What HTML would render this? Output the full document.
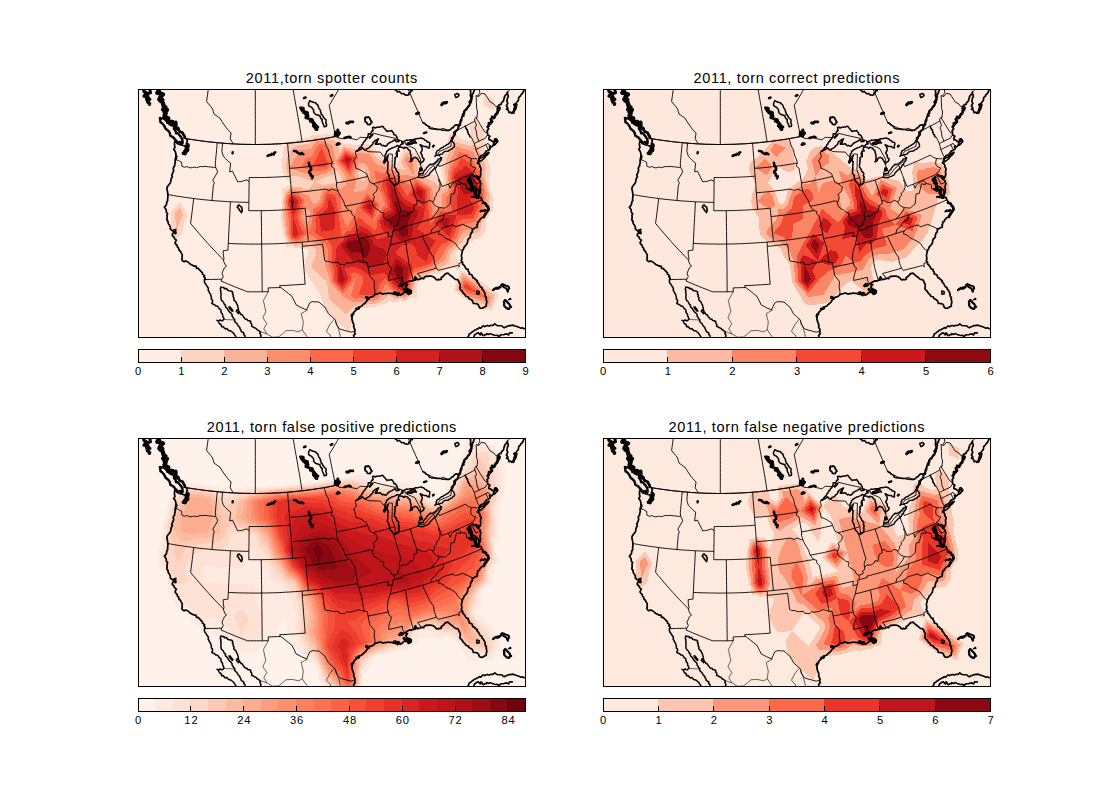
<!DOCTYPE html>
<html><head><meta charset="utf-8"><title>2011 torn</title><style>html,body{margin:0;padding:0;background:#fff}
body{width:1100px;height:800px;position:relative;overflow:hidden;font-family:"Liberation Sans",sans-serif;color:#000}
.ti{position:absolute;width:400px;text-align:center;font-size:14.5px;line-height:16px;white-space:nowrap}
.tk{position:absolute;width:40px;text-align:center;font-size:11.2px;line-height:11px}</style></head>
<body>
<svg width="1100" height="800" viewBox="0 0 1100 800" style="position:absolute;left:0;top:0">
<defs><clipPath id="axc"><rect x="602.50" y="88.90" width="387.50" height="248.40"/></clipPath>
</defs>
<g transform="translate(-465.00,0.00)">
<g clip-path="url(#axc)">
<rect x="601.50" y="87.90" width="389.50" height="250.40" fill="#ffece3"/>
<g shape-rendering="crispEdges"><path d="M936.7,303.5 L936.7,303.5 L918.8,290.4 L925.7,269.7 L946.1,281.4 L946.1,281.4 L963.5,294.2 L956.4,311.2 L936.7,303.5Z M804.6,323.6 L796.0,316.0 L796.0,316.0 L796.0,316.0 L788.9,306.3 L786.7,299.7 L784.5,293.0 L777.8,283.5 L777.8,283.5 L777.8,283.5 L777.8,283.5 L771.2,273.8 L769.2,267.2 L770.0,260.4 L774.6,249.8 L774.6,249.8 L774.6,249.8 L774.6,249.8 L774.6,249.8 L774.6,249.8 L763.0,248.0 L760.9,248.6 L756.9,246.4 L751.1,246.8 L750.7,239.6 L748.5,235.0 L748.4,232.6 L745.8,218.4 L745.8,218.4 L745.8,218.4 L746.8,203.9 L746.6,201.7 L747.5,197.9 L747.0,188.7 L756.1,184.5 L756.1,184.5 L756.1,184.5 L768.0,183.4 L768.0,183.4 L768.0,183.4 L768.0,183.4 L768.0,183.4 L768.0,183.4 L768.0,183.4 L756.1,184.5 L749.6,176.6 L747.1,168.4 L747.5,161.8 L747.3,158.5 L748.0,151.8 L749.4,146.2 L752.8,143.2 L757.0,141.1 L759.1,140.9 L763.4,139.4 L770.4,138.6 L774.1,138.1 L776.0,135.6 L784.4,134.4 L787.2,134.7 L792.5,133.8 L795.4,134.7 L801.3,136.3 L808.4,143.4 L808.4,143.4 L808.4,143.4 L808.4,143.4 L820.3,145.0 L823.6,144.7 L828.2,143.6 L831.6,143.5 L837.4,145.7 L842.0,152.2 L844.4,155.0 L847.3,156.5 L853.8,157.5 L862.0,163.8 L862.0,163.8 L862.0,163.8 L862.0,163.8 L862.0,163.8 L869.4,147.9 L885.1,155.7 L885.1,155.7 L891.1,171.7 L891.1,171.7 L891.1,171.7 L900.6,175.4 L909.3,183.1 L909.3,183.1 L909.3,183.1 L909.3,183.1 L909.3,183.1 L909.3,183.1 L909.3,183.1 L906.3,169.1 L906.9,165.5 L906.5,157.4 L910.1,151.7 L911.5,148.6 L913.5,143.9 L913.0,137.8 L915.4,133.5 L920.3,134.3 L924.7,138.6 L929.6,140.1 L932.9,141.0 L936.7,139.1 L935.8,133.0 L935.0,126.9 L937.2,122.4 L942.2,123.0 L946.9,127.0 L949.2,133.8 L949.6,145.5 L949.6,145.5 L949.6,145.5 L949.6,145.5 L952.1,158.3 L953.8,163.0 L955.7,171.9 L953.4,182.8 L953.4,182.8 L953.4,182.8 L953.4,182.8 L957.8,197.2 L957.7,200.2 L958.1,209.7 L953.2,216.7 L950.5,222.7 L950.5,231.2 L945.9,237.3 L941.3,239.1 L936.6,240.9 L932.0,242.6 L930.1,245.8 L920.0,253.1 L920.0,253.1 L920.0,253.1 L920.0,253.1 L920.0,253.1 L925.7,269.7 L914.2,267.3 L909.9,270.2 L907.2,271.9 L898.5,274.5 L895.8,275.9 L893.7,276.7 L882.0,282.6 L882.0,282.6 L882.0,282.6 L882.0,282.6 L882.1,296.6 L873.8,298.6 L870.9,301.0 L867.9,300.7 L858.4,302.7 L855.1,300.8 L852.2,303.3 L843.9,304.9 L840.7,306.5 L838.0,306.7 L828.4,308.3 L825.6,308.5 L822.7,308.9 L818.6,313.0 L818.1,320.1 L813.4,331.3 L804.6,323.6Z M636.3,234.8 L635.0,228.9 L636.4,220.6 L635.5,212.0 L645.6,202.3 L652.4,214.5 L649.1,222.5 L648.1,230.8 L645.1,236.1 L640.3,238.2 L636.3,234.8Z M791.7,180.3 L791.7,180.3 L803.5,178.3 L803.5,178.3 L803.5,178.3 L803.5,178.3 L803.5,178.3 L803.5,178.3 L791.7,180.3 L791.7,180.3 L791.7,180.3 L791.7,180.3 L791.7,180.3 L791.7,180.3Z M827.0,173.4 L827.0,173.4 L827.0,173.4 L827.0,173.4 L827.0,173.4 L827.0,173.4 L827.0,173.4 L827.0,173.4Z M948.8,105.7 L949.4,95.1 L959.2,99.3 L958.6,110.1 L948.8,105.7Z M955.0,306.9 L959.7,295.6 L948.1,287.1 L943.1,282.5 L926.8,273.1 L921.3,289.6 L935.6,300.1 L941.8,301.8 L955.0,306.9Z M811.1,314.1 L811.1,314.1 L819.1,306.0 L825.1,305.1 L830.6,304.8 L834.7,304.1 L840.2,303.7 L846.5,300.5 L848.2,300.2 L854.0,295.1 L860.4,299.1 L864.5,298.2 L870.4,298.9 L876.2,294.0 L877.9,293.6 L877.8,290.8 L880.0,283.1 L881.2,279.3 L884.3,278.0 L890.7,274.7 L895.0,273.1 L900.4,270.3 L903.3,269.4 L908.6,266.0 L913.7,262.5 L915.3,254.6 L917.0,251.2 L918.9,249.8 L922.7,245.9 L926.1,243.5 L930.0,237.1 L934.6,235.4 L939.1,233.6 L943.7,231.9 L946.0,228.8 L946.0,224.5 L951.5,212.7 L954.7,208.0 L954.4,201.7 L954.7,195.6 L952.2,187.7 L951.6,183.6 L950.7,181.5 L949.6,174.9 L950.7,169.5 L949.8,165.0 L947.4,158.4 L945.9,155.3 L943.8,148.4 L939.3,144.3 L935.5,146.2 L928.9,144.3 L919.1,141.3 L919.1,141.3 L919.1,141.3 L915.2,150.7 L912.4,157.0 L910.6,159.8 L910.8,163.9 L909.6,171.1 L910.9,177.1 L911.3,182.3 L911.6,184.5 L910.9,187.1 L907.5,189.0 L903.1,185.4 L898.8,181.9 L894.0,179.7 L885.1,173.8 L882.1,165.9 L881.3,157.1 L870.8,151.9 L865.9,162.5 L870.6,169.9 L863.7,169.1 L860.8,167.4 L856.2,165.5 L852.1,162.4 L848.8,161.9 L843.0,158.9 L838.2,153.3 L835.9,150.0 L833.0,148.9 L828.3,149.0 L826.4,148.7 L821.2,149.0 L813.3,148.0 L808.9,145.7 L804.5,152.7 L802.9,144.5 L799.4,141.0 L796.4,140.1 L790.6,138.4 L790.6,138.4 L784.9,137.7 L778.6,138.6 L774.8,143.6 L767.5,144.5 L763.9,144.9 L760.9,146.0 L753.5,151.4 L753.5,151.4 L751.2,163.4 L751.0,168.2 L752.2,172.2 L755.4,176.2 L761.4,175.7 L767.4,177.9 L770.4,178.9 L779.8,182.0 L779.8,182.0 L788.8,177.4 L791.2,177.0 L794.3,175.1 L799.3,174.2 L802.0,170.1 L807.4,177.6 L807.2,181.9 L804.5,183.8 L801.2,183.0 L795.3,184.0 L792.2,183.6 L789.0,185.5 L779.8,182.0 L781.9,198.5 L781.9,198.5 L781.9,198.5 L781.9,198.5 L781.9,198.5 L781.9,198.5 L781.9,198.5 L779.8,182.0 L773.5,189.4 L768.5,188.9 L765.9,186.9 L758.7,187.5 L756.3,186.8 L751.7,191.4 L749.9,192.2 L750.0,194.1 L748.1,201.6 L748.6,206.0 L748.0,215.2 L748.4,218.2 L748.6,221.6 L750.1,230.1 L750.4,234.8 L754.0,242.6 L760.7,246.2 L765.1,245.0 L770.8,245.9 L774.0,244.3 L776.9,246.2 L781.3,249.1 L780.7,256.0 L776.2,266.6 L776.2,266.6 L784.0,274.3 L792.1,282.0 L792.1,282.0 L792.1,282.0 L792.1,282.0 L794.1,298.9 L802.5,306.5 L811.1,314.1Z M902.8,203.9 L902.8,203.9 L902.8,203.9 L902.8,203.9 L902.8,203.9 L902.8,203.9 L902.8,203.9 L902.8,203.9Z M641.5,229.9 L648.2,213.9 L644.8,207.8 L639.7,212.6 L641.5,229.9Z M771.3,216.5 L771.3,216.5 L771.3,216.5 L771.3,216.5 L771.3,216.5 L771.3,216.5 L771.3,216.5 L771.3,216.5 L771.3,216.5Z M824.7,178.9 L823.1,174.3 L825.8,168.0 L829.0,168.7 L831.0,172.5 L831.0,176.8 L829.0,181.6 L824.7,178.9Z" fill="#fdd4c2" fill-rule="evenodd"/>
<path d="M941.8,301.8 L935.6,300.1 L921.3,289.6 L926.8,273.1 L943.1,282.5 L948.1,287.1 L959.7,295.6 L955.0,306.9 L941.8,301.8Z M802.5,306.5 L794.1,298.9 L792.1,282.0 L792.1,282.0 L792.1,282.0 L792.1,282.0 L784.0,274.3 L776.2,266.6 L776.2,266.6 L780.7,256.0 L781.3,249.1 L776.9,246.2 L774.0,244.3 L770.8,245.9 L765.1,245.0 L760.7,246.2 L754.0,242.6 L750.4,234.8 L750.1,230.1 L748.6,221.6 L748.4,218.2 L748.0,215.2 L748.6,206.0 L748.1,201.6 L750.0,194.1 L749.9,192.2 L751.7,191.4 L756.3,186.8 L758.7,187.5 L765.9,186.9 L768.5,188.9 L773.5,189.4 L779.8,182.0 L781.9,198.5 L781.9,198.5 L781.9,198.5 L781.9,198.5 L781.9,198.5 L781.9,198.5 L781.9,198.5 L779.8,182.0 L789.0,185.5 L792.2,183.6 L795.3,184.0 L801.2,183.0 L804.5,183.8 L807.2,181.9 L807.4,177.6 L802.0,170.1 L799.3,174.2 L794.3,175.1 L791.2,177.0 L788.8,177.4 L779.8,182.0 L779.8,182.0 L770.4,178.9 L767.4,177.9 L761.4,175.7 L755.4,176.2 L752.2,172.2 L751.0,168.2 L751.2,163.4 L753.5,151.4 L753.5,151.4 L760.9,146.0 L763.9,144.9 L767.5,144.5 L774.8,143.6 L778.6,138.6 L784.9,137.7 L790.6,138.4 L790.6,138.4 L796.4,140.1 L799.4,141.0 L802.9,144.5 L804.5,152.7 L808.9,145.7 L813.3,148.0 L821.2,149.0 L826.4,148.7 L828.3,149.0 L833.0,148.9 L835.9,150.0 L838.2,153.3 L843.0,158.9 L848.8,161.9 L852.1,162.4 L856.2,165.5 L860.8,167.4 L863.7,169.1 L870.6,169.9 L865.9,162.5 L870.8,151.9 L881.3,157.1 L882.1,165.9 L885.1,173.8 L894.0,179.7 L898.8,181.9 L903.1,185.4 L907.5,189.0 L910.9,187.1 L911.6,184.5 L911.3,182.3 L910.9,177.1 L909.6,171.1 L910.8,163.9 L910.6,159.8 L912.4,157.0 L915.2,150.7 L919.1,141.3 L919.1,141.3 L919.1,141.3 L928.9,144.3 L935.5,146.2 L939.3,144.3 L943.8,148.4 L945.9,155.3 L947.4,158.4 L949.8,165.0 L950.7,169.5 L949.6,174.9 L950.7,181.5 L951.6,183.6 L952.2,187.7 L954.7,195.6 L954.4,201.7 L954.7,208.0 L951.5,212.7 L946.0,224.5 L946.0,228.8 L943.7,231.9 L939.1,233.6 L934.6,235.4 L930.0,237.1 L926.1,243.5 L922.7,245.9 L918.9,249.8 L917.0,251.2 L915.3,254.6 L913.7,262.5 L908.6,266.0 L903.3,269.4 L900.4,270.3 L895.0,273.1 L890.7,274.7 L884.3,278.0 L881.2,279.3 L880.0,283.1 L877.8,290.8 L877.9,293.6 L876.2,294.0 L870.4,298.9 L864.5,298.2 L860.4,299.1 L854.0,295.1 L848.2,300.2 L846.5,300.5 L840.2,303.7 L834.7,304.1 L830.6,304.8 L825.1,305.1 L819.1,306.0 L811.1,314.1 L811.1,314.1 L802.5,306.5Z M902.8,203.9 L902.8,203.9 L902.8,203.9 L902.8,203.9 L902.8,203.9 L902.8,203.9 L902.8,203.9 L902.8,203.9Z M639.7,212.6 L644.8,207.8 L648.2,213.9 L641.5,229.9 L639.7,212.6Z M771.3,216.5 L771.3,216.5 L771.3,216.5 L771.3,216.5 L771.3,216.5 L771.3,216.5 L771.3,216.5 L771.3,216.5 L771.3,216.5Z M829.0,181.6 L831.0,176.8 L831.0,172.5 L829.0,168.7 L825.8,168.0 L823.1,174.3 L824.7,178.9 L829.0,181.6Z M953.5,302.6 L955.8,297.0 L950.0,292.7 L940.1,283.5 L927.9,276.4 L923.8,288.9 L934.5,296.7 L946.9,300.1 L953.5,302.6Z M824.6,301.7 L831.3,301.3 L832.7,301.3 L839.7,300.8 L845.3,298.0 L852.8,289.4 L852.8,289.4 L852.8,289.4 L852.8,289.4 L862.2,295.8 L869.9,296.8 L875.6,292.0 L877.9,283.6 L880.3,275.9 L886.5,273.4 L887.8,272.8 L894.2,270.3 L900.0,267.3 L902.9,264.7 L907.3,261.9 L909.9,260.1 L910.6,256.1 L914.0,249.4 L917.8,246.5 L922.7,241.5 L928.0,231.7 L928.0,231.7 L941.5,226.4 L941.5,226.4 L941.5,226.4 L949.7,208.7 L951.3,206.3 L951.2,203.2 L951.6,194.1 L951.1,192.5 L949.8,184.5 L948.1,180.1 L945.8,167.0 L945.8,167.0 L945.8,167.0 L938.1,151.4 L938.1,151.4 L928.1,148.5 L921.6,146.5 L918.9,152.8 L914.7,162.2 L914.7,162.2 L914.7,162.2 L912.7,173.0 L913.4,181.4 L914.0,185.8 L912.4,191.1 L907.2,194.1 L907.1,202.3 L907.6,206.8 L903.8,206.6 L900.4,210.8 L899.6,205.0 L897.0,187.8 L897.0,187.8 L879.1,176.0 L879.1,176.0 L879.1,176.0 L865.4,174.5 L859.6,170.9 L850.4,167.3 L850.4,167.3 L850.4,167.3 L850.4,167.3 L841.1,164.1 L834.5,154.3 L830.9,163.9 L834.9,171.5 L834.9,180.1 L834.9,180.1 L830.9,189.8 L847.2,203.2 L847.2,203.2 L847.2,203.2 L847.2,203.2 L847.2,203.2 L847.2,203.2 L847.2,203.2 L830.9,189.8 L830.9,189.8 L818.7,192.4 L818.7,192.4 L818.7,192.4 L811.0,185.4 L805.5,189.3 L799.0,187.6 L799.0,187.6 L792.7,186.9 L787.5,190.0 L785.0,198.1 L784.2,200.8 L782.5,202.7 L778.5,204.5 L775.8,199.2 L772.6,194.8 L769.1,194.4 L763.8,190.4 L761.4,190.6 L756.4,189.2 L751.5,194.1 L749.6,201.5 L750.4,208.1 L750.1,212.1 L750.9,218.1 L751.3,224.7 L751.9,227.6 L752.3,234.7 L755.2,240.9 L760.5,243.8 L767.1,242.1 L767.1,242.1 L773.5,238.7 L779.3,242.6 L788.1,248.4 L788.1,248.4 L788.1,248.4 L788.1,248.4 L788.1,248.4 L790.1,265.1 L790.1,265.1 L794.5,278.2 L794.5,281.7 L808.8,297.1 L808.8,297.1 L808.8,297.1 L818.6,302.6 L824.6,301.7Z M769.3,219.7 L768.1,216.8 L768.9,213.9 L770.5,208.2 L774.9,210.5 L774.5,216.1 L774.2,219.5 L772.1,224.8 L769.3,219.7Z M809.4,211.3 L809.4,211.3 L809.4,211.3 L809.4,211.3 L809.4,211.3 L809.4,211.3 L809.4,211.3 L809.4,211.3Z M818.7,192.4 L821.4,181.6 L819.2,175.2 L824.5,162.6 L830.9,163.9 L834.5,154.3 L824.8,152.9 L822.2,153.1 L818.3,152.6 L809.4,148.1 L800.5,162.0 L800.5,162.0 L811.4,176.8 L811.0,185.4 L818.7,192.4Z M879.1,176.0 L877.4,158.5 L872.2,155.9 L869.7,161.2 L879.1,176.0Z M766.8,172.4 L772.8,174.5 L779.1,176.5 L783.0,176.0 L786.0,174.4 L790.7,173.8 L795.7,170.6 L800.5,162.0 L800.5,162.0 L797.5,145.6 L789.2,141.4 L785.5,140.9 L781.2,141.6 L775.5,149.1 L775.5,149.1 L764.5,150.4 L764.5,150.4 L754.8,167.9 L766.8,172.4Z" fill="#fcb296" fill-rule="evenodd"/>
<path d="M946.9,300.1 L934.5,296.7 L923.8,288.9 L927.9,276.4 L940.1,283.5 L950.0,292.7 L955.8,297.0 L953.5,302.6 L946.9,300.1Z M818.6,302.6 L808.8,297.1 L808.8,297.1 L808.8,297.1 L794.5,281.7 L794.5,278.2 L790.1,265.1 L790.1,265.1 L788.1,248.4 L788.1,248.4 L788.1,248.4 L788.1,248.4 L788.1,248.4 L779.3,242.6 L773.5,238.7 L767.1,242.1 L767.1,242.1 L760.5,243.8 L755.2,240.9 L752.3,234.7 L751.9,227.6 L751.3,224.7 L750.9,218.1 L750.1,212.1 L750.4,208.1 L749.6,201.5 L751.5,194.1 L756.4,189.2 L761.4,190.6 L763.8,190.4 L769.1,194.4 L772.6,194.8 L775.8,199.2 L778.5,204.5 L782.5,202.7 L784.2,200.8 L785.0,198.1 L787.5,190.0 L792.7,186.9 L799.0,187.6 L799.0,187.6 L805.5,189.3 L811.0,185.4 L818.7,192.4 L818.7,192.4 L818.7,192.4 L830.9,189.8 L830.9,189.8 L847.2,203.2 L847.2,203.2 L847.2,203.2 L847.2,203.2 L847.2,203.2 L847.2,203.2 L847.2,203.2 L830.9,189.8 L834.9,180.1 L834.9,180.1 L834.9,171.5 L830.9,163.9 L834.5,154.3 L841.1,164.1 L850.4,167.3 L850.4,167.3 L850.4,167.3 L850.4,167.3 L859.6,170.9 L865.4,174.5 L879.1,176.0 L879.1,176.0 L879.1,176.0 L897.0,187.8 L897.0,187.8 L899.6,205.0 L900.4,210.8 L903.8,206.6 L907.6,206.8 L907.1,202.3 L907.2,194.1 L912.4,191.1 L914.0,185.8 L913.4,181.4 L912.7,173.0 L914.7,162.2 L914.7,162.2 L914.7,162.2 L918.9,152.8 L921.6,146.5 L928.1,148.5 L938.1,151.4 L938.1,151.4 L945.8,167.0 L945.8,167.0 L945.8,167.0 L948.1,180.1 L949.8,184.5 L951.1,192.5 L951.6,194.1 L951.2,203.2 L951.3,206.3 L949.7,208.7 L941.5,226.4 L941.5,226.4 L941.5,226.4 L928.0,231.7 L928.0,231.7 L922.7,241.5 L917.8,246.5 L914.0,249.4 L910.6,256.1 L909.9,260.1 L907.3,261.9 L902.9,264.7 L900.0,267.3 L894.2,270.3 L887.8,272.8 L886.5,273.4 L880.3,275.9 L877.9,283.6 L875.6,292.0 L869.9,296.8 L862.2,295.8 L852.8,289.4 L852.8,289.4 L852.8,289.4 L852.8,289.4 L845.3,298.0 L839.7,300.8 L832.7,301.3 L831.3,301.3 L824.6,301.7 L818.6,302.6Z M772.1,224.8 L774.2,219.5 L774.5,216.1 L774.9,210.5 L770.5,208.2 L768.9,213.9 L768.1,216.8 L769.3,219.7 L772.1,224.8Z M809.4,211.3 L809.4,211.3 L809.4,211.3 L809.4,211.3 L809.4,211.3 L809.4,211.3 L809.4,211.3 L809.4,211.3Z M811.0,185.4 L811.4,176.8 L800.5,162.0 L800.5,162.0 L809.4,148.1 L818.3,152.6 L822.2,153.1 L824.8,152.9 L834.5,154.3 L830.9,163.9 L824.5,162.6 L819.2,175.2 L821.4,181.6 L818.7,192.4 L811.0,185.4Z M869.7,161.2 L872.2,155.9 L877.4,158.5 L879.1,176.0 L869.7,161.2Z M754.8,167.9 L764.5,150.4 L764.5,150.4 L775.5,149.1 L775.5,149.1 L781.2,141.6 L785.5,140.9 L789.2,141.4 L797.5,145.6 L800.5,162.0 L800.5,162.0 L795.7,170.6 L790.7,173.8 L786.0,174.4 L783.0,176.0 L779.1,176.5 L772.8,174.5 L766.8,172.4 L754.8,167.9Z M933.4,293.3 L952.0,298.3 L937.2,284.5 L929.0,279.8 L926.2,288.1 L933.4,293.3Z M824.0,298.3 L827.4,298.1 L834.5,298.3 L839.2,298.0 L842.9,296.1 L847.9,290.4 L848.8,286.3 L851.6,283.8 L855.7,288.8 L863.3,293.9 L869.4,294.7 L873.9,290.8 L875.8,284.1 L879.4,272.5 L884.5,270.5 L888.3,269.4 L893.4,267.5 L897.3,265.5 L906.0,257.7 L906.0,257.7 L906.0,257.7 L906.0,257.7 L911.0,247.6 L916.6,243.2 L919.9,239.9 L923.4,233.3 L925.9,226.2 L934.9,222.7 L939.9,222.3 L948.0,204.6 L948.0,204.6 L948.0,204.6 L949.2,192.9 L948.0,185.3 L945.4,178.8 L944.4,173.2 L942.7,168.5 L939.2,163.7 L936.7,158.5 L932.3,154.2 L927.3,152.7 L924.0,151.8 L922.7,154.9 L920.6,159.6 L918.5,164.3 L916.4,166.2 L914.9,174.2 L915.4,180.6 L916.3,187.2 L914.0,195.1 L911.4,196.6 L911.3,200.8 L912.3,209.6 L904.8,209.3 L897.9,217.8 L896.4,206.1 L894.7,194.6 L894.5,188.6 L880.2,179.2 L875.7,186.0 L867.1,179.9 L867.1,179.9 L867.1,179.9 L858.4,174.4 L851.6,171.4 L848.0,173.8 L838.8,170.5 L843.0,186.8 L843.0,186.8 L843.0,186.8 L848.8,199.2 L849.7,202.5 L850.0,205.3 L848.0,206.4 L838.3,222.7 L838.3,222.7 L838.3,222.7 L838.3,222.7 L838.3,222.7 L822.0,208.9 L812.3,227.8 L812.3,227.8 L812.3,227.8 L812.3,227.8 L812.3,227.8 L812.3,227.8 L806.9,215.9 L806.2,211.8 L805.5,207.7 L806.5,194.8 L806.5,194.8 L797.4,190.6 L793.2,190.2 L789.7,192.3 L788.1,197.7 L786.4,203.1 L783.0,206.8 L778.2,209.0 L777.7,215.8 L777.1,222.6 L773.0,233.1 L773.0,233.1 L781.6,238.9 L787.4,242.8 L790.6,244.3 L792.6,247.8 L792.6,252.6 L793.5,259.8 L793.6,264.7 L796.9,274.5 L796.9,281.4 L808.3,293.7 L820.7,278.0 L820.7,278.0 L820.7,278.0 L820.7,278.0 L820.7,278.0 L820.7,278.0 L820.7,278.0 L816.1,296.0 L821.0,298.7 L824.0,298.3Z M760.3,241.4 L765.3,240.1 L773.0,233.1 L773.0,233.1 L767.2,223.0 L764.9,217.1 L766.6,211.3 L769.6,199.9 L769.6,199.9 L762.2,193.2 L756.6,191.5 L752.7,195.5 L751.2,201.4 L752.0,209.2 L752.5,210.6 L753.5,217.9 L753.9,224.6 L753.7,227.5 L754.2,234.6 L756.3,239.3 L760.3,241.4Z M838.3,222.7 L844.7,203.8 L831.6,193.1 L822.0,208.9 L838.3,222.7Z M778.4,171.0 L782.3,170.5 L785.5,171.1 L790.1,170.5 L793.5,168.3 L796.7,162.6 L793.5,154.7 L792.0,146.5 L787.9,144.4 L786.0,144.2 L783.9,144.5 L781.0,148.3 L776.6,157.3 L771.1,158.0 L766.3,166.9 L775.3,170.0 L778.4,171.0Z M815.3,176.1 L823.2,157.2 L809.9,150.4 L802.8,161.5 L815.3,176.1Z" fill="#fc8e6e" fill-rule="evenodd"/>
<path d="M926.2,288.1 L929.0,279.8 L937.2,284.5 L952.0,298.3 L933.4,293.3 L926.2,288.1Z M821.0,298.7 L816.1,296.0 L820.7,278.0 L820.7,278.0 L820.7,278.0 L820.7,278.0 L820.7,278.0 L820.7,278.0 L820.7,278.0 L808.3,293.7 L796.9,281.4 L796.9,274.5 L793.6,264.7 L793.5,259.8 L792.6,252.6 L792.6,247.8 L790.6,244.3 L787.4,242.8 L781.6,238.9 L773.0,233.1 L773.0,233.1 L777.1,222.6 L777.7,215.8 L778.2,209.0 L783.0,206.8 L786.4,203.1 L788.1,197.7 L789.7,192.3 L793.2,190.2 L797.4,190.6 L806.5,194.8 L806.5,194.8 L805.5,207.7 L806.2,211.8 L806.9,215.9 L812.3,227.8 L812.3,227.8 L812.3,227.8 L812.3,227.8 L812.3,227.8 L812.3,227.8 L822.0,208.9 L838.3,222.7 L838.3,222.7 L838.3,222.7 L838.3,222.7 L838.3,222.7 L848.0,206.4 L850.0,205.3 L849.7,202.5 L848.8,199.2 L843.0,186.8 L843.0,186.8 L843.0,186.8 L838.8,170.5 L848.0,173.8 L851.6,171.4 L858.4,174.4 L867.1,179.9 L867.1,179.9 L867.1,179.9 L875.7,186.0 L880.2,179.2 L894.5,188.6 L894.7,194.6 L896.4,206.1 L897.9,217.8 L904.8,209.3 L912.3,209.6 L911.3,200.8 L911.4,196.6 L914.0,195.1 L916.3,187.2 L915.4,180.6 L914.9,174.2 L916.4,166.2 L918.5,164.3 L920.6,159.6 L922.7,154.9 L924.0,151.8 L927.3,152.7 L932.3,154.2 L936.7,158.5 L939.2,163.7 L942.7,168.5 L944.4,173.2 L945.4,178.8 L948.0,185.3 L949.2,192.9 L948.0,204.6 L948.0,204.6 L948.0,204.6 L939.9,222.3 L934.9,222.7 L925.9,226.2 L923.4,233.3 L919.9,239.9 L916.6,243.2 L911.0,247.6 L906.0,257.7 L906.0,257.7 L906.0,257.7 L906.0,257.7 L897.3,265.5 L893.4,267.5 L888.3,269.4 L884.5,270.5 L879.4,272.5 L875.8,284.1 L873.9,290.8 L869.4,294.7 L863.3,293.9 L855.7,288.8 L851.6,283.8 L848.8,286.3 L847.9,290.4 L842.9,296.1 L839.2,298.0 L834.5,298.3 L827.4,298.1 L824.0,298.3 L821.0,298.7Z M756.3,239.3 L754.2,234.6 L753.7,227.5 L753.9,224.6 L753.5,217.9 L752.5,210.6 L752.0,209.2 L751.2,201.4 L752.7,195.5 L756.6,191.5 L762.2,193.2 L769.6,199.9 L769.6,199.9 L766.6,211.3 L764.9,217.1 L767.2,223.0 L773.0,233.1 L773.0,233.1 L765.3,240.1 L760.3,241.4 L756.3,239.3Z M822.0,208.9 L831.6,193.1 L844.7,203.8 L838.3,222.7 L822.0,208.9Z M775.3,170.0 L766.3,166.9 L771.1,158.0 L776.6,157.3 L781.0,148.3 L783.9,144.5 L786.0,144.2 L787.9,144.4 L792.0,146.5 L793.5,154.7 L796.7,162.6 L793.5,168.3 L790.1,170.5 L785.5,171.1 L782.3,170.5 L778.4,171.0 L775.3,170.0Z M802.8,161.5 L809.9,150.4 L823.2,157.2 L815.3,176.1 L802.8,161.5Z M932.3,289.9 L941.6,292.4 L934.2,285.5 L930.1,283.2 L928.7,287.3 L932.3,289.9Z M838.7,295.2 L840.5,294.2 L843.0,291.4 L844.8,283.2 L850.4,278.2 L858.7,288.1 L864.3,292.0 L868.9,292.6 L872.3,289.7 L873.7,284.7 L878.5,269.2 L881.1,268.2 L890.1,265.7 L892.6,264.7 L894.6,263.7 L898.9,259.8 L900.5,254.2 L903.3,249.4 L906.2,244.5 L912.0,242.6 L915.5,239.9 L917.1,238.2 L918.9,234.9 L923.9,220.8 L928.4,219.0 L938.2,218.3 L943.6,206.5 L941.4,201.1 L946.2,200.6 L947.1,191.8 L946.2,186.1 L943.2,178.6 L942.3,177.2 L939.7,169.9 L935.5,164.2 L926.4,157.0 L926.4,157.0 L922.2,166.4 L918.1,170.1 L917.1,175.5 L917.4,179.8 L918.7,188.6 L918.7,188.6 L915.6,199.2 L915.6,199.2 L917.1,212.5 L905.7,212.1 L895.4,224.7 L895.4,224.7 L895.4,224.7 L895.4,224.7 L895.4,224.7 L895.4,224.7 L895.4,224.7 L893.2,207.2 L892.4,201.5 L892.0,189.5 L881.3,182.4 L872.2,196.1 L872.2,196.1 L872.2,196.1 L872.2,196.1 L872.2,196.1 L865.3,184.9 L863.1,181.1 L857.3,177.4 L852.8,175.4 L848.5,178.3 L847.0,185.7 L848.5,191.2 L850.4,195.3 L852.2,201.8 L852.9,207.5 L848.8,209.7 L841.6,221.9 L842.6,226.0 L840.2,230.9 L836.4,226.5 L831.8,224.0 L823.7,217.1 L818.8,226.6 L815.5,230.7 L812.8,231.1 L806.9,237.2 L805.7,228.9 L804.4,220.6 L804.4,220.6 L803.0,212.3 L801.7,204.1 L801.7,204.1 L800.3,195.8 L795.8,193.7 L793.7,193.5 L792.0,194.5 L791.1,197.2 L788.7,205.4 L783.5,210.9 L781.1,212.0 L780.8,215.4 L780.4,221.1 L781.1,226.6 L779.5,232.4 L783.8,235.3 L786.8,237.3 L793.1,240.2 L797.1,247.2 L797.1,254.0 L796.9,256.7 L797.1,264.2 L799.3,270.8 L799.3,281.1 L807.8,290.3 L817.1,278.5 L815.2,273.1 L819.8,272.4 L823.2,273.7 L827.9,276.7 L827.6,283.7 L823.5,294.9 L823.5,294.9 L836.3,295.3 L838.7,295.2Z M873.3,249.2 L873.3,249.2 L873.3,249.2 L873.3,249.2 L873.3,249.2 L873.3,249.2 L873.3,249.2 L873.3,249.2Z M760.2,239.0 L763.5,238.2 L768.6,233.5 L765.0,226.4 L764.2,223.8 L761.8,217.3 L764.2,208.8 L764.2,208.8 L766.6,200.2 L760.9,195.1 L756.8,193.9 L753.8,196.9 L752.7,201.3 L753.4,207.1 L755.5,214.1 L756.0,217.8 L756.2,221.1 L755.8,229.7 L756.1,234.5 L757.5,237.6 L760.2,239.0Z M837.4,218.5 L842.2,204.4 L832.4,196.3 L825.2,208.2 L837.4,218.5Z M789.6,167.2 L791.3,166.1 L792.9,163.2 L786.5,147.5 L777.7,165.5 L787.3,167.5 L789.6,167.2Z M814.4,172.0 L820.4,157.8 L810.4,152.7 L805.1,161.1 L814.4,172.0Z" fill="#fb694a" fill-rule="evenodd"/>
<path d="M928.7,287.3 L930.1,283.2 L934.2,285.5 L941.6,292.4 L932.3,289.9 L928.7,287.3Z M836.3,295.3 L823.5,294.9 L823.5,294.9 L827.6,283.7 L827.9,276.7 L823.2,273.7 L819.8,272.4 L815.2,273.1 L817.1,278.5 L807.8,290.3 L799.3,281.1 L799.3,270.8 L797.1,264.2 L796.9,256.7 L797.1,254.0 L797.1,247.2 L793.1,240.2 L786.8,237.3 L783.8,235.3 L779.5,232.4 L781.1,226.6 L780.4,221.1 L780.8,215.4 L781.1,212.0 L783.5,210.9 L788.7,205.4 L791.1,197.2 L792.0,194.5 L793.7,193.5 L795.8,193.7 L800.3,195.8 L801.7,204.1 L801.7,204.1 L803.0,212.3 L804.4,220.6 L804.4,220.6 L805.7,228.9 L806.9,237.2 L812.8,231.1 L815.5,230.7 L818.8,226.6 L823.7,217.1 L831.8,224.0 L836.4,226.5 L840.2,230.9 L842.6,226.0 L841.6,221.9 L848.8,209.7 L852.9,207.5 L852.2,201.8 L850.4,195.3 L848.5,191.2 L847.0,185.7 L848.5,178.3 L852.8,175.4 L857.3,177.4 L863.1,181.1 L865.3,184.9 L872.2,196.1 L872.2,196.1 L872.2,196.1 L872.2,196.1 L872.2,196.1 L881.3,182.4 L892.0,189.5 L892.4,201.5 L893.2,207.2 L895.4,224.7 L895.4,224.7 L895.4,224.7 L895.4,224.7 L895.4,224.7 L895.4,224.7 L895.4,224.7 L905.7,212.1 L917.1,212.5 L915.6,199.2 L915.6,199.2 L918.7,188.6 L918.7,188.6 L917.4,179.8 L917.1,175.5 L918.1,170.1 L922.2,166.4 L926.4,157.0 L926.4,157.0 L935.5,164.2 L939.7,169.9 L942.3,177.2 L943.2,178.6 L946.2,186.1 L947.1,191.8 L946.2,200.6 L941.4,201.1 L943.6,206.5 L938.2,218.3 L928.4,219.0 L923.9,220.8 L918.9,234.9 L917.1,238.2 L915.5,239.9 L912.0,242.6 L906.2,244.5 L903.3,249.4 L900.5,254.2 L898.9,259.8 L894.6,263.7 L892.6,264.7 L890.1,265.7 L881.1,268.2 L878.5,269.2 L873.7,284.7 L872.3,289.7 L868.9,292.6 L864.3,292.0 L858.7,288.1 L850.4,278.2 L844.8,283.2 L843.0,291.4 L840.5,294.2 L838.7,295.2 L836.3,295.3Z M873.3,249.2 L873.3,249.2 L873.3,249.2 L873.3,249.2 L873.3,249.2 L873.3,249.2 L873.3,249.2 L873.3,249.2Z M757.5,237.6 L756.1,234.5 L755.8,229.7 L756.2,221.1 L756.0,217.8 L755.5,214.1 L753.4,207.1 L752.7,201.3 L753.8,196.9 L756.8,193.9 L760.9,195.1 L766.6,200.2 L764.2,208.8 L764.2,208.8 L761.8,217.3 L764.2,223.8 L765.0,226.4 L768.6,233.5 L763.5,238.2 L760.2,239.0 L757.5,237.6Z M825.2,208.2 L832.4,196.3 L842.2,204.4 L837.4,218.5 L825.2,208.2Z M787.3,167.5 L777.7,165.5 L786.5,147.5 L792.9,163.2 L791.3,166.1 L789.6,167.2 L787.3,167.5Z M805.1,161.1 L810.4,152.7 L820.4,157.8 L814.4,172.0 L805.1,161.1Z M868.4,290.4 L870.7,288.5 L871.6,285.2 L877.7,265.8 L877.7,265.8 L859.5,252.7 L849.2,272.6 L849.2,272.6 L861.6,287.5 L865.4,290.0 L868.4,290.4Z M807.4,286.9 L813.6,279.0 L809.6,268.2 L818.9,266.8 L825.7,269.4 L835.0,275.4 L835.0,275.4 L835.0,275.4 L849.2,272.6 L849.2,272.6 L859.5,252.7 L859.5,252.7 L855.4,236.1 L842.0,239.2 L842.0,239.2 L842.0,239.2 L842.0,239.2 L834.4,230.4 L825.3,225.4 L818.8,233.5 L813.4,234.5 L801.6,246.6 L801.6,246.6 L801.6,246.6 L800.4,260.0 L800.5,263.8 L801.6,267.0 L801.6,280.7 L807.4,286.9Z M891.8,261.9 L894.5,250.3 L900.7,241.1 L891.3,235.0 L882.1,228.8 L882.1,228.8 L882.1,228.8 L882.1,228.8 L882.1,228.8 L882.1,228.8 L888.0,219.8 L890.0,208.3 L890.0,208.3 L873.9,201.6 L870.7,200.1 L868.0,197.3 L863.4,189.9 L859.1,182.3 L856.2,180.5 L853.9,179.5 L851.8,180.9 L851.1,184.6 L852.5,190.1 L852.9,194.6 L854.7,201.1 L855.7,209.7 L849.7,213.0 L844.8,221.1 L846.8,229.4 L855.4,236.1 L855.4,236.1 L855.4,236.1 L855.4,236.1 L859.5,252.7 L867.2,244.8 L872.1,245.0 L875.9,243.3 L880.1,247.2 L882.4,255.6 L891.8,261.9Z M914.4,236.6 L921.8,215.4 L906.7,214.8 L899.8,223.2 L914.4,236.6Z M936.6,214.2 L939.3,208.3 L934.8,197.6 L944.4,196.6 L945.0,190.8 L944.4,187.0 L942.4,182.0 L938.0,175.0 L936.7,171.3 L934.6,168.5 L930.1,164.9 L927.3,169.2 L923.2,171.0 L919.8,174.1 L919.3,176.8 L919.5,178.9 L920.1,183.3 L923.5,191.3 L921.9,196.6 L921.8,215.4 L921.8,215.4 L936.6,214.2Z M760.0,236.7 L761.6,236.2 L764.2,233.9 L762.4,230.3 L758.6,217.6 L757.8,232.0 L757.9,234.4 L758.7,235.9 L760.0,236.7Z M799.2,229.9 L799.2,229.9 L800.5,217.0 L799.9,212.8 L799.2,208.7 L794.2,196.8 L792.4,209.1 L784.0,215.1 L784.0,215.1 L786.1,231.7 L799.2,229.9Z M836.5,214.4 L839.7,205.0 L833.1,199.6 L828.3,207.5 L836.5,214.4Z M890.0,208.3 L889.6,190.4 L882.4,185.7 L876.3,194.8 L890.0,208.3Z M758.6,217.6 L761.9,206.2 L763.5,200.5 L759.7,197.1 L757.0,196.3 L755.0,198.3 L754.3,201.2 L754.7,205.1 L758.6,217.6Z M813.6,167.9 L817.5,158.4 L810.9,155.0 L807.3,160.6 L813.6,167.9Z" fill="#f0402f" fill-rule="evenodd"/>
<path d="M865.4,290.0 L861.6,287.5 L849.2,272.6 L849.2,272.6 L859.5,252.7 L877.7,265.8 L877.7,265.8 L871.6,285.2 L870.7,288.5 L868.4,290.4 L865.4,290.0Z M801.6,280.7 L801.6,267.0 L800.5,263.8 L800.4,260.0 L801.6,246.6 L801.6,246.6 L801.6,246.6 L813.4,234.5 L818.8,233.5 L825.3,225.4 L834.4,230.4 L842.0,239.2 L842.0,239.2 L842.0,239.2 L842.0,239.2 L855.4,236.1 L859.5,252.7 L859.5,252.7 L849.2,272.6 L849.2,272.6 L835.0,275.4 L835.0,275.4 L835.0,275.4 L825.7,269.4 L818.9,266.8 L809.6,268.2 L813.6,279.0 L807.4,286.9 L801.6,280.7Z M882.4,255.6 L880.1,247.2 L875.9,243.3 L872.1,245.0 L867.2,244.8 L859.5,252.7 L855.4,236.1 L855.4,236.1 L855.4,236.1 L855.4,236.1 L846.8,229.4 L844.8,221.1 L849.7,213.0 L855.7,209.7 L854.7,201.1 L852.9,194.6 L852.5,190.1 L851.1,184.6 L851.8,180.9 L853.9,179.5 L856.2,180.5 L859.1,182.3 L863.4,189.9 L868.0,197.3 L870.7,200.1 L873.9,201.6 L890.0,208.3 L890.0,208.3 L888.0,219.8 L882.1,228.8 L882.1,228.8 L882.1,228.8 L882.1,228.8 L882.1,228.8 L882.1,228.8 L891.3,235.0 L900.7,241.1 L894.5,250.3 L891.8,261.9 L882.4,255.6Z M899.8,223.2 L906.7,214.8 L921.8,215.4 L914.4,236.6 L899.8,223.2Z M921.8,215.4 L921.8,215.4 L921.9,196.6 L923.5,191.3 L920.1,183.3 L919.5,178.9 L919.3,176.8 L919.8,174.1 L923.2,171.0 L927.3,169.2 L930.1,164.9 L934.6,168.5 L936.7,171.3 L938.0,175.0 L942.4,182.0 L944.4,187.0 L945.0,190.8 L944.4,196.6 L934.8,197.6 L939.3,208.3 L936.6,214.2 L921.8,215.4Z M758.7,235.9 L757.9,234.4 L757.8,232.0 L758.6,217.6 L762.4,230.3 L764.2,233.9 L761.6,236.2 L760.0,236.7 L758.7,235.9Z M786.1,231.7 L784.0,215.1 L784.0,215.1 L792.4,209.1 L794.2,196.8 L799.2,208.7 L799.9,212.8 L800.5,217.0 L799.2,229.9 L799.2,229.9 L786.1,231.7Z M828.3,207.5 L833.1,199.6 L839.7,205.0 L836.5,214.4 L828.3,207.5Z M876.3,194.8 L882.4,185.7 L889.6,190.4 L890.0,208.3 L876.3,194.8Z M754.7,205.1 L754.3,201.2 L755.0,198.3 L757.0,196.3 L759.7,197.1 L763.5,200.5 L761.9,206.2 L758.6,217.6 L754.7,205.1Z M807.3,160.6 L810.9,155.0 L817.5,158.4 L813.6,167.9 L807.3,160.6Z M867.9,288.3 L869.1,287.4 L869.5,285.7 L872.6,276.0 L872.9,267.0 L860.8,258.2 L854.0,271.5 L858.3,279.4 L864.5,286.8 L866.4,288.1 L867.9,288.3Z M806.9,283.5 L810.0,279.6 L804.0,263.3 L804.0,280.4 L806.9,283.5Z M833.4,267.1 L840.4,265.6 L840.4,265.6 L847.5,264.2 L852.6,254.3 L849.0,249.2 L843.8,247.5 L839.2,244.8 L837.5,240.1 L832.5,234.3 L826.4,230.9 L822.1,236.3 L814.0,237.8 L806.1,245.9 L817.9,261.2 L817.9,261.2 L817.9,261.2 L828.7,264.2 L833.4,267.1Z M871.0,240.9 L876.8,238.3 L877.7,230.1 L877.6,225.7 L879.7,220.6 L882.3,215.9 L883.6,210.4 L875.5,207.0 L869.1,204.1 L863.9,198.6 L861.6,194.8 L855.1,183.5 L856.3,197.2 L857.2,200.5 L858.6,211.8 L850.5,216.3 L848.1,220.3 L849.1,224.5 L853.4,227.8 L857.7,231.1 L859.9,234.9 L865.1,240.6 L871.0,240.9Z M911.5,228.4 L915.2,217.8 L907.7,217.5 L904.2,221.7 L911.5,228.4Z M942.6,192.6 L942.9,189.7 L942.6,187.8 L941.6,185.3 L933.7,172.7 L933.7,172.7 L921.5,178.1 L928.3,194.1 L928.3,194.1 L942.6,192.6Z M835.6,210.3 L837.1,205.6 L833.9,202.9 L831.5,206.9 L835.6,210.3Z M887.3,200.2 L887.1,191.2 L883.5,188.9 L880.5,193.4 L887.3,200.2Z M758.0,209.3 L759.6,203.6 L760.4,200.7 L758.5,199.1 L757.2,198.6 L756.2,199.6 L755.8,201.1 L756.0,203.1 L758.0,209.3Z M812.7,163.8 L814.7,159.1 L811.4,157.4 L809.6,160.2 L812.7,163.8Z" fill="#d32020" fill-rule="evenodd"/>
<path d="M866.4,288.1 L864.5,286.8 L858.3,279.4 L854.0,271.5 L860.8,258.2 L872.9,267.0 L872.6,276.0 L869.5,285.7 L869.1,287.4 L867.9,288.3 L866.4,288.1Z M804.0,280.4 L804.0,263.3 L810.0,279.6 L806.9,283.5 L804.0,280.4Z M828.7,264.2 L817.9,261.2 L817.9,261.2 L817.9,261.2 L806.1,245.9 L814.0,237.8 L822.1,236.3 L826.4,230.9 L832.5,234.3 L837.5,240.1 L839.2,244.8 L843.8,247.5 L849.0,249.2 L852.6,254.3 L847.5,264.2 L840.4,265.6 L840.4,265.6 L833.4,267.1 L828.7,264.2Z M865.1,240.6 L859.9,234.9 L857.7,231.1 L853.4,227.8 L849.1,224.5 L848.1,220.3 L850.5,216.3 L858.6,211.8 L857.2,200.5 L856.3,197.2 L855.1,183.5 L861.6,194.8 L863.9,198.6 L869.1,204.1 L875.5,207.0 L883.6,210.4 L882.3,215.9 L879.7,220.6 L877.6,225.7 L877.7,230.1 L876.8,238.3 L871.0,240.9 L865.1,240.6Z M904.2,221.7 L907.7,217.5 L915.2,217.8 L911.5,228.4 L904.2,221.7Z M928.3,194.1 L928.3,194.1 L921.5,178.1 L933.7,172.7 L933.7,172.7 L941.6,185.3 L942.6,187.8 L942.9,189.7 L942.6,192.6 L928.3,194.1Z M831.5,206.9 L833.9,202.9 L837.1,205.6 L835.6,210.3 L831.5,206.9Z M880.5,193.4 L883.5,188.9 L887.1,191.2 L887.3,200.2 L880.5,193.4Z M756.0,203.1 L755.8,201.1 L756.2,199.6 L757.2,198.6 L758.5,199.1 L760.4,200.7 L759.6,203.6 L758.0,209.3 L756.0,203.1Z M809.6,160.2 L811.4,157.4 L814.7,159.1 L812.7,163.8 L809.6,160.2Z M867.4,286.2 L868.2,268.2 L862.1,263.8 L858.7,270.4 L867.4,286.2Z M816.5,252.8 L823.3,251.6 L831.8,258.7 L835.3,247.5 L833.1,241.1 L830.5,238.1 L827.5,236.5 L825.3,239.2 L814.5,241.1 L810.6,245.2 L816.5,252.8Z M869.9,236.8 L872.8,235.4 L873.2,231.3 L873.1,222.5 L873.1,222.5 L877.2,212.4 L867.0,209.5 L859.7,199.8 L861.4,214.0 L851.3,219.6 L860.0,226.1 L860.0,226.1 L864.3,233.8 L867.0,236.6 L869.9,236.8Z" fill="#b11218" fill-rule="evenodd"/>
<path d="M858.7,270.4 L862.1,263.8 L868.2,268.2 L867.4,286.2 L858.7,270.4Z M810.6,245.2 L814.5,241.1 L825.3,239.2 L827.5,236.5 L830.5,238.1 L833.1,241.1 L835.3,247.5 L831.8,258.7 L823.3,251.6 L816.5,252.8 L810.6,245.2Z M867.0,236.6 L864.3,233.8 L860.0,226.1 L860.0,226.1 L851.3,219.6 L861.4,214.0 L859.7,199.8 L867.0,209.5 L877.2,212.4 L873.1,222.5 L873.1,222.5 L873.2,231.3 L872.8,235.4 L869.9,236.8 L867.0,236.6Z" fill="#820711" fill-rule="evenodd"/></g>
<g><path d="M648.4,138.1 L650.9,138.5 L653.5,139.0 L656.0,139.4 L658.6,139.8 L661.1,140.2 L663.7,140.5 L666.2,140.9 L668.9,141.2 L671.6,141.6 L674.3,141.9 L676.9,142.2 L679.6,142.4 L682.3,142.7 L684.6,142.9 L687.0,143.1 L689.3,143.3 L691.6,143.5 L694.0,143.6 L696.3,143.8 L698.7,143.9 L701.4,144.0 L704.1,144.2 L706.8,144.3 L709.5,144.3 L712.2,144.4 L714.9,144.4 L717.6,144.5 L720.3,144.5 L723.1,144.5 L725.8,144.4 L728.5,144.4 L731.2,144.3 L733.9,144.3 L736.6,144.2 L739.3,144.0 L741.9,143.9 L744.6,143.8 L747.2,143.6 L749.9,143.4 L752.6,143.2 L754.9,143.0 L757.3,142.8 L759.6,142.6 L762.0,142.3 L764.3,142.1 L766.7,141.8 L769.0,141.6 L771.7,141.2 L774.4,140.9 L777.1,140.5 L779.8,140.1 L782.5,139.7 L785.2,139.3 L787.8,138.9 L790.3,138.4 L792.9,138.0 L795.4,137.5 L797.9,137.0 L800.5,136.5 M640.3,159.9 L641.8,160.1 L643.4,160.4 L644.9,161.5 L646.6,162.2 L646.8,164.4 L646.8,166.1 L649.3,167.3 L651.7,166.6 L653.7,167.3 L655.6,167.9 L657.5,167.5 L659.3,167.1 L661.5,167.7 L663.4,167.1 L665.2,166.5 L666.9,166.6 L668.7,166.7 L668.8,166.3 L671.2,166.5 L673.5,166.8 L675.9,167.0 L678.3,167.3 L680.6,167.5 M682.3,142.7 L681.9,146.2 L681.6,149.8 L681.3,153.3 L680.9,156.9 L680.6,160.4 L680.2,164.0 L680.7,166.1 L680.6,167.5 M680.6,167.5 L681.7,169.2 L682.7,171.8 L681.5,174.0 L680.2,176.2 L677.8,180.1 L678.6,181.9 L679.4,182.8 L678.3,185.6 L678.0,189.3 L677.7,193.0 L677.3,196.8 L677.0,200.5 M632.9,194.6 L635.6,195.0 L638.3,195.5 L641.1,196.0 L643.8,196.4 L646.5,196.8 L649.5,197.3 L652.6,197.7 L655.7,198.1 L658.7,198.5 L661.8,198.9 L664.8,199.3 L667.9,199.6 L670.9,199.9 L674.0,200.2 L677.0,200.5 L680.1,200.8 L683.1,201.0 L686.2,201.2 L689.3,201.4 L692.4,201.6 L695.4,201.8 L698.5,201.9 L701.6,202.0 L704.6,202.2 L707.7,202.2 L710.8,202.3 L713.9,202.4 M658.7,198.5 L658.2,202.7 L657.7,206.8 L657.2,210.9 L656.7,215.1 L656.1,219.2 L655.6,223.4 L658.4,226.8 L661.3,230.2 L664.1,233.5 L667.0,236.9 L670.0,240.2 L673.0,243.6 L676.0,246.9 L679.1,250.2 L682.2,253.4 L685.3,256.7 L688.5,260.0 M695.4,201.8 L695.2,205.9 L695.0,210.1 L694.8,214.2 L694.6,218.4 L694.3,222.5 L694.1,226.7 L693.9,230.9 L693.7,235.0 L693.5,239.2 L693.3,243.4 M693.3,243.4 L693.1,246.8 L693.0,250.1 L690.6,250.4 L688.2,250.7 L688.3,254.9 L689.0,258.7 L688.5,260.0 M688.5,260.0 L688.8,261.7 L690.0,264.7 L691.6,266.0 L689.4,267.8 L688.2,270.6 L687.0,273.4 L688.3,276.6 L686.8,279.1 M687.6,143.2 L687.2,147.3 L686.9,151.4 L687.6,153.9 L688.4,156.3 L690.4,158.4 L692.4,160.5 L694.0,161.9 L695.7,163.2 L695.3,166.1 L695.0,169.0 L694.6,171.8 L697.5,171.2 L698.8,173.9 L700.2,176.7 L701.4,179.2 L702.6,181.8 L704.5,181.6 L706.5,181.5 L709.1,180.7 L711.8,179.9 L714.1,181.6 M714.2,177.5 L714.1,181.6 L714.1,185.8 L714.0,189.9 L714.0,194.1 L713.9,198.2 L713.9,202.4 L713.8,206.5 L713.8,210.7 M714.2,177.5 L716.7,177.5 L719.3,177.5 L721.8,177.5 L724.4,177.5 L726.9,177.5 L729.5,177.5 L732.0,177.4 L734.9,177.3 L737.8,177.2 L740.7,177.1 L743.6,176.9 L746.5,176.8 L749.4,176.6 L752.3,176.4 L755.1,176.2 M752.6,143.2 L752.9,146.8 L753.1,150.4 L753.4,154.0 L753.7,157.6 L754.0,161.2 L754.3,164.8 L754.5,168.4 L754.8,172.3 L755.1,176.2 L755.5,180.3 L755.8,184.5 L756.1,188.6 L756.4,192.8 L756.7,196.9 L757.0,201.0 L757.3,205.2 L757.6,209.3 M713.8,210.7 L716.9,210.7 L720.0,210.7 L723.2,210.7 L726.3,210.7 L729.0,210.6 L731.8,210.6 L734.5,210.5 L737.2,210.4 L740.0,210.3 L742.7,210.2 L745.4,210.1 L748.5,209.9 L751.5,209.7 L754.6,209.5 L757.6,209.3 L760.8,209.1 L763.9,208.8 L767.0,208.5 L770.2,208.2 M726.3,210.7 L726.3,214.8 L726.4,219.0 L726.4,223.2 L726.5,227.3 L726.5,231.5 L726.6,235.7 L726.6,239.8 L726.7,244.0 L726.7,248.0 L726.8,251.9 L726.8,255.9 L726.9,259.9 L726.9,263.8 L727.0,267.8 L727.0,271.8 L727.0,275.8 L727.1,279.8 L727.1,283.8 L727.2,287.8 L727.2,291.8 M693.3,243.4 L696.2,243.5 L699.1,243.7 L702.0,243.8 L704.9,243.9 L707.8,243.9 L710.7,244.0 L713.7,244.0 L716.9,244.1 L720.2,244.1 L723.4,244.1 L726.7,244.0 L729.6,244.0 L732.5,243.9 L735.4,243.9 L738.3,243.8 L741.2,243.7 L744.2,243.6 L747.1,243.4 L750.4,243.2 L753.7,243.1 L757.1,242.8 L760.4,242.6 L763.8,242.4 L767.1,242.1 L770.3,241.8 L773.4,241.5 L776.3,241.2 L779.2,240.9 L782.1,240.6 L785.0,240.3 L788.0,239.9 L790.9,239.6 L793.8,239.2 L797.1,238.7 L800.4,238.2 L803.7,237.7 L807.1,237.2 L810.4,236.7 L813.5,236.2 L816.6,235.6 L819.7,235.1 L822.8,234.5 M770.2,208.2 L770.6,212.4 L771.0,216.5 L771.4,220.7 L771.8,224.8 L772.2,229.0 L772.6,233.2 L773.0,237.3 L773.4,241.5 M771.0,216.5 L773.8,216.3 L776.5,216.0 L779.3,215.6 L782.1,215.3 L784.8,215.0 L787.6,214.6 L790.4,214.2 L793.5,213.8 L796.7,213.3 L799.9,212.8 L803.1,212.3 L805.7,211.9 L808.4,211.4 L811.1,211.0 L813.8,210.5 M767.1,242.1 L767.4,246.3 L767.2,246.3 L767.5,250.5 L767.9,254.7 L768.2,258.9 L768.5,263.1 L768.8,267.3 L769.2,271.5 L769.5,275.7 L769.8,279.9 L770.2,284.1 L767.0,284.4 L763.8,284.6 L760.6,284.8 L757.4,285.0 L754.2,285.2 L751.0,285.4 L747.8,285.5 L744.6,285.7 L745.3,287.5 M767.4,246.3 L770.8,246.0 L774.2,245.7 L777.5,245.3 L780.9,245.0 L784.2,244.6 L787.6,244.2 L788.1,248.2 L788.6,252.3 L789.1,256.4 L789.6,260.4 L791.8,261.5 L795.3,261.7 L797.2,262.5 L799.7,262.6 L803.2,262.3 L804.5,264.3 L807.2,264.4 L809.9,264.6 L811.7,262.6 L814.0,263.3 L816.8,262.7 L819.5,262.2 L821.5,261.4 L823.6,260.6 L826.3,261.5 L829.0,262.3 M829.0,262.3 L828.4,258.6 L827.8,254.9 L827.2,251.2 L826.6,247.5 L825.6,244.6 L824.6,241.6 L823.6,238.6 L822.8,234.5 M822.8,234.5 L822.2,231.0 L821.5,227.4 L820.9,223.9 L820.2,220.4 L819.6,216.9 L816.7,213.8 L816.7,211.4 L813.8,210.5 M813.8,210.5 L811.9,208.3 L810.1,206.0 L809.3,203.6 L808.6,201.2 L806.3,197.4 L804.0,193.5 L803.0,191.2 M803.0,191.2 L801.3,190.6 L799.4,189.9 L797.4,189.1 L795.6,189.8 L793.8,190.4 L791.9,189.7 L789.9,189.0 L786.9,189.5 L783.9,189.9 L780.9,190.3 L777.9,190.6 L774.9,191.0 L772.2,191.3 L769.6,191.6 L766.9,191.8 L764.3,192.1 L761.7,192.3 L759.0,192.5 L756.4,192.8 M803.0,191.2 L802.3,188.7 L801.5,186.3 L801.6,182.9 L800.9,179.2 L800.3,175.5 L799.6,171.8 L799.0,168.2 L796.2,166.1 L797.3,163.0 M754.5,168.4 L757.1,168.2 L759.7,168.0 L762.3,167.8 L764.9,167.5 L767.5,167.3 L770.0,167.0 L772.6,166.7 L775.2,166.4 L777.8,166.0 L780.6,165.7 L783.4,165.3 L786.1,164.9 L788.9,164.4 L791.7,164.0 L794.5,163.5 L797.3,163.0 M797.3,163.0 L796.7,160.1 L795.7,157.8 L794.7,155.4 L794.0,152.5 L793.4,149.7 L792.1,147.4 L790.9,145.1 L790.1,141.8 L789.3,138.6 M801.6,182.9 L804.5,182.4 L807.4,181.9 L810.3,181.3 L813.2,180.7 L816.1,180.1 L818.9,179.6 L821.6,179.0 L824.4,178.4 L827.1,177.7 L829.9,177.1 L832.6,176.4 M810.0,206.2 L812.8,205.7 L815.7,205.2 L818.5,204.6 L821.3,204.1 L824.2,203.5 L826.9,202.8 L829.7,202.2 L832.4,201.5 L835.2,200.8 L837.5,202.2 M823.6,238.6 L826.5,238.1 L829.3,237.5 L832.1,237.0 L834.9,236.4 L837.8,235.8 L840.9,235.1 L844.0,234.4 L847.2,233.7 L850.3,232.9 L853.4,232.2 L852.9,236.7 L855.2,236.1 L857.4,235.6 M833.1,267.1 L835.8,266.6 L838.5,266.0 L841.2,265.5 L843.9,264.9 L847.1,264.3 L850.2,263.6 L853.3,262.9 M833.1,267.1 L832.7,264.8 L832.2,262.5 L829.0,262.3 M833.1,267.1 L833.9,271.3 L834.7,275.5 L837.1,278.5 L839.5,281.6 L839.3,284.7 L839.2,287.7 L840.0,291.1 L839.7,294.7 M867.4,277.3 L864.0,278.1 L860.6,278.9 L857.1,279.7 L853.7,280.4 M853.7,280.4 L853.9,276.9 L854.3,275.0 L855.8,270.3 L856.4,267.9 L854.2,266.2 L853.3,262.9 M853.3,262.9 L852.3,259.6 L852.6,256.0 L852.9,252.5 L854.2,247.8 L855.4,244.9 M855.4,244.9 L856.0,241.2 L856.6,238.0 L857.4,235.6 L857.9,233.3 L857.6,231.1 L859.4,229.4 L859.0,226.4 M859.0,226.4 L856.0,224.5 L855.4,222.0 L852.5,220.2 L849.6,218.3 L848.3,216.8 L848.8,214.5 L848.8,212.8 L846.2,212.6 L844.4,210.8 L841.6,208.9 L838.8,207.0 L837.4,203.8 L837.5,202.2 M837.5,202.2 L838.9,199.1 L839.2,196.4 L837.8,194.6 L839.8,192.8 L841.8,191.0 L842.3,187.9 L841.5,185.9 L838.1,183.7 M838.1,183.7 L835.0,182.3 L833.8,179.6 L832.6,176.4 M832.6,176.4 L831.5,173.7 L829.2,172.3 L827.1,170.9 L824.2,169.4 L821.0,168.4 L820.6,166.1 L820.2,163.9 L818.7,160.8 L820.0,158.8 L821.3,156.7 L820.8,154.4 L820.2,152.1 L821.7,151.5 M867.4,277.3 L867.4,280.4 L870.0,284.0 M869.7,241.2 L870.6,241.9 L871.3,246.1 L871.9,250.4 L872.6,254.7 L873.3,259.0 L873.9,263.2 L874.6,267.5 L875.5,270.7 L876.5,274.0 L877.4,277.2 L878.4,280.4 M887.3,236.2 L888.9,239.6 L890.5,242.9 L892.2,246.3 L893.8,249.6 L895.5,253.0 L897.0,255.1 L898.5,257.2 L899.0,260.3 L899.5,263.3 L900.5,265.7 L901.4,268.2 M901.4,268.2 L898.3,269.1 L895.2,270.0 L892.1,270.9 L889.0,271.8 L885.9,272.6 L882.7,273.4 L883.1,274.7 L885.0,276.0 L885.4,279.0 M901.4,268.2 L903.2,270.4 L906.4,269.6 L909.6,268.8 L912.9,268.0 L916.1,267.2 L919.3,266.3 L922.5,265.5 L924.3,266.8 L923.9,263.3 L927.6,262.4 M855.4,244.9 L858.3,244.2 L861.1,243.5 L864.0,242.7 L866.8,242.0 L869.7,241.2 L872.6,240.4 L875.5,239.6 L878.5,238.8 L881.4,238.0 L884.3,237.1 L887.3,236.2 L890.2,235.4 L893.0,234.5 L895.9,233.6 L898.6,232.7 L901.4,231.8 L904.1,230.9 M858.3,231.0 L861.2,230.2 L864.2,229.4 L867.2,228.6 L866.8,227.1 L869.6,226.5 L872.3,225.7 L875.1,225.0 L877.8,224.3 L880.5,223.6 L883.6,222.7 L886.7,221.8 L889.8,220.9 L892.8,220.0 L895.9,219.1 L899.2,218.0 L902.5,216.9 L905.7,215.8 L909.0,214.6 M895.9,233.6 L896.7,229.7 L898.3,228.4 L899.9,227.1 L901.4,224.9 L902.8,222.7 L904.5,221.2 L906.3,220.3 L908.0,219.5 L909.0,214.6 M909.0,214.6 L912.0,213.6 L914.9,212.6 L917.8,211.6 L920.8,210.5 L923.7,209.4 L926.6,208.4 L929.5,207.2 L932.4,206.0 L935.3,204.8 L938.2,203.6 L941.1,202.4 L944.0,201.1 L946.8,199.8 M904.1,230.9 L906.4,229.2 L908.6,227.5 L911.5,226.7 L914.5,225.8 L917.4,224.9 L917.7,225.7 L918.4,225.0 L920.2,226.9 L922.7,226.0 L925.2,225.2 L927.7,224.3 L931.2,225.9 L934.7,227.5 L938.2,229.0 M904.1,230.9 L903.3,233.9 L907.0,235.0 L910.8,238.3 L913.4,239.4 L916.1,240.6 L920.7,243.6 L922.5,246.7 L925.7,250.2 L927.8,250.1 M895.9,219.1 L897.5,217.4 L899.0,215.8 L900.9,213.3 L902.8,210.8 L904.4,207.6 M904.4,207.6 L907.3,207.9 L910.2,208.1 L912.7,206.0 L915.2,203.9 L915.6,199.2 L915.8,196.5 L916.1,193.9 L919.2,193.5 L920.1,189.9 L920.8,186.8 L921.4,183.8 L923.5,184.2 L925.5,184.6 L925.5,182.8 M904.4,207.6 L900.7,206.1 L898.4,203.7 L897.9,201.9 M897.9,201.9 L899.8,199.5 L899.2,197.9 L901.5,195.3 L901.2,193.5 L903.7,190.8 L905.0,187.5 L905.0,182.9 L903.4,180.0 L904.1,179.2 M897.9,201.9 L894.4,200.3 L892.5,201.4 L890.6,202.5 L888.6,202.4 L886.6,202.3 L883.9,200.4 L881.9,201.1 M881.9,201.1 L882.2,203.9 L880.6,204.7 L878.9,205.6 L878.7,209.3 L877.8,212.2 L874.9,211.8 L874.1,214.0 L872.4,215.1 L870.6,216.2 L867.0,215.9 L865.1,217.9 L864.4,217.9 M864.4,217.9 L864.8,220.4 L862.7,221.9 L863.1,224.7 L861.0,225.5 L859.0,226.4 M864.4,217.9 L864.2,214.4 L865.9,209.5 L865.0,206.9 L864.2,204.3 L863.0,200.3 L861.9,196.4 L860.8,192.5 L859.6,188.6 L858.5,184.6 M881.9,201.1 L880.8,197.6 L879.6,194.1 L878.5,190.5 L877.4,187.0 L876.2,183.5 L875.1,180.0 M862.8,183.4 L865.3,182.7 L867.7,182.1 L870.2,181.4 L872.6,180.7 L875.1,180.0 L877.8,179.0 L880.5,178.0 L883.2,177.0 M904.1,179.2 L902.7,175.6 L901.3,172.0 L899.9,168.4 L898.9,165.8 M904.1,179.2 L905.5,182.9 L907.0,186.6 L909.1,185.8 L911.2,184.9 L913.4,184.1 L916.4,182.8 L919.5,181.6 L922.5,180.3 L925.5,179.0 L928.1,177.9 L930.8,176.7 L933.4,175.6 L936.0,174.4 M913.4,184.1 L914.2,186.1 L915.0,188.2 L916.5,185.1 L918.3,183.2 L920.1,182.4 L921.4,181.2 L923.9,180.8 L925.5,182.8 M925.5,182.8 L927.7,183.9 L930.6,184.3 L931.5,185.1 L931.6,188.9 L933.8,188.9 L936.6,189.6 L939.3,190.3 M936.0,174.4 L937.7,177.6 L939.4,180.9 L941.1,184.1 L943.1,183.2 L945.2,182.3 M936.0,174.4 L936.7,173.0 L937.9,172.7 M937.9,172.7 L939.3,170.6 L940.7,168.0 L937.9,166.9 L936.1,165.4 L935.6,162.7 L936.5,158.5 M936.5,158.5 L939.5,158.7 L942.5,158.9 M936.5,158.5 L933.5,157.5 L930.2,155.2 L927.7,156.4 L925.2,157.5 L922.7,158.7 L920.2,159.8 L917.7,160.9 L915.0,162.1 L912.4,163.2 L909.7,164.4 L907.0,165.5 L904.4,166.6 L903.5,164.4 M944.0,158.2 L944.2,156.1 L943.4,155.5 L942.1,152.6 L940.8,149.6 L940.1,146.5 L939.3,143.5 L937.8,140.3 L936.3,137.2 L935.2,137.3 L934.2,134.9 L933.1,132.5 L931.5,129.4 L929.9,126.3 M940.8,149.6 L943.3,148.4 L945.7,147.2 L948.2,146.0 L950.7,144.7 L953.1,143.4 L953.6,144.4 L955.5,145.5 L956.7,146.6 M950.7,144.7 L952.0,147.1 L953.2,149.5 L953.3,150.3 M939.3,143.5 L941.7,142.3 L944.0,141.2 L946.2,140.1 L948.5,139.1 L950.7,137.9 L950.8,137.5 L951.7,135.7 L952.7,135.2 M944.0,141.2 L943.0,138.9 L942.0,136.7 L941.6,133.4 L941.1,130.2 L940.0,127.9 L941.5,125.1 L939.9,121.0 M952.5,133.3 L949.7,131.8 L947.5,128.2 L945.3,124.6 L943.1,121.0 L940.9,117.4 M830.9,150.3 L833.0,151.7 L835.1,151.7 L837.2,151.8 L839.2,151.9 L842.3,152.0 L845.4,152.1 L846.9,154.1 L848.4,156.1 L850.1,157.7 M838.1,183.7 L840.6,183.1 L843.0,182.5 L845.5,181.8 L847.9,181.1 L850.3,180.5 L852.7,179.8 L855.1,179.1 L857.5,178.4 L859.8,177.7 M850.1,157.7 L852.0,155.8 L853.9,153.9 L855.7,154.1 L857.4,154.2 L857.3,158.4 L857.2,162.6 L857.1,166.2 L856.9,169.8 L858.3,173.8 L859.8,177.7 L860.2,180.9 L860.5,184.1 L858.5,184.6 M860.5,184.1 L862.8,183.4 M698.3,143.9 L696.7,141.3 L695.2,138.7 L695.6,135.9 L696.1,133.0 L694.3,131.2 L692.6,129.4 L691.0,127.3 L689.3,125.0 L687.0,121.5 L684.8,118.0 L682.8,116.7 L680.9,115.4 L679.1,114.1 L678.3,111.5 L677.6,108.9 L675.6,106.4 L673.6,104.0 L671.6,101.5 L672.1,97.8 L672.6,94.2 L673.1,90.6 L673.6,87.0 L674.1,83.4 M720.3,144.5 L720.3,140.3 L720.3,136.2 L720.3,132.1 L720.3,128.0 L720.3,123.8 L720.3,119.7 L720.3,115.6 L720.3,111.4 L720.3,107.3 L720.3,103.2 L720.3,99.0 L720.3,94.9 L720.3,90.7 L720.3,86.6 M767.1,141.8 L766.4,137.7 L765.8,133.6 L765.1,129.5 L764.5,125.4 L763.7,121.3 L763.0,117.3 L762.3,113.2 L761.6,109.1 L760.9,105.3 L760.2,101.5 L759.5,97.6 L758.9,93.8 L758.2,90.0 L757.5,86.2 L757.2,82.9 L756.8,79.6 L756.4,76.3 M799.9,133.4 L799.1,129.4 L798.3,125.4 L797.4,121.4 L796.6,117.4 L795.8,113.3 L795.0,109.3 L794.2,105.3 L795.9,102.6 L797.6,99.8 L799.2,97.0 L800.9,94.2 L802.5,91.4 L804.0,88.6 L805.6,85.8 L807.0,82.9 L808.4,80.0 L809.8,77.1 L811.1,74.2 L812.5,71.3 L813.7,68.3 L815.0,65.4 M865.4,72.0 L867.2,75.9 L868.9,79.7 L870.6,83.6 L872.3,87.5 L874.1,91.4 L875.8,95.2 L877.4,99.1 L879.1,102.9 L880.8,106.8 L882.5,110.6 L884.1,114.5 L885.8,118.3 L887.5,122.2 L890.0,123.4 L893.0,125.9 L896.5,127.4 L900.0,128.8 L902.5,129.1 L904.9,129.4 L906.6,128.9 L908.3,128.3 L912.5,130.2 L915.6,129.6 L917.4,127.8 L919.2,126.0 L922.0,124.8 L923.7,127.6 L923.5,129.1 M942.7,96.2 L943.8,94.2 L944.8,92.3 L944.2,89.1 L945.4,87.8 L946.7,86.5 L948.7,85.7 L950.6,85.0 L952.6,82.6 M974.5,89.6 L973.7,91.2" fill="none" stroke="#000" stroke-width="0.9" stroke-linejoin="round"/>
<path d="M688.9,319.5 L692.3,319.6 L695.7,319.8 L699.1,319.9 M733.3,291.7 L731.7,294.6 L730.1,297.6 L728.4,300.5 L729.2,304.2 L730.0,307.9 L730.8,311.6 L729.3,314.6 L727.9,317.6 L729.8,320.6 L731.8,323.6 L730.3,326.2 L728.8,328.8 L730.3,331.3 L731.9,333.9 M724.6,331.4 L728.2,332.6 L731.9,333.9 M731.9,333.9 L734.7,335.5 L737.4,337.2 L740.5,337.1 L743.6,337.0 L745.7,339.6 L747.7,342.1 L745.9,345.2 L744.0,348.3 L747.3,351.2 L750.5,354.1 L752.3,357.1 L754.0,360.1 L755.7,362.6 L757.5,365.2 M743.6,337.0 L747.4,333.9 L751.1,330.7 L754.2,330.6 L757.3,330.4 L760.4,331.1 L763.5,331.8 L767.3,329.8 M767.3,329.8 L767.8,325.9 L768.3,322.0 L767.2,317.7 L766.2,313.5 L769.4,311.8 L772.7,310.0 M767.3,329.8 L769.8,333.5 L772.4,337.2 L774.6,340.1 L776.8,343.0 L778.2,345.5 L779.6,348.0 L783.4,346.4 L787.2,344.7 M799.4,319.1 L797.0,321.9 L794.7,324.8 L793.1,328.0 L791.4,331.2 L793.6,333.6 L795.9,336.0 L794.2,338.8 L792.5,341.6 L795.1,343.9 L791.2,344.3 L787.2,344.7 M800.9,321.5 L802.3,325.7 L803.8,329.9 L804.6,333.3 L805.4,336.7 L804.2,339.9 L803.0,343.1 L802.2,346.7 L801.4,350.3 L802.6,353.7 L803.8,357.1 L800.5,357.4 M787.2,344.7 L786.0,348.3 L784.7,351.9 L782.1,354.4 L779.5,356.8 L776.3,357.0 L773.1,357.2 L769.9,357.5 L768.2,362.0 L766.4,366.4 M795.1,343.9 L796.5,347.3 L797.8,350.7 L799.2,354.0 L800.5,357.4 L804.8,359.2 L809.1,360.9" fill="none" stroke="#000" stroke-width="0.6" stroke-linejoin="round"/>
<path d="M648.4,138.1 L650.9,138.5 L653.5,139.0 L656.0,139.4 L658.6,139.8 L661.1,140.2 L663.7,140.5 L666.2,140.9 L668.9,141.2 L671.6,141.6 L674.3,141.9 L676.9,142.2 L679.6,142.4 L682.3,142.7 L684.6,142.9 L687.0,143.1 L689.3,143.3 L691.6,143.5 L694.0,143.6 L696.3,143.8 L698.7,143.9 L701.4,144.0 L704.1,144.2 L706.8,144.3 L709.5,144.3 L712.2,144.4 L714.9,144.4 L717.6,144.5 L720.3,144.5 L723.1,144.5 L725.8,144.4 L728.5,144.4 L731.2,144.3 L733.9,144.3 L736.6,144.2 L739.3,144.0 L741.9,143.9 L744.6,143.8 L747.2,143.6 L749.9,143.4 L752.6,143.2 L754.9,143.0 L757.3,142.8 L759.6,142.6 L762.0,142.3 L764.3,142.1 L766.7,141.8 L769.0,141.6 L771.7,141.2 L774.4,140.9 L777.1,140.5 L779.8,140.1 L782.5,139.7 L785.2,139.3 L787.8,138.9 L790.3,138.4 L792.9,138.0 L795.4,137.5 L797.9,137.0 L800.5,136.5 L799.9,133.4 L801.7,133.6 L802.9,136.0 L803.9,138.2 L806.2,138.5 L808.5,138.7 L810.6,137.9 L812.7,137.2 L814.6,137.9 L816.4,138.6 L819.2,139.2 L821.9,139.8 L823.6,138.5 L825.3,137.3 L827.6,137.4 L829.9,137.5 L832.3,137.5 L833.7,137.4 L836.0,135.3 L838.3,133.2 L841.5,134.0 L844.6,134.8 L847.8,135.6 L851.1,136.3 L854.3,137.0 L857.5,137.7 L860.8,138.4 L863.7,141.4 L866.0,140.1 L868.0,143.0 L871.0,142.8 L870.7,144.6 L873.7,145.9 L876.8,147.3 L879.8,148.6 L881.7,152.2 L883.6,155.7 L885.5,159.2 L885.6,161.9 L885.6,164.6 L886.3,168.0 L884.9,170.6 L883.7,171.7 L884.2,173.8 L885.1,175.2 L887.4,175.2 L889.6,175.2 L891.4,172.9 L893.2,170.7 L894.9,168.4 L897.1,166.7 L899.2,164.9 L901.3,163.2 L903.1,161.4 L904.8,159.7 L906.5,158.0 L905.7,158.1 L904.3,154.8 L902.9,153.7 L905.1,151.1 L907.9,149.9 L910.6,148.7 L913.3,147.5 L916.0,146.3 L916.2,141.7 L917.8,138.6 L918.9,135.8 L919.9,133.0 L921.2,131.5 L922.6,130.1 L925.0,128.8 L927.5,127.6 L929.9,126.3 L932.4,125.0 L934.9,123.7 L937.5,122.3 L939.9,121.0 L939.6,119.1 L940.9,117.4 L942.4,117.1 L942.0,115.8 L942.6,112.0 L941.6,108.5 L941.6,106.0 L941.4,102.5 L941.3,99.0 L941.1,95.5 L942.7,96.2 L943.9,96.5 L945.1,94.9 L946.2,93.4 L950.1,94.0 L951.8,96.7 L953.6,99.5 L955.4,102.2 L958.7,103.8 L960.8,106.6 L962.4,106.1 L965.0,108.1 M669.6,279.6 L673.0,279.5 L676.5,279.4 L679.9,279.4 L683.4,279.3 L686.8,279.1 L686.0,281.0 L689.3,282.4 L692.6,283.8 L695.9,285.2 L699.2,286.5 L702.5,287.9 L705.9,289.2 L709.2,290.5 L712.6,291.8 L715.5,291.8 L718.4,291.8 L721.4,291.8 L724.3,291.8 L727.2,291.8 L730.3,291.7 L733.3,291.7 L733.2,287.9 L736.3,287.8 L739.3,287.7 L742.3,287.6 L745.3,287.5 L746.4,287.9 L749.9,290.7 L753.4,293.5 L756.9,296.3 L758.1,298.7 L759.4,301.1 L761.1,304.8 L763.8,306.3 L766.5,307.7 L769.0,308.8 L771.5,309.9 L773.1,306.5 L774.6,303.1 L777.2,301.7 L780.6,301.8 L783.9,302.0 L786.9,304.6 L789.9,307.1 L791.7,310.4 L793.4,313.7 L796.8,316.7 L800.3,319.8 L801.2,324.1 L802.8,326.5 L804.5,328.9 L808.1,330.0 L811.8,331.0 L814.0,331.6 L816.3,332.2 L820.0,330.7" fill="none" stroke="#000" stroke-width="0.9" stroke-linejoin="round"/>
<path d="M612.5,77.5 L612.8,78.9 L614.5,79.3 L615.7,79.9 L616.1,80.8 L617.2,82.4 L618.4,82.9 L619.7,83.6 L620.4,85.0 L621.5,85.5 L622.8,86.8 L622.6,88.2 L622.9,89.1 L622.3,91.0 L623.3,92.2 L624.7,93.9 L625.1,94.7 L626.2,96.5 L626.5,97.2 L626.0,99.1 L627.1,100.7 L626.9,101.8 L628.5,102.9 L629.4,103.9 L629.5,105.9 L630.0,108.0 L628.5,109.2 L629.3,111.0 L628.9,112.4 L629.0,113.7 L629.3,115.3 L630.6,115.5 L631.5,118.1 L632.3,118.6 L633.3,119.6 L634.2,121.4 L635.9,121.6 L637.0,122.5 L638.0,123.2 L639.6,123.7 L640.1,125.0 L640.9,126.4 L641.3,126.8 L642.1,128.4 L643.6,129.9 L644.5,130.6 L645.7,132.1 L647.1,132.6 L648.1,134.2 L649.5,135.7 L649.6,137.9 L651.3,138.6 L652.4,140.9 L651.5,143.3 L652.1,144.5 L652.7,146.4 L651.6,147.5 L651.9,149.4 L651.7,150.5 L650.5,151.5 L650.7,153.2 L649.1,153.5 L648.0,154.0 L648.5,152.8 L649.6,151.0 L650.7,149.3 L651.0,147.8 L649.9,145.8 L648.0,145.5 L647.0,144.9 L645.5,144.8 L644.0,144.3 L642.3,143.4 L641.5,141.8 L639.8,141.7 L639.4,143.2 L639.6,144.4 L639.5,145.7 L640.0,147.4 L638.7,149.5 L639.9,150.9 L640.6,152.5 L641.0,154.5 L640.9,156.6 L640.9,158.3 L640.2,159.7 L640.0,160.9 L640.3,162.8 L639.7,164.3 L639.6,166.1 L638.6,167.3 L638.2,168.5 L638.7,170.1 L638.2,171.9 L637.6,173.3 L636.7,175.0 L637.4,176.8 L636.4,178.2 L636.0,179.7 L635.7,181.9 L635.1,183.1 L634.5,184.1 L633.4,185.3 L632.1,187.3 L631.9,189.2 L632.4,191.1 L632.7,193.0 L632.9,194.6 L632.9,196.7 L632.6,198.6 L632.7,200.5 L631.7,202.2 L631.6,204.1 L630.8,205.7 L629.4,207.2 L630.3,208.5 L631.0,209.3 L631.3,211.3 L631.4,212.3 L632.7,213.8 L631.9,215.2 L632.2,216.9 L632.1,218.0 L631.8,219.9 L633.0,221.4 L633.2,223.5 L633.9,224.4 L634.5,225.3 L635.3,226.8 L635.3,229.0 L636.3,229.8 L638.0,231.1 L639.5,230.1 L640.9,229.4 L639.4,230.6 L639.7,232.3 L638.4,232.9 L637.6,233.6 L637.2,235.2 L637.9,236.2 L639.1,237.2 L639.5,238.6 L641.4,240.1 L640.5,241.7 L640.0,243.0 L641.3,244.7 L642.3,245.7 L642.4,247.1 L643.6,248.2 L644.1,250.3 L645.4,251.2 L646.0,252.6 L647.3,254.9 L647.1,256.7 L647.3,258.0 L646.7,259.5 L647.8,261.0 L649.1,261.7 L650.7,260.9 L651.9,261.5 L653.0,262.0 L654.6,263.5 L655.9,264.5 L657.0,265.1 L658.9,266.1 L661.0,266.0 L661.5,268.4 L663.3,268.4 L664.2,269.6 L665.6,270.8 L666.2,271.7 L667.5,272.8 L667.4,274.1 L669.6,275.6 L668.9,276.8 L670.2,278.1 L669.6,279.6 M820.5,370.1 L820.8,369.0 L820.4,367.0 L819.6,365.7 L819.1,364.0 L819.5,362.9 L819.4,361.4 L819.7,359.9 L819.2,358.7 L818.4,357.4 L818.2,355.4 L818.2,353.9 L817.8,352.7 L817.3,351.5 L817.5,349.6 L817.8,348.3 L817.9,346.9 L817.5,345.1 L817.5,343.9 L817.5,342.4 L818.8,341.1 L818.6,339.8 L819.5,338.9 L818.9,336.7 L818.6,335.3 L820.3,333.8 L819.6,332.5 L820.0,330.7 L819.9,329.3 L819.2,328.4 L818.6,326.7 L818.9,325.3 L818.5,323.7 L817.9,322.8 L817.5,321.1 L816.9,319.4 L817.1,317.8 L816.8,316.7 L817.4,315.0 L818.7,313.9 L818.4,312.8 L819.9,311.1 L821.4,309.9 L822.6,308.9 L824.0,308.6 L824.6,306.9 L826.1,306.2 L827.1,305.9 L827.9,304.7 L828.9,304.1 L830.1,302.9 L831.2,301.8 L832.2,300.1 L833.2,298.9 L835.2,297.2 L836.6,297.1 L838.6,295.9 L839.7,294.7 L841.6,293.9 L843.2,293.6 L844.4,293.2 L845.8,293.0 L848.0,294.2 L849.1,293.7 L851.2,293.6 L852.8,293.0 L855.2,293.4 L856.2,293.4 L858.3,293.9 L859.2,294.3 L861.2,294.1 L862.6,295.7 L863.8,294.3 L865.4,295.3 L867.0,294.3 L868.4,292.8 L869.5,291.9 L870.8,292.5 L872.3,292.5 L873.9,294.0 L875.7,293.2 L876.4,291.2 L875.5,290.3 L874.1,289.4 L872.8,289.4 L871.5,288.2 L870.6,286.4 L871.8,285.7 L872.4,284.6 L870.0,284.0 L871.9,282.3 L873.0,281.9 L874.6,280.9 L876.3,281.1 L878.4,280.4 L880.6,279.9 L879.4,278.5 L880.5,276.7 L881.6,278.8 L882.5,279.8 L883.6,279.3 L885.4,279.0 L887.1,278.1 L888.7,278.7 L889.3,277.2 L891.0,276.2 L892.0,276.3 L893.8,276.1 L895.9,276.2 L897.7,276.5 L898.5,277.0 L900.0,277.9 L900.9,279.2 L902.1,280.0 L903.6,279.4 L904.8,279.8 L906.4,279.3 L906.2,277.6 L907.8,276.7 L908.7,275.6 L909.8,274.5 L910.9,273.5 L913.0,273.2 L914.3,274.3 L915.4,275.4 L916.9,276.5 L917.8,277.2 L919.2,278.3 L920.5,279.5 L922.4,279.6 L923.4,280.5 L924.0,282.2 L925.0,283.9 L925.3,285.4 L925.1,286.9 L925.0,287.9 L925.1,289.4 L926.4,290.4 L927.6,291.9 L928.3,293.3 L929.8,294.4 L930.4,295.6 L931.4,296.5 L933.2,296.9 L933.8,298.3 L935.3,299.3 L936.9,300.1 L937.8,301.5 L938.4,303.4 L939.8,303.5 L941.0,303.7 L942.4,304.0 L943.4,304.9 L943.7,306.0 L944.5,307.5 L945.5,308.2 L947.1,308.3 L948.7,307.6 L949.7,306.9 L951.3,306.2 L951.3,303.8 L951.8,302.7 L951.6,300.4 L951.1,299.1 L951.4,297.5 L950.3,296.6 L950.0,294.8 L950.0,293.3 L949.2,291.8 L948.3,290.1 L947.2,289.3 L947.0,287.8 L945.3,286.5 L944.7,285.7 L944.1,284.4 L943.4,283.3 L941.9,281.7 L942.3,280.7 L940.5,279.6 L939.3,278.1 L938.2,278.0 L937.5,276.9 L937.3,275.4 L936.1,274.5 L934.2,274.0 L934.3,272.4 L933.2,271.2 L933.2,269.4 L931.4,269.1 L930.7,268.0 L929.7,266.2 L928.8,264.9 L927.7,264.3 L927.6,262.4 L926.2,260.8 L926.8,259.1 L926.8,257.8 L926.5,256.4 L926.4,255.0 L926.9,253.5 L927.2,251.4 L927.8,250.1 L928.5,249.1 L929.1,247.2 L929.9,246.4 L931.0,245.0 L932.2,243.4 L932.6,242.1 L932.7,240.6 L933.3,238.9 L934.4,238.2 L935.4,236.8 L935.3,235.2 L935.8,234.2 L936.2,232.8 L937.3,232.0 L937.3,229.4 L938.2,229.0 L939.3,228.4 L940.5,227.6 L941.9,227.4 L942.4,225.9 L942.0,224.8 L942.8,223.8 L942.6,222.0 L944.6,221.3 L944.4,220.0 L945.7,218.8 L946.6,217.9 L947.9,217.1 L949.4,217.4 L949.2,216.0 L950.4,214.9 L951.3,213.3 L951.3,212.3 L953.0,211.3 L953.7,209.3 L953.0,208.1 L952.8,206.3 L951.5,205.6 L951.0,204.1 L949.9,203.2 L948.9,202.3 L947.9,201.3 L946.8,199.8 L946.3,197.8 L944.7,197.2 L942.7,197.9 L941.5,197.3 L940.7,195.9 L940.3,194.5 L940.6,193.1 L940.1,191.0 L938.8,190.0 L937.0,189.0 L935.4,188.7 L933.8,188.9 L935.3,188.9 L936.7,188.6 L935.8,187.2 L936.6,185.7 L936.6,184.1 L934.6,183.2 L934.2,182.0 L934.1,180.6 L933.9,178.8 L935.4,178.1 L935.5,176.7 L935.4,178.1 L935.8,179.8 L936.4,181.1 L936.3,182.9 L936.4,184.2 L937.2,185.5 L938.5,186.5 L940.6,187.3 L941.8,188.7 L943.1,189.5 L943.6,190.8 L943.7,192.2 L943.9,194.1 L944.3,195.5 L944.1,193.9 L945.3,192.4 L945.0,191.1 L945.6,189.7 L945.0,188.2 L945.2,186.6 L945.5,184.6 L945.9,183.4 L945.2,182.3 L945.1,181.0 L943.6,179.7 L942.4,178.8 L941.2,176.9 L939.9,176.6 L938.6,175.9 L937.9,174.6 L938.7,175.7 L939.9,176.1 L941.3,175.7 L942.7,176.2 L944.3,178.1 L945.0,177.1 L945.5,175.6 L945.8,173.9 L945.6,172.9 L945.5,171.3 L946.1,169.3 L945.9,168.1 L944.8,166.7 L944.9,165.5 L944.2,163.9 L942.3,162.9 L943.1,161.6 L944.0,159.6 L944.0,158.2 L945.3,156.5 L946.6,155.4 L947.9,155.2 L949.6,153.7 L950.3,152.4 L951.2,151.1 L953.3,150.3 L955.1,148.8 L954.5,146.3 L956.3,146.9 L957.4,146.3 L958.2,145.1 L958.6,143.6 L959.4,145.0 L960.6,143.9 L961.4,142.8 L962.6,141.9 L962.2,140.6 L960.8,138.8 L959.6,139.3 L960.7,140.5 L961.7,141.1 L959.6,141.2 L959.1,142.5 L957.3,141.3 L955.4,139.9 L953.9,139.7 L953.9,137.7 L954.9,136.2 L952.8,135.1 L952.5,133.3 L952.5,132.0 L952.1,130.6 L953.7,129.0 L952.8,127.3 L953.6,126.4 L954.3,124.9 L955.6,123.9 L956.4,122.1 L956.3,120.6 L956.7,118.4 L956.7,116.4 L958.1,116.6 L959.4,117.3 L960.6,115.6 L960.7,113.8 L962.3,112.4 L963.2,111.4 L964.5,110.0 L965.0,108.1 L963.8,107.7 L963.2,106.2 L964.4,104.6 L966.1,104.3 L966.6,102.6 L967.7,101.7 L968.5,100.9 L968.8,99.3 L969.3,97.9 L969.6,96.3 L970.9,94.9 L971.7,93.7 L972.7,91.9 L972.3,93.4 L973.2,95.4 L973.2,97.0 L972.5,97.8 L972.1,99.9 L971.8,101.3 L972.8,103.1 L972.2,104.5 L971.4,106.0 L972.9,108.0 L971.5,109.2 L972.9,109.7 L973.5,110.9 L974.2,112.8 L975.4,112.2 L977.1,112.7 L978.6,113.1 L978.9,112.0 L979.9,110.2 L980.6,109.1 L981.2,107.8 L981.3,106.3 L981.9,104.9 L981.2,103.9 L981.5,102.5 L983.1,100.9 L983.4,100.2 L983.7,97.8 L983.9,97.3 L985.5,95.8 L986.0,94.6 L987.2,93.8 L988.0,92.5 L988.5,91.2 L988.9,90.4 L989.8,89.0 M987.0,69.8 L986.4,71.2 L986.6,72.3 L986.5,74.2 L987.0,75.1 L987.4,76.6 L987.3,77.9 L987.6,79.4 L987.5,80.7 L986.5,80.5 L985.9,82.4 L984.6,82.8 L982.8,83.2 L982.0,84.1 L980.6,84.7 L979.5,85.5 L978.2,86.0 L976.9,86.4 L975.8,86.7 L974.0,88.3 L972.8,89.0 L970.9,89.4 L970.3,88.4 L969.5,87.0 L968.0,85.7 L966.2,85.6 L965.2,84.7 L964.4,83.0 L962.0,84.1 L962.1,82.7 L961.1,81.7 L959.5,81.2 L957.7,81.2 L956.0,81.4 L954.3,82.4 L952.6,82.6 L952.9,80.8 L954.0,79.5 L954.8,78.4 L956.7,78.1 L956.5,76.1 L957.6,75.2 L958.9,74.5 L959.8,73.4 L959.6,72.1 L959.4,70.3 L958.9,69.2 L957.6,69.5 L955.8,69.2 L954.9,68.7 L953.4,69.3 L952.5,70.0 L951.5,71.6 L949.7,72.0 L949.3,72.9 L947.8,73.8 L946.8,74.9 L945.7,76.1 L944.6,77.3 L943.8,78.3 L943.2,79.9 L942.2,80.8 L941.7,82.7 L941.3,83.2 L940.0,84.6 L940.2,85.9 L939.2,87.1 L939.3,88.3 L939.3,90.2 L938.9,90.9 L938.4,92.7 L937.9,93.5 L937.2,94.8 L937.4,96.7 L936.8,97.6 L936.9,99.7 L936.0,100.7 L936.3,102.2 L934.9,103.8 L935.0,104.8 L933.9,106.4 L932.6,107.7 L931.9,109.3 L930.6,110.2 L929.7,111.1 L929.5,113.2 L928.7,114.2 L928.9,115.9 L927.3,116.4 L926.7,118.2 L926.7,119.8 L926.3,121.4 L925.5,122.6 L925.4,124.8 L923.9,126.0 L923.4,127.7 L922.6,130.1 L921.0,130.9 L920.6,132.0 L919.9,133.0 L920.3,134.4 L919.4,135.9 L918.1,136.6 L917.8,138.6 L917.2,139.6 L915.9,140.9 M916.5,140.2 L916.6,138.0 L917.8,137.2 L918.6,135.5 L919.4,134.9 L918.8,132.3 L920.0,131.8 L920.7,130.7 L922.3,129.7 L923.1,128.4 L923.2,127.0 L924.1,125.7 L924.4,124.3 L925.2,123.1 L925.2,121.4 L925.7,120.2 L926.5,118.5 L926.8,117.2 L927.4,115.8 L927.8,113.9 L928.8,113.2 L928.8,111.5 L929.7,110.3 L930.7,109.2 L931.8,108.5 L932.5,106.9 L934.0,105.3 L935.1,104.1 L934.1,102.1 L935.3,100.6 L936.1,98.8 L936.1,97.9 L935.5,95.8 L935.3,94.8 L935.8,93.2 L935.6,91.8 L935.3,90.5 L936.7,88.7 L936.6,87.1 L936.6,85.6 L937.6,84.0 L937.4,82.8 L937.5,80.9 L938.4,79.9 L938.8,78.9 L939.9,77.6 L941.4,76.7 L941.7,75.6 L941.4,74.3 L941.6,72.9 L941.7,71.0 L941.8,70.0 L941.2,67.8 L941.8,66.6 L942.6,65.2 L944.0,65.2 L944.5,63.6 L945.5,62.8 L946.7,62.4 L947.8,61.4 L948.8,60.5 L949.7,59.3 L950.7,58.9 L952.2,58.0 L952.9,57.3 L955.0,56.6 L956.0,55.8 L956.9,54.8" fill="none" stroke="#000" stroke-width="1.7" stroke-linejoin="round" stroke-linecap="round"/>
<path d="M647.6,143.0 L645.9,143.4 L645.1,141.9 L642.4,143.0 L642.3,142.7 L641.3,140.6 L639.8,139.5 L639.1,138.0 L638.1,137.4 L636.8,136.5 L635.3,135.7 L634.9,133.7 L634.4,132.2 L633.4,131.0 L631.9,129.7 L630.6,128.7 L629.8,127.0 L628.8,125.1 L628.2,124.5 L627.1,123.3 L625.5,122.3 L625.3,120.4 L624.9,117.9 L626.1,118.6 L628.1,118.1 L629.6,119.2 L630.4,119.8 L631.7,121.1 L632.4,122.6 L634.3,123.3 L634.5,124.2 L636.4,124.3 L637.9,124.9 L638.0,125.5 L639.6,127.1 L639.0,128.9 L639.7,129.8 L640.9,131.6 L641.0,133.3 L642.7,133.2 L644.1,134.8 L645.3,136.1 L646.4,137.7 L647.2,139.2 L647.5,140.5 L647.6,143.0" fill="none" stroke="#000" stroke-width="2.4" stroke-linejoin="round" stroke-linecap="round"/>
<path d="M614.5,104.4 L613.5,102.6 L612.7,102.3 L612.0,100.2 L611.4,98.4 L612.1,96.5 L608.9,96.2 L610.1,94.3 L611.2,92.6 L608.9,91.4 L608.6,89.9 L608.8,88.6 L609.3,86.4 L609.9,86.1 L609.8,84.1 L611.1,85.6 L612.3,84.9 L614.9,84.5 L614.5,86.9 L615.2,87.6 L615.0,90.6 L615.5,92.9 L613.0,93.5 L612.3,95.0 L612.7,95.9 L613.2,97.9 L614.9,99.4 L613.3,100.6 L612.6,101.6 L614.8,103.6 L614.5,104.4 M802.4,136.2 L803.1,135.0 L804.5,133.2 L803.0,132.0 L802.8,130.1 L802.9,131.8 L800.5,132.3 L800.3,133.8 L800.2,134.9 L802.4,136.2" fill="none" stroke="#000" stroke-width="3.0" stroke-linejoin="round" stroke-linecap="round"/>
<path d="M669.6,279.6 L669.3,281.3 L669.7,282.7 L670.8,284.2 L671.5,285.5 L672.4,286.8 L673.5,288.2 L673.1,290.0 L674.1,291.7 L674.5,293.0 L675.5,294.0 L675.9,295.6 L676.4,297.4 L676.3,299.0 L677.5,300.1 L677.6,301.7 L676.7,303.1 L678.1,304.3 L679.7,304.8 L680.8,306.0 L682.2,306.1 L683.5,307.2 L684.1,308.7 L685.8,309.7 L685.9,311.2 L686.1,312.5 L687.1,313.7 L687.6,314.6 L687.7,315.9 L688.2,317.2 L689.0,318.6 L687.7,320.7 L686.3,320.7 L685.1,319.9 L683.6,321.1 L682.0,320.4 L683.3,321.0 L684.0,322.7 L684.5,323.8 L686.0,324.5 L686.6,326.7 L688.0,326.4 L689.3,327.9 L690.4,329.0 L692.1,328.6 L692.9,329.9 L694.5,330.8 L695.7,330.9 L697.1,332.0 L698.3,333.0 L699.5,334.5 L700.1,335.8 L700.7,336.4 L701.0,337.9 L702.1,339.5 L702.4,340.2 L703.2,341.5 L703.8,343.3 L703.3,344.7 L703.0,346.1 L703.4,347.6 L704.4,348.3 L706.1,348.2 L706.6,350.2 L707.7,351.2 L708.6,352.3 L709.8,353.4 L711.0,354.0 L712.5,355.0 L713.0,356.4 L714.0,357.3 L714.6,358.9 L715.9,359.5 L717.2,360.1 L717.4,361.2 L718.1,362.7 L719.5,363.5 L720.7,364.6 L721.9,363.9 L722.8,362.6 L723.9,361.4 L723.6,360.4 L724.7,359.1 L723.8,357.8 L723.1,356.9 L722.8,355.9 L721.5,354.3 L719.9,354.0 L718.0,353.0 L716.8,351.7 L715.2,350.4 L714.6,349.1 L714.4,347.5 L714.8,346.1 L713.9,345.1 L713.0,343.7 L712.4,342.5 L712.0,341.4 L711.1,340.1 L710.2,339.1 L710.2,337.4 L709.9,335.6 L708.7,334.5 L708.8,333.0 L707.3,332.2 L706.1,331.2 L705.8,329.7 L705.0,328.6 L704.8,327.4 L703.2,326.0 L702.4,324.3 L701.5,323.2 L700.2,322.0 L699.5,320.8 L699.9,319.8 L698.4,318.3 L698.1,317.2 L697.1,316.3 L697.1,314.7 L696.0,313.1 L695.0,312.4 L693.8,311.1 L693.1,310.0 L692.5,308.6 L691.3,307.7 L690.3,306.6 L690.6,305.2 L689.3,304.1 L688.8,303.0 L688.0,301.5 L686.8,300.7 L686.2,299.7 L686.0,298.3 L685.9,296.7 L686.0,295.2 L686.1,293.7 L685.6,292.2 L686.0,290.8 L685.3,289.4 L685.8,286.9 L687.2,287.4 L688.8,287.4 L689.5,288.8 L691.2,288.4 L692.2,289.3 L692.7,290.3 L694.3,290.7 L695.8,291.0 L697.0,291.5 L697.8,292.5 L697.4,294.0 L698.3,295.0 L698.1,296.8 L699.0,297.7 L698.8,299.9 L700.1,301.1 L701.0,302.1 L701.7,303.6 L702.6,305.3 L702.8,306.4 L703.2,308.0 L703.5,309.6 L703.4,310.6 L704.3,311.9 L705.2,313.2 L706.1,314.5 L707.4,315.0 L708.3,316.7 L709.2,317.6 L710.2,319.1 L711.9,319.3 L712.8,320.6 L714.3,320.8 L715.8,321.5 L715.6,322.8 L717.0,324.6 L716.5,326.2 L718.1,326.9 L719.5,327.8 L721.1,328.4 L721.9,329.5 L723.3,330.3 L724.6,331.4 L725.3,332.7 L724.9,333.6 L725.9,335.2 L725.8,336.5 L725.1,337.6 L725.4,338.9 L725.0,340.4 L726.3,342.1 L728.1,342.2 L729.7,342.5 L730.8,343.6 L732.3,343.9 L733.3,344.7 L734.1,346.1 L734.9,346.8 L735.3,348.5 L736.1,349.4 L737.0,350.2 L738.1,351.0 L738.8,352.6 L740.2,352.7 L741.1,354.2 L742.9,354.8 L743.5,356.5 L745.1,357.0 L746.2,358.2 L747.2,359.1 L748.0,359.8 L748.8,361.2 L749.6,362.4 L750.1,363.7 L751.4,364.1 L752.8,364.5 L753.5,366.2 L753.8,367.4 L754.3,369.3 L755.4,370.4 L755.7,371.4 M703.5,313.6 L702.3,312.3 L701.3,311.4 L702.1,309.7 L703.9,311.0 L703.5,313.6 M697.2,311.3 L696.2,310.1 L695.2,309.2 L694.7,308.1 L694.0,306.9 L695.1,306.9 L695.9,308.4 L697.1,309.6 L697.9,310.9 L697.2,311.3 M943.5,162.3 L944.8,161.7 L945.8,160.7 L946.8,160.5 L947.8,159.3 L949.0,158.6 L949.9,157.1 L951.0,156.0 L952.3,154.9 L953.4,153.6 L954.2,152.3 L952.4,152.9 L951.5,153.4 L950.3,155.2 L949.2,156.1 L948.2,157.1 L946.9,157.4 L945.0,158.3 L944.0,159.6 L944.0,161.0 L943.5,162.3 M969.2,85.7 L970.6,85.2 L972.4,85.2 L973.4,85.4 L974.9,85.2 L975.8,84.8 L977.5,85.1 L978.8,85.4 L980.0,85.1 L979.9,83.4 L980.6,82.1 L981.9,81.3 L981.9,80.2 L982.1,78.6 L980.3,78.7 L979.6,79.8 L978.6,80.9 L977.2,81.9 L975.9,82.6 L974.4,82.3 L973.3,82.1 L971.6,82.1 L970.4,82.1 L969.4,81.8 L970.0,83.0 L969.1,84.4 L969.2,85.7 M952.4,63.0 L954.4,63.9 L955.0,62.3 L957.0,62.6 L958.2,62.9 L959.4,62.0 L960.7,61.4 L962.5,62.2 L963.9,61.7 L964.8,60.5 L966.5,60.8 L967.6,59.6 L968.8,59.1 L967.3,58.6 L965.9,58.7 L964.5,58.3 L962.9,58.0 L961.2,58.3 L959.8,59.1 L958.5,59.5 L957.6,60.4 L956.1,60.3 L955.2,61.9 L953.6,62.3 L952.4,63.0 M939.0,341.5 L939.9,340.8 L941.7,340.8 L943.0,340.3 L944.0,341.9 L944.9,343.5 L943.3,343.2 L942.1,344.5 L940.8,344.7 L939.3,343.3 L939.0,341.5 M973.8,299.6 L975.8,299.3 L975.5,298.5 L973.8,299.6 M821.2,151.2 L822.5,151.3 L823.5,149.9 L824.8,149.9 L826.0,149.2 L827.7,147.9 L828.5,148.9 L829.7,149.9 L830.9,150.0 L832.1,148.6 L833.7,147.8 L834.9,147.0 L835.8,145.7 L836.6,145.4 L837.9,143.8 L838.0,142.3 L839.5,141.4 L840.2,140.5 L841.7,139.9 L843.5,138.9 L842.6,140.2 L841.7,141.8 L841.0,144.2 L842.4,144.2 L843.8,143.9 L845.3,143.8 L846.2,144.8 L847.8,145.9 L848.7,145.3 L850.6,146.3 L852.1,145.2 L852.7,144.2 L853.9,143.2 L855.1,142.3 L856.6,141.9 L857.7,141.2 L859.2,140.2 L860.3,139.7 L861.1,141.8 L862.4,141.6 L863.7,141.4 L864.2,140.3 L862.5,139.6 L862.2,137.9 L861.3,136.1 L860.5,134.9 L858.8,134.6 L858.6,132.9 L857.5,131.7 L856.6,130.5 L855.1,131.1 L853.6,130.9 L852.2,131.5 L851.1,130.4 L850.1,129.1 L849.2,128.3 L848.2,126.6 L847.2,126.2 L845.8,126.9 L844.3,127.0 L843.1,127.2 L841.7,127.3 L840.2,128.0 L838.8,127.1 L837.5,127.7 L837.8,129.0 L838.1,130.6 L836.6,131.5 L836.1,132.8 L835.6,134.0 L833.3,133.8 L833.1,135.8 L832.5,137.5 L831.5,138.7 L830.6,139.7 L830.0,140.9 L828.9,141.9 L828.3,142.7 L827.7,144.2 L826.7,145.1 L826.3,146.9 L824.9,147.5 L824.1,148.8 L822.7,150.3 L821.2,151.2 M834.8,138.1 L835.9,136.7 L836.7,136.1 L837.9,134.6 L836.8,135.0 L835.6,135.9 L834.5,137.3 L834.8,138.1 M859.6,185.6 L858.6,184.8 L857.7,183.6 L856.9,182.3 L855.8,181.5 L855.1,180.3 L854.5,178.4 L854.3,176.7 L853.8,174.7 L852.9,173.6 L852.3,172.0 L852.7,170.5 L852.8,168.8 L852.8,167.6 L852.7,166.3 L852.9,164.8 L852.9,163.2 L853.3,162.1 L852.1,160.7 L852.4,159.2 L852.5,157.1 L853.2,155.5 L852.8,156.9 L852.4,158.1 L851.2,159.2 L850.4,160.6 L850.2,161.8 L849.4,162.8 L849.1,162.9 L848.5,161.7 L849.3,160.3 L850.0,158.9 L850.1,157.7 L849.9,155.9 L850.5,154.2 L851.4,153.1 L851.6,151.6 L852.9,150.4 L854.3,149.4 L855.8,148.6 L857.5,147.8 L858.9,147.4 L860.0,146.9 L861.1,146.3 L862.3,145.4 L864.3,146.7 L863.1,148.7 L864.2,151.1 L862.1,151.0 L861.5,153.3 L862.1,155.1 L862.3,156.6 L860.8,157.0 L859.7,158.3 L860.4,159.6 L859.7,161.4 L860.0,162.6 L859.6,164.3 L859.4,165.5 L859.6,167.1 L860.7,168.6 L861.4,170.1 L861.8,171.3 L863.1,172.3 L863.9,174.0 L863.3,175.6 L864.3,177.2 L863.4,179.0 L864.1,180.0 L863.8,181.8 L863.1,183.2 L861.9,184.4 L859.6,185.6 M864.3,146.7 L865.4,147.1 L867.3,147.3 L868.9,148.5 L869.6,147.3 L871.4,147.8 L872.6,148.1 L873.4,149.7 L874.8,150.5 L875.1,151.4 L875.3,153.4 L875.9,154.6 L876.0,155.9 L876.0,157.2 L876.0,158.6 L875.9,160.4 L874.9,161.7 L877.2,160.9 L877.5,159.2 L878.2,158.3 L879.2,157.5 L880.8,157.6 L882.1,158.2 L882.9,159.5 L883.5,160.2 L884.1,161.7 L885.2,162.6 L885.3,164.3 L885.9,162.6 L887.4,161.8 L888.6,160.8 L889.2,159.1 L887.9,158.0 L887.3,157.0 L887.2,155.3 L886.5,154.3 L885.6,152.5 L886.8,151.2 L887.2,149.4 L887.0,147.8 L886.1,146.3 L885.1,144.8 L886.9,145.4 L888.3,146.3 L889.9,146.4 L891.3,146.6 L893.0,147.8 L894.5,147.9 L894.2,146.2 L894.9,144.1 L894.6,142.4 L892.3,142.1 L891.6,140.8 L890.2,140.4 L888.9,139.0 L887.3,138.6 L886.2,137.9 L884.8,138.3 L883.3,138.5 L881.8,138.8 L880.2,138.8 L878.8,139.6 L877.5,139.7 L875.8,139.7 L874.2,140.1 L872.7,140.3 L871.4,140.1 L870.0,140.9 L868.5,141.6 L866.6,141.7 L867.3,143.0 L868.0,143.9 L866.6,143.9 L865.3,145.3 L864.3,146.7 M872.7,143.1 L874.4,143.5 L875.7,144.1 L877.2,143.3 L878.3,143.2 L879.8,142.8 L881.5,143.0 L880.4,141.9 L879.7,140.0 L878.7,141.0 L877.0,141.0 L875.9,141.5 L874.2,142.4 L872.7,143.1 M884.7,170.9 L887.2,170.4 L886.8,168.3 L885.0,168.0 L885.1,169.6 L884.7,170.9 M789.3,126.8 L791.4,126.3 L791.6,124.3 L790.8,122.8 L791.0,121.2 L791.0,119.7 L790.1,119.1 L788.7,117.6 L788.0,116.5 L787.4,115.0 L786.1,114.2 L786.1,113.0 L785.5,111.6 L785.4,110.1 L784.3,108.7 L783.6,107.6 L783.1,106.1 L782.7,104.8 L781.0,103.7 L780.8,103.0 L779.2,102.4 L778.2,102.3 L776.2,101.5 L774.9,100.6 L774.2,102.0 L773.5,103.7 L773.6,105.0 L774.4,106.3 L775.8,106.9 L777.0,107.8 L778.2,109.4 L778.8,110.3 L778.5,111.5 L779.4,113.3 L780.5,114.3 L781.9,114.7 L783.4,115.2 L784.9,115.8 L785.4,117.6 L785.8,118.4 L787.3,119.6 L787.1,121.5 L787.7,123.0 L788.4,124.4 L789.3,126.8 M941.8,290.9 L944.2,291.6 L944.1,293.9 L941.6,293.9 L941.9,292.7 L941.8,290.9 M864.1,285.2 L866.6,285.9 L868.5,284.2 L866.0,283.4 L864.1,285.2 M921.0,97.7 L922.2,97.0 L923.5,96.2 L924.1,95.0 L922.5,93.4 L921.2,94.0 L919.8,94.4 L920.2,96.2 L921.0,97.7 M934.8,136.5 L934.5,135.1 L933.4,133.9 L932.8,132.5 L932.6,130.8 L932.3,129.8 L931.0,128.5 L930.7,127.4 L930.2,126.2" fill="none" stroke="#000" stroke-width="1.5" stroke-linejoin="round" stroke-linecap="round"/>
<path d="M924.1,346.2 L925.5,345.9 L926.2,344.0 L928.0,344.5 L929.0,343.4 L930.4,341.9 L931.7,340.7 L932.9,339.6 L932.0,337.9 L932.9,337.0 L933.9,335.6 L934.1,333.9 L935.8,333.2 L937.3,331.8 L938.5,331.2 L939.4,330.3 L941.1,329.7 L941.8,329.1 L943.5,328.4 L944.3,327.5 L945.8,328.2 L946.8,327.0 L948.1,325.8 L949.4,326.7 L950.8,325.9 L952.2,325.4 L954.1,326.1 L955.9,325.2 L957.0,325.4 L958.3,325.1 L959.8,323.8 L961.1,324.9 L961.9,325.5 L963.9,325.8 L965.5,325.8 L967.1,326.0 L968.2,327.3 L969.4,327.7 L971.3,326.6 L972.2,326.5 L973.7,325.6 L975.2,325.6 L976.5,325.4 L978.3,325.1 L979.4,325.9 L980.3,326.0 L981.7,326.4 L983.3,327.0 L984.5,327.4 L985.8,328.3 L987.3,327.8 L989.0,328.7 L990.2,328.5 L991.8,328.7 L992.2,329.7 L994.5,329.7 M924.1,346.2 L925.3,345.9 L926.3,344.2 L928.0,344.8 L929.4,343.6 L930.4,344.1 L931.7,343.6 L933.4,343.2 L934.4,341.9 L934.8,339.8 L936.2,339.8 L937.4,339.1 L938.4,338.0 L939.1,336.0 L939.6,334.7 L941.0,334.2 L941.6,333.2 L943.3,332.9 L945.3,334.9 L946.0,332.7 L946.9,333.6 L947.5,335.1 L948.7,335.7 L950.0,334.6 L951.4,334.8 L951.8,333.6 L953.5,334.5 L955.1,333.6 L956.6,334.3 L958.1,334.7 L959.6,335.2 L961.1,335.5 L962.4,335.2 L964.1,336.7 L965.1,335.5 L966.3,334.7 L967.8,334.8 L968.9,334.8 L969.6,334.2 L971.8,333.9 L973.6,335.0 L974.4,333.1 L975.8,332.8 L977.3,332.9 M706.5,212.6 L705.6,211.3 L704.7,210.5 L704.0,209.2 L703.2,208.0 L702.3,207.1 L703.0,205.6 L704.2,205.1 L705.4,206.3 L706.6,207.2 L707.0,208.9 L707.2,210.5 L706.5,212.6" fill="none" stroke="#000" stroke-width="1.6" stroke-linejoin="round" stroke-linecap="round"/>
<path d="M970.0,300.1 L971.2,300.7 L972.5,302.5 L973.3,303.2 L974.7,304.5 L974.8,305.6 L976.1,307.0 L974.9,307.4 L974.0,308.8 L972.4,308.7 L970.8,307.5 L969.7,306.5 L969.0,304.7 L969.3,303.6 L968.9,301.9 L970.0,300.1 M958.0,290.0 L959.3,289.3 L959.9,288.6 L961.9,288.6 L963.1,288.6 L964.5,287.7 L965.8,286.6 L964.7,287.0 L963.1,287.5 L961.1,287.9 L959.4,288.7 L958.0,290.0" fill="none" stroke="#000" stroke-width="2.2" stroke-linejoin="round" stroke-linecap="round"/>
<path d="M967.4,284.1 L968.8,284.6 L970.0,285.2 L971.1,285.6 L972.5,286.0 L973.8,286.9 L974.2,288.3 L973.0,290.0 L972.9,291.7 L972.0,290.0 L971.3,288.4 L969.8,287.7 L968.5,287.0 L967.7,285.2 L966.1,285.1 L967.4,284.1" fill="none" stroke="#000" stroke-width="2.0" stroke-linejoin="round" stroke-linecap="round"/>
<path d="M883.2,177.0 L884.6,177.5 L886.3,177.4 L888.2,177.8 L889.5,176.8 L891.3,176.3 L892.6,175.7 L894.2,174.9 L894.8,173.3 L896.0,172.1 L897.0,171.1 L897.9,170.0 L899.0,169.1 L900.0,168.3 L901.3,167.4 L901.6,166.5 L902.2,165.1 L903.5,164.4 L903.7,163.1 L904.7,161.9 L905.9,160.4 L906.2,159.3 L906.6,157.7 L904.9,158.6 L903.1,159.2 L902.5,160.5 L901.5,161.2 L900.5,162.7 L899.3,163.1 L898.5,163.8 L897.0,164.5 L895.0,164.3 L893.9,165.5 L892.7,166.6 L891.7,167.8 L891.0,169.3 L890.1,170.1 L888.9,171.2 L888.4,172.7 L888.4,173.6 L886.8,173.5 L884.8,174.0 L883.9,173.4 L883.9,175.2 L883.2,177.0 M899.9,156.3 L901.2,155.4 L902.7,155.2 L904.1,155.1 L905.3,154.4 L906.8,154.2 L907.7,153.2 L908.8,152.1 L910.0,151.4 L911.6,151.3 L913.3,151.1 L914.1,150.4 L915.6,149.5 L917.1,148.9 L918.0,147.6 L919.4,146.9 L919.6,145.4 L919.1,143.6 L918.2,142.2 L917.1,141.4 L915.9,140.9 L914.8,142.4 L913.5,143.9 L911.6,144.9 L910.3,145.8 L908.7,146.4 L908.0,147.5 L906.5,147.7 L905.4,148.5 L904.3,149.8 L902.3,150.7 L901.1,152.8 L901.2,154.7 L899.9,156.3" fill="none" stroke="#000" stroke-width="1.4" stroke-linejoin="round" stroke-linecap="round"/>
<path d="M782.0,129.7 L782.1,128.0 L783.0,127.0 L780.8,125.2 L780.8,125.0 L779.5,123.4 L778.2,121.7 L778.1,121.9 L777.3,119.5 L775.1,119.0 L775.1,121.2 L777.4,121.9 L777.8,123.2 L778.9,123.7 L778.2,125.8 L779.2,127.0 L780.2,127.9 L780.7,129.4 L782.0,129.7 M773.0,118.5 L770.7,117.7 L771.1,115.7 L770.9,114.6 L769.4,112.9 L768.9,112.9 L767.3,110.9 L766.1,109.3 L765.4,107.8 L766.8,107.7 L768.5,108.2 L768.3,110.1 L769.5,111.3 L771.0,112.1 L772.6,112.5 L772.7,114.7 L773.1,116.0 L773.0,118.5 M768.3,154.2 L766.6,153.0 L765.5,154.1 L763.1,153.1 L761.5,151.7 L761.3,151.2 L759.0,151.0 M777.0,178.2 L777.7,176.2 L775.7,175.5 L775.9,174.1 L774.4,172.8 L774.2,171.5 L775.9,170.0 L776.1,168.3 L775.9,166.8 L774.3,166.0 L774.2,164.4 L773.9,162.7 M740.2,152.3 L739.1,153.1 L738.7,154.4 L736.6,153.9 L735.9,154.9 L734.5,155.0 L732.6,155.9" fill="none" stroke="#000" stroke-width="2.6" stroke-linejoin="round" stroke-linecap="round"/>
<path d="M834.9,124.6 L835.7,123.4 L837.0,122.2 L836.0,120.9 L835.2,119.4 L834.5,117.7 L833.2,116.9 L831.8,117.6 L830.5,117.2 L829.8,118.7 L830.2,119.9 L830.1,121.6 L831.7,122.6 L832.6,124.4 L834.9,124.6" fill="none" stroke="#000" stroke-width="1.8" stroke-linejoin="round" stroke-linecap="round"/>
<path d="M801.8,144.7 L803.4,144.3 L804.5,143.8 L803.2,143.2 L801.8,144.7" fill="none" stroke="#000" stroke-width="2.5" stroke-linejoin="round" stroke-linecap="round"/>
<path d="M614.0,80.6 L615.4,79.6 L617.5,82.4 L616.1,82.8 L618.8,84.5 L618.5,84.7 L622.2,85.8 L622.1,85.7 L623.7,87.1 L623.5,87.5 L623.9,90.6 L623.5,91.4 L622.3,92.8 L624.9,93.1 L628.0,94.4 L625.8,96.3 L624.3,99.4 L627.4,99.9 L625.4,100.8 L627.4,102.0 L627.9,103.4 L628.7,106.5 L629.3,106.8 L630.5,107.2 L628.1,109.5 L632.0,109.9 L629.6,112.0 L630.8,113.0 L629.5,115.7 L630.1,116.4 L631.3,117.5 L633.3,118.5 L633.1,119.7 L633.0,122.1 L637.3,121.9 L636.8,122.6 L636.7,124.4 L640.5,122.7 L640.5,125.6 L639.9,127.8 L642.6,128.5" fill="none" stroke="#000" stroke-width="4.2" stroke-linejoin="round" stroke-linecap="round"/>
<path d="M642.6,128.5 L643.6,129.5 L644.7,131.7 L645.7,132.1 L647.7,132.7 L648.5,134.7 L649.9,136.7" fill="none" stroke="#000" stroke-width="2.6" stroke-linejoin="round" stroke-linecap="round"/>
<path d="M652.6,145.1 L652.4,146.4 L651.8,148.0 L652.2,149.9 L651.1,150.8 L650.1,152.1 L649.8,153.1" fill="none" stroke="#000" stroke-width="4.5" stroke-linejoin="round" stroke-linecap="round"/>
<path d="M648.1,153.2 L649.7,152.7 L650.2,151.0" fill="none" stroke="#000" stroke-width="3.0" stroke-linejoin="round" stroke-linecap="round"/>
<path d="M942.5,197.5 L942.5,196.0 L941.0,194.7 L940.4,193.6 L940.0,193.0 L940.5,190.1 L938.3,189.7 L937.2,190.0 L936.8,186.8 L936.3,185.9 L936.5,183.5 L934.6,183.0 L934.5,181.9 L933.0,179.8 L934.6,178.0" fill="none" stroke="#000" stroke-width="3.2" stroke-linejoin="round" stroke-linecap="round"/>
<path d="M934.5,189.5 L935.9,190.3 L937.7,190.0" fill="none" stroke="#000" stroke-width="2.4" stroke-linejoin="round" stroke-linecap="round"/>
<path d="M937.0,197.0 L938.5,196.9 L940.5,197.1 L941.5,196.9" fill="none" stroke="#000" stroke-width="2.2" stroke-linejoin="round" stroke-linecap="round"/>
<path d="M947.9,202.7 L950.2,203.5 L950.9,203.9 L951.6,205.9 L952.8,206.7 L953.4,208.3 L953.6,209.4 L952.2,211.3 L951.9,211.3 L951.5,212.7 L950.1,213.8 L950.2,214.7 L949.0,216.1" fill="none" stroke="#000" stroke-width="2.6" stroke-linejoin="round" stroke-linecap="round"/>
<path d="M945.5,211.4 L947.0,210.5 L949.0,210.9 L950.3,209.9" fill="none" stroke="#000" stroke-width="2.2" stroke-linejoin="round" stroke-linecap="round"/>
<path d="M869.0,289.4 L870.4,290.2 L871.7,290.4 L872.5,291.2 L873.6,293.7 L875.2,292.8 L875.3,290.9 L873.7,291.0 L872.2,290.0" fill="none" stroke="#000" stroke-width="3.0" stroke-linejoin="round" stroke-linecap="round"/>
<path d="M864.3,286.0 L866.2,285.9 L867.9,284.8" fill="none" stroke="#000" stroke-width="2.4" stroke-linejoin="round" stroke-linecap="round"/>
<path d="M858.8,292.6 L860.3,292.2 L861.0,293.3 L863.6,292.9 L864.6,294.0" fill="none" stroke="#000" stroke-width="2.2" stroke-linejoin="round" stroke-linecap="round"/>
<path d="M952.6,126.9 L953.7,125.7 L953.9,123.0 L955.5,123.2 L957.1,121.5 L955.7,119.3 L957.0,118.2 L959.1,118.0 L960.0,115.9 L960.7,114.6 L962.2,113.5 L962.6,111.7 L962.8,110.8 L962.7,107.9 L964.4,107.5" fill="none" stroke="#000" stroke-width="2.6" stroke-linejoin="round" stroke-linecap="round"/>
<path d="M831.5,297.5 L833.5,298.4" fill="none" stroke="#000" stroke-width="3.2" stroke-linejoin="round" stroke-linecap="round"/>
<path d="M821.1,308.7 L823.0,308.6 L823.9,307.4" fill="none" stroke="#000" stroke-width="2.6" stroke-linejoin="round" stroke-linecap="round"/>
<path d="M816.7,315.9 L817.3,314.5" fill="none" stroke="#000" stroke-width="2.6" stroke-linejoin="round" stroke-linecap="round"/>
<path d="M811.6,123.0 L813.3,123.3 L814.6,121.9 L816.4,121.9 L817.9,121.9" fill="none" stroke="#000" stroke-width="2.8" stroke-linejoin="round" stroke-linecap="round"/>
<path d="M809.5,138.0 L811.5,137.4 L812.7,137.2 L814.1,136.7 L815.6,137.5" fill="none" stroke="#000" stroke-width="2.6" stroke-linejoin="round" stroke-linecap="round"/>
<path d="M881.5,113.7 L883.6,113.0" fill="none" stroke="#000" stroke-width="3.0" stroke-linejoin="round" stroke-linecap="round"/>
<path d="M795.9,95.8 L797.3,95.1" fill="none" stroke="#000" stroke-width="2.6" stroke-linejoin="round" stroke-linecap="round"/>
<path d="M769.1,98.1 L770.5,97.5" fill="none" stroke="#000" stroke-width="2.6" stroke-linejoin="round" stroke-linecap="round"/>
<path d="M889.0,133.1 L891.3,132.4" fill="none" stroke="#000" stroke-width="2.4" stroke-linejoin="round" stroke-linecap="round"/>
<path d="M897.9,146.5 L898.8,145.7" fill="none" stroke="#000" stroke-width="2.4" stroke-linejoin="round" stroke-linecap="round"/>
<path d="M697.6,153.4 L697.7,152.1" fill="none" stroke="#000" stroke-width="2.4" stroke-linejoin="round" stroke-linecap="round"/>
<path d="M885.6,169.6 L886.0,169.0" fill="none" stroke="#000" stroke-width="3.0" stroke-linejoin="round" stroke-linecap="round"/>
<path d="M872.4,144.1 L873.7,143.6 L875.0,143.9 L877.1,143.4 L878.1,142.5" fill="none" stroke="#000" stroke-width="2.2" stroke-linejoin="round" stroke-linecap="round"/>
<path d="M849.3,162.4 L850.1,160.8 L851.3,160.0 L850.9,158.4" fill="none" stroke="#000" stroke-width="2.2" stroke-linejoin="round" stroke-linecap="round"/>
<path d="M861.7,155.0 L861.8,153.2" fill="none" stroke="#000" stroke-width="2.2" stroke-linejoin="round" stroke-linecap="round"/>
<path d="M840.6,143.9 L841.5,142.6 L841.9,141.4 L842.3,139.9" fill="none" stroke="#000" stroke-width="2.2" stroke-linejoin="round" stroke-linecap="round"/>
<path d="M959.6,140.6 L961.0,139.2 L962.4,141.0" fill="none" stroke="#000" stroke-width="2.2" stroke-linejoin="round" stroke-linecap="round"/>
<path d="M966.4,83.9 L964.6,83.3 L963.1,82.5 L961.9,81.6" fill="none" stroke="#000" stroke-width="2.2" stroke-linejoin="round" stroke-linecap="round"/>
<path d="M977.0,113.0 L978.3,112.3 L978.8,110.8 L979.2,109.4 L979.8,107.6 L980.3,106.6 L979.2,104.7 L981.0,104.0" fill="none" stroke="#000" stroke-width="2.4" stroke-linejoin="round" stroke-linecap="round"/>
<path d="M641.5,156.3 L640.8,158.7" fill="none" stroke="#000" stroke-width="2.4" stroke-linejoin="round" stroke-linecap="round"/>
<path d="M639.4,230.5 L640.2,231.6 L640.4,233.1" fill="none" stroke="#000" stroke-width="2.8" stroke-linejoin="round" stroke-linecap="round"/>
<path d="M856.2,86.1 L857.0,87.9 L858.1,87.5 L859.0,88.8 L859.8,89.5 L861.2,90.4 L862.6,92.0 L864.1,91.4 L865.6,92.7 L866.6,93.7 L868.7,93.5 L870.0,95.0 L871.1,94.9 L872.2,95.2 L873.9,94.7 L873.8,93.3 L875.4,92.3 L875.6,90.7 L877.4,90.8 L876.5,89.2 L876.2,87.8 L875.8,86.0 L875.4,84.6 L876.6,83.3 L875.1,82.1 L874.6,80.9" fill="none" stroke="#000" stroke-width="1.6" stroke-linejoin="round" stroke-linecap="round"/>
<path d="M906.6,104.8 L908.0,103.4 L908.8,102.8 L910.5,102.9 L911.7,102.2" fill="none" stroke="#000" stroke-width="3.0" stroke-linejoin="round" stroke-linecap="round"/>
<path d="M887.7,122.6 L889.0,123.2 L890.3,124.2 L891.2,125.2 L892.6,125.9 L893.6,126.4 L894.2,128.0 L895.4,128.5 L896.8,128.9 L898.4,129.0 L900.0,128.8 L901.8,129.6 L903.6,129.5 L904.9,129.4 L906.2,129.8 L907.7,130.4 L909.0,129.9 L910.8,130.6 L912.5,130.2 L914.0,130.4 L915.6,129.6 L916.3,128.3 L918.0,127.7 L919.2,126.0 L920.2,124.9 L922.1,125.0 L924.6,124.7" fill="none" stroke="#000" stroke-width="1.5" stroke-linejoin="round" stroke-linecap="round"/>
<path d="M902.9,82.0 L904.4,81.9 L905.7,81.5" fill="none" stroke="#000" stroke-width="2.6" stroke-linejoin="round" stroke-linecap="round"/></g>
</g>
<rect x="603.5" y="89.5" width="387.0" height="248.0" fill="none" stroke="#000" stroke-width="1" shape-rendering="crispEdges"/>
<rect x="602.50" y="349.40" width="43.56" height="12.40" fill="#ffece3" shape-rendering="crispEdges"/>
<rect x="645.56" y="349.40" width="43.56" height="12.40" fill="#fdd4c2" shape-rendering="crispEdges"/>
<rect x="688.61" y="349.40" width="43.56" height="12.40" fill="#fcb296" shape-rendering="crispEdges"/>
<rect x="731.67" y="349.40" width="43.56" height="12.40" fill="#fc8e6e" shape-rendering="crispEdges"/>
<rect x="774.72" y="349.40" width="43.56" height="12.40" fill="#fb694a" shape-rendering="crispEdges"/>
<rect x="817.78" y="349.40" width="43.56" height="12.40" fill="#f0402f" shape-rendering="crispEdges"/>
<rect x="860.83" y="349.40" width="43.56" height="12.40" fill="#d32020" shape-rendering="crispEdges"/>
<rect x="903.89" y="349.40" width="43.56" height="12.40" fill="#b11218" shape-rendering="crispEdges"/>
<rect x="946.94" y="349.40" width="43.56" height="12.40" fill="#820711" shape-rendering="crispEdges"/>
<line x1="603.5" y1="362.0" x2="603.5" y2="356.6" stroke="#000" stroke-width="1" shape-rendering="crispEdges"/>
<line x1="646.5" y1="362.0" x2="646.5" y2="356.6" stroke="#000" stroke-width="1" shape-rendering="crispEdges"/>
<line x1="689.5" y1="362.0" x2="689.5" y2="356.6" stroke="#000" stroke-width="1" shape-rendering="crispEdges"/>
<line x1="732.5" y1="362.0" x2="732.5" y2="356.6" stroke="#000" stroke-width="1" shape-rendering="crispEdges"/>
<line x1="775.5" y1="362.0" x2="775.5" y2="356.6" stroke="#000" stroke-width="1" shape-rendering="crispEdges"/>
<line x1="818.5" y1="362.0" x2="818.5" y2="356.6" stroke="#000" stroke-width="1" shape-rendering="crispEdges"/>
<line x1="861.5" y1="362.0" x2="861.5" y2="356.6" stroke="#000" stroke-width="1" shape-rendering="crispEdges"/>
<line x1="904.5" y1="362.0" x2="904.5" y2="356.6" stroke="#000" stroke-width="1" shape-rendering="crispEdges"/>
<line x1="947.5" y1="362.0" x2="947.5" y2="356.6" stroke="#000" stroke-width="1" shape-rendering="crispEdges"/>
<line x1="990.5" y1="362.0" x2="990.5" y2="356.6" stroke="#000" stroke-width="1" shape-rendering="crispEdges"/>
<rect x="603.5" y="349.5" width="387.0" height="13.0" fill="none" stroke="#000" stroke-width="1" shape-rendering="crispEdges"/>
</g>
<g transform="translate(0.00,0.00)">
<g clip-path="url(#axc)">
<rect x="601.50" y="87.90" width="389.50" height="250.40" fill="#fee7dc"/>
<g shape-rendering="crispEdges"><path d="M804.6,303.4 L801.4,298.0 L792.1,282.0 L792.1,282.0 L792.1,282.0 L790.1,265.1 L790.1,265.1 L790.1,265.1 L783.4,255.7 L781.3,249.1 L777.2,245.8 L774.0,244.3 L767.1,242.1 L759.8,234.3 L759.8,234.3 L758.6,217.6 L771.3,216.5 L771.3,216.5 L771.3,216.5 L771.3,216.5 L771.3,216.5 L771.3,216.5 L771.3,216.5 L758.6,217.6 L758.6,217.6 L752.8,208.0 L751.2,201.4 L752.0,194.7 L756.1,184.5 L756.1,184.5 L768.0,183.4 L768.0,183.4 L774.8,191.0 L777.8,199.0 L779.0,203.7 L782.6,204.0 L784.9,201.5 L786.0,198.0 L787.7,190.2 L792.5,185.8 L795.3,184.0 L803.5,178.3 L803.5,178.3 L803.5,178.3 L803.5,178.3 L807.9,169.0 L806.2,160.8 L810.1,151.6 L813.3,148.0 L820.6,146.3 L826.8,147.6 L834.5,154.3 L834.5,154.3 L834.5,154.3 L842.3,160.8 L850.4,167.3 L850.4,167.3 L850.4,167.3 L850.4,167.3 L859.8,170.3 L867.1,179.9 L867.1,179.9 L867.1,179.9 L867.1,179.9 L879.1,176.0 L879.1,176.0 L879.1,176.0 L894.0,179.7 L899.0,180.9 L903.1,185.4 L906.8,191.4 L912.4,191.1 L914.6,186.2 L913.4,181.4 L912.1,172.6 L914.7,162.2 L914.7,162.2 L925.1,163.0 L928.9,162.2 L936.0,162.0 L945.8,167.0 L945.8,167.0 L947.7,180.0 L949.2,184.8 L949.7,193.1 L945.6,199.3 L938.1,199.3 L934.9,210.2 L934.9,210.2 L931.7,220.9 L928.0,231.7 L928.0,231.7 L922.2,241.2 L917.2,244.8 L913.5,249.1 L906.0,257.7 L906.0,257.7 L906.0,257.7 L891.8,261.9 L891.8,261.9 L891.8,261.9 L880.4,260.0 L876.2,260.3 L873.1,262.5 L870.6,267.6 L872.6,276.0 L874.7,284.4 L873.7,290.6 L869.4,294.7 L863.8,292.9 L860.1,287.8 L851.0,281.0 L845.6,283.8 L838.1,292.3 L838.1,292.3 L838.1,292.3 L838.1,292.3 L830.5,300.6 L824.8,303.4 L817.4,304.5 L817.4,304.5 L809.9,305.6 L804.6,303.4Z M902.8,203.9 L902.8,203.9 L902.8,203.9 L902.8,203.9 L902.8,203.9 L902.8,203.9 L902.8,203.9 L902.8,203.9Z M847.2,203.2 L847.2,203.2 L847.2,203.2 L847.2,203.2 L847.2,203.2 L847.2,203.2 L847.2,203.2 L847.2,203.2 L847.2,203.2Z M827.0,173.4 L827.0,173.4 L827.0,173.4 L827.0,173.4 L827.0,173.4 L827.0,173.4 L827.0,173.4 L827.0,173.4Z M750.6,174.8 L749.1,168.3 L750.6,162.7 L754.1,159.7 L764.5,150.4 L764.5,150.4 L777.7,165.5 L768.0,183.4 L768.0,183.4 L756.1,184.5 L750.6,174.8Z M785.5,171.1 L777.7,165.5 L777.7,165.5 L777.7,165.5 L764.5,150.4 L774.1,138.1 L779.9,140.1 L785.2,139.3 L789.2,141.4 L792.0,146.5 L793.5,154.7 L794.8,162.9 L794.8,169.7 L790.4,172.1 L785.5,171.1Z M808.8,297.1 L808.8,297.1 L823.5,294.9 L829.3,285.1 L835.0,275.4 L835.0,275.4 L835.0,275.4 L835.0,275.4 L849.2,272.6 L849.2,272.6 L849.2,272.6 L863.5,269.4 L868.6,259.3 L874.7,254.7 L880.6,254.3 L883.4,253.5 L889.4,253.6 L896.4,251.5 L896.4,251.5 L903.3,249.4 L907.1,245.1 L914.4,236.6 L914.4,236.6 L914.4,236.6 L921.8,215.4 L904.3,208.0 L899.1,214.3 L890.0,208.3 L890.0,208.3 L890.0,208.3 L872.2,196.1 L872.2,196.1 L872.2,196.1 L865.3,184.9 L863.1,181.1 L858.0,175.6 L852.0,172.7 L847.5,175.1 L838.8,170.5 L843.0,186.8 L843.0,186.8 L843.0,186.8 L849.2,198.2 L850.3,202.3 L850.6,205.8 L848.0,206.4 L842.8,212.9 L840.9,204.7 L839.0,196.5 L843.0,186.8 L834.9,180.1 L829.0,181.6 L823.0,182.9 L818.7,192.4 L818.7,192.4 L818.7,192.4 L818.7,192.4 L818.7,192.4 L815.3,176.1 L809.5,184.0 L804.5,183.8 L799.0,187.6 L799.0,187.6 L793.4,191.3 L791.0,193.5 L790.1,197.4 L787.8,204.5 L783.3,209.6 L778.2,209.0 L777.7,215.8 L775.5,220.8 L772.1,224.8 L768.1,228.0 L766.4,233.7 L770.0,237.6 L773.5,238.7 L779.8,241.8 L788.1,248.4 L788.1,248.4 L788.1,248.4 L788.1,248.4 L788.1,248.4 L793.5,259.8 L793.6,264.7 L795.1,277.3 L795.0,281.6 L808.8,297.1Z M799.2,229.9 L799.2,229.9 L799.2,229.9 L799.2,229.9 L799.2,229.9 L799.2,229.9 L799.2,229.9 L799.2,229.9Z M943.2,194.0 L945.3,190.9 L945.0,186.7 L942.9,180.0 L941.5,176.8 L939.7,169.9 L934.8,167.4 L931.3,167.5 L926.0,168.5 L923.6,169.6 L918.1,170.1 L916.8,175.4 L917.4,179.8 L919.2,186.5 L928.3,194.1 L928.3,194.1 L928.3,194.1 L943.2,194.0Z M809.4,211.3 L809.4,211.3 L809.4,211.3 L809.4,211.3 L809.4,211.3 L809.4,211.3 L809.4,211.3 L809.4,211.3Z M890.0,208.3 L897.0,187.8 L880.5,180.0 L872.2,196.1 L890.0,208.3Z M770.5,208.2 L775.3,206.0 L773.7,199.5 L772.2,195.4 L768.8,191.7 L764.1,193.7 L757.3,201.0 L765.3,207.0 L770.5,208.2Z M767.1,175.1 L772.0,166.2 L765.4,158.6 L754.8,167.9 L767.1,175.1Z M825.1,165.3 L829.3,162.5 L828.8,155.7 L825.0,152.4 L821.9,151.7 L818.3,152.6 L811.9,159.7 L815.3,176.1 L825.1,165.3Z M776.6,157.3 L786.5,147.5 L774.8,143.6 L770.0,149.8 L776.6,157.3Z" fill="#fcbba1" fill-rule="evenodd"/>
<path d="M795.0,281.6 L795.1,277.3 L793.6,264.7 L793.5,259.8 L788.1,248.4 L788.1,248.4 L788.1,248.4 L788.1,248.4 L788.1,248.4 L779.8,241.8 L773.5,238.7 L770.0,237.6 L766.4,233.7 L768.1,228.0 L772.1,224.8 L775.5,220.8 L777.7,215.8 L778.2,209.0 L783.3,209.6 L787.8,204.5 L790.1,197.4 L791.0,193.5 L793.4,191.3 L799.0,187.6 L799.0,187.6 L804.5,183.8 L809.5,184.0 L815.3,176.1 L818.7,192.4 L818.7,192.4 L818.7,192.4 L818.7,192.4 L818.7,192.4 L823.0,182.9 L829.0,181.6 L834.9,180.1 L843.0,186.8 L839.0,196.5 L840.9,204.7 L842.8,212.9 L848.0,206.4 L850.6,205.8 L850.3,202.3 L849.2,198.2 L843.0,186.8 L843.0,186.8 L843.0,186.8 L838.8,170.5 L847.5,175.1 L852.0,172.7 L858.0,175.6 L863.1,181.1 L865.3,184.9 L872.2,196.1 L872.2,196.1 L872.2,196.1 L890.0,208.3 L890.0,208.3 L890.0,208.3 L899.1,214.3 L904.3,208.0 L921.8,215.4 L914.4,236.6 L914.4,236.6 L914.4,236.6 L907.1,245.1 L903.3,249.4 L896.4,251.5 L896.4,251.5 L889.4,253.6 L883.4,253.5 L880.6,254.3 L874.7,254.7 L868.6,259.3 L863.5,269.4 L849.2,272.6 L849.2,272.6 L849.2,272.6 L835.0,275.4 L835.0,275.4 L835.0,275.4 L835.0,275.4 L829.3,285.1 L823.5,294.9 L808.8,297.1 L808.8,297.1 L795.0,281.6Z M799.2,229.9 L799.2,229.9 L799.2,229.9 L799.2,229.9 L799.2,229.9 L799.2,229.9 L799.2,229.9 L799.2,229.9Z M928.3,194.1 L928.3,194.1 L928.3,194.1 L919.2,186.5 L917.4,179.8 L916.8,175.4 L918.1,170.1 L923.6,169.6 L926.0,168.5 L931.3,167.5 L934.8,167.4 L939.7,169.9 L941.5,176.8 L942.9,180.0 L945.0,186.7 L945.3,190.9 L943.2,194.0 L928.3,194.1Z M809.4,211.3 L809.4,211.3 L809.4,211.3 L809.4,211.3 L809.4,211.3 L809.4,211.3 L809.4,211.3 L809.4,211.3Z M872.2,196.1 L880.5,180.0 L897.0,187.8 L890.0,208.3 L872.2,196.1Z M765.3,207.0 L757.3,201.0 L764.1,193.7 L768.8,191.7 L772.2,195.4 L773.7,199.5 L775.3,206.0 L770.5,208.2 L765.3,207.0Z M754.8,167.9 L765.4,158.6 L772.0,166.2 L767.1,175.1 L754.8,167.9Z M815.3,176.1 L811.9,159.7 L818.3,152.6 L821.9,151.7 L825.0,152.4 L828.8,155.7 L829.3,162.5 L825.1,165.3 L815.3,176.1Z M770.0,149.8 L774.8,143.6 L786.5,147.5 L776.6,157.3 L770.0,149.8Z M808.2,292.8 L820.7,278.0 L820.7,278.0 L820.7,278.0 L820.7,278.0 L829.2,270.7 L833.9,269.8 L840.4,265.6 L845.7,255.8 L845.7,255.8 L845.7,255.8 L845.7,255.8 L845.7,255.8 L854.4,262.6 L861.5,261.0 L864.0,256.0 L873.3,249.2 L873.3,249.2 L873.3,249.2 L873.3,249.2 L887.0,245.3 L882.1,228.8 L882.1,228.8 L882.1,228.8 L882.1,228.8 L882.1,228.8 L895.4,224.7 L887.0,216.5 L885.8,209.7 L873.9,201.6 L870.7,200.1 L868.0,197.3 L863.4,189.9 L859.1,182.3 L856.5,179.6 L853.5,178.1 L850.4,179.8 L849.1,185.2 L851.3,193.3 L851.3,193.3 L853.5,201.5 L854.0,208.4 L848.8,209.7 L838.3,222.7 L838.3,222.7 L838.3,222.7 L828.6,242.0 L828.6,242.0 L828.6,242.0 L828.6,242.0 L828.6,242.0 L812.3,227.8 L801.6,246.6 L801.6,246.6 L801.6,246.6 L796.9,256.7 L797.1,264.2 L798.1,272.6 L797.8,281.2 L808.2,292.8Z M912.5,231.1 L917.4,217.0 L905.7,212.1 L895.4,224.7 L912.5,231.1Z M787.1,240.0 L792.2,237.6 L792.6,230.8 L793.0,224.0 L797.9,221.6 L802.9,219.1 L803.0,212.3 L803.2,205.5 L807.9,203.0 L812.6,200.4 L812.6,193.6 L809.0,189.4 L805.5,189.3 L802.7,191.2 L794.2,196.8 L794.2,196.8 L794.2,196.8 L791.7,208.4 L784.0,215.1 L784.0,215.1 L784.0,215.1 L780.1,225.6 L773.0,233.1 L782.8,236.9 L787.1,240.0Z M828.6,242.0 L838.3,222.7 L822.0,208.9 L812.3,227.8 L828.6,242.0Z M888.2,202.9 L892.9,189.2 L881.9,184.0 L876.3,194.8 L888.2,202.9Z" fill="#fc8565" fill-rule="evenodd"/>
<path d="M797.8,281.2 L798.1,272.6 L797.1,264.2 L796.9,256.7 L801.6,246.6 L801.6,246.6 L801.6,246.6 L812.3,227.8 L828.6,242.0 L828.6,242.0 L828.6,242.0 L828.6,242.0 L828.6,242.0 L838.3,222.7 L838.3,222.7 L838.3,222.7 L848.8,209.7 L854.0,208.4 L853.5,201.5 L851.3,193.3 L851.3,193.3 L849.1,185.2 L850.4,179.8 L853.5,178.1 L856.5,179.6 L859.1,182.3 L863.4,189.9 L868.0,197.3 L870.7,200.1 L873.9,201.6 L885.8,209.7 L887.0,216.5 L895.4,224.7 L882.1,228.8 L882.1,228.8 L882.1,228.8 L882.1,228.8 L882.1,228.8 L887.0,245.3 L873.3,249.2 L873.3,249.2 L873.3,249.2 L873.3,249.2 L864.0,256.0 L861.5,261.0 L854.4,262.6 L845.7,255.8 L845.7,255.8 L845.7,255.8 L845.7,255.8 L845.7,255.8 L840.4,265.6 L833.9,269.8 L829.2,270.7 L820.7,278.0 L820.7,278.0 L820.7,278.0 L820.7,278.0 L808.2,292.8 L797.8,281.2Z M895.4,224.7 L905.7,212.1 L917.4,217.0 L912.5,231.1 L895.4,224.7Z M782.8,236.9 L773.0,233.1 L780.1,225.6 L784.0,215.1 L784.0,215.1 L784.0,215.1 L791.7,208.4 L794.2,196.8 L794.2,196.8 L794.2,196.8 L802.7,191.2 L805.5,189.3 L809.0,189.4 L812.6,193.6 L812.6,200.4 L807.9,203.0 L803.2,205.5 L803.0,212.3 L802.9,219.1 L797.9,221.6 L793.0,224.0 L792.6,230.8 L792.2,237.6 L787.1,240.0 L782.8,236.9Z M812.3,227.8 L822.0,208.9 L838.3,222.7 L828.6,242.0 L812.3,227.8Z M876.3,194.8 L881.9,184.0 L892.9,189.2 L888.2,202.9 L876.3,194.8Z M807.6,288.6 L815.9,278.7 L812.4,270.6 L817.9,261.2 L802.8,254.9 L800.4,260.0 L800.5,263.8 L801.0,268.0 L800.7,280.9 L807.6,288.6Z M832.9,264.3 L836.1,262.1 L838.7,257.3 L836.0,250.9 L830.2,250.3 L817.9,261.2 L828.2,265.1 L832.9,264.3Z M817.9,261.2 L824.1,242.8 L813.2,233.4 L806.1,245.9 L817.9,261.2Z M866.0,243.9 L871.8,243.6 L876.8,238.3 L877.7,230.1 L877.6,225.7 L879.7,220.6 L882.3,215.9 L881.5,211.1 L875.5,207.0 L869.1,204.1 L863.9,198.6 L861.6,194.8 L855.1,183.5 L855.5,196.6 L856.6,200.6 L857.4,211.0 L849.7,213.0 L842.7,221.6 L845.1,228.0 L842.0,239.2 L855.4,236.1 L855.4,236.1 L855.4,236.1 L855.4,236.1 L855.4,236.1 L859.5,252.7 L866.0,243.9Z M910.5,225.6 L913.0,218.6 L907.2,216.1 L902.0,222.4 L910.5,225.6Z M827.0,233.7 L831.8,224.0 L823.7,217.1 L818.8,226.6 L827.0,233.7Z M886.4,197.5 L888.7,190.7 L883.3,188.1 L880.5,193.4 L886.4,197.5Z" fill="#f34a36" fill-rule="evenodd"/>
<path d="M800.7,280.9 L801.0,268.0 L800.5,263.8 L800.4,260.0 L802.8,254.9 L817.9,261.2 L812.4,270.6 L815.9,278.7 L807.6,288.6 L800.7,280.9Z M828.2,265.1 L817.9,261.2 L830.2,250.3 L836.0,250.9 L838.7,257.3 L836.1,262.1 L832.9,264.3 L828.2,265.1Z M806.1,245.9 L813.2,233.4 L824.1,242.8 L817.9,261.2 L806.1,245.9Z M859.5,252.7 L855.4,236.1 L855.4,236.1 L855.4,236.1 L855.4,236.1 L855.4,236.1 L842.0,239.2 L845.1,228.0 L842.7,221.6 L849.7,213.0 L857.4,211.0 L856.6,200.6 L855.5,196.6 L855.1,183.5 L861.6,194.8 L863.9,198.6 L869.1,204.1 L875.5,207.0 L881.5,211.1 L882.3,215.9 L879.7,220.6 L877.6,225.7 L877.7,230.1 L876.8,238.3 L871.8,243.6 L866.0,243.9 L859.5,252.7Z M902.0,222.4 L907.2,216.1 L913.0,218.6 L910.5,225.6 L902.0,222.4Z M818.8,226.6 L823.7,217.1 L831.8,224.0 L827.0,233.7 L818.8,226.6Z M880.5,193.4 L883.3,188.1 L888.7,190.7 L886.4,197.5 L880.5,193.4Z M807.0,284.4 L811.2,279.4 L804.0,263.3 L803.5,280.5 L807.0,284.4Z M816.5,252.8 L819.6,243.6 L814.2,238.9 L810.6,245.2 L816.5,252.8Z M870.3,238.1 L872.8,235.4 L873.2,231.3 L873.1,222.5 L873.1,222.5 L877.2,212.4 L867.0,209.5 L859.7,199.8 L860.9,213.6 L850.5,216.3 L847.0,220.6 L848.7,225.2 L853.4,227.8 L858.4,229.4 L862.1,234.3 L866.2,238.3 L870.3,238.1Z" fill="#ca181d" fill-rule="evenodd"/>
<path d="M803.5,280.5 L804.0,263.3 L811.2,279.4 L807.0,284.4 L803.5,280.5Z M810.6,245.2 L814.2,238.9 L819.6,243.6 L816.5,252.8 L810.6,245.2Z M866.2,238.3 L862.1,234.3 L858.4,229.4 L853.4,227.8 L848.7,225.2 L847.0,220.6 L850.5,216.3 L860.9,213.6 L859.7,199.8 L867.0,209.5 L877.2,212.4 L873.1,222.5 L873.1,222.5 L873.2,231.3 L872.8,235.4 L870.3,238.1 L866.2,238.3Z" fill="#900a12" fill-rule="evenodd"/></g>
<g><path d="M648.4,138.1 L650.9,138.5 L653.5,139.0 L656.0,139.4 L658.6,139.8 L661.1,140.2 L663.7,140.5 L666.2,140.9 L668.9,141.2 L671.6,141.6 L674.3,141.9 L676.9,142.2 L679.6,142.4 L682.3,142.7 L684.6,142.9 L687.0,143.1 L689.3,143.3 L691.6,143.5 L694.0,143.6 L696.3,143.8 L698.7,143.9 L701.4,144.0 L704.1,144.2 L706.8,144.3 L709.5,144.3 L712.2,144.4 L714.9,144.4 L717.6,144.5 L720.3,144.5 L723.1,144.5 L725.8,144.4 L728.5,144.4 L731.2,144.3 L733.9,144.3 L736.6,144.2 L739.3,144.0 L741.9,143.9 L744.6,143.8 L747.2,143.6 L749.9,143.4 L752.6,143.2 L754.9,143.0 L757.3,142.8 L759.6,142.6 L762.0,142.3 L764.3,142.1 L766.7,141.8 L769.0,141.6 L771.7,141.2 L774.4,140.9 L777.1,140.5 L779.8,140.1 L782.5,139.7 L785.2,139.3 L787.8,138.9 L790.3,138.4 L792.9,138.0 L795.4,137.5 L797.9,137.0 L800.5,136.5 M640.3,159.9 L641.8,160.1 L643.4,160.4 L644.9,161.5 L646.6,162.2 L646.8,164.4 L646.8,166.1 L649.3,167.3 L651.7,166.6 L653.7,167.3 L655.6,167.9 L657.5,167.5 L659.3,167.1 L661.5,167.7 L663.4,167.1 L665.2,166.5 L666.9,166.6 L668.7,166.7 L668.8,166.3 L671.2,166.5 L673.5,166.8 L675.9,167.0 L678.3,167.3 L680.6,167.5 M682.3,142.7 L681.9,146.2 L681.6,149.8 L681.3,153.3 L680.9,156.9 L680.6,160.4 L680.2,164.0 L680.7,166.1 L680.6,167.5 M680.6,167.5 L681.7,169.2 L682.7,171.8 L681.5,174.0 L680.2,176.2 L677.8,180.1 L678.6,181.9 L679.4,182.8 L678.3,185.6 L678.0,189.3 L677.7,193.0 L677.3,196.8 L677.0,200.5 M632.9,194.6 L635.6,195.0 L638.3,195.5 L641.1,196.0 L643.8,196.4 L646.5,196.8 L649.5,197.3 L652.6,197.7 L655.7,198.1 L658.7,198.5 L661.8,198.9 L664.8,199.3 L667.9,199.6 L670.9,199.9 L674.0,200.2 L677.0,200.5 L680.1,200.8 L683.1,201.0 L686.2,201.2 L689.3,201.4 L692.4,201.6 L695.4,201.8 L698.5,201.9 L701.6,202.0 L704.6,202.2 L707.7,202.2 L710.8,202.3 L713.9,202.4 M658.7,198.5 L658.2,202.7 L657.7,206.8 L657.2,210.9 L656.7,215.1 L656.1,219.2 L655.6,223.4 L658.4,226.8 L661.3,230.2 L664.1,233.5 L667.0,236.9 L670.0,240.2 L673.0,243.6 L676.0,246.9 L679.1,250.2 L682.2,253.4 L685.3,256.7 L688.5,260.0 M695.4,201.8 L695.2,205.9 L695.0,210.1 L694.8,214.2 L694.6,218.4 L694.3,222.5 L694.1,226.7 L693.9,230.9 L693.7,235.0 L693.5,239.2 L693.3,243.4 M693.3,243.4 L693.1,246.8 L693.0,250.1 L690.6,250.4 L688.2,250.7 L688.3,254.9 L689.0,258.7 L688.5,260.0 M688.5,260.0 L688.8,261.7 L690.0,264.7 L691.6,266.0 L689.4,267.8 L688.2,270.6 L687.0,273.4 L688.3,276.6 L686.8,279.1 M687.6,143.2 L687.2,147.3 L686.9,151.4 L687.6,153.9 L688.4,156.3 L690.4,158.4 L692.4,160.5 L694.0,161.9 L695.7,163.2 L695.3,166.1 L695.0,169.0 L694.6,171.8 L697.5,171.2 L698.8,173.9 L700.2,176.7 L701.4,179.2 L702.6,181.8 L704.5,181.6 L706.5,181.5 L709.1,180.7 L711.8,179.9 L714.1,181.6 M714.2,177.5 L714.1,181.6 L714.1,185.8 L714.0,189.9 L714.0,194.1 L713.9,198.2 L713.9,202.4 L713.8,206.5 L713.8,210.7 M714.2,177.5 L716.7,177.5 L719.3,177.5 L721.8,177.5 L724.4,177.5 L726.9,177.5 L729.5,177.5 L732.0,177.4 L734.9,177.3 L737.8,177.2 L740.7,177.1 L743.6,176.9 L746.5,176.8 L749.4,176.6 L752.3,176.4 L755.1,176.2 M752.6,143.2 L752.9,146.8 L753.1,150.4 L753.4,154.0 L753.7,157.6 L754.0,161.2 L754.3,164.8 L754.5,168.4 L754.8,172.3 L755.1,176.2 L755.5,180.3 L755.8,184.5 L756.1,188.6 L756.4,192.8 L756.7,196.9 L757.0,201.0 L757.3,205.2 L757.6,209.3 M713.8,210.7 L716.9,210.7 L720.0,210.7 L723.2,210.7 L726.3,210.7 L729.0,210.6 L731.8,210.6 L734.5,210.5 L737.2,210.4 L740.0,210.3 L742.7,210.2 L745.4,210.1 L748.5,209.9 L751.5,209.7 L754.6,209.5 L757.6,209.3 L760.8,209.1 L763.9,208.8 L767.0,208.5 L770.2,208.2 M726.3,210.7 L726.3,214.8 L726.4,219.0 L726.4,223.2 L726.5,227.3 L726.5,231.5 L726.6,235.7 L726.6,239.8 L726.7,244.0 L726.7,248.0 L726.8,251.9 L726.8,255.9 L726.9,259.9 L726.9,263.8 L727.0,267.8 L727.0,271.8 L727.0,275.8 L727.1,279.8 L727.1,283.8 L727.2,287.8 L727.2,291.8 M693.3,243.4 L696.2,243.5 L699.1,243.7 L702.0,243.8 L704.9,243.9 L707.8,243.9 L710.7,244.0 L713.7,244.0 L716.9,244.1 L720.2,244.1 L723.4,244.1 L726.7,244.0 L729.6,244.0 L732.5,243.9 L735.4,243.9 L738.3,243.8 L741.2,243.7 L744.2,243.6 L747.1,243.4 L750.4,243.2 L753.7,243.1 L757.1,242.8 L760.4,242.6 L763.8,242.4 L767.1,242.1 L770.3,241.8 L773.4,241.5 L776.3,241.2 L779.2,240.9 L782.1,240.6 L785.0,240.3 L788.0,239.9 L790.9,239.6 L793.8,239.2 L797.1,238.7 L800.4,238.2 L803.7,237.7 L807.1,237.2 L810.4,236.7 L813.5,236.2 L816.6,235.6 L819.7,235.1 L822.8,234.5 M770.2,208.2 L770.6,212.4 L771.0,216.5 L771.4,220.7 L771.8,224.8 L772.2,229.0 L772.6,233.2 L773.0,237.3 L773.4,241.5 M771.0,216.5 L773.8,216.3 L776.5,216.0 L779.3,215.6 L782.1,215.3 L784.8,215.0 L787.6,214.6 L790.4,214.2 L793.5,213.8 L796.7,213.3 L799.9,212.8 L803.1,212.3 L805.7,211.9 L808.4,211.4 L811.1,211.0 L813.8,210.5 M767.1,242.1 L767.4,246.3 L767.2,246.3 L767.5,250.5 L767.9,254.7 L768.2,258.9 L768.5,263.1 L768.8,267.3 L769.2,271.5 L769.5,275.7 L769.8,279.9 L770.2,284.1 L767.0,284.4 L763.8,284.6 L760.6,284.8 L757.4,285.0 L754.2,285.2 L751.0,285.4 L747.8,285.5 L744.6,285.7 L745.3,287.5 M767.4,246.3 L770.8,246.0 L774.2,245.7 L777.5,245.3 L780.9,245.0 L784.2,244.6 L787.6,244.2 L788.1,248.2 L788.6,252.3 L789.1,256.4 L789.6,260.4 L791.8,261.5 L795.3,261.7 L797.2,262.5 L799.7,262.6 L803.2,262.3 L804.5,264.3 L807.2,264.4 L809.9,264.6 L811.7,262.6 L814.0,263.3 L816.8,262.7 L819.5,262.2 L821.5,261.4 L823.6,260.6 L826.3,261.5 L829.0,262.3 M829.0,262.3 L828.4,258.6 L827.8,254.9 L827.2,251.2 L826.6,247.5 L825.6,244.6 L824.6,241.6 L823.6,238.6 L822.8,234.5 M822.8,234.5 L822.2,231.0 L821.5,227.4 L820.9,223.9 L820.2,220.4 L819.6,216.9 L816.7,213.8 L816.7,211.4 L813.8,210.5 M813.8,210.5 L811.9,208.3 L810.1,206.0 L809.3,203.6 L808.6,201.2 L806.3,197.4 L804.0,193.5 L803.0,191.2 M803.0,191.2 L801.3,190.6 L799.4,189.9 L797.4,189.1 L795.6,189.8 L793.8,190.4 L791.9,189.7 L789.9,189.0 L786.9,189.5 L783.9,189.9 L780.9,190.3 L777.9,190.6 L774.9,191.0 L772.2,191.3 L769.6,191.6 L766.9,191.8 L764.3,192.1 L761.7,192.3 L759.0,192.5 L756.4,192.8 M803.0,191.2 L802.3,188.7 L801.5,186.3 L801.6,182.9 L800.9,179.2 L800.3,175.5 L799.6,171.8 L799.0,168.2 L796.2,166.1 L797.3,163.0 M754.5,168.4 L757.1,168.2 L759.7,168.0 L762.3,167.8 L764.9,167.5 L767.5,167.3 L770.0,167.0 L772.6,166.7 L775.2,166.4 L777.8,166.0 L780.6,165.7 L783.4,165.3 L786.1,164.9 L788.9,164.4 L791.7,164.0 L794.5,163.5 L797.3,163.0 M797.3,163.0 L796.7,160.1 L795.7,157.8 L794.7,155.4 L794.0,152.5 L793.4,149.7 L792.1,147.4 L790.9,145.1 L790.1,141.8 L789.3,138.6 M801.6,182.9 L804.5,182.4 L807.4,181.9 L810.3,181.3 L813.2,180.7 L816.1,180.1 L818.9,179.6 L821.6,179.0 L824.4,178.4 L827.1,177.7 L829.9,177.1 L832.6,176.4 M810.0,206.2 L812.8,205.7 L815.7,205.2 L818.5,204.6 L821.3,204.1 L824.2,203.5 L826.9,202.8 L829.7,202.2 L832.4,201.5 L835.2,200.8 L837.5,202.2 M823.6,238.6 L826.5,238.1 L829.3,237.5 L832.1,237.0 L834.9,236.4 L837.8,235.8 L840.9,235.1 L844.0,234.4 L847.2,233.7 L850.3,232.9 L853.4,232.2 L852.9,236.7 L855.2,236.1 L857.4,235.6 M833.1,267.1 L835.8,266.6 L838.5,266.0 L841.2,265.5 L843.9,264.9 L847.1,264.3 L850.2,263.6 L853.3,262.9 M833.1,267.1 L832.7,264.8 L832.2,262.5 L829.0,262.3 M833.1,267.1 L833.9,271.3 L834.7,275.5 L837.1,278.5 L839.5,281.6 L839.3,284.7 L839.2,287.7 L840.0,291.1 L839.7,294.7 M867.4,277.3 L864.0,278.1 L860.6,278.9 L857.1,279.7 L853.7,280.4 M853.7,280.4 L853.9,276.9 L854.3,275.0 L855.8,270.3 L856.4,267.9 L854.2,266.2 L853.3,262.9 M853.3,262.9 L852.3,259.6 L852.6,256.0 L852.9,252.5 L854.2,247.8 L855.4,244.9 M855.4,244.9 L856.0,241.2 L856.6,238.0 L857.4,235.6 L857.9,233.3 L857.6,231.1 L859.4,229.4 L859.0,226.4 M859.0,226.4 L856.0,224.5 L855.4,222.0 L852.5,220.2 L849.6,218.3 L848.3,216.8 L848.8,214.5 L848.8,212.8 L846.2,212.6 L844.4,210.8 L841.6,208.9 L838.8,207.0 L837.4,203.8 L837.5,202.2 M837.5,202.2 L838.9,199.1 L839.2,196.4 L837.8,194.6 L839.8,192.8 L841.8,191.0 L842.3,187.9 L841.5,185.9 L838.1,183.7 M838.1,183.7 L835.0,182.3 L833.8,179.6 L832.6,176.4 M832.6,176.4 L831.5,173.7 L829.2,172.3 L827.1,170.9 L824.2,169.4 L821.0,168.4 L820.6,166.1 L820.2,163.9 L818.7,160.8 L820.0,158.8 L821.3,156.7 L820.8,154.4 L820.2,152.1 L821.7,151.5 M867.4,277.3 L867.4,280.4 L870.0,284.0 M869.7,241.2 L870.6,241.9 L871.3,246.1 L871.9,250.4 L872.6,254.7 L873.3,259.0 L873.9,263.2 L874.6,267.5 L875.5,270.7 L876.5,274.0 L877.4,277.2 L878.4,280.4 M887.3,236.2 L888.9,239.6 L890.5,242.9 L892.2,246.3 L893.8,249.6 L895.5,253.0 L897.0,255.1 L898.5,257.2 L899.0,260.3 L899.5,263.3 L900.5,265.7 L901.4,268.2 M901.4,268.2 L898.3,269.1 L895.2,270.0 L892.1,270.9 L889.0,271.8 L885.9,272.6 L882.7,273.4 L883.1,274.7 L885.0,276.0 L885.4,279.0 M901.4,268.2 L903.2,270.4 L906.4,269.6 L909.6,268.8 L912.9,268.0 L916.1,267.2 L919.3,266.3 L922.5,265.5 L924.3,266.8 L923.9,263.3 L927.6,262.4 M855.4,244.9 L858.3,244.2 L861.1,243.5 L864.0,242.7 L866.8,242.0 L869.7,241.2 L872.6,240.4 L875.5,239.6 L878.5,238.8 L881.4,238.0 L884.3,237.1 L887.3,236.2 L890.2,235.4 L893.0,234.5 L895.9,233.6 L898.6,232.7 L901.4,231.8 L904.1,230.9 M858.3,231.0 L861.2,230.2 L864.2,229.4 L867.2,228.6 L866.8,227.1 L869.6,226.5 L872.3,225.7 L875.1,225.0 L877.8,224.3 L880.5,223.6 L883.6,222.7 L886.7,221.8 L889.8,220.9 L892.8,220.0 L895.9,219.1 L899.2,218.0 L902.5,216.9 L905.7,215.8 L909.0,214.6 M895.9,233.6 L896.7,229.7 L898.3,228.4 L899.9,227.1 L901.4,224.9 L902.8,222.7 L904.5,221.2 L906.3,220.3 L908.0,219.5 L909.0,214.6 M909.0,214.6 L912.0,213.6 L914.9,212.6 L917.8,211.6 L920.8,210.5 L923.7,209.4 L926.6,208.4 L929.5,207.2 L932.4,206.0 L935.3,204.8 L938.2,203.6 L941.1,202.4 L944.0,201.1 L946.8,199.8 M904.1,230.9 L906.4,229.2 L908.6,227.5 L911.5,226.7 L914.5,225.8 L917.4,224.9 L917.7,225.7 L918.4,225.0 L920.2,226.9 L922.7,226.0 L925.2,225.2 L927.7,224.3 L931.2,225.9 L934.7,227.5 L938.2,229.0 M904.1,230.9 L903.3,233.9 L907.0,235.0 L910.8,238.3 L913.4,239.4 L916.1,240.6 L920.7,243.6 L922.5,246.7 L925.7,250.2 L927.8,250.1 M895.9,219.1 L897.5,217.4 L899.0,215.8 L900.9,213.3 L902.8,210.8 L904.4,207.6 M904.4,207.6 L907.3,207.9 L910.2,208.1 L912.7,206.0 L915.2,203.9 L915.6,199.2 L915.8,196.5 L916.1,193.9 L919.2,193.5 L920.1,189.9 L920.8,186.8 L921.4,183.8 L923.5,184.2 L925.5,184.6 L925.5,182.8 M904.4,207.6 L900.7,206.1 L898.4,203.7 L897.9,201.9 M897.9,201.9 L899.8,199.5 L899.2,197.9 L901.5,195.3 L901.2,193.5 L903.7,190.8 L905.0,187.5 L905.0,182.9 L903.4,180.0 L904.1,179.2 M897.9,201.9 L894.4,200.3 L892.5,201.4 L890.6,202.5 L888.6,202.4 L886.6,202.3 L883.9,200.4 L881.9,201.1 M881.9,201.1 L882.2,203.9 L880.6,204.7 L878.9,205.6 L878.7,209.3 L877.8,212.2 L874.9,211.8 L874.1,214.0 L872.4,215.1 L870.6,216.2 L867.0,215.9 L865.1,217.9 L864.4,217.9 M864.4,217.9 L864.8,220.4 L862.7,221.9 L863.1,224.7 L861.0,225.5 L859.0,226.4 M864.4,217.9 L864.2,214.4 L865.9,209.5 L865.0,206.9 L864.2,204.3 L863.0,200.3 L861.9,196.4 L860.8,192.5 L859.6,188.6 L858.5,184.6 M881.9,201.1 L880.8,197.6 L879.6,194.1 L878.5,190.5 L877.4,187.0 L876.2,183.5 L875.1,180.0 M862.8,183.4 L865.3,182.7 L867.7,182.1 L870.2,181.4 L872.6,180.7 L875.1,180.0 L877.8,179.0 L880.5,178.0 L883.2,177.0 M904.1,179.2 L902.7,175.6 L901.3,172.0 L899.9,168.4 L898.9,165.8 M904.1,179.2 L905.5,182.9 L907.0,186.6 L909.1,185.8 L911.2,184.9 L913.4,184.1 L916.4,182.8 L919.5,181.6 L922.5,180.3 L925.5,179.0 L928.1,177.9 L930.8,176.7 L933.4,175.6 L936.0,174.4 M913.4,184.1 L914.2,186.1 L915.0,188.2 L916.5,185.1 L918.3,183.2 L920.1,182.4 L921.4,181.2 L923.9,180.8 L925.5,182.8 M925.5,182.8 L927.7,183.9 L930.6,184.3 L931.5,185.1 L931.6,188.9 L933.8,188.9 L936.6,189.6 L939.3,190.3 M936.0,174.4 L937.7,177.6 L939.4,180.9 L941.1,184.1 L943.1,183.2 L945.2,182.3 M936.0,174.4 L936.7,173.0 L937.9,172.7 M937.9,172.7 L939.3,170.6 L940.7,168.0 L937.9,166.9 L936.1,165.4 L935.6,162.7 L936.5,158.5 M936.5,158.5 L939.5,158.7 L942.5,158.9 M936.5,158.5 L933.5,157.5 L930.2,155.2 L927.7,156.4 L925.2,157.5 L922.7,158.7 L920.2,159.8 L917.7,160.9 L915.0,162.1 L912.4,163.2 L909.7,164.4 L907.0,165.5 L904.4,166.6 L903.5,164.4 M944.0,158.2 L944.2,156.1 L943.4,155.5 L942.1,152.6 L940.8,149.6 L940.1,146.5 L939.3,143.5 L937.8,140.3 L936.3,137.2 L935.2,137.3 L934.2,134.9 L933.1,132.5 L931.5,129.4 L929.9,126.3 M940.8,149.6 L943.3,148.4 L945.7,147.2 L948.2,146.0 L950.7,144.7 L953.1,143.4 L953.6,144.4 L955.5,145.5 L956.7,146.6 M950.7,144.7 L952.0,147.1 L953.2,149.5 L953.3,150.3 M939.3,143.5 L941.7,142.3 L944.0,141.2 L946.2,140.1 L948.5,139.1 L950.7,137.9 L950.8,137.5 L951.7,135.7 L952.7,135.2 M944.0,141.2 L943.0,138.9 L942.0,136.7 L941.6,133.4 L941.1,130.2 L940.0,127.9 L941.5,125.1 L939.9,121.0 M952.5,133.3 L949.7,131.8 L947.5,128.2 L945.3,124.6 L943.1,121.0 L940.9,117.4 M830.9,150.3 L833.0,151.7 L835.1,151.7 L837.2,151.8 L839.2,151.9 L842.3,152.0 L845.4,152.1 L846.9,154.1 L848.4,156.1 L850.1,157.7 M838.1,183.7 L840.6,183.1 L843.0,182.5 L845.5,181.8 L847.9,181.1 L850.3,180.5 L852.7,179.8 L855.1,179.1 L857.5,178.4 L859.8,177.7 M850.1,157.7 L852.0,155.8 L853.9,153.9 L855.7,154.1 L857.4,154.2 L857.3,158.4 L857.2,162.6 L857.1,166.2 L856.9,169.8 L858.3,173.8 L859.8,177.7 L860.2,180.9 L860.5,184.1 L858.5,184.6 M860.5,184.1 L862.8,183.4 M698.3,143.9 L696.7,141.3 L695.2,138.7 L695.6,135.9 L696.1,133.0 L694.3,131.2 L692.6,129.4 L691.0,127.3 L689.3,125.0 L687.0,121.5 L684.8,118.0 L682.8,116.7 L680.9,115.4 L679.1,114.1 L678.3,111.5 L677.6,108.9 L675.6,106.4 L673.6,104.0 L671.6,101.5 L672.1,97.8 L672.6,94.2 L673.1,90.6 L673.6,87.0 L674.1,83.4 M720.3,144.5 L720.3,140.3 L720.3,136.2 L720.3,132.1 L720.3,128.0 L720.3,123.8 L720.3,119.7 L720.3,115.6 L720.3,111.4 L720.3,107.3 L720.3,103.2 L720.3,99.0 L720.3,94.9 L720.3,90.7 L720.3,86.6 M767.1,141.8 L766.4,137.7 L765.8,133.6 L765.1,129.5 L764.5,125.4 L763.7,121.3 L763.0,117.3 L762.3,113.2 L761.6,109.1 L760.9,105.3 L760.2,101.5 L759.5,97.6 L758.9,93.8 L758.2,90.0 L757.5,86.2 L757.2,82.9 L756.8,79.6 L756.4,76.3 M799.9,133.4 L799.1,129.4 L798.3,125.4 L797.4,121.4 L796.6,117.4 L795.8,113.3 L795.0,109.3 L794.2,105.3 L795.9,102.6 L797.6,99.8 L799.2,97.0 L800.9,94.2 L802.5,91.4 L804.0,88.6 L805.6,85.8 L807.0,82.9 L808.4,80.0 L809.8,77.1 L811.1,74.2 L812.5,71.3 L813.7,68.3 L815.0,65.4 M865.4,72.0 L867.2,75.9 L868.9,79.7 L870.6,83.6 L872.3,87.5 L874.1,91.4 L875.8,95.2 L877.4,99.1 L879.1,102.9 L880.8,106.8 L882.5,110.6 L884.1,114.5 L885.8,118.3 L887.5,122.2 L890.0,123.4 L893.0,125.9 L896.5,127.4 L900.0,128.8 L902.5,129.1 L904.9,129.4 L906.6,128.9 L908.3,128.3 L912.5,130.2 L915.6,129.6 L917.4,127.8 L919.2,126.0 L922.0,124.8 L923.7,127.6 L923.5,129.1 M942.7,96.2 L943.8,94.2 L944.8,92.3 L944.2,89.1 L945.4,87.8 L946.7,86.5 L948.7,85.7 L950.6,85.0 L952.6,82.6 M974.5,89.6 L973.7,91.2" fill="none" stroke="#000" stroke-width="0.9" stroke-linejoin="round"/>
<path d="M688.9,319.5 L692.3,319.6 L695.7,319.8 L699.1,319.9 M733.3,291.7 L731.7,294.6 L730.1,297.6 L728.4,300.5 L729.2,304.2 L730.0,307.9 L730.8,311.6 L729.3,314.6 L727.9,317.6 L729.8,320.6 L731.8,323.6 L730.3,326.2 L728.8,328.8 L730.3,331.3 L731.9,333.9 M724.6,331.4 L728.2,332.6 L731.9,333.9 M731.9,333.9 L734.7,335.5 L737.4,337.2 L740.5,337.1 L743.6,337.0 L745.7,339.6 L747.7,342.1 L745.9,345.2 L744.0,348.3 L747.3,351.2 L750.5,354.1 L752.3,357.1 L754.0,360.1 L755.7,362.6 L757.5,365.2 M743.6,337.0 L747.4,333.9 L751.1,330.7 L754.2,330.6 L757.3,330.4 L760.4,331.1 L763.5,331.8 L767.3,329.8 M767.3,329.8 L767.8,325.9 L768.3,322.0 L767.2,317.7 L766.2,313.5 L769.4,311.8 L772.7,310.0 M767.3,329.8 L769.8,333.5 L772.4,337.2 L774.6,340.1 L776.8,343.0 L778.2,345.5 L779.6,348.0 L783.4,346.4 L787.2,344.7 M799.4,319.1 L797.0,321.9 L794.7,324.8 L793.1,328.0 L791.4,331.2 L793.6,333.6 L795.9,336.0 L794.2,338.8 L792.5,341.6 L795.1,343.9 L791.2,344.3 L787.2,344.7 M800.9,321.5 L802.3,325.7 L803.8,329.9 L804.6,333.3 L805.4,336.7 L804.2,339.9 L803.0,343.1 L802.2,346.7 L801.4,350.3 L802.6,353.7 L803.8,357.1 L800.5,357.4 M787.2,344.7 L786.0,348.3 L784.7,351.9 L782.1,354.4 L779.5,356.8 L776.3,357.0 L773.1,357.2 L769.9,357.5 L768.2,362.0 L766.4,366.4 M795.1,343.9 L796.5,347.3 L797.8,350.7 L799.2,354.0 L800.5,357.4 L804.8,359.2 L809.1,360.9" fill="none" stroke="#000" stroke-width="0.6" stroke-linejoin="round"/>
<path d="M648.4,138.1 L650.9,138.5 L653.5,139.0 L656.0,139.4 L658.6,139.8 L661.1,140.2 L663.7,140.5 L666.2,140.9 L668.9,141.2 L671.6,141.6 L674.3,141.9 L676.9,142.2 L679.6,142.4 L682.3,142.7 L684.6,142.9 L687.0,143.1 L689.3,143.3 L691.6,143.5 L694.0,143.6 L696.3,143.8 L698.7,143.9 L701.4,144.0 L704.1,144.2 L706.8,144.3 L709.5,144.3 L712.2,144.4 L714.9,144.4 L717.6,144.5 L720.3,144.5 L723.1,144.5 L725.8,144.4 L728.5,144.4 L731.2,144.3 L733.9,144.3 L736.6,144.2 L739.3,144.0 L741.9,143.9 L744.6,143.8 L747.2,143.6 L749.9,143.4 L752.6,143.2 L754.9,143.0 L757.3,142.8 L759.6,142.6 L762.0,142.3 L764.3,142.1 L766.7,141.8 L769.0,141.6 L771.7,141.2 L774.4,140.9 L777.1,140.5 L779.8,140.1 L782.5,139.7 L785.2,139.3 L787.8,138.9 L790.3,138.4 L792.9,138.0 L795.4,137.5 L797.9,137.0 L800.5,136.5 L799.9,133.4 L801.7,133.6 L802.9,136.0 L803.9,138.2 L806.2,138.5 L808.5,138.7 L810.6,137.9 L812.7,137.2 L814.6,137.9 L816.4,138.6 L819.2,139.2 L821.9,139.8 L823.6,138.5 L825.3,137.3 L827.6,137.4 L829.9,137.5 L832.3,137.5 L833.7,137.4 L836.0,135.3 L838.3,133.2 L841.5,134.0 L844.6,134.8 L847.8,135.6 L851.1,136.3 L854.3,137.0 L857.5,137.7 L860.8,138.4 L863.7,141.4 L866.0,140.1 L868.0,143.0 L871.0,142.8 L870.7,144.6 L873.7,145.9 L876.8,147.3 L879.8,148.6 L881.7,152.2 L883.6,155.7 L885.5,159.2 L885.6,161.9 L885.6,164.6 L886.3,168.0 L884.9,170.6 L883.7,171.7 L884.2,173.8 L885.1,175.2 L887.4,175.2 L889.6,175.2 L891.4,172.9 L893.2,170.7 L894.9,168.4 L897.1,166.7 L899.2,164.9 L901.3,163.2 L903.1,161.4 L904.8,159.7 L906.5,158.0 L905.7,158.1 L904.3,154.8 L902.9,153.7 L905.1,151.1 L907.9,149.9 L910.6,148.7 L913.3,147.5 L916.0,146.3 L916.2,141.7 L917.8,138.6 L918.9,135.8 L919.9,133.0 L921.2,131.5 L922.6,130.1 L925.0,128.8 L927.5,127.6 L929.9,126.3 L932.4,125.0 L934.9,123.7 L937.5,122.3 L939.9,121.0 L939.6,119.1 L940.9,117.4 L942.4,117.1 L942.0,115.8 L942.6,112.0 L941.6,108.5 L941.6,106.0 L941.4,102.5 L941.3,99.0 L941.1,95.5 L942.7,96.2 L943.9,96.5 L945.1,94.9 L946.2,93.4 L950.1,94.0 L951.8,96.7 L953.6,99.5 L955.4,102.2 L958.7,103.8 L960.8,106.6 L962.4,106.1 L965.0,108.1 M669.6,279.6 L673.0,279.5 L676.5,279.4 L679.9,279.4 L683.4,279.3 L686.8,279.1 L686.0,281.0 L689.3,282.4 L692.6,283.8 L695.9,285.2 L699.2,286.5 L702.5,287.9 L705.9,289.2 L709.2,290.5 L712.6,291.8 L715.5,291.8 L718.4,291.8 L721.4,291.8 L724.3,291.8 L727.2,291.8 L730.3,291.7 L733.3,291.7 L733.2,287.9 L736.3,287.8 L739.3,287.7 L742.3,287.6 L745.3,287.5 L746.4,287.9 L749.9,290.7 L753.4,293.5 L756.9,296.3 L758.1,298.7 L759.4,301.1 L761.1,304.8 L763.8,306.3 L766.5,307.7 L769.0,308.8 L771.5,309.9 L773.1,306.5 L774.6,303.1 L777.2,301.7 L780.6,301.8 L783.9,302.0 L786.9,304.6 L789.9,307.1 L791.7,310.4 L793.4,313.7 L796.8,316.7 L800.3,319.8 L801.2,324.1 L802.8,326.5 L804.5,328.9 L808.1,330.0 L811.8,331.0 L814.0,331.6 L816.3,332.2 L820.0,330.7" fill="none" stroke="#000" stroke-width="0.9" stroke-linejoin="round"/>
<path d="M612.5,77.5 L612.8,78.9 L614.5,79.3 L615.7,79.9 L616.1,80.8 L617.2,82.4 L618.4,82.9 L619.7,83.6 L620.4,85.0 L621.5,85.5 L622.8,86.8 L622.6,88.2 L622.9,89.1 L622.3,91.0 L623.3,92.2 L624.7,93.9 L625.1,94.7 L626.2,96.5 L626.5,97.2 L626.0,99.1 L627.1,100.7 L626.9,101.8 L628.5,102.9 L629.4,103.9 L629.5,105.9 L630.0,108.0 L628.5,109.2 L629.3,111.0 L628.9,112.4 L629.0,113.7 L629.3,115.3 L630.6,115.5 L631.5,118.1 L632.3,118.6 L633.3,119.6 L634.2,121.4 L635.9,121.6 L637.0,122.5 L638.0,123.2 L639.6,123.7 L640.1,125.0 L640.9,126.4 L641.3,126.8 L642.1,128.4 L643.6,129.9 L644.5,130.6 L645.7,132.1 L647.1,132.6 L648.1,134.2 L649.5,135.7 L649.6,137.9 L651.3,138.6 L652.4,140.9 L651.5,143.3 L652.1,144.5 L652.7,146.4 L651.6,147.5 L651.9,149.4 L651.7,150.5 L650.5,151.5 L650.7,153.2 L649.1,153.5 L648.0,154.0 L648.5,152.8 L649.6,151.0 L650.7,149.3 L651.0,147.8 L649.9,145.8 L648.0,145.5 L647.0,144.9 L645.5,144.8 L644.0,144.3 L642.3,143.4 L641.5,141.8 L639.8,141.7 L639.4,143.2 L639.6,144.4 L639.5,145.7 L640.0,147.4 L638.7,149.5 L639.9,150.9 L640.6,152.5 L641.0,154.5 L640.9,156.6 L640.9,158.3 L640.2,159.7 L640.0,160.9 L640.3,162.8 L639.7,164.3 L639.6,166.1 L638.6,167.3 L638.2,168.5 L638.7,170.1 L638.2,171.9 L637.6,173.3 L636.7,175.0 L637.4,176.8 L636.4,178.2 L636.0,179.7 L635.7,181.9 L635.1,183.1 L634.5,184.1 L633.4,185.3 L632.1,187.3 L631.9,189.2 L632.4,191.1 L632.7,193.0 L632.9,194.6 L632.9,196.7 L632.6,198.6 L632.7,200.5 L631.7,202.2 L631.6,204.1 L630.8,205.7 L629.4,207.2 L630.3,208.5 L631.0,209.3 L631.3,211.3 L631.4,212.3 L632.7,213.8 L631.9,215.2 L632.2,216.9 L632.1,218.0 L631.8,219.9 L633.0,221.4 L633.2,223.5 L633.9,224.4 L634.5,225.3 L635.3,226.8 L635.3,229.0 L636.3,229.8 L638.0,231.1 L639.5,230.1 L640.9,229.4 L639.4,230.6 L639.7,232.3 L638.4,232.9 L637.6,233.6 L637.2,235.2 L637.9,236.2 L639.1,237.2 L639.5,238.6 L641.4,240.1 L640.5,241.7 L640.0,243.0 L641.3,244.7 L642.3,245.7 L642.4,247.1 L643.6,248.2 L644.1,250.3 L645.4,251.2 L646.0,252.6 L647.3,254.9 L647.1,256.7 L647.3,258.0 L646.7,259.5 L647.8,261.0 L649.1,261.7 L650.7,260.9 L651.9,261.5 L653.0,262.0 L654.6,263.5 L655.9,264.5 L657.0,265.1 L658.9,266.1 L661.0,266.0 L661.5,268.4 L663.3,268.4 L664.2,269.6 L665.6,270.8 L666.2,271.7 L667.5,272.8 L667.4,274.1 L669.6,275.6 L668.9,276.8 L670.2,278.1 L669.6,279.6 M820.5,370.1 L820.8,369.0 L820.4,367.0 L819.6,365.7 L819.1,364.0 L819.5,362.9 L819.4,361.4 L819.7,359.9 L819.2,358.7 L818.4,357.4 L818.2,355.4 L818.2,353.9 L817.8,352.7 L817.3,351.5 L817.5,349.6 L817.8,348.3 L817.9,346.9 L817.5,345.1 L817.5,343.9 L817.5,342.4 L818.8,341.1 L818.6,339.8 L819.5,338.9 L818.9,336.7 L818.6,335.3 L820.3,333.8 L819.6,332.5 L820.0,330.7 L819.9,329.3 L819.2,328.4 L818.6,326.7 L818.9,325.3 L818.5,323.7 L817.9,322.8 L817.5,321.1 L816.9,319.4 L817.1,317.8 L816.8,316.7 L817.4,315.0 L818.7,313.9 L818.4,312.8 L819.9,311.1 L821.4,309.9 L822.6,308.9 L824.0,308.6 L824.6,306.9 L826.1,306.2 L827.1,305.9 L827.9,304.7 L828.9,304.1 L830.1,302.9 L831.2,301.8 L832.2,300.1 L833.2,298.9 L835.2,297.2 L836.6,297.1 L838.6,295.9 L839.7,294.7 L841.6,293.9 L843.2,293.6 L844.4,293.2 L845.8,293.0 L848.0,294.2 L849.1,293.7 L851.2,293.6 L852.8,293.0 L855.2,293.4 L856.2,293.4 L858.3,293.9 L859.2,294.3 L861.2,294.1 L862.6,295.7 L863.8,294.3 L865.4,295.3 L867.0,294.3 L868.4,292.8 L869.5,291.9 L870.8,292.5 L872.3,292.5 L873.9,294.0 L875.7,293.2 L876.4,291.2 L875.5,290.3 L874.1,289.4 L872.8,289.4 L871.5,288.2 L870.6,286.4 L871.8,285.7 L872.4,284.6 L870.0,284.0 L871.9,282.3 L873.0,281.9 L874.6,280.9 L876.3,281.1 L878.4,280.4 L880.6,279.9 L879.4,278.5 L880.5,276.7 L881.6,278.8 L882.5,279.8 L883.6,279.3 L885.4,279.0 L887.1,278.1 L888.7,278.7 L889.3,277.2 L891.0,276.2 L892.0,276.3 L893.8,276.1 L895.9,276.2 L897.7,276.5 L898.5,277.0 L900.0,277.9 L900.9,279.2 L902.1,280.0 L903.6,279.4 L904.8,279.8 L906.4,279.3 L906.2,277.6 L907.8,276.7 L908.7,275.6 L909.8,274.5 L910.9,273.5 L913.0,273.2 L914.3,274.3 L915.4,275.4 L916.9,276.5 L917.8,277.2 L919.2,278.3 L920.5,279.5 L922.4,279.6 L923.4,280.5 L924.0,282.2 L925.0,283.9 L925.3,285.4 L925.1,286.9 L925.0,287.9 L925.1,289.4 L926.4,290.4 L927.6,291.9 L928.3,293.3 L929.8,294.4 L930.4,295.6 L931.4,296.5 L933.2,296.9 L933.8,298.3 L935.3,299.3 L936.9,300.1 L937.8,301.5 L938.4,303.4 L939.8,303.5 L941.0,303.7 L942.4,304.0 L943.4,304.9 L943.7,306.0 L944.5,307.5 L945.5,308.2 L947.1,308.3 L948.7,307.6 L949.7,306.9 L951.3,306.2 L951.3,303.8 L951.8,302.7 L951.6,300.4 L951.1,299.1 L951.4,297.5 L950.3,296.6 L950.0,294.8 L950.0,293.3 L949.2,291.8 L948.3,290.1 L947.2,289.3 L947.0,287.8 L945.3,286.5 L944.7,285.7 L944.1,284.4 L943.4,283.3 L941.9,281.7 L942.3,280.7 L940.5,279.6 L939.3,278.1 L938.2,278.0 L937.5,276.9 L937.3,275.4 L936.1,274.5 L934.2,274.0 L934.3,272.4 L933.2,271.2 L933.2,269.4 L931.4,269.1 L930.7,268.0 L929.7,266.2 L928.8,264.9 L927.7,264.3 L927.6,262.4 L926.2,260.8 L926.8,259.1 L926.8,257.8 L926.5,256.4 L926.4,255.0 L926.9,253.5 L927.2,251.4 L927.8,250.1 L928.5,249.1 L929.1,247.2 L929.9,246.4 L931.0,245.0 L932.2,243.4 L932.6,242.1 L932.7,240.6 L933.3,238.9 L934.4,238.2 L935.4,236.8 L935.3,235.2 L935.8,234.2 L936.2,232.8 L937.3,232.0 L937.3,229.4 L938.2,229.0 L939.3,228.4 L940.5,227.6 L941.9,227.4 L942.4,225.9 L942.0,224.8 L942.8,223.8 L942.6,222.0 L944.6,221.3 L944.4,220.0 L945.7,218.8 L946.6,217.9 L947.9,217.1 L949.4,217.4 L949.2,216.0 L950.4,214.9 L951.3,213.3 L951.3,212.3 L953.0,211.3 L953.7,209.3 L953.0,208.1 L952.8,206.3 L951.5,205.6 L951.0,204.1 L949.9,203.2 L948.9,202.3 L947.9,201.3 L946.8,199.8 L946.3,197.8 L944.7,197.2 L942.7,197.9 L941.5,197.3 L940.7,195.9 L940.3,194.5 L940.6,193.1 L940.1,191.0 L938.8,190.0 L937.0,189.0 L935.4,188.7 L933.8,188.9 L935.3,188.9 L936.7,188.6 L935.8,187.2 L936.6,185.7 L936.6,184.1 L934.6,183.2 L934.2,182.0 L934.1,180.6 L933.9,178.8 L935.4,178.1 L935.5,176.7 L935.4,178.1 L935.8,179.8 L936.4,181.1 L936.3,182.9 L936.4,184.2 L937.2,185.5 L938.5,186.5 L940.6,187.3 L941.8,188.7 L943.1,189.5 L943.6,190.8 L943.7,192.2 L943.9,194.1 L944.3,195.5 L944.1,193.9 L945.3,192.4 L945.0,191.1 L945.6,189.7 L945.0,188.2 L945.2,186.6 L945.5,184.6 L945.9,183.4 L945.2,182.3 L945.1,181.0 L943.6,179.7 L942.4,178.8 L941.2,176.9 L939.9,176.6 L938.6,175.9 L937.9,174.6 L938.7,175.7 L939.9,176.1 L941.3,175.7 L942.7,176.2 L944.3,178.1 L945.0,177.1 L945.5,175.6 L945.8,173.9 L945.6,172.9 L945.5,171.3 L946.1,169.3 L945.9,168.1 L944.8,166.7 L944.9,165.5 L944.2,163.9 L942.3,162.9 L943.1,161.6 L944.0,159.6 L944.0,158.2 L945.3,156.5 L946.6,155.4 L947.9,155.2 L949.6,153.7 L950.3,152.4 L951.2,151.1 L953.3,150.3 L955.1,148.8 L954.5,146.3 L956.3,146.9 L957.4,146.3 L958.2,145.1 L958.6,143.6 L959.4,145.0 L960.6,143.9 L961.4,142.8 L962.6,141.9 L962.2,140.6 L960.8,138.8 L959.6,139.3 L960.7,140.5 L961.7,141.1 L959.6,141.2 L959.1,142.5 L957.3,141.3 L955.4,139.9 L953.9,139.7 L953.9,137.7 L954.9,136.2 L952.8,135.1 L952.5,133.3 L952.5,132.0 L952.1,130.6 L953.7,129.0 L952.8,127.3 L953.6,126.4 L954.3,124.9 L955.6,123.9 L956.4,122.1 L956.3,120.6 L956.7,118.4 L956.7,116.4 L958.1,116.6 L959.4,117.3 L960.6,115.6 L960.7,113.8 L962.3,112.4 L963.2,111.4 L964.5,110.0 L965.0,108.1 L963.8,107.7 L963.2,106.2 L964.4,104.6 L966.1,104.3 L966.6,102.6 L967.7,101.7 L968.5,100.9 L968.8,99.3 L969.3,97.9 L969.6,96.3 L970.9,94.9 L971.7,93.7 L972.7,91.9 L972.3,93.4 L973.2,95.4 L973.2,97.0 L972.5,97.8 L972.1,99.9 L971.8,101.3 L972.8,103.1 L972.2,104.5 L971.4,106.0 L972.9,108.0 L971.5,109.2 L972.9,109.7 L973.5,110.9 L974.2,112.8 L975.4,112.2 L977.1,112.7 L978.6,113.1 L978.9,112.0 L979.9,110.2 L980.6,109.1 L981.2,107.8 L981.3,106.3 L981.9,104.9 L981.2,103.9 L981.5,102.5 L983.1,100.9 L983.4,100.2 L983.7,97.8 L983.9,97.3 L985.5,95.8 L986.0,94.6 L987.2,93.8 L988.0,92.5 L988.5,91.2 L988.9,90.4 L989.8,89.0 M987.0,69.8 L986.4,71.2 L986.6,72.3 L986.5,74.2 L987.0,75.1 L987.4,76.6 L987.3,77.9 L987.6,79.4 L987.5,80.7 L986.5,80.5 L985.9,82.4 L984.6,82.8 L982.8,83.2 L982.0,84.1 L980.6,84.7 L979.5,85.5 L978.2,86.0 L976.9,86.4 L975.8,86.7 L974.0,88.3 L972.8,89.0 L970.9,89.4 L970.3,88.4 L969.5,87.0 L968.0,85.7 L966.2,85.6 L965.2,84.7 L964.4,83.0 L962.0,84.1 L962.1,82.7 L961.1,81.7 L959.5,81.2 L957.7,81.2 L956.0,81.4 L954.3,82.4 L952.6,82.6 L952.9,80.8 L954.0,79.5 L954.8,78.4 L956.7,78.1 L956.5,76.1 L957.6,75.2 L958.9,74.5 L959.8,73.4 L959.6,72.1 L959.4,70.3 L958.9,69.2 L957.6,69.5 L955.8,69.2 L954.9,68.7 L953.4,69.3 L952.5,70.0 L951.5,71.6 L949.7,72.0 L949.3,72.9 L947.8,73.8 L946.8,74.9 L945.7,76.1 L944.6,77.3 L943.8,78.3 L943.2,79.9 L942.2,80.8 L941.7,82.7 L941.3,83.2 L940.0,84.6 L940.2,85.9 L939.2,87.1 L939.3,88.3 L939.3,90.2 L938.9,90.9 L938.4,92.7 L937.9,93.5 L937.2,94.8 L937.4,96.7 L936.8,97.6 L936.9,99.7 L936.0,100.7 L936.3,102.2 L934.9,103.8 L935.0,104.8 L933.9,106.4 L932.6,107.7 L931.9,109.3 L930.6,110.2 L929.7,111.1 L929.5,113.2 L928.7,114.2 L928.9,115.9 L927.3,116.4 L926.7,118.2 L926.7,119.8 L926.3,121.4 L925.5,122.6 L925.4,124.8 L923.9,126.0 L923.4,127.7 L922.6,130.1 L921.0,130.9 L920.6,132.0 L919.9,133.0 L920.3,134.4 L919.4,135.9 L918.1,136.6 L917.8,138.6 L917.2,139.6 L915.9,140.9 M916.5,140.2 L916.6,138.0 L917.8,137.2 L918.6,135.5 L919.4,134.9 L918.8,132.3 L920.0,131.8 L920.7,130.7 L922.3,129.7 L923.1,128.4 L923.2,127.0 L924.1,125.7 L924.4,124.3 L925.2,123.1 L925.2,121.4 L925.7,120.2 L926.5,118.5 L926.8,117.2 L927.4,115.8 L927.8,113.9 L928.8,113.2 L928.8,111.5 L929.7,110.3 L930.7,109.2 L931.8,108.5 L932.5,106.9 L934.0,105.3 L935.1,104.1 L934.1,102.1 L935.3,100.6 L936.1,98.8 L936.1,97.9 L935.5,95.8 L935.3,94.8 L935.8,93.2 L935.6,91.8 L935.3,90.5 L936.7,88.7 L936.6,87.1 L936.6,85.6 L937.6,84.0 L937.4,82.8 L937.5,80.9 L938.4,79.9 L938.8,78.9 L939.9,77.6 L941.4,76.7 L941.7,75.6 L941.4,74.3 L941.6,72.9 L941.7,71.0 L941.8,70.0 L941.2,67.8 L941.8,66.6 L942.6,65.2 L944.0,65.2 L944.5,63.6 L945.5,62.8 L946.7,62.4 L947.8,61.4 L948.8,60.5 L949.7,59.3 L950.7,58.9 L952.2,58.0 L952.9,57.3 L955.0,56.6 L956.0,55.8 L956.9,54.8" fill="none" stroke="#000" stroke-width="1.7" stroke-linejoin="round" stroke-linecap="round"/>
<path d="M647.6,143.0 L645.9,143.4 L645.1,141.9 L642.4,143.0 L642.3,142.7 L641.3,140.6 L639.8,139.5 L639.1,138.0 L638.1,137.4 L636.8,136.5 L635.3,135.7 L634.9,133.7 L634.4,132.2 L633.4,131.0 L631.9,129.7 L630.6,128.7 L629.8,127.0 L628.8,125.1 L628.2,124.5 L627.1,123.3 L625.5,122.3 L625.3,120.4 L624.9,117.9 L626.1,118.6 L628.1,118.1 L629.6,119.2 L630.4,119.8 L631.7,121.1 L632.4,122.6 L634.3,123.3 L634.5,124.2 L636.4,124.3 L637.9,124.9 L638.0,125.5 L639.6,127.1 L639.0,128.9 L639.7,129.8 L640.9,131.6 L641.0,133.3 L642.7,133.2 L644.1,134.8 L645.3,136.1 L646.4,137.7 L647.2,139.2 L647.5,140.5 L647.6,143.0" fill="none" stroke="#000" stroke-width="2.4" stroke-linejoin="round" stroke-linecap="round"/>
<path d="M614.5,104.4 L613.5,102.6 L612.7,102.3 L612.0,100.2 L611.4,98.4 L612.1,96.5 L608.9,96.2 L610.1,94.3 L611.2,92.6 L608.9,91.4 L608.6,89.9 L608.8,88.6 L609.3,86.4 L609.9,86.1 L609.8,84.1 L611.1,85.6 L612.3,84.9 L614.9,84.5 L614.5,86.9 L615.2,87.6 L615.0,90.6 L615.5,92.9 L613.0,93.5 L612.3,95.0 L612.7,95.9 L613.2,97.9 L614.9,99.4 L613.3,100.6 L612.6,101.6 L614.8,103.6 L614.5,104.4 M802.4,136.2 L803.1,135.0 L804.5,133.2 L803.0,132.0 L802.8,130.1 L802.9,131.8 L800.5,132.3 L800.3,133.8 L800.2,134.9 L802.4,136.2" fill="none" stroke="#000" stroke-width="3.0" stroke-linejoin="round" stroke-linecap="round"/>
<path d="M669.6,279.6 L669.3,281.3 L669.7,282.7 L670.8,284.2 L671.5,285.5 L672.4,286.8 L673.5,288.2 L673.1,290.0 L674.1,291.7 L674.5,293.0 L675.5,294.0 L675.9,295.6 L676.4,297.4 L676.3,299.0 L677.5,300.1 L677.6,301.7 L676.7,303.1 L678.1,304.3 L679.7,304.8 L680.8,306.0 L682.2,306.1 L683.5,307.2 L684.1,308.7 L685.8,309.7 L685.9,311.2 L686.1,312.5 L687.1,313.7 L687.6,314.6 L687.7,315.9 L688.2,317.2 L689.0,318.6 L687.7,320.7 L686.3,320.7 L685.1,319.9 L683.6,321.1 L682.0,320.4 L683.3,321.0 L684.0,322.7 L684.5,323.8 L686.0,324.5 L686.6,326.7 L688.0,326.4 L689.3,327.9 L690.4,329.0 L692.1,328.6 L692.9,329.9 L694.5,330.8 L695.7,330.9 L697.1,332.0 L698.3,333.0 L699.5,334.5 L700.1,335.8 L700.7,336.4 L701.0,337.9 L702.1,339.5 L702.4,340.2 L703.2,341.5 L703.8,343.3 L703.3,344.7 L703.0,346.1 L703.4,347.6 L704.4,348.3 L706.1,348.2 L706.6,350.2 L707.7,351.2 L708.6,352.3 L709.8,353.4 L711.0,354.0 L712.5,355.0 L713.0,356.4 L714.0,357.3 L714.6,358.9 L715.9,359.5 L717.2,360.1 L717.4,361.2 L718.1,362.7 L719.5,363.5 L720.7,364.6 L721.9,363.9 L722.8,362.6 L723.9,361.4 L723.6,360.4 L724.7,359.1 L723.8,357.8 L723.1,356.9 L722.8,355.9 L721.5,354.3 L719.9,354.0 L718.0,353.0 L716.8,351.7 L715.2,350.4 L714.6,349.1 L714.4,347.5 L714.8,346.1 L713.9,345.1 L713.0,343.7 L712.4,342.5 L712.0,341.4 L711.1,340.1 L710.2,339.1 L710.2,337.4 L709.9,335.6 L708.7,334.5 L708.8,333.0 L707.3,332.2 L706.1,331.2 L705.8,329.7 L705.0,328.6 L704.8,327.4 L703.2,326.0 L702.4,324.3 L701.5,323.2 L700.2,322.0 L699.5,320.8 L699.9,319.8 L698.4,318.3 L698.1,317.2 L697.1,316.3 L697.1,314.7 L696.0,313.1 L695.0,312.4 L693.8,311.1 L693.1,310.0 L692.5,308.6 L691.3,307.7 L690.3,306.6 L690.6,305.2 L689.3,304.1 L688.8,303.0 L688.0,301.5 L686.8,300.7 L686.2,299.7 L686.0,298.3 L685.9,296.7 L686.0,295.2 L686.1,293.7 L685.6,292.2 L686.0,290.8 L685.3,289.4 L685.8,286.9 L687.2,287.4 L688.8,287.4 L689.5,288.8 L691.2,288.4 L692.2,289.3 L692.7,290.3 L694.3,290.7 L695.8,291.0 L697.0,291.5 L697.8,292.5 L697.4,294.0 L698.3,295.0 L698.1,296.8 L699.0,297.7 L698.8,299.9 L700.1,301.1 L701.0,302.1 L701.7,303.6 L702.6,305.3 L702.8,306.4 L703.2,308.0 L703.5,309.6 L703.4,310.6 L704.3,311.9 L705.2,313.2 L706.1,314.5 L707.4,315.0 L708.3,316.7 L709.2,317.6 L710.2,319.1 L711.9,319.3 L712.8,320.6 L714.3,320.8 L715.8,321.5 L715.6,322.8 L717.0,324.6 L716.5,326.2 L718.1,326.9 L719.5,327.8 L721.1,328.4 L721.9,329.5 L723.3,330.3 L724.6,331.4 L725.3,332.7 L724.9,333.6 L725.9,335.2 L725.8,336.5 L725.1,337.6 L725.4,338.9 L725.0,340.4 L726.3,342.1 L728.1,342.2 L729.7,342.5 L730.8,343.6 L732.3,343.9 L733.3,344.7 L734.1,346.1 L734.9,346.8 L735.3,348.5 L736.1,349.4 L737.0,350.2 L738.1,351.0 L738.8,352.6 L740.2,352.7 L741.1,354.2 L742.9,354.8 L743.5,356.5 L745.1,357.0 L746.2,358.2 L747.2,359.1 L748.0,359.8 L748.8,361.2 L749.6,362.4 L750.1,363.7 L751.4,364.1 L752.8,364.5 L753.5,366.2 L753.8,367.4 L754.3,369.3 L755.4,370.4 L755.7,371.4 M703.5,313.6 L702.3,312.3 L701.3,311.4 L702.1,309.7 L703.9,311.0 L703.5,313.6 M697.2,311.3 L696.2,310.1 L695.2,309.2 L694.7,308.1 L694.0,306.9 L695.1,306.9 L695.9,308.4 L697.1,309.6 L697.9,310.9 L697.2,311.3 M943.5,162.3 L944.8,161.7 L945.8,160.7 L946.8,160.5 L947.8,159.3 L949.0,158.6 L949.9,157.1 L951.0,156.0 L952.3,154.9 L953.4,153.6 L954.2,152.3 L952.4,152.9 L951.5,153.4 L950.3,155.2 L949.2,156.1 L948.2,157.1 L946.9,157.4 L945.0,158.3 L944.0,159.6 L944.0,161.0 L943.5,162.3 M969.2,85.7 L970.6,85.2 L972.4,85.2 L973.4,85.4 L974.9,85.2 L975.8,84.8 L977.5,85.1 L978.8,85.4 L980.0,85.1 L979.9,83.4 L980.6,82.1 L981.9,81.3 L981.9,80.2 L982.1,78.6 L980.3,78.7 L979.6,79.8 L978.6,80.9 L977.2,81.9 L975.9,82.6 L974.4,82.3 L973.3,82.1 L971.6,82.1 L970.4,82.1 L969.4,81.8 L970.0,83.0 L969.1,84.4 L969.2,85.7 M952.4,63.0 L954.4,63.9 L955.0,62.3 L957.0,62.6 L958.2,62.9 L959.4,62.0 L960.7,61.4 L962.5,62.2 L963.9,61.7 L964.8,60.5 L966.5,60.8 L967.6,59.6 L968.8,59.1 L967.3,58.6 L965.9,58.7 L964.5,58.3 L962.9,58.0 L961.2,58.3 L959.8,59.1 L958.5,59.5 L957.6,60.4 L956.1,60.3 L955.2,61.9 L953.6,62.3 L952.4,63.0 M939.0,341.5 L939.9,340.8 L941.7,340.8 L943.0,340.3 L944.0,341.9 L944.9,343.5 L943.3,343.2 L942.1,344.5 L940.8,344.7 L939.3,343.3 L939.0,341.5 M973.8,299.6 L975.8,299.3 L975.5,298.5 L973.8,299.6 M821.2,151.2 L822.5,151.3 L823.5,149.9 L824.8,149.9 L826.0,149.2 L827.7,147.9 L828.5,148.9 L829.7,149.9 L830.9,150.0 L832.1,148.6 L833.7,147.8 L834.9,147.0 L835.8,145.7 L836.6,145.4 L837.9,143.8 L838.0,142.3 L839.5,141.4 L840.2,140.5 L841.7,139.9 L843.5,138.9 L842.6,140.2 L841.7,141.8 L841.0,144.2 L842.4,144.2 L843.8,143.9 L845.3,143.8 L846.2,144.8 L847.8,145.9 L848.7,145.3 L850.6,146.3 L852.1,145.2 L852.7,144.2 L853.9,143.2 L855.1,142.3 L856.6,141.9 L857.7,141.2 L859.2,140.2 L860.3,139.7 L861.1,141.8 L862.4,141.6 L863.7,141.4 L864.2,140.3 L862.5,139.6 L862.2,137.9 L861.3,136.1 L860.5,134.9 L858.8,134.6 L858.6,132.9 L857.5,131.7 L856.6,130.5 L855.1,131.1 L853.6,130.9 L852.2,131.5 L851.1,130.4 L850.1,129.1 L849.2,128.3 L848.2,126.6 L847.2,126.2 L845.8,126.9 L844.3,127.0 L843.1,127.2 L841.7,127.3 L840.2,128.0 L838.8,127.1 L837.5,127.7 L837.8,129.0 L838.1,130.6 L836.6,131.5 L836.1,132.8 L835.6,134.0 L833.3,133.8 L833.1,135.8 L832.5,137.5 L831.5,138.7 L830.6,139.7 L830.0,140.9 L828.9,141.9 L828.3,142.7 L827.7,144.2 L826.7,145.1 L826.3,146.9 L824.9,147.5 L824.1,148.8 L822.7,150.3 L821.2,151.2 M834.8,138.1 L835.9,136.7 L836.7,136.1 L837.9,134.6 L836.8,135.0 L835.6,135.9 L834.5,137.3 L834.8,138.1 M859.6,185.6 L858.6,184.8 L857.7,183.6 L856.9,182.3 L855.8,181.5 L855.1,180.3 L854.5,178.4 L854.3,176.7 L853.8,174.7 L852.9,173.6 L852.3,172.0 L852.7,170.5 L852.8,168.8 L852.8,167.6 L852.7,166.3 L852.9,164.8 L852.9,163.2 L853.3,162.1 L852.1,160.7 L852.4,159.2 L852.5,157.1 L853.2,155.5 L852.8,156.9 L852.4,158.1 L851.2,159.2 L850.4,160.6 L850.2,161.8 L849.4,162.8 L849.1,162.9 L848.5,161.7 L849.3,160.3 L850.0,158.9 L850.1,157.7 L849.9,155.9 L850.5,154.2 L851.4,153.1 L851.6,151.6 L852.9,150.4 L854.3,149.4 L855.8,148.6 L857.5,147.8 L858.9,147.4 L860.0,146.9 L861.1,146.3 L862.3,145.4 L864.3,146.7 L863.1,148.7 L864.2,151.1 L862.1,151.0 L861.5,153.3 L862.1,155.1 L862.3,156.6 L860.8,157.0 L859.7,158.3 L860.4,159.6 L859.7,161.4 L860.0,162.6 L859.6,164.3 L859.4,165.5 L859.6,167.1 L860.7,168.6 L861.4,170.1 L861.8,171.3 L863.1,172.3 L863.9,174.0 L863.3,175.6 L864.3,177.2 L863.4,179.0 L864.1,180.0 L863.8,181.8 L863.1,183.2 L861.9,184.4 L859.6,185.6 M864.3,146.7 L865.4,147.1 L867.3,147.3 L868.9,148.5 L869.6,147.3 L871.4,147.8 L872.6,148.1 L873.4,149.7 L874.8,150.5 L875.1,151.4 L875.3,153.4 L875.9,154.6 L876.0,155.9 L876.0,157.2 L876.0,158.6 L875.9,160.4 L874.9,161.7 L877.2,160.9 L877.5,159.2 L878.2,158.3 L879.2,157.5 L880.8,157.6 L882.1,158.2 L882.9,159.5 L883.5,160.2 L884.1,161.7 L885.2,162.6 L885.3,164.3 L885.9,162.6 L887.4,161.8 L888.6,160.8 L889.2,159.1 L887.9,158.0 L887.3,157.0 L887.2,155.3 L886.5,154.3 L885.6,152.5 L886.8,151.2 L887.2,149.4 L887.0,147.8 L886.1,146.3 L885.1,144.8 L886.9,145.4 L888.3,146.3 L889.9,146.4 L891.3,146.6 L893.0,147.8 L894.5,147.9 L894.2,146.2 L894.9,144.1 L894.6,142.4 L892.3,142.1 L891.6,140.8 L890.2,140.4 L888.9,139.0 L887.3,138.6 L886.2,137.9 L884.8,138.3 L883.3,138.5 L881.8,138.8 L880.2,138.8 L878.8,139.6 L877.5,139.7 L875.8,139.7 L874.2,140.1 L872.7,140.3 L871.4,140.1 L870.0,140.9 L868.5,141.6 L866.6,141.7 L867.3,143.0 L868.0,143.9 L866.6,143.9 L865.3,145.3 L864.3,146.7 M872.7,143.1 L874.4,143.5 L875.7,144.1 L877.2,143.3 L878.3,143.2 L879.8,142.8 L881.5,143.0 L880.4,141.9 L879.7,140.0 L878.7,141.0 L877.0,141.0 L875.9,141.5 L874.2,142.4 L872.7,143.1 M884.7,170.9 L887.2,170.4 L886.8,168.3 L885.0,168.0 L885.1,169.6 L884.7,170.9 M789.3,126.8 L791.4,126.3 L791.6,124.3 L790.8,122.8 L791.0,121.2 L791.0,119.7 L790.1,119.1 L788.7,117.6 L788.0,116.5 L787.4,115.0 L786.1,114.2 L786.1,113.0 L785.5,111.6 L785.4,110.1 L784.3,108.7 L783.6,107.6 L783.1,106.1 L782.7,104.8 L781.0,103.7 L780.8,103.0 L779.2,102.4 L778.2,102.3 L776.2,101.5 L774.9,100.6 L774.2,102.0 L773.5,103.7 L773.6,105.0 L774.4,106.3 L775.8,106.9 L777.0,107.8 L778.2,109.4 L778.8,110.3 L778.5,111.5 L779.4,113.3 L780.5,114.3 L781.9,114.7 L783.4,115.2 L784.9,115.8 L785.4,117.6 L785.8,118.4 L787.3,119.6 L787.1,121.5 L787.7,123.0 L788.4,124.4 L789.3,126.8 M941.8,290.9 L944.2,291.6 L944.1,293.9 L941.6,293.9 L941.9,292.7 L941.8,290.9 M864.1,285.2 L866.6,285.9 L868.5,284.2 L866.0,283.4 L864.1,285.2 M921.0,97.7 L922.2,97.0 L923.5,96.2 L924.1,95.0 L922.5,93.4 L921.2,94.0 L919.8,94.4 L920.2,96.2 L921.0,97.7 M934.8,136.5 L934.5,135.1 L933.4,133.9 L932.8,132.5 L932.6,130.8 L932.3,129.8 L931.0,128.5 L930.7,127.4 L930.2,126.2" fill="none" stroke="#000" stroke-width="1.5" stroke-linejoin="round" stroke-linecap="round"/>
<path d="M924.1,346.2 L925.5,345.9 L926.2,344.0 L928.0,344.5 L929.0,343.4 L930.4,341.9 L931.7,340.7 L932.9,339.6 L932.0,337.9 L932.9,337.0 L933.9,335.6 L934.1,333.9 L935.8,333.2 L937.3,331.8 L938.5,331.2 L939.4,330.3 L941.1,329.7 L941.8,329.1 L943.5,328.4 L944.3,327.5 L945.8,328.2 L946.8,327.0 L948.1,325.8 L949.4,326.7 L950.8,325.9 L952.2,325.4 L954.1,326.1 L955.9,325.2 L957.0,325.4 L958.3,325.1 L959.8,323.8 L961.1,324.9 L961.9,325.5 L963.9,325.8 L965.5,325.8 L967.1,326.0 L968.2,327.3 L969.4,327.7 L971.3,326.6 L972.2,326.5 L973.7,325.6 L975.2,325.6 L976.5,325.4 L978.3,325.1 L979.4,325.9 L980.3,326.0 L981.7,326.4 L983.3,327.0 L984.5,327.4 L985.8,328.3 L987.3,327.8 L989.0,328.7 L990.2,328.5 L991.8,328.7 L992.2,329.7 L994.5,329.7 M924.1,346.2 L925.3,345.9 L926.3,344.2 L928.0,344.8 L929.4,343.6 L930.4,344.1 L931.7,343.6 L933.4,343.2 L934.4,341.9 L934.8,339.8 L936.2,339.8 L937.4,339.1 L938.4,338.0 L939.1,336.0 L939.6,334.7 L941.0,334.2 L941.6,333.2 L943.3,332.9 L945.3,334.9 L946.0,332.7 L946.9,333.6 L947.5,335.1 L948.7,335.7 L950.0,334.6 L951.4,334.8 L951.8,333.6 L953.5,334.5 L955.1,333.6 L956.6,334.3 L958.1,334.7 L959.6,335.2 L961.1,335.5 L962.4,335.2 L964.1,336.7 L965.1,335.5 L966.3,334.7 L967.8,334.8 L968.9,334.8 L969.6,334.2 L971.8,333.9 L973.6,335.0 L974.4,333.1 L975.8,332.8 L977.3,332.9 M706.5,212.6 L705.6,211.3 L704.7,210.5 L704.0,209.2 L703.2,208.0 L702.3,207.1 L703.0,205.6 L704.2,205.1 L705.4,206.3 L706.6,207.2 L707.0,208.9 L707.2,210.5 L706.5,212.6" fill="none" stroke="#000" stroke-width="1.6" stroke-linejoin="round" stroke-linecap="round"/>
<path d="M970.0,300.1 L971.2,300.7 L972.5,302.5 L973.3,303.2 L974.7,304.5 L974.8,305.6 L976.1,307.0 L974.9,307.4 L974.0,308.8 L972.4,308.7 L970.8,307.5 L969.7,306.5 L969.0,304.7 L969.3,303.6 L968.9,301.9 L970.0,300.1 M958.0,290.0 L959.3,289.3 L959.9,288.6 L961.9,288.6 L963.1,288.6 L964.5,287.7 L965.8,286.6 L964.7,287.0 L963.1,287.5 L961.1,287.9 L959.4,288.7 L958.0,290.0" fill="none" stroke="#000" stroke-width="2.2" stroke-linejoin="round" stroke-linecap="round"/>
<path d="M967.4,284.1 L968.8,284.6 L970.0,285.2 L971.1,285.6 L972.5,286.0 L973.8,286.9 L974.2,288.3 L973.0,290.0 L972.9,291.7 L972.0,290.0 L971.3,288.4 L969.8,287.7 L968.5,287.0 L967.7,285.2 L966.1,285.1 L967.4,284.1" fill="none" stroke="#000" stroke-width="2.0" stroke-linejoin="round" stroke-linecap="round"/>
<path d="M883.2,177.0 L884.6,177.5 L886.3,177.4 L888.2,177.8 L889.5,176.8 L891.3,176.3 L892.6,175.7 L894.2,174.9 L894.8,173.3 L896.0,172.1 L897.0,171.1 L897.9,170.0 L899.0,169.1 L900.0,168.3 L901.3,167.4 L901.6,166.5 L902.2,165.1 L903.5,164.4 L903.7,163.1 L904.7,161.9 L905.9,160.4 L906.2,159.3 L906.6,157.7 L904.9,158.6 L903.1,159.2 L902.5,160.5 L901.5,161.2 L900.5,162.7 L899.3,163.1 L898.5,163.8 L897.0,164.5 L895.0,164.3 L893.9,165.5 L892.7,166.6 L891.7,167.8 L891.0,169.3 L890.1,170.1 L888.9,171.2 L888.4,172.7 L888.4,173.6 L886.8,173.5 L884.8,174.0 L883.9,173.4 L883.9,175.2 L883.2,177.0 M899.9,156.3 L901.2,155.4 L902.7,155.2 L904.1,155.1 L905.3,154.4 L906.8,154.2 L907.7,153.2 L908.8,152.1 L910.0,151.4 L911.6,151.3 L913.3,151.1 L914.1,150.4 L915.6,149.5 L917.1,148.9 L918.0,147.6 L919.4,146.9 L919.6,145.4 L919.1,143.6 L918.2,142.2 L917.1,141.4 L915.9,140.9 L914.8,142.4 L913.5,143.9 L911.6,144.9 L910.3,145.8 L908.7,146.4 L908.0,147.5 L906.5,147.7 L905.4,148.5 L904.3,149.8 L902.3,150.7 L901.1,152.8 L901.2,154.7 L899.9,156.3" fill="none" stroke="#000" stroke-width="1.4" stroke-linejoin="round" stroke-linecap="round"/>
<path d="M782.0,129.7 L782.1,128.0 L783.0,127.0 L780.8,125.2 L780.8,125.0 L779.5,123.4 L778.2,121.7 L778.1,121.9 L777.3,119.5 L775.1,119.0 L775.1,121.2 L777.4,121.9 L777.8,123.2 L778.9,123.7 L778.2,125.8 L779.2,127.0 L780.2,127.9 L780.7,129.4 L782.0,129.7 M773.0,118.5 L770.7,117.7 L771.1,115.7 L770.9,114.6 L769.4,112.9 L768.9,112.9 L767.3,110.9 L766.1,109.3 L765.4,107.8 L766.8,107.7 L768.5,108.2 L768.3,110.1 L769.5,111.3 L771.0,112.1 L772.6,112.5 L772.7,114.7 L773.1,116.0 L773.0,118.5 M768.3,154.2 L766.6,153.0 L765.5,154.1 L763.1,153.1 L761.5,151.7 L761.3,151.2 L759.0,151.0 M777.0,178.2 L777.7,176.2 L775.7,175.5 L775.9,174.1 L774.4,172.8 L774.2,171.5 L775.9,170.0 L776.1,168.3 L775.9,166.8 L774.3,166.0 L774.2,164.4 L773.9,162.7 M740.2,152.3 L739.1,153.1 L738.7,154.4 L736.6,153.9 L735.9,154.9 L734.5,155.0 L732.6,155.9" fill="none" stroke="#000" stroke-width="2.6" stroke-linejoin="round" stroke-linecap="round"/>
<path d="M834.9,124.6 L835.7,123.4 L837.0,122.2 L836.0,120.9 L835.2,119.4 L834.5,117.7 L833.2,116.9 L831.8,117.6 L830.5,117.2 L829.8,118.7 L830.2,119.9 L830.1,121.6 L831.7,122.6 L832.6,124.4 L834.9,124.6" fill="none" stroke="#000" stroke-width="1.8" stroke-linejoin="round" stroke-linecap="round"/>
<path d="M801.8,144.7 L803.4,144.3 L804.5,143.8 L803.2,143.2 L801.8,144.7" fill="none" stroke="#000" stroke-width="2.5" stroke-linejoin="round" stroke-linecap="round"/>
<path d="M614.0,80.6 L615.4,79.6 L617.5,82.4 L616.1,82.8 L618.8,84.5 L618.5,84.7 L622.2,85.8 L622.1,85.7 L623.7,87.1 L623.5,87.5 L623.9,90.6 L623.5,91.4 L622.3,92.8 L624.9,93.1 L628.0,94.4 L625.8,96.3 L624.3,99.4 L627.4,99.9 L625.4,100.8 L627.4,102.0 L627.9,103.4 L628.7,106.5 L629.3,106.8 L630.5,107.2 L628.1,109.5 L632.0,109.9 L629.6,112.0 L630.8,113.0 L629.5,115.7 L630.1,116.4 L631.3,117.5 L633.3,118.5 L633.1,119.7 L633.0,122.1 L637.3,121.9 L636.8,122.6 L636.7,124.4 L640.5,122.7 L640.5,125.6 L639.9,127.8 L642.6,128.5" fill="none" stroke="#000" stroke-width="4.2" stroke-linejoin="round" stroke-linecap="round"/>
<path d="M642.6,128.5 L643.6,129.5 L644.7,131.7 L645.7,132.1 L647.7,132.7 L648.5,134.7 L649.9,136.7" fill="none" stroke="#000" stroke-width="2.6" stroke-linejoin="round" stroke-linecap="round"/>
<path d="M652.6,145.1 L652.4,146.4 L651.8,148.0 L652.2,149.9 L651.1,150.8 L650.1,152.1 L649.8,153.1" fill="none" stroke="#000" stroke-width="4.5" stroke-linejoin="round" stroke-linecap="round"/>
<path d="M648.1,153.2 L649.7,152.7 L650.2,151.0" fill="none" stroke="#000" stroke-width="3.0" stroke-linejoin="round" stroke-linecap="round"/>
<path d="M942.5,197.5 L942.5,196.0 L941.0,194.7 L940.4,193.6 L940.0,193.0 L940.5,190.1 L938.3,189.7 L937.2,190.0 L936.8,186.8 L936.3,185.9 L936.5,183.5 L934.6,183.0 L934.5,181.9 L933.0,179.8 L934.6,178.0" fill="none" stroke="#000" stroke-width="3.2" stroke-linejoin="round" stroke-linecap="round"/>
<path d="M934.5,189.5 L935.9,190.3 L937.7,190.0" fill="none" stroke="#000" stroke-width="2.4" stroke-linejoin="round" stroke-linecap="round"/>
<path d="M937.0,197.0 L938.5,196.9 L940.5,197.1 L941.5,196.9" fill="none" stroke="#000" stroke-width="2.2" stroke-linejoin="round" stroke-linecap="round"/>
<path d="M947.9,202.7 L950.2,203.5 L950.9,203.9 L951.6,205.9 L952.8,206.7 L953.4,208.3 L953.6,209.4 L952.2,211.3 L951.9,211.3 L951.5,212.7 L950.1,213.8 L950.2,214.7 L949.0,216.1" fill="none" stroke="#000" stroke-width="2.6" stroke-linejoin="round" stroke-linecap="round"/>
<path d="M945.5,211.4 L947.0,210.5 L949.0,210.9 L950.3,209.9" fill="none" stroke="#000" stroke-width="2.2" stroke-linejoin="round" stroke-linecap="round"/>
<path d="M869.0,289.4 L870.4,290.2 L871.7,290.4 L872.5,291.2 L873.6,293.7 L875.2,292.8 L875.3,290.9 L873.7,291.0 L872.2,290.0" fill="none" stroke="#000" stroke-width="3.0" stroke-linejoin="round" stroke-linecap="round"/>
<path d="M864.3,286.0 L866.2,285.9 L867.9,284.8" fill="none" stroke="#000" stroke-width="2.4" stroke-linejoin="round" stroke-linecap="round"/>
<path d="M858.8,292.6 L860.3,292.2 L861.0,293.3 L863.6,292.9 L864.6,294.0" fill="none" stroke="#000" stroke-width="2.2" stroke-linejoin="round" stroke-linecap="round"/>
<path d="M952.6,126.9 L953.7,125.7 L953.9,123.0 L955.5,123.2 L957.1,121.5 L955.7,119.3 L957.0,118.2 L959.1,118.0 L960.0,115.9 L960.7,114.6 L962.2,113.5 L962.6,111.7 L962.8,110.8 L962.7,107.9 L964.4,107.5" fill="none" stroke="#000" stroke-width="2.6" stroke-linejoin="round" stroke-linecap="round"/>
<path d="M831.5,297.5 L833.5,298.4" fill="none" stroke="#000" stroke-width="3.2" stroke-linejoin="round" stroke-linecap="round"/>
<path d="M821.1,308.7 L823.0,308.6 L823.9,307.4" fill="none" stroke="#000" stroke-width="2.6" stroke-linejoin="round" stroke-linecap="round"/>
<path d="M816.7,315.9 L817.3,314.5" fill="none" stroke="#000" stroke-width="2.6" stroke-linejoin="round" stroke-linecap="round"/>
<path d="M811.6,123.0 L813.3,123.3 L814.6,121.9 L816.4,121.9 L817.9,121.9" fill="none" stroke="#000" stroke-width="2.8" stroke-linejoin="round" stroke-linecap="round"/>
<path d="M809.5,138.0 L811.5,137.4 L812.7,137.2 L814.1,136.7 L815.6,137.5" fill="none" stroke="#000" stroke-width="2.6" stroke-linejoin="round" stroke-linecap="round"/>
<path d="M881.5,113.7 L883.6,113.0" fill="none" stroke="#000" stroke-width="3.0" stroke-linejoin="round" stroke-linecap="round"/>
<path d="M795.9,95.8 L797.3,95.1" fill="none" stroke="#000" stroke-width="2.6" stroke-linejoin="round" stroke-linecap="round"/>
<path d="M769.1,98.1 L770.5,97.5" fill="none" stroke="#000" stroke-width="2.6" stroke-linejoin="round" stroke-linecap="round"/>
<path d="M889.0,133.1 L891.3,132.4" fill="none" stroke="#000" stroke-width="2.4" stroke-linejoin="round" stroke-linecap="round"/>
<path d="M897.9,146.5 L898.8,145.7" fill="none" stroke="#000" stroke-width="2.4" stroke-linejoin="round" stroke-linecap="round"/>
<path d="M697.6,153.4 L697.7,152.1" fill="none" stroke="#000" stroke-width="2.4" stroke-linejoin="round" stroke-linecap="round"/>
<path d="M885.6,169.6 L886.0,169.0" fill="none" stroke="#000" stroke-width="3.0" stroke-linejoin="round" stroke-linecap="round"/>
<path d="M872.4,144.1 L873.7,143.6 L875.0,143.9 L877.1,143.4 L878.1,142.5" fill="none" stroke="#000" stroke-width="2.2" stroke-linejoin="round" stroke-linecap="round"/>
<path d="M849.3,162.4 L850.1,160.8 L851.3,160.0 L850.9,158.4" fill="none" stroke="#000" stroke-width="2.2" stroke-linejoin="round" stroke-linecap="round"/>
<path d="M861.7,155.0 L861.8,153.2" fill="none" stroke="#000" stroke-width="2.2" stroke-linejoin="round" stroke-linecap="round"/>
<path d="M840.6,143.9 L841.5,142.6 L841.9,141.4 L842.3,139.9" fill="none" stroke="#000" stroke-width="2.2" stroke-linejoin="round" stroke-linecap="round"/>
<path d="M959.6,140.6 L961.0,139.2 L962.4,141.0" fill="none" stroke="#000" stroke-width="2.2" stroke-linejoin="round" stroke-linecap="round"/>
<path d="M966.4,83.9 L964.6,83.3 L963.1,82.5 L961.9,81.6" fill="none" stroke="#000" stroke-width="2.2" stroke-linejoin="round" stroke-linecap="round"/>
<path d="M977.0,113.0 L978.3,112.3 L978.8,110.8 L979.2,109.4 L979.8,107.6 L980.3,106.6 L979.2,104.7 L981.0,104.0" fill="none" stroke="#000" stroke-width="2.4" stroke-linejoin="round" stroke-linecap="round"/>
<path d="M641.5,156.3 L640.8,158.7" fill="none" stroke="#000" stroke-width="2.4" stroke-linejoin="round" stroke-linecap="round"/>
<path d="M639.4,230.5 L640.2,231.6 L640.4,233.1" fill="none" stroke="#000" stroke-width="2.8" stroke-linejoin="round" stroke-linecap="round"/>
<path d="M856.2,86.1 L857.0,87.9 L858.1,87.5 L859.0,88.8 L859.8,89.5 L861.2,90.4 L862.6,92.0 L864.1,91.4 L865.6,92.7 L866.6,93.7 L868.7,93.5 L870.0,95.0 L871.1,94.9 L872.2,95.2 L873.9,94.7 L873.8,93.3 L875.4,92.3 L875.6,90.7 L877.4,90.8 L876.5,89.2 L876.2,87.8 L875.8,86.0 L875.4,84.6 L876.6,83.3 L875.1,82.1 L874.6,80.9" fill="none" stroke="#000" stroke-width="1.6" stroke-linejoin="round" stroke-linecap="round"/>
<path d="M906.6,104.8 L908.0,103.4 L908.8,102.8 L910.5,102.9 L911.7,102.2" fill="none" stroke="#000" stroke-width="3.0" stroke-linejoin="round" stroke-linecap="round"/>
<path d="M887.7,122.6 L889.0,123.2 L890.3,124.2 L891.2,125.2 L892.6,125.9 L893.6,126.4 L894.2,128.0 L895.4,128.5 L896.8,128.9 L898.4,129.0 L900.0,128.8 L901.8,129.6 L903.6,129.5 L904.9,129.4 L906.2,129.8 L907.7,130.4 L909.0,129.9 L910.8,130.6 L912.5,130.2 L914.0,130.4 L915.6,129.6 L916.3,128.3 L918.0,127.7 L919.2,126.0 L920.2,124.9 L922.1,125.0 L924.6,124.7" fill="none" stroke="#000" stroke-width="1.5" stroke-linejoin="round" stroke-linecap="round"/>
<path d="M902.9,82.0 L904.4,81.9 L905.7,81.5" fill="none" stroke="#000" stroke-width="2.6" stroke-linejoin="round" stroke-linecap="round"/></g>
</g>
<rect x="603.5" y="89.5" width="387.0" height="248.0" fill="none" stroke="#000" stroke-width="1" shape-rendering="crispEdges"/>
<rect x="602.50" y="349.40" width="65.08" height="12.40" fill="#fee7dc" shape-rendering="crispEdges"/>
<rect x="667.08" y="349.40" width="65.08" height="12.40" fill="#fcbba1" shape-rendering="crispEdges"/>
<rect x="731.67" y="349.40" width="65.08" height="12.40" fill="#fc8565" shape-rendering="crispEdges"/>
<rect x="796.25" y="349.40" width="65.08" height="12.40" fill="#f34a36" shape-rendering="crispEdges"/>
<rect x="860.83" y="349.40" width="65.08" height="12.40" fill="#ca181d" shape-rendering="crispEdges"/>
<rect x="925.42" y="349.40" width="65.08" height="12.40" fill="#900a12" shape-rendering="crispEdges"/>
<line x1="603.5" y1="362.0" x2="603.5" y2="356.6" stroke="#000" stroke-width="1" shape-rendering="crispEdges"/>
<line x1="667.5" y1="362.0" x2="667.5" y2="356.6" stroke="#000" stroke-width="1" shape-rendering="crispEdges"/>
<line x1="732.5" y1="362.0" x2="732.5" y2="356.6" stroke="#000" stroke-width="1" shape-rendering="crispEdges"/>
<line x1="796.5" y1="362.0" x2="796.5" y2="356.6" stroke="#000" stroke-width="1" shape-rendering="crispEdges"/>
<line x1="861.5" y1="362.0" x2="861.5" y2="356.6" stroke="#000" stroke-width="1" shape-rendering="crispEdges"/>
<line x1="925.5" y1="362.0" x2="925.5" y2="356.6" stroke="#000" stroke-width="1" shape-rendering="crispEdges"/>
<line x1="990.5" y1="362.0" x2="990.5" y2="356.6" stroke="#000" stroke-width="1" shape-rendering="crispEdges"/>
<rect x="603.5" y="349.5" width="387.0" height="13.0" fill="none" stroke="#000" stroke-width="1" shape-rendering="crispEdges"/>
</g>
<g transform="translate(-465.00,349.00)">
<g clip-path="url(#axc)">
<rect x="601.50" y="87.90" width="389.50" height="250.40" fill="#fff2eb"/>
<g shape-rendering="crispEdges"><path d="M807.3,360.2 L807.0,356.7 L803.0,350.1 L801.0,348.8 L799.4,347.0 L792.8,344.2 L789.6,344.5 L789.3,341.0 L785.5,334.4 L784.1,332.4 L782.0,318.6 L781.6,317.4 L781.4,316.8 L780.7,315.4 L776.8,313.5 L770.3,312.6 L764.6,301.6 L764.6,301.6 L764.6,301.6 L764.6,301.6 L756.7,293.5 L752.6,285.3 L752.4,281.0 L748.3,268.6 L748.3,268.6 L748.3,268.6 L747.5,251.8 L747.5,251.8 L747.5,251.8 L747.5,251.8 L747.5,251.8 L747.5,251.8 L747.5,251.8 L748.3,268.6 L748.3,268.6 L748.3,268.6 L743.1,278.9 L741.9,285.7 L738.4,290.1 L734.8,291.6 L729.1,296.2 L720.3,303.1 L720.3,303.1 L720.3,303.1 L705.6,303.0 L705.6,303.0 L705.6,303.0 L696.4,296.5 L691.4,291.1 L687.2,290.1 L677.3,284.6 L677.3,284.6 L677.3,284.6 L677.3,284.6 L668.6,277.8 L663.6,276.7 L657.3,273.7 L650.6,265.1 L650.6,265.1 L650.6,265.1 L650.6,265.1 L642.5,257.9 L638.3,252.2 L635.5,249.8 L634.6,245.9 L632.0,238.6 L632.6,235.3 L632.2,228.4 L629.2,223.1 L623.8,218.0 L622.3,209.6 L623.2,204.9 L624.6,197.8 L625.5,193.1 L625.6,189.1 L627.4,180.5 L627.7,176.5 L628.5,173.1 L630.5,163.6 L631.3,160.2 L633.0,155.7 L634.5,148.7 L636.7,144.3 L640.2,138.2 L645.1,135.8 L648.1,133.5 L653.7,134.5 L656.4,133.8 L658.1,134.0 L665.3,135.0 L667.0,135.2 L668.7,135.5 L675.9,136.4 L677.6,136.7 L679.8,137.6 L686.0,138.2 L688.1,139.6 L691.0,139.5 L696.0,139.9 L698.9,139.8 L701.1,139.0 L707.5,139.3 L709.6,138.8 L711.1,138.2 L718.9,138.3 L720.3,138.0 L721.4,137.8 L730.0,137.7 L731.0,137.5 L731.8,137.3 L740.8,137.0 L741.6,136.8 L742.4,136.8 L751.5,136.1 L752.3,136.1 L753.0,136.0 L762.1,135.2 L762.9,135.1 L772.7,134.0 L773.5,133.9 L774.4,133.9 L784.1,132.4 L785.0,132.3 L793.8,130.7 L794.7,130.6 L795.6,130.5 L804.2,128.8 L805.2,128.7 L806.5,128.7 L814.5,126.8 L815.8,126.9 L817.9,127.1 L824.6,125.3 L826.9,126.3 L831.7,127.2 L833.8,126.6 L839.9,131.8 L841.7,132.5 L843.0,134.4 L850.9,134.3 L852.6,134.6 L855.4,134.6 L861.1,132.6 L864.2,133.3 L870.1,133.6 L870.7,133.4 L877.8,136.7 L879.7,137.2 L881.2,139.0 L888.9,140.1 L896.5,151.3 L896.5,151.3 L896.5,151.3 L896.5,151.3 L896.5,151.3 L907.6,147.6 L908.2,147.3 L908.7,146.9 L909.7,145.6 L909.9,136.1 L913.8,130.2 L915.2,127.7 L921.9,124.4 L923.6,122.6 L924.9,121.7 L926.7,118.2 L925.6,111.0 L928.1,105.7 L929.4,102.0 L931.4,95.8 L930.6,91.8 L931.8,88.9 L934.9,89.2 L938.1,91.8 L944.4,93.0 L947.8,92.7 L960.9,98.2 L963.8,106.8 L968.6,114.2 L970.6,120.5 L969.3,127.6 L969.9,131.6 L970.1,134.0 L970.5,143.3 L966.8,149.5 L966.8,153.3 L964.9,157.2 L965.8,164.7 L962.6,170.4 L963.7,175.7 L963.3,177.9 L964.1,184.7 L966.3,189.0 L962.4,192.4 L960.1,197.0 L960.2,198.4 L960.3,199.0 L960.4,200.6 L965.3,213.3 L959.5,218.8 L959.6,223.1 L957.3,226.2 L958.7,235.4 L949.2,239.2 L947.4,241.3 L946.6,242.0 L945.7,243.7 L945.8,249.0 L948.6,256.1 L940.1,264.7 L940.1,264.7 L940.1,264.7 L940.1,264.7 L940.1,264.7 L940.1,264.7 L950.9,269.1 L951.6,271.0 L956.7,277.5 L967.3,292.9 L967.3,292.9 L956.6,311.6 L947.3,309.5 L939.5,312.0 L933.4,310.8 L929.1,305.8 L926.5,297.3 L918.4,290.5 L917.3,288.8 L915.4,288.4 L911.6,288.3 L903.7,290.6 L899.5,288.8 L891.6,289.1 L891.6,289.1 L883.5,288.2 L881.9,296.4 L873.9,298.3 L870.8,300.7 L868.8,301.3 L857.9,303.6 L855.8,304.1 L854.3,304.8 L842.6,307.1 L841.0,307.7 L840.0,308.3 L837.5,310.0 L835.2,319.2 L828.2,324.7 L827.8,328.1 L827.7,329.2 L827.5,331.1 L829.6,344.7 L828.4,346.8 L826.2,354.2 L826.7,357.7 L823.4,358.1 L817.5,362.5 L810.6,359.8 L807.3,360.2Z M817.0,359.0 L823.0,354.6 L825.2,347.2 L827.6,343.1 L826.1,333.3 L826.6,329.4 L826.7,327.2 L827.5,320.5 L832.2,316.7 L833.7,310.6 L838.7,307.3 L840.7,306.1 L843.9,304.9 L852.2,303.3 L855.4,301.9 L859.4,300.8 L866.2,299.4 L870.2,298.3 L876.5,293.5 L877.4,293.3 L877.8,290.8 L880.7,282.9 L881.8,281.7 L882.6,281.5 L889.3,280.6 L894.9,282.1 L897.6,282.0 L906.1,285.6 L906.9,285.3 L914.6,285.6 L918.4,286.4 L920.6,289.9 L936.7,303.5 L936.7,303.5 L955.3,307.8 L962.9,294.4 L958.8,288.3 L952.4,279.1 L948.8,274.4 L942.5,271.4 L938.3,265.3 L938.3,263.6 L938.9,261.4 L943.6,253.4 L943.4,244.5 L945.2,241.2 L946.9,239.8 L950.3,235.7 L955.3,233.7 L954.0,224.2 L954.3,221.1 L954.6,220.0 L955.8,217.8 L962.3,211.8 L959.4,204.5 L959.2,199.5 L958.9,197.7 L958.4,193.4 L961.7,186.8 L960.8,179.1 L961.6,174.7 L959.4,164.1 L960.4,162.2 L960.1,159.7 L963.9,152.0 L963.9,144.4 L965.8,141.3 L965.6,136.6 L964.8,129.4 L963.2,117.5 L963.2,117.5 L963.2,117.5 L963.2,117.5 L957.5,100.4 L950.9,97.6 L944.2,98.3 L936.5,96.8 L934.0,104.3 L934.0,104.3 L931.4,111.8 L930.6,113.5 L931.0,115.9 L927.3,122.9 L924.7,124.8 L921.3,128.4 L918.7,129.6 L916.0,134.7 L913.6,138.2 L913.5,143.9 L910.3,147.8 L908.9,148.9 L907.1,149.8 L898.7,152.6 L897.3,153.2 L896.1,153.0 L894.4,152.1 L889.1,146.5 L887.9,144.7 L885.9,144.4 L879.9,142.1 L874.3,141.6 L869.3,138.8 L866.1,138.6 L859.9,137.2 L859.2,137.5 L853.5,137.5 L850.1,136.9 L843.3,137.0 L841.4,136.8 L840.4,136.6 L837.7,136.0 L832.3,131.4 L828.1,130.6 L823.5,128.7 L820.5,129.5 L816.4,129.0 L813.8,129.0 L808.1,130.3 L805.6,130.4 L803.6,130.5 L796.9,131.8 L794.9,132.0 L793.1,132.2 L786.1,133.5 L784.3,133.7 L775.4,135.0 L773.7,135.2 L772.1,135.2 L763.0,136.3 L761.5,136.4 L753.9,137.1 L752.4,137.2 L750.8,137.4 L743.2,137.9 L741.7,138.0 L740.0,138.3 L732.7,138.6 L731.0,138.9 L729.0,139.2 L722.4,139.3 L720.3,139.7 L717.5,140.4 L712.4,140.4 L709.6,141.6 L705.2,142.5 L703.1,142.4 L698.7,143.9 L693.5,144.0 L692.8,144.1 L687.8,144.4 L683.4,141.5 L681.7,141.3 L677.3,139.4 L673.9,138.8 L670.1,138.3 L666.7,137.7 L663.2,137.4 L659.4,136.9 L655.9,136.6 L650.5,137.9 L649.9,137.8 L643.8,142.3 L642.2,143.1 L641.0,145.2 L638.5,150.3 L636.5,153.5 L633.9,160.7 L632.2,167.5 L631.7,170.1 L630.1,177.0 L629.4,184.9 L629.2,185.8 L629.0,193.8 L627.6,200.8 L627.2,203.2 L625.9,210.3 L626.8,215.3 L630.1,218.4 L635.9,229.0 L636.3,234.8 L639.7,242.4 L642.2,243.6 L643.6,247.2 L647.7,253.0 L651.6,256.7 L656.9,259.0 L659.9,266.1 L662.1,269.0 L664.2,270.0 L667.3,270.6 L678.5,267.8 L678.5,267.8 L679.7,251.0 L679.7,251.0 L679.7,251.0 L680.9,234.3 L667.7,233.1 L667.7,233.1 L667.7,233.1 L667.7,233.1 L667.7,233.1 L669.4,216.5 L669.4,216.5 L669.4,216.5 L669.4,216.5 L669.4,216.5 L682.1,217.6 L682.1,217.6 L682.1,217.6 L694.8,218.4 L694.8,218.4 L694.8,218.4 L707.6,218.9 L708.0,202.3 L708.0,202.3 L708.0,202.3 L708.0,202.3 L708.0,202.3 L720.3,202.4 L720.3,202.4 L720.3,202.4 L720.3,202.4 L720.3,202.4 L724.5,213.4 L733.1,218.9 L733.1,218.9 L733.1,218.9 L733.1,218.9 L733.1,218.9 L736.3,231.7 L746.7,235.1 L746.7,235.1 L746.7,235.1 L746.7,235.1 L746.7,235.1 L752.0,245.4 L756.5,251.2 L757.4,256.0 L762.2,267.8 L762.2,267.8 L762.2,267.8 L762.2,267.8 L762.2,267.8 L759.6,280.6 L759.8,284.9 L761.2,287.6 L763.8,290.3 L767.0,298.3 L768.8,301.3 L773.7,308.0 L780.3,311.1 L782.3,315.5 L783.0,317.3 L784.4,320.7 L785.7,330.2 L788.6,334.1 L792.4,340.7 L799.0,343.5 L802.1,347.2 L806.1,349.7 L810.1,356.3 L817.0,359.0Z M705.8,294.5 L712.3,293.6 L714.5,292.9 L720.3,291.8 L723.3,289.5 L727.5,286.1 L727.4,277.6 L727.4,277.6 L727.3,269.2 L725.8,262.5 L720.3,252.4 L720.3,252.4 L720.3,252.4 L720.3,252.4 L720.3,235.7 L707.2,235.5 L707.2,235.5 L707.2,235.5 L694.0,235.1 L694.0,235.1 L694.0,235.1 L680.9,234.3 L679.7,251.0 L679.7,251.0 L679.7,251.0 L678.5,267.8 L678.5,267.8 L687.4,273.9 L692.0,277.0 L694.9,281.8 L696.4,285.6 L701.4,291.0 L705.8,294.5Z" fill="#feeae0" fill-rule="evenodd"/>
<path d="M810.1,356.3 L806.1,349.7 L802.1,347.2 L799.0,343.5 L792.4,340.7 L788.6,334.1 L785.7,330.2 L784.4,320.7 L783.0,317.3 L782.3,315.5 L780.3,311.1 L773.7,308.0 L768.8,301.3 L767.0,298.3 L763.8,290.3 L761.2,287.6 L759.8,284.9 L759.6,280.6 L762.2,267.8 L762.2,267.8 L762.2,267.8 L762.2,267.8 L762.2,267.8 L757.4,256.0 L756.5,251.2 L752.0,245.4 L746.7,235.1 L746.7,235.1 L746.7,235.1 L746.7,235.1 L746.7,235.1 L736.3,231.7 L733.1,218.9 L733.1,218.9 L733.1,218.9 L733.1,218.9 L733.1,218.9 L724.5,213.4 L720.3,202.4 L720.3,202.4 L720.3,202.4 L720.3,202.4 L720.3,202.4 L708.0,202.3 L708.0,202.3 L708.0,202.3 L708.0,202.3 L708.0,202.3 L707.6,218.9 L694.8,218.4 L694.8,218.4 L694.8,218.4 L682.1,217.6 L682.1,217.6 L682.1,217.6 L669.4,216.5 L669.4,216.5 L669.4,216.5 L669.4,216.5 L669.4,216.5 L667.7,233.1 L667.7,233.1 L667.7,233.1 L667.7,233.1 L667.7,233.1 L680.9,234.3 L679.7,251.0 L679.7,251.0 L679.7,251.0 L678.5,267.8 L678.5,267.8 L667.3,270.6 L664.2,270.0 L662.1,269.0 L659.9,266.1 L656.9,259.0 L651.6,256.7 L647.7,253.0 L643.6,247.2 L642.2,243.6 L639.7,242.4 L636.3,234.8 L635.9,229.0 L630.1,218.4 L626.8,215.3 L625.9,210.3 L627.2,203.2 L627.6,200.8 L629.0,193.8 L629.2,185.8 L629.4,184.9 L630.1,177.0 L631.7,170.1 L632.2,167.5 L633.9,160.7 L636.5,153.5 L638.5,150.3 L641.0,145.2 L642.2,143.1 L643.8,142.3 L649.9,137.8 L650.5,137.9 L655.9,136.6 L659.4,136.9 L663.2,137.4 L666.7,137.7 L670.1,138.3 L673.9,138.8 L677.3,139.4 L681.7,141.3 L683.4,141.5 L687.8,144.4 L692.8,144.1 L693.5,144.0 L698.7,143.9 L703.1,142.4 L705.2,142.5 L709.6,141.6 L712.4,140.4 L717.5,140.4 L720.3,139.7 L722.4,139.3 L729.0,139.2 L731.0,138.9 L732.7,138.6 L740.0,138.3 L741.7,138.0 L743.2,137.9 L750.8,137.4 L752.4,137.2 L753.9,137.1 L761.5,136.4 L763.0,136.3 L772.1,135.2 L773.7,135.2 L775.4,135.0 L784.3,133.7 L786.1,133.5 L793.1,132.2 L794.9,132.0 L796.9,131.8 L803.6,130.5 L805.6,130.4 L808.1,130.3 L813.8,129.0 L816.4,129.0 L820.5,129.5 L823.5,128.7 L828.1,130.6 L832.3,131.4 L837.7,136.0 L840.4,136.6 L841.4,136.8 L843.3,137.0 L850.1,136.9 L853.5,137.5 L859.2,137.5 L859.9,137.2 L866.1,138.6 L869.3,138.8 L874.3,141.6 L879.9,142.1 L885.9,144.4 L887.9,144.7 L889.1,146.5 L894.4,152.1 L896.1,153.0 L897.3,153.2 L898.7,152.6 L907.1,149.8 L908.9,148.9 L910.3,147.8 L913.5,143.9 L913.6,138.2 L916.0,134.7 L918.7,129.6 L921.3,128.4 L924.7,124.8 L927.3,122.9 L931.0,115.9 L930.6,113.5 L931.4,111.8 L934.0,104.3 L934.0,104.3 L936.5,96.8 L944.2,98.3 L950.9,97.6 L957.5,100.4 L963.2,117.5 L963.2,117.5 L963.2,117.5 L963.2,117.5 L964.8,129.4 L965.6,136.6 L965.8,141.3 L963.9,144.4 L963.9,152.0 L960.1,159.7 L960.4,162.2 L959.4,164.1 L961.6,174.7 L960.8,179.1 L961.7,186.8 L958.4,193.4 L958.9,197.7 L959.2,199.5 L959.4,204.5 L962.3,211.8 L955.8,217.8 L954.6,220.0 L954.3,221.1 L954.0,224.2 L955.3,233.7 L950.3,235.7 L946.9,239.8 L945.2,241.2 L943.4,244.5 L943.6,253.4 L938.9,261.4 L938.3,263.6 L938.3,265.3 L942.5,271.4 L948.8,274.4 L952.4,279.1 L958.8,288.3 L962.9,294.4 L955.3,307.8 L936.7,303.5 L936.7,303.5 L920.6,289.9 L918.4,286.4 L914.6,285.6 L906.9,285.3 L906.1,285.6 L897.6,282.0 L894.9,282.1 L889.3,280.6 L882.6,281.5 L881.8,281.7 L880.7,282.9 L877.8,290.8 L877.4,293.3 L876.5,293.5 L870.2,298.3 L866.2,299.4 L859.4,300.8 L855.4,301.9 L852.2,303.3 L843.9,304.9 L840.7,306.1 L838.7,307.3 L833.7,310.6 L832.2,316.7 L827.5,320.5 L826.7,327.2 L826.6,329.4 L826.1,333.3 L827.6,343.1 L825.2,347.2 L823.0,354.6 L817.0,359.0 L810.1,356.3Z M701.4,291.0 L696.4,285.6 L694.9,281.8 L692.0,277.0 L687.4,273.9 L678.5,267.8 L678.5,267.8 L679.7,251.0 L679.7,251.0 L679.7,251.0 L680.9,234.3 L694.0,235.1 L694.0,235.1 L694.0,235.1 L707.2,235.5 L707.2,235.5 L707.2,235.5 L720.3,235.7 L720.3,252.4 L720.3,252.4 L720.3,252.4 L720.3,252.4 L725.8,262.5 L727.3,269.2 L727.4,277.6 L727.4,277.6 L727.5,286.1 L723.3,289.5 L720.3,291.8 L714.5,292.9 L712.3,293.6 L705.8,294.5 L701.4,291.0Z M816.6,355.5 L820.6,352.6 L822.0,347.7 L825.6,341.4 L824.7,335.4 L825.4,329.5 L825.6,326.3 L826.9,316.2 L829.2,314.3 L830.0,311.2 L837.4,306.2 L840.4,304.5 L845.2,302.7 L850.2,301.7 L854.9,299.6 L861.0,298.0 L863.6,297.5 L869.7,295.9 L875.1,291.7 L878.1,283.6 L881.3,279.8 L883.7,279.3 L895.3,277.8 L896.3,277.6 L897.1,277.5 L898.7,278.1 L907.4,282.6 L913.7,282.8 L919.4,284.0 L922.7,289.2 L935.6,300.1 L942.8,301.4 L954.0,304.0 L958.6,296.0 L950.3,283.7 L948.2,280.7 L947.0,279.1 L944.9,278.1 L936.5,265.9 L936.4,262.6 L937.7,258.1 L941.2,252.1 L941.1,245.4 L943.8,240.5 L946.3,238.3 L951.5,232.2 L952.0,232.0 L951.9,230.9 L952.9,221.7 L953.9,218.4 L957.5,211.9 L959.2,210.3 L958.4,208.3 L958.0,200.1 L957.5,197.0 L956.7,189.9 L959.0,185.5 L958.4,180.4 L959.4,173.6 L957.3,163.4 L957.1,161.3 L956.9,160.6 L957.1,159.7 L958.6,155.5 L961.0,150.7 L961.0,139.2 L961.0,139.2 L961.0,139.2 L961.0,139.2 L959.8,127.3 L958.9,120.1 L953.4,113.2 L954.0,102.6 L943.9,103.6 L940.1,102.8 L938.8,106.6 L936.6,112.8 L935.8,116.1 L934.3,117.0 L932.6,118.6 L929.7,124.2 L925.8,127.0 L921.7,131.3 L920.1,135.3 L918.1,139.1 L917.3,140.3 L917.2,142.2 L911.9,148.7 L909.7,150.6 L906.6,152.0 L900.9,153.9 L898.1,155.2 L895.6,154.7 L892.4,152.9 L887.2,147.5 L881.1,145.1 L868.0,143.9 L868.0,143.9 L868.0,143.9 L868.0,143.9 L859.0,140.4 L854.5,140.4 L849.3,139.6 L846.6,139.6 L842.1,139.2 L839.7,138.7 L833.4,137.2 L831.0,135.3 L829.2,134.9 L824.1,132.8 L822.5,131.8 L816.9,131.2 L813.0,131.1 L809.7,131.9 L805.9,132.0 L802.9,132.1 L798.2,133.1 L795.2,133.3 L792.5,133.7 L787.2,134.7 L784.5,135.0 L776.5,136.2 L773.8,136.5 L771.4,136.5 L763.1,137.5 L760.8,137.7 L754.8,138.2 L752.4,138.3 L750.2,138.6 L744.0,139.0 L741.8,139.2 L739.2,139.6 L733.6,139.9 L731.1,140.4 L728.0,140.8 L723.4,140.9 L720.3,141.4 L716.1,142.6 L713.7,142.5 L709.5,144.3 L704.8,145.3 L702.1,146.8 L698.4,148.0 L695.9,148.1 L689.1,149.0 L687.4,149.1 L685.1,147.5 L681.4,144.0 L677.0,142.2 L671.9,141.2 L671.5,141.2 L666.3,140.2 L661.1,139.8 L660.7,139.7 L655.5,139.3 L651.0,140.4 L644.8,145.9 L644.1,147.5 L642.4,149.7 L638.0,156.9 L636.4,161.2 L635.0,166.9 L633.9,171.2 L632.5,177.4 L632.0,183.3 L632.6,191.4 L632.5,194.4 L632.0,196.8 L629.9,208.6 L629.5,210.9 L629.8,212.6 L630.9,213.6 L639.6,229.6 L639.8,231.5 L640.9,234.1 L645.1,236.1 L654.6,231.7 L649.1,222.5 L652.4,214.5 L654.1,210.5 L657.7,206.8 L662.2,204.5 L671.0,199.9 L671.0,199.9 L671.0,199.9 L671.0,199.9 L683.3,201.0 L683.3,201.0 L683.3,201.0 L692.5,196.8 L696.5,185.2 L696.5,185.2 L696.5,185.2 L696.5,185.2 L696.5,185.2 L706.7,183.1 L708.5,183.6 L709.5,184.2 L720.3,185.8 L720.3,185.8 L720.3,185.8 L720.3,185.8 L720.3,185.8 L723.8,197.6 L728.6,202.3 L730.3,205.6 L732.8,207.8 L735.0,216.1 L737.3,218.7 L740.7,225.6 L746.4,229.5 L748.1,232.9 L753.2,234.7 L756.1,239.7 L760.6,245.4 L761.7,250.0 L762.7,250.8 L763.3,253.4 L765.2,263.5 L766.2,267.4 L765.6,271.3 L765.3,282.1 L765.0,284.5 L766.6,287.8 L769.4,295.0 L773.0,300.9 L776.0,305.0 L779.9,306.8 L783.3,314.1 L784.5,317.1 L786.7,322.9 L787.4,327.9 L791.7,333.8 L794.2,338.2 L798.7,340.1 L803.3,345.6 L809.3,349.3 L812.0,353.7 L816.6,355.5Z M706.0,286.0 L711.9,275.9 L713.4,269.2 L710.4,264.3 L706.6,260.7 L701.9,263.3 L699.4,268.8 L702.2,273.8 L706.0,286.0Z" fill="#fee2d5" fill-rule="evenodd"/>
<path d="M812.0,353.7 L809.3,349.3 L803.3,345.6 L798.7,340.1 L794.2,338.2 L791.7,333.8 L787.4,327.9 L786.7,322.9 L784.5,317.1 L783.3,314.1 L779.9,306.8 L776.0,305.0 L773.0,300.9 L769.4,295.0 L766.6,287.8 L765.0,284.5 L765.3,282.1 L765.6,271.3 L766.2,267.4 L765.2,263.5 L763.3,253.4 L762.7,250.8 L761.7,250.0 L760.6,245.4 L756.1,239.7 L753.2,234.7 L748.1,232.9 L746.4,229.5 L740.7,225.6 L737.3,218.7 L735.0,216.1 L732.8,207.8 L730.3,205.6 L728.6,202.3 L723.8,197.6 L720.3,185.8 L720.3,185.8 L720.3,185.8 L720.3,185.8 L720.3,185.8 L709.5,184.2 L708.5,183.6 L706.7,183.1 L696.5,185.2 L696.5,185.2 L696.5,185.2 L696.5,185.2 L696.5,185.2 L692.5,196.8 L683.3,201.0 L683.3,201.0 L683.3,201.0 L671.0,199.9 L671.0,199.9 L671.0,199.9 L671.0,199.9 L662.2,204.5 L657.7,206.8 L654.1,210.5 L652.4,214.5 L649.1,222.5 L654.6,231.7 L645.1,236.1 L640.9,234.1 L639.8,231.5 L639.6,229.6 L630.9,213.6 L629.8,212.6 L629.5,210.9 L629.9,208.6 L632.0,196.8 L632.5,194.4 L632.6,191.4 L632.0,183.3 L632.5,177.4 L633.9,171.2 L635.0,166.9 L636.4,161.2 L638.0,156.9 L642.4,149.7 L644.1,147.5 L644.8,145.9 L651.0,140.4 L655.5,139.3 L660.7,139.7 L661.1,139.8 L666.3,140.2 L671.5,141.2 L671.9,141.2 L677.0,142.2 L681.4,144.0 L685.1,147.5 L687.4,149.1 L689.1,149.0 L695.9,148.1 L698.4,148.0 L702.1,146.8 L704.8,145.3 L709.5,144.3 L713.7,142.5 L716.1,142.6 L720.3,141.4 L723.4,140.9 L728.0,140.8 L731.1,140.4 L733.6,139.9 L739.2,139.6 L741.8,139.2 L744.0,139.0 L750.2,138.6 L752.4,138.3 L754.8,138.2 L760.8,137.7 L763.1,137.5 L771.4,136.5 L773.8,136.5 L776.5,136.2 L784.5,135.0 L787.2,134.7 L792.5,133.7 L795.2,133.3 L798.2,133.1 L802.9,132.1 L805.9,132.0 L809.7,131.9 L813.0,131.1 L816.9,131.2 L822.5,131.8 L824.1,132.8 L829.2,134.9 L831.0,135.3 L833.4,137.2 L839.7,138.7 L842.1,139.2 L846.6,139.6 L849.3,139.6 L854.5,140.4 L859.0,140.4 L868.0,143.9 L868.0,143.9 L868.0,143.9 L868.0,143.9 L881.1,145.1 L887.2,147.5 L892.4,152.9 L895.6,154.7 L898.1,155.2 L900.9,153.9 L906.6,152.0 L909.7,150.6 L911.9,148.7 L917.2,142.2 L917.3,140.3 L918.1,139.1 L920.1,135.3 L921.7,131.3 L925.8,127.0 L929.7,124.2 L932.6,118.6 L934.3,117.0 L935.8,116.1 L936.6,112.8 L938.8,106.6 L940.1,102.8 L943.9,103.6 L954.0,102.6 L953.4,113.2 L958.9,120.1 L959.8,127.3 L961.0,139.2 L961.0,139.2 L961.0,139.2 L961.0,139.2 L961.0,150.7 L958.6,155.5 L957.1,159.7 L956.9,160.6 L957.1,161.3 L957.3,163.4 L959.4,173.6 L958.4,180.4 L959.0,185.5 L956.7,189.9 L957.5,197.0 L958.0,200.1 L958.4,208.3 L959.2,210.3 L957.5,211.9 L953.9,218.4 L952.9,221.7 L951.9,230.9 L952.0,232.0 L951.5,232.2 L946.3,238.3 L943.8,240.5 L941.1,245.4 L941.2,252.1 L937.7,258.1 L936.4,262.6 L936.5,265.9 L944.9,278.1 L947.0,279.1 L948.2,280.7 L950.3,283.7 L958.6,296.0 L954.0,304.0 L942.8,301.4 L935.6,300.1 L922.7,289.2 L919.4,284.0 L913.7,282.8 L907.4,282.6 L898.7,278.1 L897.1,277.5 L896.3,277.6 L895.3,277.8 L883.7,279.3 L881.3,279.8 L878.1,283.6 L875.1,291.7 L869.7,295.9 L863.6,297.5 L861.0,298.0 L854.9,299.6 L850.2,301.7 L845.2,302.7 L840.4,304.5 L837.4,306.2 L830.0,311.2 L829.2,314.3 L826.9,316.2 L825.6,326.3 L825.4,329.5 L824.7,335.4 L825.6,341.4 L822.0,347.7 L820.6,352.6 L816.6,355.5 L812.0,353.7Z M702.2,273.8 L699.4,268.8 L701.9,263.3 L706.6,260.7 L710.4,264.3 L713.4,269.2 L711.9,275.9 L706.0,286.0 L702.2,273.8Z M816.1,352.1 L818.1,350.6 L818.8,348.1 L823.6,339.8 L823.3,337.5 L824.3,329.7 L824.5,325.4 L826.2,311.9 L826.2,311.9 L826.2,311.9 L826.2,311.9 L826.2,311.9 L836.1,305.2 L840.1,302.8 L846.5,300.5 L848.2,300.2 L854.4,297.4 L861.1,295.6 L862.6,295.2 L869.1,293.5 L873.2,290.3 L875.4,284.2 L880.8,277.9 L884.7,277.0 L892.7,276.0 L895.7,275.3 L898.2,275.3 L902.8,276.8 L908.7,279.8 L912.9,280.0 L920.5,281.7 L924.8,288.5 L934.5,296.7 L949.0,299.4 L952.7,300.2 L954.2,297.6 L949.1,289.9 L944.0,282.2 L944.2,280.4 L934.7,266.6 L934.6,261.5 L936.5,254.7 L938.8,250.7 L938.7,246.3 L942.4,239.7 L945.7,236.8 L950.5,231.2 L951.4,222.3 L953.2,216.7 L957.3,209.3 L956.8,200.6 L956.1,196.3 L955.1,186.4 L956.2,184.2 L955.9,181.6 L957.3,172.6 L956.4,168.3 L955.8,162.0 L955.1,159.7 L955.7,157.1 L958.5,149.6 L959.0,140.4 L957.1,137.4 L955.3,129.1 L954.8,125.1 L954.5,122.7 L943.6,108.8 L943.6,108.8 L941.3,118.8 L936.6,121.4 L932.4,125.6 L931.7,125.7 L926.9,129.3 L923.9,132.4 L920.7,140.5 L920.2,141.9 L919.6,142.4 L918.7,143.2 L913.4,149.7 L910.4,152.3 L906.1,154.3 L903.1,155.3 L898.9,157.2 L895.2,156.5 L890.3,153.7 L886.6,149.9 L882.2,148.2 L872.9,147.3 L868.8,146.4 L867.2,146.4 L863.5,145.4 L858.1,143.3 L855.4,143.3 L850.2,142.5 L848.6,142.1 L842.9,141.6 L839.1,140.8 L831.0,138.9 L830.3,138.7 L829.9,138.6 L829.4,138.3 L821.8,133.8 L817.4,133.3 L812.3,133.2 L811.4,133.4 L806.3,133.6 L802.3,133.8 L799.4,134.4 L795.4,134.7 L791.9,135.2 L788.2,135.8 L784.7,136.3 L777.6,137.4 L774.0,137.7 L770.8,137.8 L763.3,138.7 L760.2,138.9 L755.6,139.3 L752.5,139.5 L749.5,139.8 L744.9,140.1 L741.8,140.4 L738.4,141.0 L734.5,141.1 L731.1,141.8 L727.0,142.4 L724.5,142.5 L720.3,143.2 L715.0,144.6 L714.6,144.9 L709.4,147.1 L706.3,147.8 L698.2,152.2 L698.2,152.2 L698.2,152.2 L698.2,152.2 L690.5,157.2 L686.8,156.9 L685.4,153.6 L685.0,151.2 L679.6,146.1 L676.7,144.9 L673.0,144.2 L670.0,143.5 L666.0,142.8 L662.0,142.4 L658.8,142.3 L655.0,142.0 L652.1,142.8 L647.9,146.4 L645.8,151.4 L640.9,157.9 L639.4,160.3 L638.9,161.7 L638.5,163.6 L635.5,174.8 L634.8,177.9 L634.6,180.8 L635.2,189.3 L636.9,192.2 L640.3,195.8 L638.9,204.0 L644.0,213.3 L649.0,201.4 L652.6,197.7 L657.3,195.9 L659.1,195.8 L661.6,195.5 L668.1,194.8 L671.6,194.4 L676.5,193.7 L679.0,194.0 L684.0,192.7 L687.9,189.8 L690.6,184.8 L692.6,178.9 L697.1,174.2 L702.1,178.1 L703.2,177.8 L708.6,179.5 L711.7,181.2 L717.7,182.1 L720.3,183.1 L721.6,184.0 L723.7,185.8 L726.9,193.3 L732.6,199.5 L733.3,201.4 L733.6,202.2 L734.7,204.7 L737.0,213.4 L741.6,218.6 L743.3,222.0 L746.1,224.0 L749.6,230.8 L759.8,234.3 L759.8,234.3 L759.8,234.3 L759.8,234.3 L759.8,234.3 L763.0,248.0 L766.1,250.6 L767.9,258.2 L768.1,259.3 L770.2,267.1 L769.0,274.8 L769.0,276.9 L768.2,284.3 L771.8,291.8 L774.0,295.2 L777.2,300.6 L778.2,302.0 L779.5,302.6 L784.3,312.8 L785.9,317.0 L789.0,325.1 L789.1,325.6 L794.8,333.5 L796.1,335.7 L798.3,336.6 L804.5,343.9 L812.5,348.9 L813.8,351.1 L816.1,352.1Z" fill="#fdd7c6" fill-rule="evenodd"/>
<path d="M813.8,351.1 L812.5,348.9 L804.5,343.9 L798.3,336.6 L796.1,335.7 L794.8,333.5 L789.1,325.6 L789.0,325.1 L785.9,317.0 L784.3,312.8 L779.5,302.6 L778.2,302.0 L777.2,300.6 L774.0,295.2 L771.8,291.8 L768.2,284.3 L769.0,276.9 L769.0,274.8 L770.2,267.1 L768.1,259.3 L767.9,258.2 L766.1,250.6 L763.0,248.0 L759.8,234.3 L759.8,234.3 L759.8,234.3 L759.8,234.3 L759.8,234.3 L749.6,230.8 L746.1,224.0 L743.3,222.0 L741.6,218.6 L737.0,213.4 L734.7,204.7 L733.6,202.2 L733.3,201.4 L732.6,199.5 L726.9,193.3 L723.7,185.8 L721.6,184.0 L720.3,183.1 L717.7,182.1 L711.7,181.2 L708.6,179.5 L703.2,177.8 L702.1,178.1 L697.1,174.2 L692.6,178.9 L690.6,184.8 L687.9,189.8 L684.0,192.7 L679.0,194.0 L676.5,193.7 L671.6,194.4 L668.1,194.8 L661.6,195.5 L659.1,195.8 L657.3,195.9 L652.6,197.7 L649.0,201.4 L644.0,213.3 L638.9,204.0 L640.3,195.8 L636.9,192.2 L635.2,189.3 L634.6,180.8 L634.8,177.9 L635.5,174.8 L638.5,163.6 L638.9,161.7 L639.4,160.3 L640.9,157.9 L645.8,151.4 L647.9,146.4 L652.1,142.8 L655.0,142.0 L658.8,142.3 L662.0,142.4 L666.0,142.8 L670.0,143.5 L673.0,144.2 L676.7,144.9 L679.6,146.1 L685.0,151.2 L685.4,153.6 L686.8,156.9 L690.5,157.2 L698.2,152.2 L698.2,152.2 L698.2,152.2 L698.2,152.2 L706.3,147.8 L709.4,147.1 L714.6,144.9 L715.0,144.6 L720.3,143.2 L724.5,142.5 L727.0,142.4 L731.1,141.8 L734.5,141.1 L738.4,141.0 L741.8,140.4 L744.9,140.1 L749.5,139.8 L752.5,139.5 L755.6,139.3 L760.2,138.9 L763.3,138.7 L770.8,137.8 L774.0,137.7 L777.6,137.4 L784.7,136.3 L788.2,135.8 L791.9,135.2 L795.4,134.7 L799.4,134.4 L802.3,133.8 L806.3,133.6 L811.4,133.4 L812.3,133.2 L817.4,133.3 L821.8,133.8 L829.4,138.3 L829.9,138.6 L830.3,138.7 L831.0,138.9 L839.1,140.8 L842.9,141.6 L848.6,142.1 L850.2,142.5 L855.4,143.3 L858.1,143.3 L863.5,145.4 L867.2,146.4 L868.8,146.4 L872.9,147.3 L882.2,148.2 L886.6,149.9 L890.3,153.7 L895.2,156.5 L898.9,157.2 L903.1,155.3 L906.1,154.3 L910.4,152.3 L913.4,149.7 L918.7,143.2 L919.6,142.4 L920.2,141.9 L920.7,140.5 L923.9,132.4 L926.9,129.3 L931.7,125.7 L932.4,125.6 L936.6,121.4 L941.3,118.8 L943.6,108.8 L943.6,108.8 L954.5,122.7 L954.8,125.1 L955.3,129.1 L957.1,137.4 L959.0,140.4 L958.5,149.6 L955.7,157.1 L955.1,159.7 L955.8,162.0 L956.4,168.3 L957.3,172.6 L955.9,181.6 L956.2,184.2 L955.1,186.4 L956.1,196.3 L956.8,200.6 L957.3,209.3 L953.2,216.7 L951.4,222.3 L950.5,231.2 L945.7,236.8 L942.4,239.7 L938.7,246.3 L938.8,250.7 L936.5,254.7 L934.6,261.5 L934.7,266.6 L944.2,280.4 L944.0,282.2 L949.1,289.9 L954.2,297.6 L952.7,300.2 L949.0,299.4 L934.5,296.7 L924.8,288.5 L920.5,281.7 L912.9,280.0 L908.7,279.8 L902.8,276.8 L898.2,275.3 L895.7,275.3 L892.7,276.0 L884.7,277.0 L880.8,277.9 L875.4,284.2 L873.2,290.3 L869.1,293.5 L862.6,295.2 L861.1,295.6 L854.4,297.4 L848.2,300.2 L846.5,300.5 L840.1,302.8 L836.1,305.2 L826.2,311.9 L826.2,311.9 L826.2,311.9 L826.2,311.9 L826.2,311.9 L824.5,325.4 L824.3,329.7 L823.3,337.5 L823.6,339.8 L818.8,348.1 L818.1,350.6 L816.1,352.1 L813.8,351.1Z M815.7,348.6 L815.7,348.6 L822.0,338.5 L823.1,329.9 L823.4,324.5 L824.7,314.2 L824.9,312.1 L825.1,311.0 L825.9,310.1 L828.2,308.6 L834.8,304.2 L839.8,301.2 L846.4,298.8 L848.1,297.7 L854.0,295.1 L858.7,293.9 L864.2,292.2 L868.6,291.0 L871.3,288.9 L872.7,284.9 L880.3,276.1 L885.8,274.8 L890.0,274.2 L895.0,273.1 L899.2,273.0 L907.0,275.6 L909.9,277.1 L912.0,277.2 L921.5,279.3 L927.0,287.9 L933.4,293.3 L947.9,296.0 L939.7,283.6 L940.5,278.2 L932.9,267.2 L932.7,260.5 L935.3,251.4 L936.4,249.4 L936.4,247.2 L941.0,239.0 L945.1,235.3 L949.2,230.5 L950.0,222.8 L952.5,215.1 L956.0,208.7 L955.6,201.1 L954.7,195.7 L953.4,182.8 L953.4,182.8 L953.4,182.8 L953.4,182.8 L955.3,171.7 L954.4,162.7 L953.3,158.9 L954.4,154.5 L956.5,148.7 L956.9,141.5 L953.1,135.6 L951.7,129.3 L948.7,126.0 L942.1,124.0 L939.0,125.7 L936.9,127.8 L931.3,129.1 L928.1,131.5 L926.0,133.6 L923.9,139.0 L922.3,143.1 L920.6,144.4 L918.0,147.0 L915.0,150.6 L911.1,153.9 L905.6,156.5 L905.2,156.6 L899.7,159.2 L894.7,158.2 L888.2,154.5 L886.0,152.2 L883.4,151.2 L877.8,150.7 L869.7,148.8 L866.5,148.9 L859.1,146.9 L857.3,146.2 L856.4,146.2 L854.6,146.0 L847.8,144.4 L843.6,144.0 L838.4,142.8 L834.6,142.0 L830.9,141.1 L829.2,140.6 L826.5,139.1 L821.1,135.9 L818.0,135.5 L813.4,135.4 L811.6,135.1 L806.6,135.3 L801.6,135.5 L800.7,135.7 L795.7,136.1 L791.3,136.7 L789.3,137.0 L784.9,137.7 L778.6,138.6 L774.2,139.0 L770.1,139.1 L763.4,139.9 L759.6,140.1 L756.5,140.4 L752.6,140.6 L748.8,141.0 L745.7,141.2 L741.9,141.5 L737.7,142.3 L735.4,142.4 L731.2,143.3 L726.0,144.0 L725.5,144.0 L720.3,144.9 L716.0,146.1 L711.9,148.7 L709.4,149.8 L707.8,150.2 L703.8,152.4 L702.4,158.9 L701.4,163.3 L700.2,168.8 L705.0,174.2 L708.7,175.3 L713.9,178.2 L715.1,178.4 L720.3,180.3 L722.9,182.1 L727.1,185.7 L729.1,190.2 L732.5,194.0 L734.5,199.6 L735.5,202.1 L738.7,209.7 L738.9,210.7 L745.8,218.4 L745.8,218.4 L745.8,218.4 L745.8,218.4 L745.8,218.4 L751.1,228.7 L756.5,230.5 L759.7,232.5 L760.5,233.3 L761.0,234.2 L762.2,236.9 L764.4,246.0 L769.5,250.3 L770.7,255.5 L773.4,263.8 L774.2,266.8 L773.7,270.2 L772.0,277.8 L771.4,284.0 L773.8,289.1 L779.0,297.0 L780.0,299.5 L780.1,300.4 L780.8,301.8 L785.2,311.4 L787.3,316.8 L790.1,324.1 L797.9,333.2 L797.9,333.2 L797.9,333.2 L797.9,333.2 L805.7,342.3 L815.7,348.6Z M647.1,192.7 L651.3,191.9 L654.5,190.7 L659.8,190.3 L665.1,189.7 L667.2,189.4 L672.2,188.9 L675.7,188.4 L684.6,184.5 L684.6,184.5 L685.9,167.9 L685.9,167.9 L685.9,167.9 L681.8,158.1 L680.6,150.8 L677.9,148.3 L676.5,147.7 L674.6,147.3 L668.0,145.7 L665.7,145.3 L663.2,145.1 L656.5,144.9 L654.6,144.8 L653.1,145.1 L651.0,146.9 L648.0,153.9 L647.6,155.4 L643.0,162.4 L642.1,166.0 L637.2,178.3 L637.2,178.3 L642.3,187.0 L647.1,192.7Z" fill="#fdc9b3" fill-rule="evenodd"/>
<path d="M805.7,342.3 L797.9,333.2 L797.9,333.2 L797.9,333.2 L797.9,333.2 L790.1,324.1 L787.3,316.8 L785.2,311.4 L780.8,301.8 L780.1,300.4 L780.0,299.5 L779.0,297.0 L773.8,289.1 L771.4,284.0 L772.0,277.8 L773.7,270.2 L774.2,266.8 L773.4,263.8 L770.7,255.5 L769.5,250.3 L764.4,246.0 L762.2,236.9 L761.0,234.2 L760.5,233.3 L759.7,232.5 L756.5,230.5 L751.1,228.7 L745.8,218.4 L745.8,218.4 L745.8,218.4 L745.8,218.4 L745.8,218.4 L738.9,210.7 L738.7,209.7 L735.5,202.1 L734.5,199.6 L732.5,194.0 L729.1,190.2 L727.1,185.7 L722.9,182.1 L720.3,180.3 L715.1,178.4 L713.9,178.2 L708.7,175.3 L705.0,174.2 L700.2,168.8 L701.4,163.3 L702.4,158.9 L703.8,152.4 L707.8,150.2 L709.4,149.8 L711.9,148.7 L716.0,146.1 L720.3,144.9 L725.5,144.0 L726.0,144.0 L731.2,143.3 L735.4,142.4 L737.7,142.3 L741.9,141.5 L745.7,141.2 L748.8,141.0 L752.6,140.6 L756.5,140.4 L759.6,140.1 L763.4,139.9 L770.1,139.1 L774.2,139.0 L778.6,138.6 L784.9,137.7 L789.3,137.0 L791.3,136.7 L795.7,136.1 L800.7,135.7 L801.6,135.5 L806.6,135.3 L811.6,135.1 L813.4,135.4 L818.0,135.5 L821.1,135.9 L826.5,139.1 L829.2,140.6 L830.9,141.1 L834.6,142.0 L838.4,142.8 L843.6,144.0 L847.8,144.4 L854.6,146.0 L856.4,146.2 L857.3,146.2 L859.1,146.9 L866.5,148.9 L869.7,148.8 L877.8,150.7 L883.4,151.2 L886.0,152.2 L888.2,154.5 L894.7,158.2 L899.7,159.2 L905.2,156.6 L905.6,156.5 L911.1,153.9 L915.0,150.6 L918.0,147.0 L920.6,144.4 L922.3,143.1 L923.9,139.0 L926.0,133.6 L928.1,131.5 L931.3,129.1 L936.9,127.8 L939.0,125.7 L942.1,124.0 L948.7,126.0 L951.7,129.3 L953.1,135.6 L956.9,141.5 L956.5,148.7 L954.4,154.5 L953.3,158.9 L954.4,162.7 L955.3,171.7 L953.4,182.8 L953.4,182.8 L953.4,182.8 L953.4,182.8 L954.7,195.7 L955.6,201.1 L956.0,208.7 L952.5,215.1 L950.0,222.8 L949.2,230.5 L945.1,235.3 L941.0,239.0 L936.4,247.2 L936.4,249.4 L935.3,251.4 L932.7,260.5 L932.9,267.2 L940.5,278.2 L939.7,283.6 L947.9,296.0 L933.4,293.3 L927.0,287.9 L921.5,279.3 L912.0,277.2 L909.9,277.1 L907.0,275.6 L899.2,273.0 L895.0,273.1 L890.0,274.2 L885.8,274.8 L880.3,276.1 L872.7,284.9 L871.3,288.9 L868.6,291.0 L864.2,292.2 L858.7,293.9 L854.0,295.1 L848.1,297.7 L846.4,298.8 L839.8,301.2 L834.8,304.2 L828.2,308.6 L825.9,310.1 L825.1,311.0 L824.9,312.1 L824.7,314.2 L823.4,324.5 L823.1,329.9 L822.0,338.5 L815.7,348.6 L815.7,348.6 L805.7,342.3Z M642.3,187.0 L637.2,178.3 L637.2,178.3 L642.1,166.0 L643.0,162.4 L647.6,155.4 L648.0,153.9 L651.0,146.9 L653.1,145.1 L654.6,144.8 L656.5,144.9 L663.2,145.1 L665.7,145.3 L668.0,145.7 L674.6,147.3 L676.5,147.7 L677.9,148.3 L680.6,150.8 L681.8,158.1 L685.9,167.9 L685.9,167.9 L685.9,167.9 L684.6,184.5 L684.6,184.5 L675.7,188.4 L672.2,188.9 L667.2,189.4 L665.1,189.7 L659.8,190.3 L654.5,190.7 L651.3,191.9 L647.1,192.7 L642.3,187.0Z M815.4,346.5 L821.0,337.6 L822.0,330.0 L822.3,323.6 L823.2,316.4 L823.6,312.3 L824.0,310.1 L825.6,308.3 L830.2,305.4 L833.5,303.1 L839.5,299.6 L844.9,297.6 L850.0,294.4 L853.5,292.8 L856.4,292.1 L865.8,289.2 L868.0,288.6 L869.4,287.6 L870.1,285.5 L879.9,274.2 L886.9,272.5 L887.4,272.5 L894.4,270.9 L900.2,270.7 L911.2,274.4 L911.2,274.4 L911.2,274.4 L911.2,274.4 L922.5,276.9 L929.1,287.2 L932.3,289.9 L939.5,291.2 L935.5,285.1 L936.8,276.1 L931.1,267.8 L930.9,259.4 L934.1,248.1 L934.1,248.1 L934.1,248.1 L934.1,248.1 L934.1,248.1 L939.6,238.2 L944.5,233.8 L947.9,229.8 L948.6,223.4 L951.8,213.5 L954.8,208.1 L954.4,201.7 L953.4,195.0 L952.5,186.6 L952.1,183.4 L951.8,182.0 L952.2,180.4 L953.8,171.0 L953.1,163.4 L951.6,158.0 L953.0,152.0 L954.6,147.8 L954.8,142.6 L950.9,136.5 L941.4,130.1 L941.4,130.1 L941.4,130.1 L930.8,132.5 L929.2,133.7 L928.2,134.7 L927.1,137.4 L924.5,144.2 L921.6,146.5 L917.2,150.8 L916.6,151.5 L911.8,155.6 L907.2,157.7 L904.9,159.1 L900.5,161.2 L894.3,159.9 L886.1,155.3 L885.4,154.6 L884.5,154.2 L882.6,154.1 L870.6,151.3 L865.8,151.4 L857.3,149.2 L856.5,149.0 L854.6,148.4 L847.1,146.6 L844.3,146.4 L838.3,145.0 L837.7,144.9 L831.6,143.5 L828.5,142.6 L823.6,139.8 L820.3,137.9 L818.5,137.7 L815.8,137.6 L810.9,136.7 L807.0,136.9 L802.1,137.1 L801.0,137.1 L795.9,137.4 L790.6,138.2 L790.4,138.2 L785.1,139.0 L779.7,139.8 L774.3,140.2 L769.5,140.4 L763.5,141.1 L758.9,141.4 L757.3,141.5 L752.7,141.8 L748.2,142.2 L746.5,142.3 L741.9,142.7 L736.9,143.6 L736.3,143.6 L731.2,144.7 L726.4,145.4 L724.8,145.9 L720.3,146.7 L717.0,147.6 L709.3,152.6 L709.3,152.6 L709.3,152.6 L706.7,165.7 L706.0,169.0 L707.6,170.8 L708.8,171.2 L711.1,172.5 L715.7,175.8 L720.3,177.5 L724.2,180.3 L730.6,185.7 L731.2,187.2 L732.3,188.4 L735.8,197.8 L737.4,202.1 L740.2,208.8 L745.7,215.1 L746.7,217.1 L747.3,218.3 L752.0,225.5 L752.5,226.6 L753.1,226.8 L759.6,230.8 L761.1,232.3 L762.2,234.1 L764.7,239.5 L765.7,244.0 L772.9,250.0 L773.3,251.7 L775.4,258.2 L777.0,265.4 L777.3,266.5 L777.3,267.7 L776.7,272.2 L774.9,280.6 L774.6,283.7 L775.8,286.3 L778.4,290.3 L781.4,297.5 L781.8,300.2 L783.6,304.5 L786.2,310.1 L788.8,316.7 L791.1,322.8 L797.6,330.3 L799.0,331.6 L799.7,332.9 L806.8,340.7 L815.4,346.5Z M648.4,184.5 L650.9,184.0 L658.0,185.0 L660.5,184.8 L662.3,184.6 L672.7,183.4 L672.7,183.4 L672.7,183.4 L677.3,171.9 L678.2,167.2 L677.0,163.8 L676.2,150.4 L676.2,150.4 L676.2,150.4 L666.1,148.0 L665.3,147.8 L664.5,147.8 L654.2,147.5 L654.2,147.5 L654.2,147.5 L650.2,161.1 L648.7,163.4 L647.5,168.0 L646.4,175.1 L645.1,179.7 L646.8,182.6 L648.4,184.5Z" fill="#fcbba1" fill-rule="evenodd"/>
<path d="M806.8,340.7 L799.7,332.9 L799.0,331.6 L797.6,330.3 L791.1,322.8 L788.8,316.7 L786.2,310.1 L783.6,304.5 L781.8,300.2 L781.4,297.5 L778.4,290.3 L775.8,286.3 L774.6,283.7 L774.9,280.6 L776.7,272.2 L777.3,267.7 L777.3,266.5 L777.0,265.4 L775.4,258.2 L773.3,251.7 L772.9,250.0 L765.7,244.0 L764.7,239.5 L762.2,234.1 L761.1,232.3 L759.6,230.8 L753.1,226.8 L752.5,226.6 L752.0,225.5 L747.3,218.3 L746.7,217.1 L745.7,215.1 L740.2,208.8 L737.4,202.1 L735.8,197.8 L732.3,188.4 L731.2,187.2 L730.6,185.7 L724.2,180.3 L720.3,177.5 L715.7,175.8 L711.1,172.5 L708.8,171.2 L707.6,170.8 L706.0,169.0 L706.7,165.7 L709.3,152.6 L709.3,152.6 L709.3,152.6 L717.0,147.6 L720.3,146.7 L724.8,145.9 L726.4,145.4 L731.2,144.7 L736.3,143.6 L736.9,143.6 L741.9,142.7 L746.5,142.3 L748.2,142.2 L752.7,141.8 L757.3,141.5 L758.9,141.4 L763.5,141.1 L769.5,140.4 L774.3,140.2 L779.7,139.8 L785.1,139.0 L790.4,138.2 L790.6,138.2 L795.9,137.4 L801.0,137.1 L802.1,137.1 L807.0,136.9 L810.9,136.7 L815.8,137.6 L818.5,137.7 L820.3,137.9 L823.6,139.8 L828.5,142.6 L831.6,143.5 L837.7,144.9 L838.3,145.0 L844.3,146.4 L847.1,146.6 L854.6,148.4 L856.5,149.0 L857.3,149.2 L865.8,151.4 L870.6,151.3 L882.6,154.1 L884.5,154.2 L885.4,154.6 L886.1,155.3 L894.3,159.9 L900.5,161.2 L904.9,159.1 L907.2,157.7 L911.8,155.6 L916.6,151.5 L917.2,150.8 L921.6,146.5 L924.5,144.2 L927.1,137.4 L928.2,134.7 L929.2,133.7 L930.8,132.5 L941.4,130.1 L941.4,130.1 L941.4,130.1 L950.9,136.5 L954.8,142.6 L954.6,147.8 L953.0,152.0 L951.6,158.0 L953.1,163.4 L953.8,171.0 L952.2,180.4 L951.8,182.0 L952.1,183.4 L952.5,186.6 L953.4,195.0 L954.4,201.7 L954.8,208.1 L951.8,213.5 L948.6,223.4 L947.9,229.8 L944.5,233.8 L939.6,238.2 L934.1,248.1 L934.1,248.1 L934.1,248.1 L934.1,248.1 L934.1,248.1 L930.9,259.4 L931.1,267.8 L936.8,276.1 L935.5,285.1 L939.5,291.2 L932.3,289.9 L929.1,287.2 L922.5,276.9 L911.2,274.4 L911.2,274.4 L911.2,274.4 L911.2,274.4 L900.2,270.7 L894.4,270.9 L887.4,272.5 L886.9,272.5 L879.9,274.2 L870.1,285.5 L869.4,287.6 L868.0,288.6 L865.8,289.2 L856.4,292.1 L853.5,292.8 L850.0,294.4 L844.9,297.6 L839.5,299.6 L833.5,303.1 L830.2,305.4 L825.6,308.3 L824.0,310.1 L823.6,312.3 L823.2,316.4 L822.3,323.6 L822.0,330.0 L821.0,337.6 L815.4,346.5 L806.8,340.7Z M646.8,182.6 L645.1,179.7 L646.4,175.1 L647.5,168.0 L648.7,163.4 L650.2,161.1 L654.2,147.5 L654.2,147.5 L654.2,147.5 L664.5,147.8 L665.3,147.8 L666.1,148.0 L676.2,150.4 L676.2,150.4 L676.2,150.4 L677.0,163.8 L678.2,167.2 L677.3,171.9 L672.7,183.4 L672.7,183.4 L672.7,183.4 L662.3,184.6 L660.5,184.8 L658.0,185.0 L650.9,184.0 L648.4,184.5 L646.8,182.6Z M815.1,344.5 L820.0,336.8 L820.8,330.2 L821.2,322.7 L821.7,318.7 L822.2,312.5 L823.0,309.2 L825.3,306.5 L832.3,302.1 L832.3,302.1 L839.2,298.0 L843.4,296.4 L851.9,291.1 L853.0,290.6 L854.0,290.3 L867.4,286.2 L867.4,286.2 L867.4,286.2 L867.4,286.2 L879.4,272.4 L885.2,271.0 L888.1,269.9 L893.7,268.6 L901.3,268.4 L902.5,268.9 L909.9,270.2 L912.8,270.5 L916.0,272.8 L923.6,274.5 L931.2,286.5 L933.1,274.0 L929.3,268.5 L929.1,261.1 L928.5,258.1 L930.6,249.3 L931.7,246.7 L933.0,245.4 L937.1,239.4 L938.2,237.4 L943.9,232.4 L946.6,229.1 L947.2,224.0 L951.1,211.9 L953.6,207.5 L953.3,202.2 L952.0,194.3 L951.6,190.4 L950.7,184.0 L950.1,181.2 L951.0,178.0 L952.4,170.3 L951.8,164.0 L949.8,157.2 L951.6,149.4 L952.6,146.9 L952.7,143.8 L950.4,140.1 L944.7,136.2 L940.6,135.7 L930.3,135.9 L930.3,135.9 L930.3,135.9 L926.6,145.4 L922.5,148.6 L918.5,152.6 L916.6,153.8 L912.6,157.2 L909.1,158.9 L904.3,161.8 L901.3,163.2 L894.4,161.8 L893.8,161.8 L885.8,157.5 L884.7,157.2 L883.2,156.4 L871.4,153.8 L865.0,153.8 L858.3,152.1 L855.6,151.6 L850.2,149.8 L846.4,148.9 L845.0,148.8 L842.0,148.1 L837.0,147.0 L832.2,145.9 L827.9,144.5 L820.7,140.5 L819.6,139.9 L819.0,139.8 L818.1,139.8 L810.3,138.4 L807.3,138.5 L803.7,138.7 L800.4,138.5 L796.2,138.8 L791.6,139.4 L790.0,139.6 L785.4,140.3 L780.7,141.0 L774.5,141.5 L768.8,141.7 L763.7,142.3 L758.3,142.6 L758.2,142.6 L752.8,142.9 L747.5,143.4 L747.3,143.4 L742.0,143.9 L737.1,144.8 L736.0,145.2 L731.2,146.1 L727.3,146.7 L723.5,147.8 L720.3,148.4 L717.9,149.0 L712.4,152.6 L712.4,157.4 L711.2,165.8 L711.1,169.2 L717.2,173.6 L720.3,174.8 L725.5,178.4 L729.2,181.6 L732.2,184.0 L732.8,184.8 L733.2,185.6 L734.0,188.0 L737.0,196.0 L739.3,202.0 L741.4,207.0 L745.5,211.8 L747.6,215.8 L748.8,218.2 L753.4,225.3 L759.4,229.0 L761.8,231.3 L763.4,234.0 L767.1,242.1 L774.5,248.9 L775.0,249.2 L775.6,249.7 L776.0,251.3 L778.7,262.8 L779.7,266.2 L779.5,269.9 L777.8,283.5 L777.8,283.5 L777.8,283.5 L782.7,295.6 L783.4,300.0 L786.5,307.2 L787.2,308.7 L790.2,316.6 L792.1,321.4 L797.3,327.4 L800.0,330.1 L801.5,332.7 L807.7,339.4 L815.1,344.5Z" fill="#fcad90" fill-rule="evenodd"/>
<path d="M807.7,339.4 L801.5,332.7 L800.0,330.1 L797.3,327.4 L792.1,321.4 L790.2,316.6 L787.2,308.7 L786.5,307.2 L783.4,300.0 L782.7,295.6 L777.8,283.5 L777.8,283.5 L777.8,283.5 L779.5,269.9 L779.7,266.2 L778.7,262.8 L776.0,251.3 L775.6,249.7 L775.0,249.2 L774.5,248.9 L767.1,242.1 L763.4,234.0 L761.8,231.3 L759.4,229.0 L753.4,225.3 L748.8,218.2 L747.6,215.8 L745.5,211.8 L741.4,207.0 L739.3,202.0 L737.0,196.0 L734.0,188.0 L733.2,185.6 L732.8,184.8 L732.2,184.0 L729.2,181.6 L725.5,178.4 L720.3,174.8 L717.2,173.6 L711.1,169.2 L711.2,165.8 L712.4,157.4 L712.4,152.6 L717.9,149.0 L720.3,148.4 L723.5,147.8 L727.3,146.7 L731.2,146.1 L736.0,145.2 L737.1,144.8 L742.0,143.9 L747.3,143.4 L747.5,143.4 L752.8,142.9 L758.2,142.6 L758.3,142.6 L763.7,142.3 L768.8,141.7 L774.5,141.5 L780.7,141.0 L785.4,140.3 L790.0,139.6 L791.6,139.4 L796.2,138.8 L800.4,138.5 L803.7,138.7 L807.3,138.5 L810.3,138.4 L818.1,139.8 L819.0,139.8 L819.6,139.9 L820.7,140.5 L827.9,144.5 L832.2,145.9 L837.0,147.0 L842.0,148.1 L845.0,148.8 L846.4,148.9 L850.2,149.8 L855.6,151.6 L858.3,152.1 L865.0,153.8 L871.4,153.8 L883.2,156.4 L884.7,157.2 L885.8,157.5 L893.8,161.8 L894.4,161.8 L901.3,163.2 L904.3,161.8 L909.1,158.9 L912.6,157.2 L916.6,153.8 L918.5,152.6 L922.5,148.6 L926.6,145.4 L930.3,135.9 L930.3,135.9 L930.3,135.9 L940.6,135.7 L944.7,136.2 L950.4,140.1 L952.7,143.8 L952.6,146.9 L951.6,149.4 L949.8,157.2 L951.8,164.0 L952.4,170.3 L951.0,178.0 L950.1,181.2 L950.7,184.0 L951.6,190.4 L952.0,194.3 L953.3,202.2 L953.6,207.5 L951.1,211.9 L947.2,224.0 L946.6,229.1 L943.9,232.4 L938.2,237.4 L937.1,239.4 L933.0,245.4 L931.7,246.7 L930.6,249.3 L928.5,258.1 L929.1,261.1 L929.3,268.5 L933.1,274.0 L931.2,286.5 L923.6,274.5 L916.0,272.8 L912.8,270.5 L909.9,270.2 L902.5,268.9 L901.3,268.4 L893.7,268.6 L888.1,269.9 L885.2,271.0 L879.4,272.4 L867.4,286.2 L867.4,286.2 L867.4,286.2 L867.4,286.2 L854.0,290.3 L853.0,290.6 L851.9,291.1 L843.4,296.4 L839.2,298.0 L832.3,302.1 L832.3,302.1 L825.3,306.5 L823.0,309.2 L822.2,312.5 L821.7,318.7 L821.2,322.7 L820.8,330.2 L820.0,336.8 L815.1,344.5 L807.7,339.4Z M814.9,342.5 L819.0,335.9 L819.7,330.4 L820.2,321.8 L820.3,321.0 L820.9,312.7 L821.9,308.3 L825.0,304.7 L830.9,301.0 L833.9,299.3 L838.9,296.4 L841.9,295.3 L850.4,289.9 L850.8,287.9 L852.1,286.1 L861.4,281.7 L865.9,279.5 L870.4,280.4 L878.9,270.5 L883.0,269.5 L889.4,267.3 L893.1,266.4 L898.5,266.3 L902.8,265.0 L908.6,266.0 L914.5,266.6 L920.8,271.3 L924.6,272.1 L928.4,278.1 L929.4,271.8 L927.5,269.1 L927.4,265.4 L925.7,256.4 L927.0,250.6 L929.2,245.3 L932.0,242.6 L936.3,236.4 L938.6,235.1 L943.3,230.9 L945.4,228.4 L945.8,224.6 L950.4,210.3 L952.3,206.8 L952.1,202.8 L950.7,194.1 L950.6,193.6 L949.4,184.6 L948.5,180.4 L949.9,175.5 L950.9,169.6 L950.4,164.7 L948.0,156.3 L950.3,146.8 L950.6,145.9 L950.7,144.9 L949.9,143.7 L948.0,142.4 L941.8,141.7 L939.7,141.3 L932.9,141.0 L929.1,146.7 L928.4,146.8 L923.5,150.7 L920.5,153.7 L916.0,156.6 L913.3,158.9 L910.9,160.0 L903.6,164.5 L902.1,165.1 L898.7,164.5 L893.1,164.3 L887.1,161.1 L883.8,160.1 L879.3,157.8 L872.3,156.2 L864.3,156.3 L859.2,155.0 L854.8,154.2 L845.7,151.2 L845.7,151.2 L845.7,151.2 L845.7,151.2 L836.3,149.1 L832.9,148.3 L827.2,146.5 L822.8,144.1 L819.7,142.5 L817.1,141.4 L809.7,140.1 L807.7,140.1 L805.2,140.3 L799.8,139.9 L796.4,140.1 L792.8,140.7 L789.4,141.0 L785.6,141.6 L781.8,142.2 L774.7,142.8 L768.2,143.0 L763.8,143.5 L759.1,143.8 L757.6,143.8 L752.9,144.0 L748.1,144.5 L746.8,144.6 L742.1,145.1 L737.8,145.8 L734.9,146.8 L731.3,147.6 L728.2,148.0 L722.3,149.8 L720.3,150.1 L718.9,150.5 L715.6,152.7 L715.5,159.8 L715.8,162.6 L715.7,169.2 L718.8,171.5 L720.3,172.0 L724.2,174.7 L726.9,176.4 L732.1,180.7 L734.0,183.1 L735.0,185.6 L737.6,192.6 L738.2,194.2 L741.2,201.9 L742.6,205.3 L745.3,208.4 L748.5,214.5 L750.3,218.1 L754.2,224.1 L759.3,227.3 L762.4,230.3 L764.6,233.9 L767.8,240.9 L774.3,246.9 L775.9,247.8 L777.7,249.5 L779.0,254.2 L780.4,260.3 L782.0,266.0 L781.8,272.1 L780.9,278.9 L780.6,283.2 L781.3,286.9 L784.1,293.6 L785.1,299.8 L788.2,307.3 L789.0,309.5 L791.7,316.4 L793.1,320.1 L796.9,324.6 L801.1,328.6 L803.4,332.5 L808.6,338.2 L814.9,342.5Z" fill="#fc9d7f" fill-rule="evenodd"/>
<path d="M808.6,338.2 L803.4,332.5 L801.1,328.6 L796.9,324.6 L793.1,320.1 L791.7,316.4 L789.0,309.5 L788.2,307.3 L785.1,299.8 L784.1,293.6 L781.3,286.9 L780.6,283.2 L780.9,278.9 L781.8,272.1 L782.0,266.0 L780.4,260.3 L779.0,254.2 L777.7,249.5 L775.9,247.8 L774.3,246.9 L767.8,240.9 L764.6,233.9 L762.4,230.3 L759.3,227.3 L754.2,224.1 L750.3,218.1 L748.5,214.5 L745.3,208.4 L742.6,205.3 L741.2,201.9 L738.2,194.2 L737.6,192.6 L735.0,185.6 L734.0,183.1 L732.1,180.7 L726.9,176.4 L724.2,174.7 L720.3,172.0 L718.8,171.5 L715.7,169.2 L715.8,162.6 L715.5,159.8 L715.6,152.7 L718.9,150.5 L720.3,150.1 L722.3,149.8 L728.2,148.0 L731.3,147.6 L734.9,146.8 L737.8,145.8 L742.1,145.1 L746.8,144.6 L748.1,144.5 L752.9,144.0 L757.6,143.8 L759.1,143.8 L763.8,143.5 L768.2,143.0 L774.7,142.8 L781.8,142.2 L785.6,141.6 L789.4,141.0 L792.8,140.7 L796.4,140.1 L799.8,139.9 L805.2,140.3 L807.7,140.1 L809.7,140.1 L817.1,141.4 L819.7,142.5 L822.8,144.1 L827.2,146.5 L832.9,148.3 L836.3,149.1 L845.7,151.2 L845.7,151.2 L845.7,151.2 L845.7,151.2 L854.8,154.2 L859.2,155.0 L864.3,156.3 L872.3,156.2 L879.3,157.8 L883.8,160.1 L887.1,161.1 L893.1,164.3 L898.7,164.5 L902.1,165.1 L903.6,164.5 L910.9,160.0 L913.3,158.9 L916.0,156.6 L920.5,153.7 L923.5,150.7 L928.4,146.8 L929.1,146.7 L932.9,141.0 L939.7,141.3 L941.8,141.7 L948.0,142.4 L949.9,143.7 L950.7,144.9 L950.6,145.9 L950.3,146.8 L948.0,156.3 L950.4,164.7 L950.9,169.6 L949.9,175.5 L948.5,180.4 L949.4,184.6 L950.6,193.6 L950.7,194.1 L952.1,202.8 L952.3,206.8 L950.4,210.3 L945.8,224.6 L945.4,228.4 L943.3,230.9 L938.6,235.1 L936.3,236.4 L932.0,242.6 L929.2,245.3 L927.0,250.6 L925.7,256.4 L927.4,265.4 L927.5,269.1 L929.4,271.8 L928.4,278.1 L924.6,272.1 L920.8,271.3 L914.5,266.6 L908.6,266.0 L902.8,265.0 L898.5,266.3 L893.1,266.4 L889.4,267.3 L883.0,269.5 L878.9,270.5 L870.4,280.4 L865.9,279.5 L861.4,281.7 L852.1,286.1 L850.8,287.9 L850.4,289.9 L841.9,295.3 L838.9,296.4 L833.9,299.3 L830.9,301.0 L825.0,304.7 L821.9,308.3 L820.9,312.7 L820.3,321.0 L820.2,321.8 L819.7,330.4 L819.0,335.9 L814.9,342.5 L808.6,338.2Z M814.6,340.4 L817.9,335.1 L818.6,330.5 L819.0,323.0 L819.0,320.8 L819.6,312.8 L820.8,307.4 L824.8,302.9 L829.6,299.9 L835.6,296.5 L838.6,294.7 L840.4,294.1 L845.5,290.9 L846.8,284.8 L850.7,279.3 L855.3,277.1 L864.3,272.7 L873.3,274.6 L878.4,268.6 L880.9,268.0 L890.6,264.6 L892.5,264.2 L895.2,264.1 L904.4,261.3 L907.3,261.9 L913.7,262.5 L916.6,261.6 L925.7,269.7 L922.9,254.7 L923.5,251.8 L926.8,243.9 L931.0,239.9 L934.2,235.2 L939.6,232.2 L942.7,229.4 L944.1,227.8 L944.3,225.2 L949.7,208.7 L951.1,206.2 L950.9,203.3 L949.9,197.1 L949.1,192.8 L948.1,185.3 L946.9,179.5 L948.7,173.1 L949.4,168.8 L949.1,165.4 L947.3,159.0 L943.3,154.0 L945.8,147.5 L938.9,146.4 L935.5,146.2 L933.6,149.0 L927.8,150.2 L924.5,152.8 L922.5,154.8 L915.3,159.4 L914.0,160.6 L912.8,161.1 L902.9,167.1 L902.9,167.1 L902.9,167.1 L902.9,167.1 L902.9,167.1 L892.4,166.7 L888.4,164.6 L883.0,163.0 L875.5,159.2 L873.2,158.7 L863.5,158.8 L860.2,157.9 L854.0,156.8 L852.1,156.2 L846.7,154.7 L844.7,154.1 L841.2,152.4 L835.5,151.2 L833.5,150.7 L828.5,149.1 L826.4,148.7 L820.5,145.8 L812.7,142.4 L809.0,141.7 L808.0,141.8 L806.8,141.8 L799.2,141.3 L796.7,141.5 L793.9,141.9 L788.7,142.5 L785.8,142.9 L782.8,143.3 L774.9,144.0 L767.6,144.3 L763.9,144.7 L760.1,144.9 L757.0,145.0 L753.0,145.2 L749.0,145.5 L746.1,145.9 L742.1,146.3 L738.6,146.9 L733.9,148.5 L731.3,149.0 L729.1,149.3 L721.0,151.8 L720.3,151.9 L719.9,152.0 L718.8,152.7 L718.7,155.1 L720.3,169.3 L720.3,169.3 L720.3,169.3 L728.3,174.3 L732.0,177.4 L735.1,181.3 L736.8,185.5 L739.4,192.4 L741.3,197.2 L743.1,201.9 L743.8,203.5 L745.2,205.1 L749.4,213.1 L751.8,218.0 L755.0,222.9 L759.2,225.5 L763.1,229.3 L765.8,233.8 L768.6,239.8 L774.1,244.9 L776.8,246.4 L779.8,249.3 L781.9,257.1 L782.0,257.8 L784.3,265.7 L784.0,274.3 L784.0,274.3 L783.5,282.9 L784.9,290.3 L785.5,291.7 L786.7,299.7 L789.3,305.7 L791.3,311.7 L793.1,316.3 L794.0,318.7 L796.6,321.7 L802.2,327.1 L805.2,332.3 L809.4,336.9 L814.6,340.4Z" fill="#fc8f6f" fill-rule="evenodd"/>
<path d="M809.4,336.9 L805.2,332.3 L802.2,327.1 L796.6,321.7 L794.0,318.7 L793.1,316.3 L791.3,311.7 L789.3,305.7 L786.7,299.7 L785.5,291.7 L784.9,290.3 L783.5,282.9 L784.0,274.3 L784.0,274.3 L784.3,265.7 L782.0,257.8 L781.9,257.1 L779.8,249.3 L776.8,246.4 L774.1,244.9 L768.6,239.8 L765.8,233.8 L763.1,229.3 L759.2,225.5 L755.0,222.9 L751.8,218.0 L749.4,213.1 L745.2,205.1 L743.8,203.5 L743.1,201.9 L741.3,197.2 L739.4,192.4 L736.8,185.5 L735.1,181.3 L732.0,177.4 L728.3,174.3 L720.3,169.3 L720.3,169.3 L720.3,169.3 L718.7,155.1 L718.8,152.7 L719.9,152.0 L720.3,151.9 L721.0,151.8 L729.1,149.3 L731.3,149.0 L733.9,148.5 L738.6,146.9 L742.1,146.3 L746.1,145.9 L749.0,145.5 L753.0,145.2 L757.0,145.0 L760.1,144.9 L763.9,144.7 L767.6,144.3 L774.9,144.0 L782.8,143.3 L785.8,142.9 L788.7,142.5 L793.9,141.9 L796.7,141.5 L799.2,141.3 L806.8,141.8 L808.0,141.8 L809.0,141.7 L812.7,142.4 L820.5,145.8 L826.4,148.7 L828.5,149.1 L833.5,150.7 L835.5,151.2 L841.2,152.4 L844.7,154.1 L846.7,154.7 L852.1,156.2 L854.0,156.8 L860.2,157.9 L863.5,158.8 L873.2,158.7 L875.5,159.2 L883.0,163.0 L888.4,164.6 L892.4,166.7 L902.9,167.1 L902.9,167.1 L902.9,167.1 L902.9,167.1 L902.9,167.1 L912.8,161.1 L914.0,160.6 L915.3,159.4 L922.5,154.8 L924.5,152.8 L927.8,150.2 L933.6,149.0 L935.5,146.2 L938.9,146.4 L945.8,147.5 L943.3,154.0 L947.3,159.0 L949.1,165.4 L949.4,168.8 L948.7,173.1 L946.9,179.5 L948.1,185.3 L949.1,192.8 L949.9,197.1 L950.9,203.3 L951.1,206.2 L949.7,208.7 L944.3,225.2 L944.1,227.8 L942.7,229.4 L939.6,232.2 L934.2,235.2 L931.0,239.9 L926.8,243.9 L923.5,251.8 L922.9,254.7 L925.7,269.7 L916.6,261.6 L913.7,262.5 L907.3,261.9 L904.4,261.3 L895.2,264.1 L892.5,264.2 L890.6,264.6 L880.9,268.0 L878.4,268.6 L873.3,274.6 L864.3,272.7 L855.3,277.1 L850.7,279.3 L846.8,284.8 L845.5,290.9 L840.4,294.1 L838.6,294.7 L835.6,296.5 L829.6,299.9 L824.8,302.9 L820.8,307.4 L819.6,312.8 L819.0,320.8 L819.0,323.0 L818.6,330.5 L817.9,335.1 L814.6,340.4 L809.4,336.9Z M814.3,338.4 L816.9,334.2 L817.4,330.7 L817.7,324.8 L817.8,319.8 L818.3,313.0 L819.8,306.5 L824.5,301.1 L828.2,298.8 L837.3,293.7 L838.3,293.1 L838.9,292.9 L840.6,291.8 L841.9,285.7 L842.0,281.0 L849.2,272.6 L849.2,272.6 L849.2,272.6 L849.2,272.6 L862.7,266.0 L870.6,267.6 L876.2,268.7 L877.9,266.8 L878.7,266.6 L891.8,261.9 L891.8,261.9 L891.8,261.9 L891.8,261.9 L906.0,257.7 L906.0,257.7 L906.0,257.7 L920.0,253.1 L920.0,253.1 L920.0,253.1 L924.4,242.5 L930.0,237.1 L932.1,234.0 L940.5,229.3 L942.1,227.9 L942.8,227.1 L942.9,225.8 L949.0,207.0 L949.8,205.6 L949.7,203.8 L949.1,200.1 L947.6,192.1 L946.8,185.9 L945.3,178.7 L947.5,170.7 L948.0,168.1 L947.8,166.0 L946.7,162.2 L938.1,151.4 L938.1,151.4 L938.1,151.4 L927.1,153.6 L925.5,154.9 L924.5,155.9 L914.7,162.2 L914.7,162.2 L914.7,162.2 L914.7,162.2 L906.6,169.3 L904.3,170.7 L902.0,170.6 L897.0,169.4 L891.8,169.2 L889.7,168.2 L882.1,165.9 L874.3,161.9 L869.7,161.2 L862.8,161.3 L861.1,160.8 L857.3,160.2 L853.0,159.7 L847.8,158.3 L843.6,157.1 L836.7,153.7 L834.8,153.3 L834.1,153.1 L832.5,152.6 L825.5,151.1 L821.2,149.0 L808.4,143.4 L808.4,143.4 L808.4,143.4 L808.4,143.4 L798.6,142.7 L797.0,142.9 L795.1,143.1 L788.1,143.9 L786.0,144.2 L783.9,144.5 L775.0,145.3 L766.9,145.6 L764.0,145.9 L761.0,146.1 L756.4,146.1 L753.1,146.3 L749.8,146.6 L745.3,147.1 L742.2,147.4 L739.4,147.9 L732.9,150.1 L731.3,150.4 L730.0,150.6 L723.1,152.7 L723.6,157.4 L724.4,163.2 L724.9,169.2 L729.7,172.3 L732.0,174.1 L736.3,179.6 L738.7,185.4 L740.6,190.6 L745.0,201.8 L745.0,201.8 L745.0,201.8 L745.0,201.8 L750.3,211.8 L753.3,217.9 L755.8,221.8 L759.0,223.7 L763.8,228.3 L767.0,233.6 L769.3,238.7 L773.9,243.0 L777.7,245.0 L781.9,249.0 L783.6,255.4 L785.1,260.3 L786.6,265.5 L786.5,270.6 L786.7,276.9 L786.4,282.6 L787.5,288.7 L787.3,292.6 L788.3,299.5 L790.3,304.2 L793.7,313.8 L794.5,316.1 L795.0,317.3 L796.3,318.8 L803.3,325.5 L807.0,332.0 L810.3,335.7 L814.3,338.4Z" fill="#fc8060" fill-rule="evenodd"/>
<path d="M810.3,335.7 L807.0,332.0 L803.3,325.5 L796.3,318.8 L795.0,317.3 L794.5,316.1 L793.7,313.8 L790.3,304.2 L788.3,299.5 L787.3,292.6 L787.5,288.7 L786.4,282.6 L786.7,276.9 L786.5,270.6 L786.6,265.5 L785.1,260.3 L783.6,255.4 L781.9,249.0 L777.7,245.0 L773.9,243.0 L769.3,238.7 L767.0,233.6 L763.8,228.3 L759.0,223.7 L755.8,221.8 L753.3,217.9 L750.3,211.8 L745.0,201.8 L745.0,201.8 L745.0,201.8 L745.0,201.8 L740.6,190.6 L738.7,185.4 L736.3,179.6 L732.0,174.1 L729.7,172.3 L724.9,169.2 L724.4,163.2 L723.6,157.4 L723.1,152.7 L730.0,150.6 L731.3,150.4 L732.9,150.1 L739.4,147.9 L742.2,147.4 L745.3,147.1 L749.8,146.6 L753.1,146.3 L756.4,146.1 L761.0,146.1 L764.0,145.9 L766.9,145.6 L775.0,145.3 L783.9,144.5 L786.0,144.2 L788.1,143.9 L795.1,143.1 L797.0,142.9 L798.6,142.7 L808.4,143.4 L808.4,143.4 L808.4,143.4 L808.4,143.4 L821.2,149.0 L825.5,151.1 L832.5,152.6 L834.1,153.1 L834.8,153.3 L836.7,153.7 L843.6,157.1 L847.8,158.3 L853.0,159.7 L857.3,160.2 L861.1,160.8 L862.8,161.3 L869.7,161.2 L874.3,161.9 L882.1,165.9 L889.7,168.2 L891.8,169.2 L897.0,169.4 L902.0,170.6 L904.3,170.7 L906.6,169.3 L914.7,162.2 L914.7,162.2 L914.7,162.2 L914.7,162.2 L924.5,155.9 L925.5,154.9 L927.1,153.6 L938.1,151.4 L938.1,151.4 L938.1,151.4 L946.7,162.2 L947.8,166.0 L948.0,168.1 L947.5,170.7 L945.3,178.7 L946.8,185.9 L947.6,192.1 L949.1,200.1 L949.7,203.8 L949.8,205.6 L949.0,207.0 L942.9,225.8 L942.8,227.1 L942.1,227.9 L940.5,229.3 L932.1,234.0 L930.0,237.1 L924.4,242.5 L920.0,253.1 L920.0,253.1 L920.0,253.1 L906.0,257.7 L906.0,257.7 L906.0,257.7 L891.8,261.9 L891.8,261.9 L891.8,261.9 L891.8,261.9 L878.7,266.6 L877.9,266.8 L876.2,268.7 L870.6,267.6 L862.7,266.0 L849.2,272.6 L849.2,272.6 L849.2,272.6 L849.2,272.6 L842.0,281.0 L841.9,285.7 L840.6,291.8 L838.9,292.9 L838.3,293.1 L837.3,293.7 L828.2,298.8 L824.5,301.1 L819.8,306.5 L818.3,313.0 L817.8,319.8 L817.7,324.8 L817.4,330.7 L816.9,334.2 L814.3,338.4 L810.3,335.7Z M814.1,336.4 L815.9,333.4 L816.3,330.9 L816.5,326.6 L816.6,318.7 L817.0,313.2 L818.7,305.6 L824.2,299.3 L826.8,297.6 L835.7,292.7 L834.9,289.7 L835.0,275.4 L835.0,275.4 L835.0,275.4 L835.0,275.4 L835.0,275.4 L844.5,268.9 L848.0,267.0 L854.4,262.6 L861.1,259.4 L871.6,261.4 L877.0,263.4 L879.0,262.9 L887.7,259.1 L890.8,258.2 L894.3,256.4 L900.8,254.4 L904.2,252.2 L909.1,250.0 L912.9,248.7 L917.8,246.5 L920.5,240.2 L925.9,237.4 L929.0,234.4 L930.1,232.8 L941.5,226.4 L941.5,226.4 L941.5,226.4 L941.5,226.4 L948.3,205.4 L948.6,204.9 L948.5,204.4 L948.3,203.1 L946.1,191.3 L945.5,186.5 L943.6,177.9 L946.3,168.3 L946.5,167.4 L946.4,166.7 L946.1,165.4 L943.2,161.8 L936.7,158.5 L926.4,157.0 L926.4,157.0 L926.4,157.0 L919.4,164.9 L916.7,166.7 L913.0,169.2 L910.3,171.5 L905.8,174.2 L901.0,174.0 L891.1,171.7 L891.1,171.7 L891.1,171.7 L881.3,168.7 L875.7,165.9 L862.0,163.8 L862.0,163.8 L862.0,163.8 L862.0,163.8 L852.0,162.8 L848.8,161.9 L842.6,160.1 L839.7,158.7 L835.1,156.6 L833.7,156.2 L831.6,155.0 L824.5,153.5 L822.0,152.3 L814.3,148.9 L809.4,148.1 L806.6,147.5 L802.9,144.5 L798.1,144.2 L797.2,144.2 L796.3,144.4 L787.5,145.3 L786.2,145.5 L784.9,145.7 L775.2,146.6 L766.3,146.9 L764.2,147.1 L761.9,147.2 L755.7,147.3 L753.2,147.4 L750.6,147.7 L744.6,148.4 L742.3,148.6 L740.1,149.0 L731.9,151.8 L731.4,151.9 L730.9,151.9 L728.6,152.6 L729.0,156.3 L729.2,165.5 L729.5,169.2 L731.1,170.2 L731.9,170.8 L737.5,177.8 L740.5,185.4 L741.8,188.8 L744.7,196.3 L746.3,199.7 L746.6,201.7 L749.1,206.7 L751.1,210.5 L754.8,217.8 L756.6,220.6 L758.9,222.0 L764.4,227.3 L768.2,233.5 L770.0,237.6 L773.7,241.0 L778.5,243.7 L783.9,248.8 L785.1,253.1 L788.5,263.5 L788.9,265.3 L788.9,267.0 L789.4,279.4 L789.2,282.3 L789.8,285.3 L789.2,294.4 L790.0,299.3 L791.4,302.7 L796.0,316.0 L796.0,316.0 L796.0,316.0 L796.0,316.0 L804.3,324.0 L808.8,331.8 L811.2,334.4 L814.1,336.4Z" fill="#fb7151" fill-rule="evenodd"/>
<path d="M811.2,334.4 L808.8,331.8 L804.3,324.0 L796.0,316.0 L796.0,316.0 L796.0,316.0 L796.0,316.0 L791.4,302.7 L790.0,299.3 L789.2,294.4 L789.8,285.3 L789.2,282.3 L789.4,279.4 L788.9,267.0 L788.9,265.3 L788.5,263.5 L785.1,253.1 L783.9,248.8 L778.5,243.7 L773.7,241.0 L770.0,237.6 L768.2,233.5 L764.4,227.3 L758.9,222.0 L756.6,220.6 L754.8,217.8 L751.1,210.5 L749.1,206.7 L746.6,201.7 L746.3,199.7 L744.7,196.3 L741.8,188.8 L740.5,185.4 L737.5,177.8 L731.9,170.8 L731.1,170.2 L729.5,169.2 L729.2,165.5 L729.0,156.3 L728.6,152.6 L730.9,151.9 L731.4,151.9 L731.9,151.8 L740.1,149.0 L742.3,148.6 L744.6,148.4 L750.6,147.7 L753.2,147.4 L755.7,147.3 L761.9,147.2 L764.2,147.1 L766.3,146.9 L775.2,146.6 L784.9,145.7 L786.2,145.5 L787.5,145.3 L796.3,144.4 L797.2,144.2 L798.1,144.2 L802.9,144.5 L806.6,147.5 L809.4,148.1 L814.3,148.9 L822.0,152.3 L824.5,153.5 L831.6,155.0 L833.7,156.2 L835.1,156.6 L839.7,158.7 L842.6,160.1 L848.8,161.9 L852.0,162.8 L862.0,163.8 L862.0,163.8 L862.0,163.8 L862.0,163.8 L875.7,165.9 L881.3,168.7 L891.1,171.7 L891.1,171.7 L891.1,171.7 L901.0,174.0 L905.8,174.2 L910.3,171.5 L913.0,169.2 L916.7,166.7 L919.4,164.9 L926.4,157.0 L926.4,157.0 L926.4,157.0 L936.7,158.5 L943.2,161.8 L946.1,165.4 L946.4,166.7 L946.5,167.4 L946.3,168.3 L943.6,177.9 L945.5,186.5 L946.1,191.3 L948.3,203.1 L948.5,204.4 L948.6,204.9 L948.3,205.4 L941.5,226.4 L941.5,226.4 L941.5,226.4 L941.5,226.4 L930.1,232.8 L929.0,234.4 L925.9,237.4 L920.5,240.2 L917.8,246.5 L912.9,248.7 L909.1,250.0 L904.2,252.2 L900.8,254.4 L894.3,256.4 L890.8,258.2 L887.7,259.1 L879.0,262.9 L877.0,263.4 L871.6,261.4 L861.1,259.4 L854.4,262.6 L848.0,267.0 L844.5,268.9 L835.0,275.4 L835.0,275.4 L835.0,275.4 L835.0,275.4 L835.0,275.4 L834.9,289.7 L835.7,292.7 L826.8,297.6 L824.2,299.3 L818.7,305.6 L817.0,313.2 L816.6,318.7 L816.5,326.6 L816.3,330.9 L815.9,333.4 L814.1,336.4 L811.2,334.4Z M813.8,334.3 L814.9,332.5 L815.1,331.0 L815.3,328.5 L815.3,317.7 L815.7,313.4 L817.6,304.7 L823.9,297.5 L825.5,296.5 L830.8,293.6 L828.9,285.9 L827.6,283.7 L825.5,277.1 L830.1,271.4 L833.7,268.7 L839.8,265.1 L841.0,264.5 L846.9,261.4 L859.5,252.7 L859.5,252.7 L859.5,252.7 L859.5,252.7 L859.5,252.7 L875.8,258.7 L881.8,257.0 L883.5,256.3 L889.7,254.5 L895.9,251.2 L896.9,250.4 L902.5,246.6 L906.6,244.8 L912.5,241.2 L915.5,239.9 L916.4,237.8 L928.0,231.7 L928.0,231.7 L933.6,222.0 L938.2,218.3 L943.6,206.5 L945.1,203.1 L946.8,202.0 L944.6,190.5 L944.2,187.1 L942.8,180.6 L939.8,175.9 L942.7,168.5 L935.4,164.7 L929.3,163.3 L924.1,167.5 L924.1,167.5 L918.6,171.3 L914.5,174.0 L911.4,175.2 L907.2,177.8 L900.1,177.4 L900.1,177.4 L892.8,176.3 L886.3,173.4 L880.4,171.6 L877.1,170.0 L868.9,168.6 L863.5,168.4 L860.6,167.9 L854.3,166.1 L850.9,165.8 L849.9,165.5 L847.2,164.7 L841.4,163.5 L836.3,161.3 L832.3,160.0 L826.0,156.4 L823.6,155.9 L822.8,155.5 L820.2,154.4 L810.4,152.7 L804.9,151.6 L797.5,145.6 L797.5,145.6 L786.8,146.8 L786.4,146.8 L786.0,146.9 L775.4,147.8 L765.6,148.1 L764.3,148.3 L762.9,148.4 L755.1,148.5 L753.3,148.6 L751.4,148.8 L743.9,149.7 L742.3,149.8 L740.9,150.0 L733.6,152.5 L733.5,155.5 L733.8,166.0 L733.7,169.0 L739.0,175.5 L740.3,180.3 L742.3,185.3 L743.0,187.0 L744.4,190.7 L747.7,197.7 L748.1,201.6 L752.0,209.2 L753.1,211.3 L756.3,217.7 L757.4,219.4 L758.8,220.2 L765.1,226.3 L769.4,233.4 L770.8,236.5 L773.5,239.0 L779.4,242.3 L786.0,248.6 L786.6,250.7 L789.4,259.5 L791.7,262.7 L793.6,264.7 L792.1,282.0 L792.1,282.0 L792.1,282.0 L792.1,282.0 L791.1,296.2 L791.6,299.2 L792.5,301.2 L795.2,309.2 L798.2,312.8 L799.3,315.6 L805.7,321.9 L807.5,326.2 L810.7,331.6 L812.1,333.2 L813.8,334.3Z" fill="#f96245" fill-rule="evenodd"/>
<path d="M812.1,333.2 L810.7,331.6 L807.5,326.2 L805.7,321.9 L799.3,315.6 L798.2,312.8 L795.2,309.2 L792.5,301.2 L791.6,299.2 L791.1,296.2 L792.1,282.0 L792.1,282.0 L792.1,282.0 L792.1,282.0 L793.6,264.7 L791.7,262.7 L789.4,259.5 L786.6,250.7 L786.0,248.6 L779.4,242.3 L773.5,239.0 L770.8,236.5 L769.4,233.4 L765.1,226.3 L758.8,220.2 L757.4,219.4 L756.3,217.7 L753.1,211.3 L752.0,209.2 L748.1,201.6 L747.7,197.7 L744.4,190.7 L743.0,187.0 L742.3,185.3 L740.3,180.3 L739.0,175.5 L733.7,169.0 L733.8,166.0 L733.5,155.5 L733.6,152.5 L740.9,150.0 L742.3,149.8 L743.9,149.7 L751.4,148.8 L753.3,148.6 L755.1,148.5 L762.9,148.4 L764.3,148.3 L765.6,148.1 L775.4,147.8 L786.0,146.9 L786.4,146.8 L786.8,146.8 L797.5,145.6 L797.5,145.6 L804.9,151.6 L810.4,152.7 L820.2,154.4 L822.8,155.5 L823.6,155.9 L826.0,156.4 L832.3,160.0 L836.3,161.3 L841.4,163.5 L847.2,164.7 L849.9,165.5 L850.9,165.8 L854.3,166.1 L860.6,167.9 L863.5,168.4 L868.9,168.6 L877.1,170.0 L880.4,171.6 L886.3,173.4 L892.8,176.3 L900.1,177.4 L900.1,177.4 L907.2,177.8 L911.4,175.2 L914.5,174.0 L918.6,171.3 L924.1,167.5 L924.1,167.5 L929.3,163.3 L935.4,164.7 L942.7,168.5 L939.8,175.9 L942.8,180.6 L944.2,187.1 L944.6,190.5 L946.8,202.0 L945.1,203.1 L943.6,206.5 L938.2,218.3 L933.6,222.0 L928.0,231.7 L928.0,231.7 L916.4,237.8 L915.5,239.9 L912.5,241.2 L906.6,244.8 L902.5,246.6 L896.9,250.4 L895.9,251.2 L889.7,254.5 L883.5,256.3 L881.8,257.0 L875.8,258.7 L859.5,252.7 L859.5,252.7 L859.5,252.7 L859.5,252.7 L859.5,252.7 L846.9,261.4 L841.0,264.5 L839.8,265.1 L833.7,268.7 L830.1,271.4 L825.5,277.1 L827.6,283.7 L828.9,285.9 L830.8,293.6 L825.5,296.5 L823.9,297.5 L817.6,304.7 L815.7,313.4 L815.3,317.7 L815.3,328.5 L815.1,331.0 L814.9,332.5 L813.8,334.3 L812.1,333.2Z M813.5,332.3 L813.9,331.7 L814.0,331.2 L814.0,330.3 L814.1,316.7 L814.4,313.6 L815.9,306.7 L815.7,303.0 L821.0,298.7 L823.6,295.8 L824.1,295.4 L825.9,294.4 L825.3,291.9 L822.1,286.4 L819.0,280.7 L815.9,278.7 L812.4,270.6 L819.8,272.4 L824.7,266.9 L828.2,265.1 L832.4,262.0 L834.5,260.8 L845.7,255.8 L845.7,255.8 L845.7,255.8 L845.7,255.8 L856.4,250.3 L858.7,249.7 L860.8,249.8 L866.4,250.9 L874.5,253.9 L878.5,252.8 L884.0,252.1 L888.6,250.9 L892.4,248.9 L900.7,241.1 L900.7,241.1 L900.7,241.1 L912.0,235.1 L913.2,233.3 L918.1,226.0 L923.9,220.8 L925.7,217.6 L934.9,210.2 L934.9,210.2 L939.5,200.1 L944.4,196.6 L943.1,189.8 L942.8,187.7 L942.0,183.8 L935.7,173.8 L936.7,171.3 L934.3,170.1 L932.2,169.6 L930.5,171.0 L922.4,174.6 L920.6,175.8 L919.2,176.7 L910.0,180.5 L908.6,181.3 L906.2,181.2 L898.8,181.6 L894.5,180.9 L881.5,175.1 L879.6,174.5 L878.4,174.0 L875.7,173.5 L865.0,173.0 L859.2,172.1 L855.1,170.9 L851.2,170.0 L849.5,169.7 L846.5,168.4 L840.1,167.0 L837.5,165.9 L830.9,163.9 L830.9,163.9 L824.0,160.4 L821.9,160.3 L817.5,158.4 L811.4,157.4 L803.1,155.8 L798.7,152.1 L790.0,151.1 L786.9,149.8 L785.4,149.7 L775.5,149.1 L775.5,149.1 L765.0,149.4 L764.4,149.5 L763.8,149.5 L754.5,149.7 L753.4,149.7 L752.3,149.8 L743.2,150.9 L742.4,151.0 L741.7,151.1 L738.0,152.3 L737.8,159.7 L737.7,161.3 L737.6,168.9 L740.7,172.8 L744.2,185.2 L744.2,185.2 L744.2,185.2 L744.2,185.2 L749.0,195.7 L749.6,201.5 L752.9,207.8 L756.7,215.5 L757.8,217.7 L758.2,218.2 L758.6,218.5 L764.2,223.8 L765.8,225.2 L766.1,225.8 L770.6,233.3 L771.5,235.4 L773.3,237.1 L780.3,240.9 L788.1,248.4 L788.1,248.4 L788.1,248.4 L788.1,248.4 L788.1,248.4 L794.8,257.7 L800.5,263.8 L800.1,269.5 L799.3,281.1 L796.3,285.7 L793.4,293.3 L793.1,298.0 L793.2,299.0 L793.5,299.7 L794.4,302.3 L800.3,309.7 L802.7,315.1 L807.3,319.7 L811.4,329.6 L812.5,331.4 L813.0,331.9 L813.5,332.3Z" fill="#f4503a" fill-rule="evenodd"/>
<path d="M813.0,331.9 L812.5,331.4 L811.4,329.6 L807.3,319.7 L802.7,315.1 L800.3,309.7 L794.4,302.3 L793.5,299.7 L793.2,299.0 L793.1,298.0 L793.4,293.3 L796.3,285.7 L799.3,281.1 L800.1,269.5 L800.5,263.8 L794.8,257.7 L788.1,248.4 L788.1,248.4 L788.1,248.4 L788.1,248.4 L788.1,248.4 L780.3,240.9 L773.3,237.1 L771.5,235.4 L770.6,233.3 L766.1,225.8 L765.8,225.2 L764.2,223.8 L758.6,218.5 L758.2,218.2 L757.8,217.7 L756.7,215.5 L752.9,207.8 L749.6,201.5 L749.0,195.7 L744.2,185.2 L744.2,185.2 L744.2,185.2 L744.2,185.2 L740.7,172.8 L737.6,168.9 L737.7,161.3 L737.8,159.7 L738.0,152.3 L741.7,151.1 L742.4,151.0 L743.2,150.9 L752.3,149.8 L753.4,149.7 L754.5,149.7 L763.8,149.5 L764.4,149.5 L765.0,149.4 L775.5,149.1 L775.5,149.1 L785.4,149.7 L786.9,149.8 L790.0,151.1 L798.7,152.1 L803.1,155.8 L811.4,157.4 L817.5,158.4 L821.9,160.3 L824.0,160.4 L830.9,163.9 L830.9,163.9 L837.5,165.9 L840.1,167.0 L846.5,168.4 L849.5,169.7 L851.2,170.0 L855.1,170.9 L859.2,172.1 L865.0,173.0 L875.7,173.5 L878.4,174.0 L879.6,174.5 L881.5,175.1 L894.5,180.9 L898.8,181.6 L906.2,181.2 L908.6,181.3 L910.0,180.5 L919.2,176.7 L920.6,175.8 L922.4,174.6 L930.5,171.0 L932.2,169.6 L934.3,170.1 L936.7,171.3 L935.7,173.8 L942.0,183.8 L942.8,187.7 L943.1,189.8 L944.4,196.6 L939.5,200.1 L934.9,210.2 L934.9,210.2 L925.7,217.6 L923.9,220.8 L918.1,226.0 L913.2,233.3 L912.0,235.1 L900.7,241.1 L900.7,241.1 L900.7,241.1 L892.4,248.9 L888.6,250.9 L884.0,252.1 L878.5,252.8 L874.5,253.9 L866.4,250.9 L860.8,249.8 L858.7,249.7 L856.4,250.3 L845.7,255.8 L845.7,255.8 L845.7,255.8 L845.7,255.8 L834.5,260.8 L832.4,262.0 L828.2,265.1 L824.7,266.9 L819.8,272.4 L812.4,270.6 L815.9,278.7 L819.0,280.7 L822.1,286.4 L825.3,291.9 L825.9,294.4 L824.1,295.4 L823.6,295.8 L821.0,298.7 L815.7,303.0 L815.9,306.7 L814.4,313.6 L814.1,316.7 L814.0,330.3 L814.0,331.2 L813.9,331.7 L813.5,332.3 L813.0,331.9Z M812.8,327.0 L812.9,315.6 L813.1,313.8 L814.0,309.7 L813.4,301.0 L820.5,295.3 L815.6,286.1 L806.4,280.1 L800.4,289.5 L797.0,298.5 L802.5,306.5 L802.5,306.5 L806.1,314.7 L808.8,317.5 L812.8,327.0Z M887.5,247.2 L888.8,246.5 L891.6,243.9 L896.7,238.5 L899.2,236.4 L907.3,232.1 L910.9,226.7 L917.4,217.0 L917.1,212.5 L919.7,210.0 L924.0,208.3 L931.6,202.1 L933.9,197.1 L942.0,191.3 L941.6,189.0 L941.5,188.3 L941.2,187.0 L937.3,180.7 L931.6,181.2 L929.2,182.3 L923.8,183.4 L919.6,185.1 L915.5,186.8 L911.4,188.5 L907.9,187.7 L903.1,185.4 L897.6,185.7 L896.1,185.5 L888.1,181.9 L881.0,181.4 L877.8,180.0 L873.1,177.9 L866.4,177.6 L863.4,177.1 L857.6,176.5 L852.8,175.4 L847.7,174.6 L838.8,170.5 L838.8,170.5 L838.8,170.5 L838.8,170.5 L829.0,168.7 L825.5,166.9 L819.2,166.6 L812.7,163.8 L806.2,160.8 L801.4,159.9 L799.9,158.7 L797.0,158.3 L787.6,154.5 L783.2,154.3 L776.2,153.8 L765.7,151.8 L764.7,152.2 L763.1,152.9 L760.8,150.7 L753.8,150.8 L753.4,150.9 L753.1,150.9 L742.5,152.2 L742.5,152.2 L742.5,152.2 L741.4,166.2 L741.4,168.8 L742.4,170.0 L743.6,174.2 L747.3,180.3 L748.1,185.0 L749.4,191.5 L750.3,193.6 L751.2,201.4 L753.8,206.5 L758.4,215.8 L759.3,216.5 L759.7,217.5 L766.7,223.7 L769.5,229.5 L771.8,233.2 L772.2,234.3 L773.1,235.1 L776.9,237.2 L781.4,239.1 L787.7,245.0 L789.7,245.7 L793.5,247.7 L797.6,253.1 L803.4,259.1 L817.9,261.2 L817.9,261.2 L817.9,261.2 L831.3,255.9 L833.5,255.4 L841.3,252.4 L844.7,251.7 L848.3,250.6 L853.3,248.0 L858.0,246.6 L862.2,246.9 L873.3,249.2 L873.3,249.2 L873.3,249.2 L873.3,249.2 L886.0,247.6 L887.5,247.2Z" fill="#f03f2e" fill-rule="evenodd"/>
<path d="M808.8,317.5 L806.1,314.7 L802.5,306.5 L802.5,306.5 L797.0,298.5 L800.4,289.5 L806.4,280.1 L815.6,286.1 L820.5,295.3 L813.4,301.0 L814.0,309.7 L813.1,313.8 L812.9,315.6 L812.8,327.0 L808.8,317.5Z M886.0,247.6 L873.3,249.2 L873.3,249.2 L873.3,249.2 L873.3,249.2 L862.2,246.9 L858.0,246.6 L853.3,248.0 L848.3,250.6 L844.7,251.7 L841.3,252.4 L833.5,255.4 L831.3,255.9 L817.9,261.2 L817.9,261.2 L817.9,261.2 L803.4,259.1 L797.6,253.1 L793.5,247.7 L789.7,245.7 L787.7,245.0 L781.4,239.1 L776.9,237.2 L773.1,235.1 L772.2,234.3 L771.8,233.2 L769.5,229.5 L766.7,223.7 L759.7,217.5 L759.3,216.5 L758.4,215.8 L753.8,206.5 L751.2,201.4 L750.3,193.6 L749.4,191.5 L748.1,185.0 L747.3,180.3 L743.6,174.2 L742.4,170.0 L741.4,168.8 L741.4,166.2 L742.5,152.2 L742.5,152.2 L742.5,152.2 L753.1,150.9 L753.4,150.9 L753.8,150.8 L760.8,150.7 L763.1,152.9 L764.7,152.2 L765.7,151.8 L776.2,153.8 L783.2,154.3 L787.6,154.5 L797.0,158.3 L799.9,158.7 L801.4,159.9 L806.2,160.8 L812.7,163.8 L819.2,166.6 L825.5,166.9 L829.0,168.7 L838.8,170.5 L838.8,170.5 L838.8,170.5 L838.8,170.5 L847.7,174.6 L852.8,175.4 L857.6,176.5 L863.4,177.1 L866.4,177.6 L873.1,177.9 L877.8,180.0 L881.0,181.4 L888.1,181.9 L896.1,185.5 L897.6,185.7 L903.1,185.4 L907.9,187.7 L911.4,188.5 L915.5,186.8 L919.6,185.1 L923.8,183.4 L929.2,182.3 L931.6,181.2 L937.3,180.7 L941.2,187.0 L941.5,188.3 L941.6,189.0 L942.0,191.3 L933.9,197.1 L931.6,202.1 L924.0,208.3 L919.7,210.0 L917.1,212.5 L917.4,217.0 L910.9,226.7 L907.3,232.1 L899.2,236.4 L896.7,238.5 L891.6,243.9 L888.8,246.5 L887.5,247.2 L886.0,247.6Z M811.7,318.4 L811.7,314.6 L811.7,314.0 L812.1,312.6 L811.1,299.0 L814.6,296.2 L812.2,291.6 L807.6,288.6 L804.6,293.3 L802.9,297.8 L805.6,301.8 L808.2,311.6 L809.4,314.3 L810.3,315.2 L811.7,318.4Z M802.2,250.8 L807.1,251.4 L816.5,252.8 L822.2,253.5 L830.2,250.3 L837.0,248.9 L837.0,248.9 L843.8,247.5 L850.1,245.6 L850.9,245.5 L857.3,243.6 L863.6,244.1 L867.2,244.8 L872.3,245.5 L875.4,244.4 L884.2,243.4 L886.2,242.6 L889.5,239.4 L892.8,235.9 L897.7,231.7 L902.5,229.1 L908.6,220.2 L908.6,220.2 L907.6,206.8 L915.6,199.2 L904.7,198.0 L899.9,195.8 L895.3,192.9 L884.6,192.1 L884.6,192.1 L875.0,188.1 L868.8,185.3 L865.3,184.9 L861.1,181.7 L855.9,181.2 L854.3,180.8 L851.0,180.3 L845.5,180.3 L840.9,178.7 L836.0,177.5 L827.0,173.4 L827.0,173.4 L827.0,173.4 L827.0,173.4 L816.6,172.9 L814.4,172.0 L807.9,169.0 L801.3,166.1 L799.2,164.8 L796.7,162.6 L788.4,159.2 L781.0,158.8 L776.8,158.5 L770.5,157.3 L765.5,159.6 L757.6,162.9 L754.1,159.7 L751.2,163.4 L749.1,168.3 L751.3,173.7 L750.9,178.1 L752.1,184.7 L753.0,189.4 L752.0,194.7 L752.7,201.3 L754.7,205.1 L758.2,212.1 L760.6,214.4 L762.1,217.3 L767.6,222.3 L773.0,233.1 L773.0,233.1 L773.0,233.1 L782.6,237.3 L787.3,241.7 L791.3,243.1 L798.9,246.9 L800.3,248.8 L802.2,250.8Z" fill="#e53228" fill-rule="evenodd"/>
<path d="M810.3,315.2 L809.4,314.3 L808.2,311.6 L805.6,301.8 L802.9,297.8 L804.6,293.3 L807.6,288.6 L812.2,291.6 L814.6,296.2 L811.1,299.0 L812.1,312.6 L811.7,314.0 L811.7,314.6 L811.7,318.4 L810.3,315.2Z M800.3,248.8 L798.9,246.9 L791.3,243.1 L787.3,241.7 L782.6,237.3 L773.0,233.1 L773.0,233.1 L773.0,233.1 L767.6,222.3 L762.1,217.3 L760.6,214.4 L758.2,212.1 L754.7,205.1 L752.7,201.3 L752.0,194.7 L753.0,189.4 L752.1,184.7 L750.9,178.1 L751.3,173.7 L749.1,168.3 L751.2,163.4 L754.1,159.7 L757.6,162.9 L765.5,159.6 L770.5,157.3 L776.8,158.5 L781.0,158.8 L788.4,159.2 L796.7,162.6 L799.2,164.8 L801.3,166.1 L807.9,169.0 L814.4,172.0 L816.6,172.9 L827.0,173.4 L827.0,173.4 L827.0,173.4 L827.0,173.4 L836.0,177.5 L840.9,178.7 L845.5,180.3 L851.0,180.3 L854.3,180.8 L855.9,181.2 L861.1,181.7 L865.3,184.9 L868.8,185.3 L875.0,188.1 L884.6,192.1 L884.6,192.1 L895.3,192.9 L899.9,195.8 L904.7,198.0 L915.6,199.2 L907.6,206.8 L908.6,220.2 L908.6,220.2 L902.5,229.1 L897.7,231.7 L892.8,235.9 L889.5,239.4 L886.2,242.6 L884.2,243.4 L875.4,244.4 L872.3,245.5 L867.2,244.8 L863.6,244.1 L857.3,243.6 L850.9,245.5 L850.1,245.6 L843.8,247.5 L837.0,248.9 L837.0,248.9 L830.2,250.3 L822.2,253.5 L816.5,252.8 L807.1,251.4 L802.2,250.8 L800.3,248.8Z M829.1,244.8 L831.4,244.3 L839.5,244.1 L842.9,243.4 L846.1,242.4 L852.7,241.7 L856.5,240.6 L862.0,241.0 L865.0,241.0 L871.3,241.8 L877.5,239.6 L878.5,239.5 L884.6,237.1 L888.6,233.2 L893.6,229.3 L896.2,227.0 L897.8,226.2 L899.8,223.2 L899.1,214.3 L896.4,206.1 L891.8,203.2 L888.2,202.9 L872.2,196.1 L872.2,196.1 L872.2,196.1 L872.2,196.1 L861.6,194.8 L857.4,191.7 L852.5,190.1 L843.0,186.8 L843.0,186.8 L843.0,186.8 L832.7,185.5 L829.6,184.3 L823.0,182.9 L823.0,182.9 L816.4,181.5 L813.7,179.5 L809.4,177.2 L802.8,174.2 L796.5,170.4 L789.1,163.9 L789.1,163.9 L789.1,163.9 L789.1,163.9 L778.8,163.3 L777.4,163.2 L775.3,162.8 L766.3,166.9 L766.3,166.9 L758.1,171.8 L756.1,184.5 L756.1,184.5 L756.1,184.5 L753.8,196.8 L754.3,201.2 L755.6,203.7 L757.9,208.4 L762.0,212.2 L764.4,217.1 L768.5,220.9 L772.5,229.0 L774.7,230.4 L777.3,232.7 L783.8,235.4 L786.9,238.4 L792.9,240.5 L797.7,242.9 L801.3,244.5 L802.8,244.5 L815.1,244.4 L815.1,244.4 L826.5,245.8 L829.1,244.8Z" fill="#d82422" fill-rule="evenodd"/>
<path d="M826.5,245.8 L815.1,244.4 L815.1,244.4 L802.8,244.5 L801.3,244.5 L797.7,242.9 L792.9,240.5 L786.9,238.4 L783.8,235.4 L777.3,232.7 L774.7,230.4 L772.5,229.0 L768.5,220.9 L764.4,217.1 L762.0,212.2 L757.9,208.4 L755.6,203.7 L754.3,201.2 L753.8,196.8 L756.1,184.5 L756.1,184.5 L756.1,184.5 L758.1,171.8 L766.3,166.9 L766.3,166.9 L775.3,162.8 L777.4,163.2 L778.8,163.3 L789.1,163.9 L789.1,163.9 L789.1,163.9 L789.1,163.9 L796.5,170.4 L802.8,174.2 L809.4,177.2 L813.7,179.5 L816.4,181.5 L823.0,182.9 L823.0,182.9 L829.6,184.3 L832.7,185.5 L843.0,186.8 L843.0,186.8 L843.0,186.8 L852.5,190.1 L857.4,191.7 L861.6,194.8 L872.2,196.1 L872.2,196.1 L872.2,196.1 L872.2,196.1 L888.2,202.9 L891.8,203.2 L896.4,206.1 L899.1,214.3 L899.8,223.2 L897.8,226.2 L896.2,227.0 L893.6,229.3 L888.6,233.2 L884.6,237.1 L878.5,239.5 L877.5,239.6 L871.3,241.8 L865.0,241.0 L862.0,241.0 L856.5,240.6 L852.7,241.7 L846.1,242.4 L842.9,243.4 L839.5,244.1 L831.4,244.3 L829.1,244.8 L826.5,245.8Z M855.8,237.6 L857.6,237.7 L866.5,237.6 L870.3,238.1 L874.5,236.6 L880.5,232.5 L882.9,231.6 L884.3,230.3 L888.8,226.7 L885.4,220.6 L877.2,212.4 L877.2,212.4 L877.2,212.4 L867.5,208.1 L861.5,206.3 L847.2,203.2 L847.2,203.2 L847.2,203.2 L847.2,203.2 L832.7,198.0 L827.9,196.2 L818.7,192.4 L818.7,192.4 L818.7,192.4 L810.6,186.1 L804.2,182.5 L802.1,181.2 L797.6,179.3 L793.3,177.0 L790.8,174.9 L784.6,172.9 L784.6,172.9 L778.4,171.0 L772.8,174.5 L767.4,177.9 L764.7,179.5 L764.0,183.7 L759.6,188.6 L756.7,192.7 L755.6,198.9 L755.8,201.1 L756.4,202.4 L757.6,204.7 L763.4,210.1 L766.7,216.9 L769.5,219.4 L772.1,224.8 L776.4,227.6 L781.7,232.2 L784.9,233.6 L786.5,235.0 L791.2,236.7 L794.7,237.6 L800.7,240.3 L805.2,240.3 L814.4,240.3 L826.3,240.0 L827.8,237.8 L831.8,235.5 L842.0,239.2 L842.0,239.2 L842.0,239.2 L854.5,238.0 L855.8,237.6Z" fill="#ca181d" fill-rule="evenodd"/>
<path d="M854.5,238.0 L842.0,239.2 L842.0,239.2 L842.0,239.2 L831.8,235.5 L827.8,237.8 L826.3,240.0 L814.4,240.3 L805.2,240.3 L800.7,240.3 L794.7,237.6 L791.2,236.7 L786.5,235.0 L784.9,233.6 L781.7,232.2 L776.4,227.6 L772.1,224.8 L769.5,219.4 L766.7,216.9 L763.4,210.1 L757.6,204.7 L756.4,202.4 L755.8,201.1 L755.6,198.9 L756.7,192.7 L759.6,188.6 L764.0,183.7 L764.7,179.5 L767.4,177.9 L772.8,174.5 L778.4,171.0 L784.6,172.9 L784.6,172.9 L790.8,174.9 L793.3,177.0 L797.6,179.3 L802.1,181.2 L804.2,182.5 L810.6,186.1 L818.7,192.4 L818.7,192.4 L818.7,192.4 L827.9,196.2 L832.7,198.0 L847.2,203.2 L847.2,203.2 L847.2,203.2 L847.2,203.2 L861.5,206.3 L867.5,208.1 L877.2,212.4 L877.2,212.4 L877.2,212.4 L885.4,220.6 L888.8,226.7 L884.3,230.3 L882.9,231.6 L880.5,232.5 L874.5,236.6 L870.3,238.1 L866.5,237.6 L857.6,237.7 L855.8,237.6 L854.5,238.0Z M869.3,234.5 L870.7,234.0 L875.5,230.7 L871.4,226.4 L865.8,221.6 L860.9,226.8 L862.1,234.3 L868.0,234.3 L869.3,234.5Z M800.1,236.2 L807.5,236.2 L813.7,236.1 L821.6,235.9 L826.1,229.5 L838.3,222.7 L822.0,208.9 L822.0,208.9 L822.0,208.9 L822.0,208.9 L814.6,200.8 L810.5,194.0 L807.9,191.9 L805.7,190.7 L799.3,186.9 L797.5,186.1 L792.2,183.6 L790.3,182.9 L779.8,182.0 L779.8,182.0 L779.8,182.0 L769.9,185.6 L768.3,186.7 L763.2,192.6 L757.3,201.0 L765.1,207.4 L766.2,210.9 L769.0,216.7 L770.4,218.0 L771.7,220.7 L778.2,224.8 L786.1,231.7 L786.1,231.7 L786.1,231.7 L786.1,231.7 L796.5,234.5 L800.1,236.2Z" fill="#bd151a" fill-rule="evenodd"/>
<path d="M868.0,234.3 L862.1,234.3 L860.9,226.8 L865.8,221.6 L871.4,226.4 L875.5,230.7 L870.7,234.0 L869.3,234.5 L868.0,234.3Z M796.5,234.5 L786.1,231.7 L786.1,231.7 L786.1,231.7 L786.1,231.7 L778.2,224.8 L771.7,220.7 L770.4,218.0 L769.0,216.7 L766.2,210.9 L765.1,207.4 L757.3,201.0 L763.2,192.6 L768.3,186.7 L769.9,185.6 L779.8,182.0 L779.8,182.0 L779.8,182.0 L790.3,182.9 L792.2,183.6 L797.5,186.1 L799.3,186.9 L805.7,190.7 L807.9,191.9 L810.5,194.0 L814.6,200.8 L822.0,208.9 L822.0,208.9 L822.0,208.9 L822.0,208.9 L838.3,222.7 L826.1,229.5 L821.6,235.9 L813.7,236.1 L807.5,236.2 L800.1,236.2 L796.5,234.5Z M799.5,232.0 L809.9,232.0 L813.0,232.0 L816.9,231.9 L821.0,226.2 L817.1,218.4 L809.4,211.3 L809.4,211.3 L809.4,211.3 L809.4,211.3 L804.1,199.4 L802.4,195.5 L796.7,191.9 L793.2,190.2 L787.6,188.1 L785.5,187.9 L780.4,186.7 L775.8,189.2 L773.9,189.9 L769.0,193.3 L766.4,196.3 L763.5,200.5 L767.4,203.6 L771.3,216.5 L771.3,216.5 L771.3,216.5 L780.1,221.6 L785.4,226.2 L789.2,226.4 L794.8,230.5 L798.3,231.5 L799.5,232.0Z" fill="#af1117" fill-rule="evenodd"/>
<path d="M798.3,231.5 L794.8,230.5 L789.2,226.4 L785.4,226.2 L780.1,221.6 L771.3,216.5 L771.3,216.5 L771.3,216.5 L767.4,203.6 L763.5,200.5 L766.4,196.3 L769.0,193.3 L773.9,189.9 L775.8,189.2 L780.4,186.7 L785.5,187.9 L787.6,188.1 L793.2,190.2 L796.7,191.9 L802.4,195.5 L804.1,199.4 L809.4,211.3 L809.4,211.3 L809.4,211.3 L809.4,211.3 L817.1,218.4 L821.0,226.2 L816.9,231.9 L813.0,232.0 L809.9,232.0 L799.5,232.0 L798.3,231.5Z M784.7,220.6 L790.0,221.0 L793.2,219.4 L797.9,221.6 L801.8,218.2 L800.9,212.6 L799.2,208.7 L794.2,196.8 L794.2,196.8 L794.2,196.8 L785.3,192.5 L781.0,191.4 L777.2,193.5 L769.6,199.9 L769.6,199.9 L775.3,210.0 L777.7,215.8 L782.0,218.4 L784.7,220.6Z" fill="#9f0e14" fill-rule="evenodd"/>
<path d="M782.0,218.4 L777.7,215.8 L775.3,210.0 L769.6,199.9 L769.6,199.9 L777.2,193.5 L781.0,191.4 L785.3,192.5 L794.2,196.8 L794.2,196.8 L794.2,196.8 L799.2,208.7 L800.9,212.6 L801.8,218.2 L797.9,221.6 L793.2,219.4 L790.0,221.0 L784.7,220.6 L782.0,218.4Z M784.0,215.1 L786.8,203.5 L786.0,198.0 L783.0,196.5 L781.6,196.2 L780.4,196.8 L777.8,199.0 L779.6,202.5 L784.0,215.1Z" fill="#880811" fill-rule="evenodd"/>
<path d="M779.6,202.5 L777.8,199.0 L780.4,196.8 L781.6,196.2 L783.0,196.5 L786.0,198.0 L786.8,203.5 L784.0,215.1 L779.6,202.5Z" fill="#71020e" fill-rule="evenodd"/></g>
<g><path d="M648.4,138.1 L650.9,138.5 L653.5,139.0 L656.0,139.4 L658.6,139.8 L661.1,140.2 L663.7,140.5 L666.2,140.9 L668.9,141.2 L671.6,141.6 L674.3,141.9 L676.9,142.2 L679.6,142.4 L682.3,142.7 L684.6,142.9 L687.0,143.1 L689.3,143.3 L691.6,143.5 L694.0,143.6 L696.3,143.8 L698.7,143.9 L701.4,144.0 L704.1,144.2 L706.8,144.3 L709.5,144.3 L712.2,144.4 L714.9,144.4 L717.6,144.5 L720.3,144.5 L723.1,144.5 L725.8,144.4 L728.5,144.4 L731.2,144.3 L733.9,144.3 L736.6,144.2 L739.3,144.0 L741.9,143.9 L744.6,143.8 L747.2,143.6 L749.9,143.4 L752.6,143.2 L754.9,143.0 L757.3,142.8 L759.6,142.6 L762.0,142.3 L764.3,142.1 L766.7,141.8 L769.0,141.6 L771.7,141.2 L774.4,140.9 L777.1,140.5 L779.8,140.1 L782.5,139.7 L785.2,139.3 L787.8,138.9 L790.3,138.4 L792.9,138.0 L795.4,137.5 L797.9,137.0 L800.5,136.5 M640.3,159.9 L641.8,160.1 L643.4,160.4 L644.9,161.5 L646.6,162.2 L646.8,164.4 L646.8,166.1 L649.3,167.3 L651.7,166.6 L653.7,167.3 L655.6,167.9 L657.5,167.5 L659.3,167.1 L661.5,167.7 L663.4,167.1 L665.2,166.5 L666.9,166.6 L668.7,166.7 L668.8,166.3 L671.2,166.5 L673.5,166.8 L675.9,167.0 L678.3,167.3 L680.6,167.5 M682.3,142.7 L681.9,146.2 L681.6,149.8 L681.3,153.3 L680.9,156.9 L680.6,160.4 L680.2,164.0 L680.7,166.1 L680.6,167.5 M680.6,167.5 L681.7,169.2 L682.7,171.8 L681.5,174.0 L680.2,176.2 L677.8,180.1 L678.6,181.9 L679.4,182.8 L678.3,185.6 L678.0,189.3 L677.7,193.0 L677.3,196.8 L677.0,200.5 M632.9,194.6 L635.6,195.0 L638.3,195.5 L641.1,196.0 L643.8,196.4 L646.5,196.8 L649.5,197.3 L652.6,197.7 L655.7,198.1 L658.7,198.5 L661.8,198.9 L664.8,199.3 L667.9,199.6 L670.9,199.9 L674.0,200.2 L677.0,200.5 L680.1,200.8 L683.1,201.0 L686.2,201.2 L689.3,201.4 L692.4,201.6 L695.4,201.8 L698.5,201.9 L701.6,202.0 L704.6,202.2 L707.7,202.2 L710.8,202.3 L713.9,202.4 M658.7,198.5 L658.2,202.7 L657.7,206.8 L657.2,210.9 L656.7,215.1 L656.1,219.2 L655.6,223.4 L658.4,226.8 L661.3,230.2 L664.1,233.5 L667.0,236.9 L670.0,240.2 L673.0,243.6 L676.0,246.9 L679.1,250.2 L682.2,253.4 L685.3,256.7 L688.5,260.0 M695.4,201.8 L695.2,205.9 L695.0,210.1 L694.8,214.2 L694.6,218.4 L694.3,222.5 L694.1,226.7 L693.9,230.9 L693.7,235.0 L693.5,239.2 L693.3,243.4 M693.3,243.4 L693.1,246.8 L693.0,250.1 L690.6,250.4 L688.2,250.7 L688.3,254.9 L689.0,258.7 L688.5,260.0 M688.5,260.0 L688.8,261.7 L690.0,264.7 L691.6,266.0 L689.4,267.8 L688.2,270.6 L687.0,273.4 L688.3,276.6 L686.8,279.1 M687.6,143.2 L687.2,147.3 L686.9,151.4 L687.6,153.9 L688.4,156.3 L690.4,158.4 L692.4,160.5 L694.0,161.9 L695.7,163.2 L695.3,166.1 L695.0,169.0 L694.6,171.8 L697.5,171.2 L698.8,173.9 L700.2,176.7 L701.4,179.2 L702.6,181.8 L704.5,181.6 L706.5,181.5 L709.1,180.7 L711.8,179.9 L714.1,181.6 M714.2,177.5 L714.1,181.6 L714.1,185.8 L714.0,189.9 L714.0,194.1 L713.9,198.2 L713.9,202.4 L713.8,206.5 L713.8,210.7 M714.2,177.5 L716.7,177.5 L719.3,177.5 L721.8,177.5 L724.4,177.5 L726.9,177.5 L729.5,177.5 L732.0,177.4 L734.9,177.3 L737.8,177.2 L740.7,177.1 L743.6,176.9 L746.5,176.8 L749.4,176.6 L752.3,176.4 L755.1,176.2 M752.6,143.2 L752.9,146.8 L753.1,150.4 L753.4,154.0 L753.7,157.6 L754.0,161.2 L754.3,164.8 L754.5,168.4 L754.8,172.3 L755.1,176.2 L755.5,180.3 L755.8,184.5 L756.1,188.6 L756.4,192.8 L756.7,196.9 L757.0,201.0 L757.3,205.2 L757.6,209.3 M713.8,210.7 L716.9,210.7 L720.0,210.7 L723.2,210.7 L726.3,210.7 L729.0,210.6 L731.8,210.6 L734.5,210.5 L737.2,210.4 L740.0,210.3 L742.7,210.2 L745.4,210.1 L748.5,209.9 L751.5,209.7 L754.6,209.5 L757.6,209.3 L760.8,209.1 L763.9,208.8 L767.0,208.5 L770.2,208.2 M726.3,210.7 L726.3,214.8 L726.4,219.0 L726.4,223.2 L726.5,227.3 L726.5,231.5 L726.6,235.7 L726.6,239.8 L726.7,244.0 L726.7,248.0 L726.8,251.9 L726.8,255.9 L726.9,259.9 L726.9,263.8 L727.0,267.8 L727.0,271.8 L727.0,275.8 L727.1,279.8 L727.1,283.8 L727.2,287.8 L727.2,291.8 M693.3,243.4 L696.2,243.5 L699.1,243.7 L702.0,243.8 L704.9,243.9 L707.8,243.9 L710.7,244.0 L713.7,244.0 L716.9,244.1 L720.2,244.1 L723.4,244.1 L726.7,244.0 L729.6,244.0 L732.5,243.9 L735.4,243.9 L738.3,243.8 L741.2,243.7 L744.2,243.6 L747.1,243.4 L750.4,243.2 L753.7,243.1 L757.1,242.8 L760.4,242.6 L763.8,242.4 L767.1,242.1 L770.3,241.8 L773.4,241.5 L776.3,241.2 L779.2,240.9 L782.1,240.6 L785.0,240.3 L788.0,239.9 L790.9,239.6 L793.8,239.2 L797.1,238.7 L800.4,238.2 L803.7,237.7 L807.1,237.2 L810.4,236.7 L813.5,236.2 L816.6,235.6 L819.7,235.1 L822.8,234.5 M770.2,208.2 L770.6,212.4 L771.0,216.5 L771.4,220.7 L771.8,224.8 L772.2,229.0 L772.6,233.2 L773.0,237.3 L773.4,241.5 M771.0,216.5 L773.8,216.3 L776.5,216.0 L779.3,215.6 L782.1,215.3 L784.8,215.0 L787.6,214.6 L790.4,214.2 L793.5,213.8 L796.7,213.3 L799.9,212.8 L803.1,212.3 L805.7,211.9 L808.4,211.4 L811.1,211.0 L813.8,210.5 M767.1,242.1 L767.4,246.3 L767.2,246.3 L767.5,250.5 L767.9,254.7 L768.2,258.9 L768.5,263.1 L768.8,267.3 L769.2,271.5 L769.5,275.7 L769.8,279.9 L770.2,284.1 L767.0,284.4 L763.8,284.6 L760.6,284.8 L757.4,285.0 L754.2,285.2 L751.0,285.4 L747.8,285.5 L744.6,285.7 L745.3,287.5 M767.4,246.3 L770.8,246.0 L774.2,245.7 L777.5,245.3 L780.9,245.0 L784.2,244.6 L787.6,244.2 L788.1,248.2 L788.6,252.3 L789.1,256.4 L789.6,260.4 L791.8,261.5 L795.3,261.7 L797.2,262.5 L799.7,262.6 L803.2,262.3 L804.5,264.3 L807.2,264.4 L809.9,264.6 L811.7,262.6 L814.0,263.3 L816.8,262.7 L819.5,262.2 L821.5,261.4 L823.6,260.6 L826.3,261.5 L829.0,262.3 M829.0,262.3 L828.4,258.6 L827.8,254.9 L827.2,251.2 L826.6,247.5 L825.6,244.6 L824.6,241.6 L823.6,238.6 L822.8,234.5 M822.8,234.5 L822.2,231.0 L821.5,227.4 L820.9,223.9 L820.2,220.4 L819.6,216.9 L816.7,213.8 L816.7,211.4 L813.8,210.5 M813.8,210.5 L811.9,208.3 L810.1,206.0 L809.3,203.6 L808.6,201.2 L806.3,197.4 L804.0,193.5 L803.0,191.2 M803.0,191.2 L801.3,190.6 L799.4,189.9 L797.4,189.1 L795.6,189.8 L793.8,190.4 L791.9,189.7 L789.9,189.0 L786.9,189.5 L783.9,189.9 L780.9,190.3 L777.9,190.6 L774.9,191.0 L772.2,191.3 L769.6,191.6 L766.9,191.8 L764.3,192.1 L761.7,192.3 L759.0,192.5 L756.4,192.8 M803.0,191.2 L802.3,188.7 L801.5,186.3 L801.6,182.9 L800.9,179.2 L800.3,175.5 L799.6,171.8 L799.0,168.2 L796.2,166.1 L797.3,163.0 M754.5,168.4 L757.1,168.2 L759.7,168.0 L762.3,167.8 L764.9,167.5 L767.5,167.3 L770.0,167.0 L772.6,166.7 L775.2,166.4 L777.8,166.0 L780.6,165.7 L783.4,165.3 L786.1,164.9 L788.9,164.4 L791.7,164.0 L794.5,163.5 L797.3,163.0 M797.3,163.0 L796.7,160.1 L795.7,157.8 L794.7,155.4 L794.0,152.5 L793.4,149.7 L792.1,147.4 L790.9,145.1 L790.1,141.8 L789.3,138.6 M801.6,182.9 L804.5,182.4 L807.4,181.9 L810.3,181.3 L813.2,180.7 L816.1,180.1 L818.9,179.6 L821.6,179.0 L824.4,178.4 L827.1,177.7 L829.9,177.1 L832.6,176.4 M810.0,206.2 L812.8,205.7 L815.7,205.2 L818.5,204.6 L821.3,204.1 L824.2,203.5 L826.9,202.8 L829.7,202.2 L832.4,201.5 L835.2,200.8 L837.5,202.2 M823.6,238.6 L826.5,238.1 L829.3,237.5 L832.1,237.0 L834.9,236.4 L837.8,235.8 L840.9,235.1 L844.0,234.4 L847.2,233.7 L850.3,232.9 L853.4,232.2 L852.9,236.7 L855.2,236.1 L857.4,235.6 M833.1,267.1 L835.8,266.6 L838.5,266.0 L841.2,265.5 L843.9,264.9 L847.1,264.3 L850.2,263.6 L853.3,262.9 M833.1,267.1 L832.7,264.8 L832.2,262.5 L829.0,262.3 M833.1,267.1 L833.9,271.3 L834.7,275.5 L837.1,278.5 L839.5,281.6 L839.3,284.7 L839.2,287.7 L840.0,291.1 L839.7,294.7 M867.4,277.3 L864.0,278.1 L860.6,278.9 L857.1,279.7 L853.7,280.4 M853.7,280.4 L853.9,276.9 L854.3,275.0 L855.8,270.3 L856.4,267.9 L854.2,266.2 L853.3,262.9 M853.3,262.9 L852.3,259.6 L852.6,256.0 L852.9,252.5 L854.2,247.8 L855.4,244.9 M855.4,244.9 L856.0,241.2 L856.6,238.0 L857.4,235.6 L857.9,233.3 L857.6,231.1 L859.4,229.4 L859.0,226.4 M859.0,226.4 L856.0,224.5 L855.4,222.0 L852.5,220.2 L849.6,218.3 L848.3,216.8 L848.8,214.5 L848.8,212.8 L846.2,212.6 L844.4,210.8 L841.6,208.9 L838.8,207.0 L837.4,203.8 L837.5,202.2 M837.5,202.2 L838.9,199.1 L839.2,196.4 L837.8,194.6 L839.8,192.8 L841.8,191.0 L842.3,187.9 L841.5,185.9 L838.1,183.7 M838.1,183.7 L835.0,182.3 L833.8,179.6 L832.6,176.4 M832.6,176.4 L831.5,173.7 L829.2,172.3 L827.1,170.9 L824.2,169.4 L821.0,168.4 L820.6,166.1 L820.2,163.9 L818.7,160.8 L820.0,158.8 L821.3,156.7 L820.8,154.4 L820.2,152.1 L821.7,151.5 M867.4,277.3 L867.4,280.4 L870.0,284.0 M869.7,241.2 L870.6,241.9 L871.3,246.1 L871.9,250.4 L872.6,254.7 L873.3,259.0 L873.9,263.2 L874.6,267.5 L875.5,270.7 L876.5,274.0 L877.4,277.2 L878.4,280.4 M887.3,236.2 L888.9,239.6 L890.5,242.9 L892.2,246.3 L893.8,249.6 L895.5,253.0 L897.0,255.1 L898.5,257.2 L899.0,260.3 L899.5,263.3 L900.5,265.7 L901.4,268.2 M901.4,268.2 L898.3,269.1 L895.2,270.0 L892.1,270.9 L889.0,271.8 L885.9,272.6 L882.7,273.4 L883.1,274.7 L885.0,276.0 L885.4,279.0 M901.4,268.2 L903.2,270.4 L906.4,269.6 L909.6,268.8 L912.9,268.0 L916.1,267.2 L919.3,266.3 L922.5,265.5 L924.3,266.8 L923.9,263.3 L927.6,262.4 M855.4,244.9 L858.3,244.2 L861.1,243.5 L864.0,242.7 L866.8,242.0 L869.7,241.2 L872.6,240.4 L875.5,239.6 L878.5,238.8 L881.4,238.0 L884.3,237.1 L887.3,236.2 L890.2,235.4 L893.0,234.5 L895.9,233.6 L898.6,232.7 L901.4,231.8 L904.1,230.9 M858.3,231.0 L861.2,230.2 L864.2,229.4 L867.2,228.6 L866.8,227.1 L869.6,226.5 L872.3,225.7 L875.1,225.0 L877.8,224.3 L880.5,223.6 L883.6,222.7 L886.7,221.8 L889.8,220.9 L892.8,220.0 L895.9,219.1 L899.2,218.0 L902.5,216.9 L905.7,215.8 L909.0,214.6 M895.9,233.6 L896.7,229.7 L898.3,228.4 L899.9,227.1 L901.4,224.9 L902.8,222.7 L904.5,221.2 L906.3,220.3 L908.0,219.5 L909.0,214.6 M909.0,214.6 L912.0,213.6 L914.9,212.6 L917.8,211.6 L920.8,210.5 L923.7,209.4 L926.6,208.4 L929.5,207.2 L932.4,206.0 L935.3,204.8 L938.2,203.6 L941.1,202.4 L944.0,201.1 L946.8,199.8 M904.1,230.9 L906.4,229.2 L908.6,227.5 L911.5,226.7 L914.5,225.8 L917.4,224.9 L917.7,225.7 L918.4,225.0 L920.2,226.9 L922.7,226.0 L925.2,225.2 L927.7,224.3 L931.2,225.9 L934.7,227.5 L938.2,229.0 M904.1,230.9 L903.3,233.9 L907.0,235.0 L910.8,238.3 L913.4,239.4 L916.1,240.6 L920.7,243.6 L922.5,246.7 L925.7,250.2 L927.8,250.1 M895.9,219.1 L897.5,217.4 L899.0,215.8 L900.9,213.3 L902.8,210.8 L904.4,207.6 M904.4,207.6 L907.3,207.9 L910.2,208.1 L912.7,206.0 L915.2,203.9 L915.6,199.2 L915.8,196.5 L916.1,193.9 L919.2,193.5 L920.1,189.9 L920.8,186.8 L921.4,183.8 L923.5,184.2 L925.5,184.6 L925.5,182.8 M904.4,207.6 L900.7,206.1 L898.4,203.7 L897.9,201.9 M897.9,201.9 L899.8,199.5 L899.2,197.9 L901.5,195.3 L901.2,193.5 L903.7,190.8 L905.0,187.5 L905.0,182.9 L903.4,180.0 L904.1,179.2 M897.9,201.9 L894.4,200.3 L892.5,201.4 L890.6,202.5 L888.6,202.4 L886.6,202.3 L883.9,200.4 L881.9,201.1 M881.9,201.1 L882.2,203.9 L880.6,204.7 L878.9,205.6 L878.7,209.3 L877.8,212.2 L874.9,211.8 L874.1,214.0 L872.4,215.1 L870.6,216.2 L867.0,215.9 L865.1,217.9 L864.4,217.9 M864.4,217.9 L864.8,220.4 L862.7,221.9 L863.1,224.7 L861.0,225.5 L859.0,226.4 M864.4,217.9 L864.2,214.4 L865.9,209.5 L865.0,206.9 L864.2,204.3 L863.0,200.3 L861.9,196.4 L860.8,192.5 L859.6,188.6 L858.5,184.6 M881.9,201.1 L880.8,197.6 L879.6,194.1 L878.5,190.5 L877.4,187.0 L876.2,183.5 L875.1,180.0 M862.8,183.4 L865.3,182.7 L867.7,182.1 L870.2,181.4 L872.6,180.7 L875.1,180.0 L877.8,179.0 L880.5,178.0 L883.2,177.0 M904.1,179.2 L902.7,175.6 L901.3,172.0 L899.9,168.4 L898.9,165.8 M904.1,179.2 L905.5,182.9 L907.0,186.6 L909.1,185.8 L911.2,184.9 L913.4,184.1 L916.4,182.8 L919.5,181.6 L922.5,180.3 L925.5,179.0 L928.1,177.9 L930.8,176.7 L933.4,175.6 L936.0,174.4 M913.4,184.1 L914.2,186.1 L915.0,188.2 L916.5,185.1 L918.3,183.2 L920.1,182.4 L921.4,181.2 L923.9,180.8 L925.5,182.8 M925.5,182.8 L927.7,183.9 L930.6,184.3 L931.5,185.1 L931.6,188.9 L933.8,188.9 L936.6,189.6 L939.3,190.3 M936.0,174.4 L937.7,177.6 L939.4,180.9 L941.1,184.1 L943.1,183.2 L945.2,182.3 M936.0,174.4 L936.7,173.0 L937.9,172.7 M937.9,172.7 L939.3,170.6 L940.7,168.0 L937.9,166.9 L936.1,165.4 L935.6,162.7 L936.5,158.5 M936.5,158.5 L939.5,158.7 L942.5,158.9 M936.5,158.5 L933.5,157.5 L930.2,155.2 L927.7,156.4 L925.2,157.5 L922.7,158.7 L920.2,159.8 L917.7,160.9 L915.0,162.1 L912.4,163.2 L909.7,164.4 L907.0,165.5 L904.4,166.6 L903.5,164.4 M944.0,158.2 L944.2,156.1 L943.4,155.5 L942.1,152.6 L940.8,149.6 L940.1,146.5 L939.3,143.5 L937.8,140.3 L936.3,137.2 L935.2,137.3 L934.2,134.9 L933.1,132.5 L931.5,129.4 L929.9,126.3 M940.8,149.6 L943.3,148.4 L945.7,147.2 L948.2,146.0 L950.7,144.7 L953.1,143.4 L953.6,144.4 L955.5,145.5 L956.7,146.6 M950.7,144.7 L952.0,147.1 L953.2,149.5 L953.3,150.3 M939.3,143.5 L941.7,142.3 L944.0,141.2 L946.2,140.1 L948.5,139.1 L950.7,137.9 L950.8,137.5 L951.7,135.7 L952.7,135.2 M944.0,141.2 L943.0,138.9 L942.0,136.7 L941.6,133.4 L941.1,130.2 L940.0,127.9 L941.5,125.1 L939.9,121.0 M952.5,133.3 L949.7,131.8 L947.5,128.2 L945.3,124.6 L943.1,121.0 L940.9,117.4 M830.9,150.3 L833.0,151.7 L835.1,151.7 L837.2,151.8 L839.2,151.9 L842.3,152.0 L845.4,152.1 L846.9,154.1 L848.4,156.1 L850.1,157.7 M838.1,183.7 L840.6,183.1 L843.0,182.5 L845.5,181.8 L847.9,181.1 L850.3,180.5 L852.7,179.8 L855.1,179.1 L857.5,178.4 L859.8,177.7 M850.1,157.7 L852.0,155.8 L853.9,153.9 L855.7,154.1 L857.4,154.2 L857.3,158.4 L857.2,162.6 L857.1,166.2 L856.9,169.8 L858.3,173.8 L859.8,177.7 L860.2,180.9 L860.5,184.1 L858.5,184.6 M860.5,184.1 L862.8,183.4 M698.3,143.9 L696.7,141.3 L695.2,138.7 L695.6,135.9 L696.1,133.0 L694.3,131.2 L692.6,129.4 L691.0,127.3 L689.3,125.0 L687.0,121.5 L684.8,118.0 L682.8,116.7 L680.9,115.4 L679.1,114.1 L678.3,111.5 L677.6,108.9 L675.6,106.4 L673.6,104.0 L671.6,101.5 L672.1,97.8 L672.6,94.2 L673.1,90.6 L673.6,87.0 L674.1,83.4 M720.3,144.5 L720.3,140.3 L720.3,136.2 L720.3,132.1 L720.3,128.0 L720.3,123.8 L720.3,119.7 L720.3,115.6 L720.3,111.4 L720.3,107.3 L720.3,103.2 L720.3,99.0 L720.3,94.9 L720.3,90.7 L720.3,86.6 M767.1,141.8 L766.4,137.7 L765.8,133.6 L765.1,129.5 L764.5,125.4 L763.7,121.3 L763.0,117.3 L762.3,113.2 L761.6,109.1 L760.9,105.3 L760.2,101.5 L759.5,97.6 L758.9,93.8 L758.2,90.0 L757.5,86.2 L757.2,82.9 L756.8,79.6 L756.4,76.3 M799.9,133.4 L799.1,129.4 L798.3,125.4 L797.4,121.4 L796.6,117.4 L795.8,113.3 L795.0,109.3 L794.2,105.3 L795.9,102.6 L797.6,99.8 L799.2,97.0 L800.9,94.2 L802.5,91.4 L804.0,88.6 L805.6,85.8 L807.0,82.9 L808.4,80.0 L809.8,77.1 L811.1,74.2 L812.5,71.3 L813.7,68.3 L815.0,65.4 M865.4,72.0 L867.2,75.9 L868.9,79.7 L870.6,83.6 L872.3,87.5 L874.1,91.4 L875.8,95.2 L877.4,99.1 L879.1,102.9 L880.8,106.8 L882.5,110.6 L884.1,114.5 L885.8,118.3 L887.5,122.2 L890.0,123.4 L893.0,125.9 L896.5,127.4 L900.0,128.8 L902.5,129.1 L904.9,129.4 L906.6,128.9 L908.3,128.3 L912.5,130.2 L915.6,129.6 L917.4,127.8 L919.2,126.0 L922.0,124.8 L923.7,127.6 L923.5,129.1 M942.7,96.2 L943.8,94.2 L944.8,92.3 L944.2,89.1 L945.4,87.8 L946.7,86.5 L948.7,85.7 L950.6,85.0 L952.6,82.6 M974.5,89.6 L973.7,91.2" fill="none" stroke="#000" stroke-width="0.9" stroke-linejoin="round"/>
<path d="M688.9,319.5 L692.3,319.6 L695.7,319.8 L699.1,319.9 M733.3,291.7 L731.7,294.6 L730.1,297.6 L728.4,300.5 L729.2,304.2 L730.0,307.9 L730.8,311.6 L729.3,314.6 L727.9,317.6 L729.8,320.6 L731.8,323.6 L730.3,326.2 L728.8,328.8 L730.3,331.3 L731.9,333.9 M724.6,331.4 L728.2,332.6 L731.9,333.9 M731.9,333.9 L734.7,335.5 L737.4,337.2 L740.5,337.1 L743.6,337.0 L745.7,339.6 L747.7,342.1 L745.9,345.2 L744.0,348.3 L747.3,351.2 L750.5,354.1 L752.3,357.1 L754.0,360.1 L755.7,362.6 L757.5,365.2 M743.6,337.0 L747.4,333.9 L751.1,330.7 L754.2,330.6 L757.3,330.4 L760.4,331.1 L763.5,331.8 L767.3,329.8 M767.3,329.8 L767.8,325.9 L768.3,322.0 L767.2,317.7 L766.2,313.5 L769.4,311.8 L772.7,310.0 M767.3,329.8 L769.8,333.5 L772.4,337.2 L774.6,340.1 L776.8,343.0 L778.2,345.5 L779.6,348.0 L783.4,346.4 L787.2,344.7 M799.4,319.1 L797.0,321.9 L794.7,324.8 L793.1,328.0 L791.4,331.2 L793.6,333.6 L795.9,336.0 L794.2,338.8 L792.5,341.6 L795.1,343.9 L791.2,344.3 L787.2,344.7 M800.9,321.5 L802.3,325.7 L803.8,329.9 L804.6,333.3 L805.4,336.7 L804.2,339.9 L803.0,343.1 L802.2,346.7 L801.4,350.3 L802.6,353.7 L803.8,357.1 L800.5,357.4 M787.2,344.7 L786.0,348.3 L784.7,351.9 L782.1,354.4 L779.5,356.8 L776.3,357.0 L773.1,357.2 L769.9,357.5 L768.2,362.0 L766.4,366.4 M795.1,343.9 L796.5,347.3 L797.8,350.7 L799.2,354.0 L800.5,357.4 L804.8,359.2 L809.1,360.9" fill="none" stroke="#000" stroke-width="0.6" stroke-linejoin="round"/>
<path d="M648.4,138.1 L650.9,138.5 L653.5,139.0 L656.0,139.4 L658.6,139.8 L661.1,140.2 L663.7,140.5 L666.2,140.9 L668.9,141.2 L671.6,141.6 L674.3,141.9 L676.9,142.2 L679.6,142.4 L682.3,142.7 L684.6,142.9 L687.0,143.1 L689.3,143.3 L691.6,143.5 L694.0,143.6 L696.3,143.8 L698.7,143.9 L701.4,144.0 L704.1,144.2 L706.8,144.3 L709.5,144.3 L712.2,144.4 L714.9,144.4 L717.6,144.5 L720.3,144.5 L723.1,144.5 L725.8,144.4 L728.5,144.4 L731.2,144.3 L733.9,144.3 L736.6,144.2 L739.3,144.0 L741.9,143.9 L744.6,143.8 L747.2,143.6 L749.9,143.4 L752.6,143.2 L754.9,143.0 L757.3,142.8 L759.6,142.6 L762.0,142.3 L764.3,142.1 L766.7,141.8 L769.0,141.6 L771.7,141.2 L774.4,140.9 L777.1,140.5 L779.8,140.1 L782.5,139.7 L785.2,139.3 L787.8,138.9 L790.3,138.4 L792.9,138.0 L795.4,137.5 L797.9,137.0 L800.5,136.5 L799.9,133.4 L801.7,133.6 L802.9,136.0 L803.9,138.2 L806.2,138.5 L808.5,138.7 L810.6,137.9 L812.7,137.2 L814.6,137.9 L816.4,138.6 L819.2,139.2 L821.9,139.8 L823.6,138.5 L825.3,137.3 L827.6,137.4 L829.9,137.5 L832.3,137.5 L833.7,137.4 L836.0,135.3 L838.3,133.2 L841.5,134.0 L844.6,134.8 L847.8,135.6 L851.1,136.3 L854.3,137.0 L857.5,137.7 L860.8,138.4 L863.7,141.4 L866.0,140.1 L868.0,143.0 L871.0,142.8 L870.7,144.6 L873.7,145.9 L876.8,147.3 L879.8,148.6 L881.7,152.2 L883.6,155.7 L885.5,159.2 L885.6,161.9 L885.6,164.6 L886.3,168.0 L884.9,170.6 L883.7,171.7 L884.2,173.8 L885.1,175.2 L887.4,175.2 L889.6,175.2 L891.4,172.9 L893.2,170.7 L894.9,168.4 L897.1,166.7 L899.2,164.9 L901.3,163.2 L903.1,161.4 L904.8,159.7 L906.5,158.0 L905.7,158.1 L904.3,154.8 L902.9,153.7 L905.1,151.1 L907.9,149.9 L910.6,148.7 L913.3,147.5 L916.0,146.3 L916.2,141.7 L917.8,138.6 L918.9,135.8 L919.9,133.0 L921.2,131.5 L922.6,130.1 L925.0,128.8 L927.5,127.6 L929.9,126.3 L932.4,125.0 L934.9,123.7 L937.5,122.3 L939.9,121.0 L939.6,119.1 L940.9,117.4 L942.4,117.1 L942.0,115.8 L942.6,112.0 L941.6,108.5 L941.6,106.0 L941.4,102.5 L941.3,99.0 L941.1,95.5 L942.7,96.2 L943.9,96.5 L945.1,94.9 L946.2,93.4 L950.1,94.0 L951.8,96.7 L953.6,99.5 L955.4,102.2 L958.7,103.8 L960.8,106.6 L962.4,106.1 L965.0,108.1 M669.6,279.6 L673.0,279.5 L676.5,279.4 L679.9,279.4 L683.4,279.3 L686.8,279.1 L686.0,281.0 L689.3,282.4 L692.6,283.8 L695.9,285.2 L699.2,286.5 L702.5,287.9 L705.9,289.2 L709.2,290.5 L712.6,291.8 L715.5,291.8 L718.4,291.8 L721.4,291.8 L724.3,291.8 L727.2,291.8 L730.3,291.7 L733.3,291.7 L733.2,287.9 L736.3,287.8 L739.3,287.7 L742.3,287.6 L745.3,287.5 L746.4,287.9 L749.9,290.7 L753.4,293.5 L756.9,296.3 L758.1,298.7 L759.4,301.1 L761.1,304.8 L763.8,306.3 L766.5,307.7 L769.0,308.8 L771.5,309.9 L773.1,306.5 L774.6,303.1 L777.2,301.7 L780.6,301.8 L783.9,302.0 L786.9,304.6 L789.9,307.1 L791.7,310.4 L793.4,313.7 L796.8,316.7 L800.3,319.8 L801.2,324.1 L802.8,326.5 L804.5,328.9 L808.1,330.0 L811.8,331.0 L814.0,331.6 L816.3,332.2 L820.0,330.7" fill="none" stroke="#000" stroke-width="0.9" stroke-linejoin="round"/>
<path d="M612.5,77.5 L612.8,78.9 L614.5,79.3 L615.7,79.9 L616.1,80.8 L617.2,82.4 L618.4,82.9 L619.7,83.6 L620.4,85.0 L621.5,85.5 L622.8,86.8 L622.6,88.2 L622.9,89.1 L622.3,91.0 L623.3,92.2 L624.7,93.9 L625.1,94.7 L626.2,96.5 L626.5,97.2 L626.0,99.1 L627.1,100.7 L626.9,101.8 L628.5,102.9 L629.4,103.9 L629.5,105.9 L630.0,108.0 L628.5,109.2 L629.3,111.0 L628.9,112.4 L629.0,113.7 L629.3,115.3 L630.6,115.5 L631.5,118.1 L632.3,118.6 L633.3,119.6 L634.2,121.4 L635.9,121.6 L637.0,122.5 L638.0,123.2 L639.6,123.7 L640.1,125.0 L640.9,126.4 L641.3,126.8 L642.1,128.4 L643.6,129.9 L644.5,130.6 L645.7,132.1 L647.1,132.6 L648.1,134.2 L649.5,135.7 L649.6,137.9 L651.3,138.6 L652.4,140.9 L651.5,143.3 L652.1,144.5 L652.7,146.4 L651.6,147.5 L651.9,149.4 L651.7,150.5 L650.5,151.5 L650.7,153.2 L649.1,153.5 L648.0,154.0 L648.5,152.8 L649.6,151.0 L650.7,149.3 L651.0,147.8 L649.9,145.8 L648.0,145.5 L647.0,144.9 L645.5,144.8 L644.0,144.3 L642.3,143.4 L641.5,141.8 L639.8,141.7 L639.4,143.2 L639.6,144.4 L639.5,145.7 L640.0,147.4 L638.7,149.5 L639.9,150.9 L640.6,152.5 L641.0,154.5 L640.9,156.6 L640.9,158.3 L640.2,159.7 L640.0,160.9 L640.3,162.8 L639.7,164.3 L639.6,166.1 L638.6,167.3 L638.2,168.5 L638.7,170.1 L638.2,171.9 L637.6,173.3 L636.7,175.0 L637.4,176.8 L636.4,178.2 L636.0,179.7 L635.7,181.9 L635.1,183.1 L634.5,184.1 L633.4,185.3 L632.1,187.3 L631.9,189.2 L632.4,191.1 L632.7,193.0 L632.9,194.6 L632.9,196.7 L632.6,198.6 L632.7,200.5 L631.7,202.2 L631.6,204.1 L630.8,205.7 L629.4,207.2 L630.3,208.5 L631.0,209.3 L631.3,211.3 L631.4,212.3 L632.7,213.8 L631.9,215.2 L632.2,216.9 L632.1,218.0 L631.8,219.9 L633.0,221.4 L633.2,223.5 L633.9,224.4 L634.5,225.3 L635.3,226.8 L635.3,229.0 L636.3,229.8 L638.0,231.1 L639.5,230.1 L640.9,229.4 L639.4,230.6 L639.7,232.3 L638.4,232.9 L637.6,233.6 L637.2,235.2 L637.9,236.2 L639.1,237.2 L639.5,238.6 L641.4,240.1 L640.5,241.7 L640.0,243.0 L641.3,244.7 L642.3,245.7 L642.4,247.1 L643.6,248.2 L644.1,250.3 L645.4,251.2 L646.0,252.6 L647.3,254.9 L647.1,256.7 L647.3,258.0 L646.7,259.5 L647.8,261.0 L649.1,261.7 L650.7,260.9 L651.9,261.5 L653.0,262.0 L654.6,263.5 L655.9,264.5 L657.0,265.1 L658.9,266.1 L661.0,266.0 L661.5,268.4 L663.3,268.4 L664.2,269.6 L665.6,270.8 L666.2,271.7 L667.5,272.8 L667.4,274.1 L669.6,275.6 L668.9,276.8 L670.2,278.1 L669.6,279.6 M820.5,370.1 L820.8,369.0 L820.4,367.0 L819.6,365.7 L819.1,364.0 L819.5,362.9 L819.4,361.4 L819.7,359.9 L819.2,358.7 L818.4,357.4 L818.2,355.4 L818.2,353.9 L817.8,352.7 L817.3,351.5 L817.5,349.6 L817.8,348.3 L817.9,346.9 L817.5,345.1 L817.5,343.9 L817.5,342.4 L818.8,341.1 L818.6,339.8 L819.5,338.9 L818.9,336.7 L818.6,335.3 L820.3,333.8 L819.6,332.5 L820.0,330.7 L819.9,329.3 L819.2,328.4 L818.6,326.7 L818.9,325.3 L818.5,323.7 L817.9,322.8 L817.5,321.1 L816.9,319.4 L817.1,317.8 L816.8,316.7 L817.4,315.0 L818.7,313.9 L818.4,312.8 L819.9,311.1 L821.4,309.9 L822.6,308.9 L824.0,308.6 L824.6,306.9 L826.1,306.2 L827.1,305.9 L827.9,304.7 L828.9,304.1 L830.1,302.9 L831.2,301.8 L832.2,300.1 L833.2,298.9 L835.2,297.2 L836.6,297.1 L838.6,295.9 L839.7,294.7 L841.6,293.9 L843.2,293.6 L844.4,293.2 L845.8,293.0 L848.0,294.2 L849.1,293.7 L851.2,293.6 L852.8,293.0 L855.2,293.4 L856.2,293.4 L858.3,293.9 L859.2,294.3 L861.2,294.1 L862.6,295.7 L863.8,294.3 L865.4,295.3 L867.0,294.3 L868.4,292.8 L869.5,291.9 L870.8,292.5 L872.3,292.5 L873.9,294.0 L875.7,293.2 L876.4,291.2 L875.5,290.3 L874.1,289.4 L872.8,289.4 L871.5,288.2 L870.6,286.4 L871.8,285.7 L872.4,284.6 L870.0,284.0 L871.9,282.3 L873.0,281.9 L874.6,280.9 L876.3,281.1 L878.4,280.4 L880.6,279.9 L879.4,278.5 L880.5,276.7 L881.6,278.8 L882.5,279.8 L883.6,279.3 L885.4,279.0 L887.1,278.1 L888.7,278.7 L889.3,277.2 L891.0,276.2 L892.0,276.3 L893.8,276.1 L895.9,276.2 L897.7,276.5 L898.5,277.0 L900.0,277.9 L900.9,279.2 L902.1,280.0 L903.6,279.4 L904.8,279.8 L906.4,279.3 L906.2,277.6 L907.8,276.7 L908.7,275.6 L909.8,274.5 L910.9,273.5 L913.0,273.2 L914.3,274.3 L915.4,275.4 L916.9,276.5 L917.8,277.2 L919.2,278.3 L920.5,279.5 L922.4,279.6 L923.4,280.5 L924.0,282.2 L925.0,283.9 L925.3,285.4 L925.1,286.9 L925.0,287.9 L925.1,289.4 L926.4,290.4 L927.6,291.9 L928.3,293.3 L929.8,294.4 L930.4,295.6 L931.4,296.5 L933.2,296.9 L933.8,298.3 L935.3,299.3 L936.9,300.1 L937.8,301.5 L938.4,303.4 L939.8,303.5 L941.0,303.7 L942.4,304.0 L943.4,304.9 L943.7,306.0 L944.5,307.5 L945.5,308.2 L947.1,308.3 L948.7,307.6 L949.7,306.9 L951.3,306.2 L951.3,303.8 L951.8,302.7 L951.6,300.4 L951.1,299.1 L951.4,297.5 L950.3,296.6 L950.0,294.8 L950.0,293.3 L949.2,291.8 L948.3,290.1 L947.2,289.3 L947.0,287.8 L945.3,286.5 L944.7,285.7 L944.1,284.4 L943.4,283.3 L941.9,281.7 L942.3,280.7 L940.5,279.6 L939.3,278.1 L938.2,278.0 L937.5,276.9 L937.3,275.4 L936.1,274.5 L934.2,274.0 L934.3,272.4 L933.2,271.2 L933.2,269.4 L931.4,269.1 L930.7,268.0 L929.7,266.2 L928.8,264.9 L927.7,264.3 L927.6,262.4 L926.2,260.8 L926.8,259.1 L926.8,257.8 L926.5,256.4 L926.4,255.0 L926.9,253.5 L927.2,251.4 L927.8,250.1 L928.5,249.1 L929.1,247.2 L929.9,246.4 L931.0,245.0 L932.2,243.4 L932.6,242.1 L932.7,240.6 L933.3,238.9 L934.4,238.2 L935.4,236.8 L935.3,235.2 L935.8,234.2 L936.2,232.8 L937.3,232.0 L937.3,229.4 L938.2,229.0 L939.3,228.4 L940.5,227.6 L941.9,227.4 L942.4,225.9 L942.0,224.8 L942.8,223.8 L942.6,222.0 L944.6,221.3 L944.4,220.0 L945.7,218.8 L946.6,217.9 L947.9,217.1 L949.4,217.4 L949.2,216.0 L950.4,214.9 L951.3,213.3 L951.3,212.3 L953.0,211.3 L953.7,209.3 L953.0,208.1 L952.8,206.3 L951.5,205.6 L951.0,204.1 L949.9,203.2 L948.9,202.3 L947.9,201.3 L946.8,199.8 L946.3,197.8 L944.7,197.2 L942.7,197.9 L941.5,197.3 L940.7,195.9 L940.3,194.5 L940.6,193.1 L940.1,191.0 L938.8,190.0 L937.0,189.0 L935.4,188.7 L933.8,188.9 L935.3,188.9 L936.7,188.6 L935.8,187.2 L936.6,185.7 L936.6,184.1 L934.6,183.2 L934.2,182.0 L934.1,180.6 L933.9,178.8 L935.4,178.1 L935.5,176.7 L935.4,178.1 L935.8,179.8 L936.4,181.1 L936.3,182.9 L936.4,184.2 L937.2,185.5 L938.5,186.5 L940.6,187.3 L941.8,188.7 L943.1,189.5 L943.6,190.8 L943.7,192.2 L943.9,194.1 L944.3,195.5 L944.1,193.9 L945.3,192.4 L945.0,191.1 L945.6,189.7 L945.0,188.2 L945.2,186.6 L945.5,184.6 L945.9,183.4 L945.2,182.3 L945.1,181.0 L943.6,179.7 L942.4,178.8 L941.2,176.9 L939.9,176.6 L938.6,175.9 L937.9,174.6 L938.7,175.7 L939.9,176.1 L941.3,175.7 L942.7,176.2 L944.3,178.1 L945.0,177.1 L945.5,175.6 L945.8,173.9 L945.6,172.9 L945.5,171.3 L946.1,169.3 L945.9,168.1 L944.8,166.7 L944.9,165.5 L944.2,163.9 L942.3,162.9 L943.1,161.6 L944.0,159.6 L944.0,158.2 L945.3,156.5 L946.6,155.4 L947.9,155.2 L949.6,153.7 L950.3,152.4 L951.2,151.1 L953.3,150.3 L955.1,148.8 L954.5,146.3 L956.3,146.9 L957.4,146.3 L958.2,145.1 L958.6,143.6 L959.4,145.0 L960.6,143.9 L961.4,142.8 L962.6,141.9 L962.2,140.6 L960.8,138.8 L959.6,139.3 L960.7,140.5 L961.7,141.1 L959.6,141.2 L959.1,142.5 L957.3,141.3 L955.4,139.9 L953.9,139.7 L953.9,137.7 L954.9,136.2 L952.8,135.1 L952.5,133.3 L952.5,132.0 L952.1,130.6 L953.7,129.0 L952.8,127.3 L953.6,126.4 L954.3,124.9 L955.6,123.9 L956.4,122.1 L956.3,120.6 L956.7,118.4 L956.7,116.4 L958.1,116.6 L959.4,117.3 L960.6,115.6 L960.7,113.8 L962.3,112.4 L963.2,111.4 L964.5,110.0 L965.0,108.1 L963.8,107.7 L963.2,106.2 L964.4,104.6 L966.1,104.3 L966.6,102.6 L967.7,101.7 L968.5,100.9 L968.8,99.3 L969.3,97.9 L969.6,96.3 L970.9,94.9 L971.7,93.7 L972.7,91.9 L972.3,93.4 L973.2,95.4 L973.2,97.0 L972.5,97.8 L972.1,99.9 L971.8,101.3 L972.8,103.1 L972.2,104.5 L971.4,106.0 L972.9,108.0 L971.5,109.2 L972.9,109.7 L973.5,110.9 L974.2,112.8 L975.4,112.2 L977.1,112.7 L978.6,113.1 L978.9,112.0 L979.9,110.2 L980.6,109.1 L981.2,107.8 L981.3,106.3 L981.9,104.9 L981.2,103.9 L981.5,102.5 L983.1,100.9 L983.4,100.2 L983.7,97.8 L983.9,97.3 L985.5,95.8 L986.0,94.6 L987.2,93.8 L988.0,92.5 L988.5,91.2 L988.9,90.4 L989.8,89.0 M987.0,69.8 L986.4,71.2 L986.6,72.3 L986.5,74.2 L987.0,75.1 L987.4,76.6 L987.3,77.9 L987.6,79.4 L987.5,80.7 L986.5,80.5 L985.9,82.4 L984.6,82.8 L982.8,83.2 L982.0,84.1 L980.6,84.7 L979.5,85.5 L978.2,86.0 L976.9,86.4 L975.8,86.7 L974.0,88.3 L972.8,89.0 L970.9,89.4 L970.3,88.4 L969.5,87.0 L968.0,85.7 L966.2,85.6 L965.2,84.7 L964.4,83.0 L962.0,84.1 L962.1,82.7 L961.1,81.7 L959.5,81.2 L957.7,81.2 L956.0,81.4 L954.3,82.4 L952.6,82.6 L952.9,80.8 L954.0,79.5 L954.8,78.4 L956.7,78.1 L956.5,76.1 L957.6,75.2 L958.9,74.5 L959.8,73.4 L959.6,72.1 L959.4,70.3 L958.9,69.2 L957.6,69.5 L955.8,69.2 L954.9,68.7 L953.4,69.3 L952.5,70.0 L951.5,71.6 L949.7,72.0 L949.3,72.9 L947.8,73.8 L946.8,74.9 L945.7,76.1 L944.6,77.3 L943.8,78.3 L943.2,79.9 L942.2,80.8 L941.7,82.7 L941.3,83.2 L940.0,84.6 L940.2,85.9 L939.2,87.1 L939.3,88.3 L939.3,90.2 L938.9,90.9 L938.4,92.7 L937.9,93.5 L937.2,94.8 L937.4,96.7 L936.8,97.6 L936.9,99.7 L936.0,100.7 L936.3,102.2 L934.9,103.8 L935.0,104.8 L933.9,106.4 L932.6,107.7 L931.9,109.3 L930.6,110.2 L929.7,111.1 L929.5,113.2 L928.7,114.2 L928.9,115.9 L927.3,116.4 L926.7,118.2 L926.7,119.8 L926.3,121.4 L925.5,122.6 L925.4,124.8 L923.9,126.0 L923.4,127.7 L922.6,130.1 L921.0,130.9 L920.6,132.0 L919.9,133.0 L920.3,134.4 L919.4,135.9 L918.1,136.6 L917.8,138.6 L917.2,139.6 L915.9,140.9 M916.5,140.2 L916.6,138.0 L917.8,137.2 L918.6,135.5 L919.4,134.9 L918.8,132.3 L920.0,131.8 L920.7,130.7 L922.3,129.7 L923.1,128.4 L923.2,127.0 L924.1,125.7 L924.4,124.3 L925.2,123.1 L925.2,121.4 L925.7,120.2 L926.5,118.5 L926.8,117.2 L927.4,115.8 L927.8,113.9 L928.8,113.2 L928.8,111.5 L929.7,110.3 L930.7,109.2 L931.8,108.5 L932.5,106.9 L934.0,105.3 L935.1,104.1 L934.1,102.1 L935.3,100.6 L936.1,98.8 L936.1,97.9 L935.5,95.8 L935.3,94.8 L935.8,93.2 L935.6,91.8 L935.3,90.5 L936.7,88.7 L936.6,87.1 L936.6,85.6 L937.6,84.0 L937.4,82.8 L937.5,80.9 L938.4,79.9 L938.8,78.9 L939.9,77.6 L941.4,76.7 L941.7,75.6 L941.4,74.3 L941.6,72.9 L941.7,71.0 L941.8,70.0 L941.2,67.8 L941.8,66.6 L942.6,65.2 L944.0,65.2 L944.5,63.6 L945.5,62.8 L946.7,62.4 L947.8,61.4 L948.8,60.5 L949.7,59.3 L950.7,58.9 L952.2,58.0 L952.9,57.3 L955.0,56.6 L956.0,55.8 L956.9,54.8" fill="none" stroke="#000" stroke-width="1.7" stroke-linejoin="round" stroke-linecap="round"/>
<path d="M647.6,143.0 L645.9,143.4 L645.1,141.9 L642.4,143.0 L642.3,142.7 L641.3,140.6 L639.8,139.5 L639.1,138.0 L638.1,137.4 L636.8,136.5 L635.3,135.7 L634.9,133.7 L634.4,132.2 L633.4,131.0 L631.9,129.7 L630.6,128.7 L629.8,127.0 L628.8,125.1 L628.2,124.5 L627.1,123.3 L625.5,122.3 L625.3,120.4 L624.9,117.9 L626.1,118.6 L628.1,118.1 L629.6,119.2 L630.4,119.8 L631.7,121.1 L632.4,122.6 L634.3,123.3 L634.5,124.2 L636.4,124.3 L637.9,124.9 L638.0,125.5 L639.6,127.1 L639.0,128.9 L639.7,129.8 L640.9,131.6 L641.0,133.3 L642.7,133.2 L644.1,134.8 L645.3,136.1 L646.4,137.7 L647.2,139.2 L647.5,140.5 L647.6,143.0" fill="none" stroke="#000" stroke-width="2.4" stroke-linejoin="round" stroke-linecap="round"/>
<path d="M614.5,104.4 L613.5,102.6 L612.7,102.3 L612.0,100.2 L611.4,98.4 L612.1,96.5 L608.9,96.2 L610.1,94.3 L611.2,92.6 L608.9,91.4 L608.6,89.9 L608.8,88.6 L609.3,86.4 L609.9,86.1 L609.8,84.1 L611.1,85.6 L612.3,84.9 L614.9,84.5 L614.5,86.9 L615.2,87.6 L615.0,90.6 L615.5,92.9 L613.0,93.5 L612.3,95.0 L612.7,95.9 L613.2,97.9 L614.9,99.4 L613.3,100.6 L612.6,101.6 L614.8,103.6 L614.5,104.4 M802.4,136.2 L803.1,135.0 L804.5,133.2 L803.0,132.0 L802.8,130.1 L802.9,131.8 L800.5,132.3 L800.3,133.8 L800.2,134.9 L802.4,136.2" fill="none" stroke="#000" stroke-width="3.0" stroke-linejoin="round" stroke-linecap="round"/>
<path d="M669.6,279.6 L669.3,281.3 L669.7,282.7 L670.8,284.2 L671.5,285.5 L672.4,286.8 L673.5,288.2 L673.1,290.0 L674.1,291.7 L674.5,293.0 L675.5,294.0 L675.9,295.6 L676.4,297.4 L676.3,299.0 L677.5,300.1 L677.6,301.7 L676.7,303.1 L678.1,304.3 L679.7,304.8 L680.8,306.0 L682.2,306.1 L683.5,307.2 L684.1,308.7 L685.8,309.7 L685.9,311.2 L686.1,312.5 L687.1,313.7 L687.6,314.6 L687.7,315.9 L688.2,317.2 L689.0,318.6 L687.7,320.7 L686.3,320.7 L685.1,319.9 L683.6,321.1 L682.0,320.4 L683.3,321.0 L684.0,322.7 L684.5,323.8 L686.0,324.5 L686.6,326.7 L688.0,326.4 L689.3,327.9 L690.4,329.0 L692.1,328.6 L692.9,329.9 L694.5,330.8 L695.7,330.9 L697.1,332.0 L698.3,333.0 L699.5,334.5 L700.1,335.8 L700.7,336.4 L701.0,337.9 L702.1,339.5 L702.4,340.2 L703.2,341.5 L703.8,343.3 L703.3,344.7 L703.0,346.1 L703.4,347.6 L704.4,348.3 L706.1,348.2 L706.6,350.2 L707.7,351.2 L708.6,352.3 L709.8,353.4 L711.0,354.0 L712.5,355.0 L713.0,356.4 L714.0,357.3 L714.6,358.9 L715.9,359.5 L717.2,360.1 L717.4,361.2 L718.1,362.7 L719.5,363.5 L720.7,364.6 L721.9,363.9 L722.8,362.6 L723.9,361.4 L723.6,360.4 L724.7,359.1 L723.8,357.8 L723.1,356.9 L722.8,355.9 L721.5,354.3 L719.9,354.0 L718.0,353.0 L716.8,351.7 L715.2,350.4 L714.6,349.1 L714.4,347.5 L714.8,346.1 L713.9,345.1 L713.0,343.7 L712.4,342.5 L712.0,341.4 L711.1,340.1 L710.2,339.1 L710.2,337.4 L709.9,335.6 L708.7,334.5 L708.8,333.0 L707.3,332.2 L706.1,331.2 L705.8,329.7 L705.0,328.6 L704.8,327.4 L703.2,326.0 L702.4,324.3 L701.5,323.2 L700.2,322.0 L699.5,320.8 L699.9,319.8 L698.4,318.3 L698.1,317.2 L697.1,316.3 L697.1,314.7 L696.0,313.1 L695.0,312.4 L693.8,311.1 L693.1,310.0 L692.5,308.6 L691.3,307.7 L690.3,306.6 L690.6,305.2 L689.3,304.1 L688.8,303.0 L688.0,301.5 L686.8,300.7 L686.2,299.7 L686.0,298.3 L685.9,296.7 L686.0,295.2 L686.1,293.7 L685.6,292.2 L686.0,290.8 L685.3,289.4 L685.8,286.9 L687.2,287.4 L688.8,287.4 L689.5,288.8 L691.2,288.4 L692.2,289.3 L692.7,290.3 L694.3,290.7 L695.8,291.0 L697.0,291.5 L697.8,292.5 L697.4,294.0 L698.3,295.0 L698.1,296.8 L699.0,297.7 L698.8,299.9 L700.1,301.1 L701.0,302.1 L701.7,303.6 L702.6,305.3 L702.8,306.4 L703.2,308.0 L703.5,309.6 L703.4,310.6 L704.3,311.9 L705.2,313.2 L706.1,314.5 L707.4,315.0 L708.3,316.7 L709.2,317.6 L710.2,319.1 L711.9,319.3 L712.8,320.6 L714.3,320.8 L715.8,321.5 L715.6,322.8 L717.0,324.6 L716.5,326.2 L718.1,326.9 L719.5,327.8 L721.1,328.4 L721.9,329.5 L723.3,330.3 L724.6,331.4 L725.3,332.7 L724.9,333.6 L725.9,335.2 L725.8,336.5 L725.1,337.6 L725.4,338.9 L725.0,340.4 L726.3,342.1 L728.1,342.2 L729.7,342.5 L730.8,343.6 L732.3,343.9 L733.3,344.7 L734.1,346.1 L734.9,346.8 L735.3,348.5 L736.1,349.4 L737.0,350.2 L738.1,351.0 L738.8,352.6 L740.2,352.7 L741.1,354.2 L742.9,354.8 L743.5,356.5 L745.1,357.0 L746.2,358.2 L747.2,359.1 L748.0,359.8 L748.8,361.2 L749.6,362.4 L750.1,363.7 L751.4,364.1 L752.8,364.5 L753.5,366.2 L753.8,367.4 L754.3,369.3 L755.4,370.4 L755.7,371.4 M703.5,313.6 L702.3,312.3 L701.3,311.4 L702.1,309.7 L703.9,311.0 L703.5,313.6 M697.2,311.3 L696.2,310.1 L695.2,309.2 L694.7,308.1 L694.0,306.9 L695.1,306.9 L695.9,308.4 L697.1,309.6 L697.9,310.9 L697.2,311.3 M943.5,162.3 L944.8,161.7 L945.8,160.7 L946.8,160.5 L947.8,159.3 L949.0,158.6 L949.9,157.1 L951.0,156.0 L952.3,154.9 L953.4,153.6 L954.2,152.3 L952.4,152.9 L951.5,153.4 L950.3,155.2 L949.2,156.1 L948.2,157.1 L946.9,157.4 L945.0,158.3 L944.0,159.6 L944.0,161.0 L943.5,162.3 M969.2,85.7 L970.6,85.2 L972.4,85.2 L973.4,85.4 L974.9,85.2 L975.8,84.8 L977.5,85.1 L978.8,85.4 L980.0,85.1 L979.9,83.4 L980.6,82.1 L981.9,81.3 L981.9,80.2 L982.1,78.6 L980.3,78.7 L979.6,79.8 L978.6,80.9 L977.2,81.9 L975.9,82.6 L974.4,82.3 L973.3,82.1 L971.6,82.1 L970.4,82.1 L969.4,81.8 L970.0,83.0 L969.1,84.4 L969.2,85.7 M952.4,63.0 L954.4,63.9 L955.0,62.3 L957.0,62.6 L958.2,62.9 L959.4,62.0 L960.7,61.4 L962.5,62.2 L963.9,61.7 L964.8,60.5 L966.5,60.8 L967.6,59.6 L968.8,59.1 L967.3,58.6 L965.9,58.7 L964.5,58.3 L962.9,58.0 L961.2,58.3 L959.8,59.1 L958.5,59.5 L957.6,60.4 L956.1,60.3 L955.2,61.9 L953.6,62.3 L952.4,63.0 M939.0,341.5 L939.9,340.8 L941.7,340.8 L943.0,340.3 L944.0,341.9 L944.9,343.5 L943.3,343.2 L942.1,344.5 L940.8,344.7 L939.3,343.3 L939.0,341.5 M973.8,299.6 L975.8,299.3 L975.5,298.5 L973.8,299.6 M821.2,151.2 L822.5,151.3 L823.5,149.9 L824.8,149.9 L826.0,149.2 L827.7,147.9 L828.5,148.9 L829.7,149.9 L830.9,150.0 L832.1,148.6 L833.7,147.8 L834.9,147.0 L835.8,145.7 L836.6,145.4 L837.9,143.8 L838.0,142.3 L839.5,141.4 L840.2,140.5 L841.7,139.9 L843.5,138.9 L842.6,140.2 L841.7,141.8 L841.0,144.2 L842.4,144.2 L843.8,143.9 L845.3,143.8 L846.2,144.8 L847.8,145.9 L848.7,145.3 L850.6,146.3 L852.1,145.2 L852.7,144.2 L853.9,143.2 L855.1,142.3 L856.6,141.9 L857.7,141.2 L859.2,140.2 L860.3,139.7 L861.1,141.8 L862.4,141.6 L863.7,141.4 L864.2,140.3 L862.5,139.6 L862.2,137.9 L861.3,136.1 L860.5,134.9 L858.8,134.6 L858.6,132.9 L857.5,131.7 L856.6,130.5 L855.1,131.1 L853.6,130.9 L852.2,131.5 L851.1,130.4 L850.1,129.1 L849.2,128.3 L848.2,126.6 L847.2,126.2 L845.8,126.9 L844.3,127.0 L843.1,127.2 L841.7,127.3 L840.2,128.0 L838.8,127.1 L837.5,127.7 L837.8,129.0 L838.1,130.6 L836.6,131.5 L836.1,132.8 L835.6,134.0 L833.3,133.8 L833.1,135.8 L832.5,137.5 L831.5,138.7 L830.6,139.7 L830.0,140.9 L828.9,141.9 L828.3,142.7 L827.7,144.2 L826.7,145.1 L826.3,146.9 L824.9,147.5 L824.1,148.8 L822.7,150.3 L821.2,151.2 M834.8,138.1 L835.9,136.7 L836.7,136.1 L837.9,134.6 L836.8,135.0 L835.6,135.9 L834.5,137.3 L834.8,138.1 M859.6,185.6 L858.6,184.8 L857.7,183.6 L856.9,182.3 L855.8,181.5 L855.1,180.3 L854.5,178.4 L854.3,176.7 L853.8,174.7 L852.9,173.6 L852.3,172.0 L852.7,170.5 L852.8,168.8 L852.8,167.6 L852.7,166.3 L852.9,164.8 L852.9,163.2 L853.3,162.1 L852.1,160.7 L852.4,159.2 L852.5,157.1 L853.2,155.5 L852.8,156.9 L852.4,158.1 L851.2,159.2 L850.4,160.6 L850.2,161.8 L849.4,162.8 L849.1,162.9 L848.5,161.7 L849.3,160.3 L850.0,158.9 L850.1,157.7 L849.9,155.9 L850.5,154.2 L851.4,153.1 L851.6,151.6 L852.9,150.4 L854.3,149.4 L855.8,148.6 L857.5,147.8 L858.9,147.4 L860.0,146.9 L861.1,146.3 L862.3,145.4 L864.3,146.7 L863.1,148.7 L864.2,151.1 L862.1,151.0 L861.5,153.3 L862.1,155.1 L862.3,156.6 L860.8,157.0 L859.7,158.3 L860.4,159.6 L859.7,161.4 L860.0,162.6 L859.6,164.3 L859.4,165.5 L859.6,167.1 L860.7,168.6 L861.4,170.1 L861.8,171.3 L863.1,172.3 L863.9,174.0 L863.3,175.6 L864.3,177.2 L863.4,179.0 L864.1,180.0 L863.8,181.8 L863.1,183.2 L861.9,184.4 L859.6,185.6 M864.3,146.7 L865.4,147.1 L867.3,147.3 L868.9,148.5 L869.6,147.3 L871.4,147.8 L872.6,148.1 L873.4,149.7 L874.8,150.5 L875.1,151.4 L875.3,153.4 L875.9,154.6 L876.0,155.9 L876.0,157.2 L876.0,158.6 L875.9,160.4 L874.9,161.7 L877.2,160.9 L877.5,159.2 L878.2,158.3 L879.2,157.5 L880.8,157.6 L882.1,158.2 L882.9,159.5 L883.5,160.2 L884.1,161.7 L885.2,162.6 L885.3,164.3 L885.9,162.6 L887.4,161.8 L888.6,160.8 L889.2,159.1 L887.9,158.0 L887.3,157.0 L887.2,155.3 L886.5,154.3 L885.6,152.5 L886.8,151.2 L887.2,149.4 L887.0,147.8 L886.1,146.3 L885.1,144.8 L886.9,145.4 L888.3,146.3 L889.9,146.4 L891.3,146.6 L893.0,147.8 L894.5,147.9 L894.2,146.2 L894.9,144.1 L894.6,142.4 L892.3,142.1 L891.6,140.8 L890.2,140.4 L888.9,139.0 L887.3,138.6 L886.2,137.9 L884.8,138.3 L883.3,138.5 L881.8,138.8 L880.2,138.8 L878.8,139.6 L877.5,139.7 L875.8,139.7 L874.2,140.1 L872.7,140.3 L871.4,140.1 L870.0,140.9 L868.5,141.6 L866.6,141.7 L867.3,143.0 L868.0,143.9 L866.6,143.9 L865.3,145.3 L864.3,146.7 M872.7,143.1 L874.4,143.5 L875.7,144.1 L877.2,143.3 L878.3,143.2 L879.8,142.8 L881.5,143.0 L880.4,141.9 L879.7,140.0 L878.7,141.0 L877.0,141.0 L875.9,141.5 L874.2,142.4 L872.7,143.1 M884.7,170.9 L887.2,170.4 L886.8,168.3 L885.0,168.0 L885.1,169.6 L884.7,170.9 M789.3,126.8 L791.4,126.3 L791.6,124.3 L790.8,122.8 L791.0,121.2 L791.0,119.7 L790.1,119.1 L788.7,117.6 L788.0,116.5 L787.4,115.0 L786.1,114.2 L786.1,113.0 L785.5,111.6 L785.4,110.1 L784.3,108.7 L783.6,107.6 L783.1,106.1 L782.7,104.8 L781.0,103.7 L780.8,103.0 L779.2,102.4 L778.2,102.3 L776.2,101.5 L774.9,100.6 L774.2,102.0 L773.5,103.7 L773.6,105.0 L774.4,106.3 L775.8,106.9 L777.0,107.8 L778.2,109.4 L778.8,110.3 L778.5,111.5 L779.4,113.3 L780.5,114.3 L781.9,114.7 L783.4,115.2 L784.9,115.8 L785.4,117.6 L785.8,118.4 L787.3,119.6 L787.1,121.5 L787.7,123.0 L788.4,124.4 L789.3,126.8 M941.8,290.9 L944.2,291.6 L944.1,293.9 L941.6,293.9 L941.9,292.7 L941.8,290.9 M864.1,285.2 L866.6,285.9 L868.5,284.2 L866.0,283.4 L864.1,285.2 M921.0,97.7 L922.2,97.0 L923.5,96.2 L924.1,95.0 L922.5,93.4 L921.2,94.0 L919.8,94.4 L920.2,96.2 L921.0,97.7 M934.8,136.5 L934.5,135.1 L933.4,133.9 L932.8,132.5 L932.6,130.8 L932.3,129.8 L931.0,128.5 L930.7,127.4 L930.2,126.2" fill="none" stroke="#000" stroke-width="1.5" stroke-linejoin="round" stroke-linecap="round"/>
<path d="M924.1,346.2 L925.5,345.9 L926.2,344.0 L928.0,344.5 L929.0,343.4 L930.4,341.9 L931.7,340.7 L932.9,339.6 L932.0,337.9 L932.9,337.0 L933.9,335.6 L934.1,333.9 L935.8,333.2 L937.3,331.8 L938.5,331.2 L939.4,330.3 L941.1,329.7 L941.8,329.1 L943.5,328.4 L944.3,327.5 L945.8,328.2 L946.8,327.0 L948.1,325.8 L949.4,326.7 L950.8,325.9 L952.2,325.4 L954.1,326.1 L955.9,325.2 L957.0,325.4 L958.3,325.1 L959.8,323.8 L961.1,324.9 L961.9,325.5 L963.9,325.8 L965.5,325.8 L967.1,326.0 L968.2,327.3 L969.4,327.7 L971.3,326.6 L972.2,326.5 L973.7,325.6 L975.2,325.6 L976.5,325.4 L978.3,325.1 L979.4,325.9 L980.3,326.0 L981.7,326.4 L983.3,327.0 L984.5,327.4 L985.8,328.3 L987.3,327.8 L989.0,328.7 L990.2,328.5 L991.8,328.7 L992.2,329.7 L994.5,329.7 M924.1,346.2 L925.3,345.9 L926.3,344.2 L928.0,344.8 L929.4,343.6 L930.4,344.1 L931.7,343.6 L933.4,343.2 L934.4,341.9 L934.8,339.8 L936.2,339.8 L937.4,339.1 L938.4,338.0 L939.1,336.0 L939.6,334.7 L941.0,334.2 L941.6,333.2 L943.3,332.9 L945.3,334.9 L946.0,332.7 L946.9,333.6 L947.5,335.1 L948.7,335.7 L950.0,334.6 L951.4,334.8 L951.8,333.6 L953.5,334.5 L955.1,333.6 L956.6,334.3 L958.1,334.7 L959.6,335.2 L961.1,335.5 L962.4,335.2 L964.1,336.7 L965.1,335.5 L966.3,334.7 L967.8,334.8 L968.9,334.8 L969.6,334.2 L971.8,333.9 L973.6,335.0 L974.4,333.1 L975.8,332.8 L977.3,332.9 M706.5,212.6 L705.6,211.3 L704.7,210.5 L704.0,209.2 L703.2,208.0 L702.3,207.1 L703.0,205.6 L704.2,205.1 L705.4,206.3 L706.6,207.2 L707.0,208.9 L707.2,210.5 L706.5,212.6" fill="none" stroke="#000" stroke-width="1.6" stroke-linejoin="round" stroke-linecap="round"/>
<path d="M970.0,300.1 L971.2,300.7 L972.5,302.5 L973.3,303.2 L974.7,304.5 L974.8,305.6 L976.1,307.0 L974.9,307.4 L974.0,308.8 L972.4,308.7 L970.8,307.5 L969.7,306.5 L969.0,304.7 L969.3,303.6 L968.9,301.9 L970.0,300.1 M958.0,290.0 L959.3,289.3 L959.9,288.6 L961.9,288.6 L963.1,288.6 L964.5,287.7 L965.8,286.6 L964.7,287.0 L963.1,287.5 L961.1,287.9 L959.4,288.7 L958.0,290.0" fill="none" stroke="#000" stroke-width="2.2" stroke-linejoin="round" stroke-linecap="round"/>
<path d="M967.4,284.1 L968.8,284.6 L970.0,285.2 L971.1,285.6 L972.5,286.0 L973.8,286.9 L974.2,288.3 L973.0,290.0 L972.9,291.7 L972.0,290.0 L971.3,288.4 L969.8,287.7 L968.5,287.0 L967.7,285.2 L966.1,285.1 L967.4,284.1" fill="none" stroke="#000" stroke-width="2.0" stroke-linejoin="round" stroke-linecap="round"/>
<path d="M883.2,177.0 L884.6,177.5 L886.3,177.4 L888.2,177.8 L889.5,176.8 L891.3,176.3 L892.6,175.7 L894.2,174.9 L894.8,173.3 L896.0,172.1 L897.0,171.1 L897.9,170.0 L899.0,169.1 L900.0,168.3 L901.3,167.4 L901.6,166.5 L902.2,165.1 L903.5,164.4 L903.7,163.1 L904.7,161.9 L905.9,160.4 L906.2,159.3 L906.6,157.7 L904.9,158.6 L903.1,159.2 L902.5,160.5 L901.5,161.2 L900.5,162.7 L899.3,163.1 L898.5,163.8 L897.0,164.5 L895.0,164.3 L893.9,165.5 L892.7,166.6 L891.7,167.8 L891.0,169.3 L890.1,170.1 L888.9,171.2 L888.4,172.7 L888.4,173.6 L886.8,173.5 L884.8,174.0 L883.9,173.4 L883.9,175.2 L883.2,177.0 M899.9,156.3 L901.2,155.4 L902.7,155.2 L904.1,155.1 L905.3,154.4 L906.8,154.2 L907.7,153.2 L908.8,152.1 L910.0,151.4 L911.6,151.3 L913.3,151.1 L914.1,150.4 L915.6,149.5 L917.1,148.9 L918.0,147.6 L919.4,146.9 L919.6,145.4 L919.1,143.6 L918.2,142.2 L917.1,141.4 L915.9,140.9 L914.8,142.4 L913.5,143.9 L911.6,144.9 L910.3,145.8 L908.7,146.4 L908.0,147.5 L906.5,147.7 L905.4,148.5 L904.3,149.8 L902.3,150.7 L901.1,152.8 L901.2,154.7 L899.9,156.3" fill="none" stroke="#000" stroke-width="1.4" stroke-linejoin="round" stroke-linecap="round"/>
<path d="M782.0,129.7 L782.1,128.0 L783.0,127.0 L780.8,125.2 L780.8,125.0 L779.5,123.4 L778.2,121.7 L778.1,121.9 L777.3,119.5 L775.1,119.0 L775.1,121.2 L777.4,121.9 L777.8,123.2 L778.9,123.7 L778.2,125.8 L779.2,127.0 L780.2,127.9 L780.7,129.4 L782.0,129.7 M773.0,118.5 L770.7,117.7 L771.1,115.7 L770.9,114.6 L769.4,112.9 L768.9,112.9 L767.3,110.9 L766.1,109.3 L765.4,107.8 L766.8,107.7 L768.5,108.2 L768.3,110.1 L769.5,111.3 L771.0,112.1 L772.6,112.5 L772.7,114.7 L773.1,116.0 L773.0,118.5 M768.3,154.2 L766.6,153.0 L765.5,154.1 L763.1,153.1 L761.5,151.7 L761.3,151.2 L759.0,151.0 M777.0,178.2 L777.7,176.2 L775.7,175.5 L775.9,174.1 L774.4,172.8 L774.2,171.5 L775.9,170.0 L776.1,168.3 L775.9,166.8 L774.3,166.0 L774.2,164.4 L773.9,162.7 M740.2,152.3 L739.1,153.1 L738.7,154.4 L736.6,153.9 L735.9,154.9 L734.5,155.0 L732.6,155.9" fill="none" stroke="#000" stroke-width="2.6" stroke-linejoin="round" stroke-linecap="round"/>
<path d="M834.9,124.6 L835.7,123.4 L837.0,122.2 L836.0,120.9 L835.2,119.4 L834.5,117.7 L833.2,116.9 L831.8,117.6 L830.5,117.2 L829.8,118.7 L830.2,119.9 L830.1,121.6 L831.7,122.6 L832.6,124.4 L834.9,124.6" fill="none" stroke="#000" stroke-width="1.8" stroke-linejoin="round" stroke-linecap="round"/>
<path d="M801.8,144.7 L803.4,144.3 L804.5,143.8 L803.2,143.2 L801.8,144.7" fill="none" stroke="#000" stroke-width="2.5" stroke-linejoin="round" stroke-linecap="round"/>
<path d="M614.0,80.6 L615.4,79.6 L617.5,82.4 L616.1,82.8 L618.8,84.5 L618.5,84.7 L622.2,85.8 L622.1,85.7 L623.7,87.1 L623.5,87.5 L623.9,90.6 L623.5,91.4 L622.3,92.8 L624.9,93.1 L628.0,94.4 L625.8,96.3 L624.3,99.4 L627.4,99.9 L625.4,100.8 L627.4,102.0 L627.9,103.4 L628.7,106.5 L629.3,106.8 L630.5,107.2 L628.1,109.5 L632.0,109.9 L629.6,112.0 L630.8,113.0 L629.5,115.7 L630.1,116.4 L631.3,117.5 L633.3,118.5 L633.1,119.7 L633.0,122.1 L637.3,121.9 L636.8,122.6 L636.7,124.4 L640.5,122.7 L640.5,125.6 L639.9,127.8 L642.6,128.5" fill="none" stroke="#000" stroke-width="4.2" stroke-linejoin="round" stroke-linecap="round"/>
<path d="M642.6,128.5 L643.6,129.5 L644.7,131.7 L645.7,132.1 L647.7,132.7 L648.5,134.7 L649.9,136.7" fill="none" stroke="#000" stroke-width="2.6" stroke-linejoin="round" stroke-linecap="round"/>
<path d="M652.6,145.1 L652.4,146.4 L651.8,148.0 L652.2,149.9 L651.1,150.8 L650.1,152.1 L649.8,153.1" fill="none" stroke="#000" stroke-width="4.5" stroke-linejoin="round" stroke-linecap="round"/>
<path d="M648.1,153.2 L649.7,152.7 L650.2,151.0" fill="none" stroke="#000" stroke-width="3.0" stroke-linejoin="round" stroke-linecap="round"/>
<path d="M942.5,197.5 L942.5,196.0 L941.0,194.7 L940.4,193.6 L940.0,193.0 L940.5,190.1 L938.3,189.7 L937.2,190.0 L936.8,186.8 L936.3,185.9 L936.5,183.5 L934.6,183.0 L934.5,181.9 L933.0,179.8 L934.6,178.0" fill="none" stroke="#000" stroke-width="3.2" stroke-linejoin="round" stroke-linecap="round"/>
<path d="M934.5,189.5 L935.9,190.3 L937.7,190.0" fill="none" stroke="#000" stroke-width="2.4" stroke-linejoin="round" stroke-linecap="round"/>
<path d="M937.0,197.0 L938.5,196.9 L940.5,197.1 L941.5,196.9" fill="none" stroke="#000" stroke-width="2.2" stroke-linejoin="round" stroke-linecap="round"/>
<path d="M947.9,202.7 L950.2,203.5 L950.9,203.9 L951.6,205.9 L952.8,206.7 L953.4,208.3 L953.6,209.4 L952.2,211.3 L951.9,211.3 L951.5,212.7 L950.1,213.8 L950.2,214.7 L949.0,216.1" fill="none" stroke="#000" stroke-width="2.6" stroke-linejoin="round" stroke-linecap="round"/>
<path d="M945.5,211.4 L947.0,210.5 L949.0,210.9 L950.3,209.9" fill="none" stroke="#000" stroke-width="2.2" stroke-linejoin="round" stroke-linecap="round"/>
<path d="M869.0,289.4 L870.4,290.2 L871.7,290.4 L872.5,291.2 L873.6,293.7 L875.2,292.8 L875.3,290.9 L873.7,291.0 L872.2,290.0" fill="none" stroke="#000" stroke-width="3.0" stroke-linejoin="round" stroke-linecap="round"/>
<path d="M864.3,286.0 L866.2,285.9 L867.9,284.8" fill="none" stroke="#000" stroke-width="2.4" stroke-linejoin="round" stroke-linecap="round"/>
<path d="M858.8,292.6 L860.3,292.2 L861.0,293.3 L863.6,292.9 L864.6,294.0" fill="none" stroke="#000" stroke-width="2.2" stroke-linejoin="round" stroke-linecap="round"/>
<path d="M952.6,126.9 L953.7,125.7 L953.9,123.0 L955.5,123.2 L957.1,121.5 L955.7,119.3 L957.0,118.2 L959.1,118.0 L960.0,115.9 L960.7,114.6 L962.2,113.5 L962.6,111.7 L962.8,110.8 L962.7,107.9 L964.4,107.5" fill="none" stroke="#000" stroke-width="2.6" stroke-linejoin="round" stroke-linecap="round"/>
<path d="M831.5,297.5 L833.5,298.4" fill="none" stroke="#000" stroke-width="3.2" stroke-linejoin="round" stroke-linecap="round"/>
<path d="M821.1,308.7 L823.0,308.6 L823.9,307.4" fill="none" stroke="#000" stroke-width="2.6" stroke-linejoin="round" stroke-linecap="round"/>
<path d="M816.7,315.9 L817.3,314.5" fill="none" stroke="#000" stroke-width="2.6" stroke-linejoin="round" stroke-linecap="round"/>
<path d="M811.6,123.0 L813.3,123.3 L814.6,121.9 L816.4,121.9 L817.9,121.9" fill="none" stroke="#000" stroke-width="2.8" stroke-linejoin="round" stroke-linecap="round"/>
<path d="M809.5,138.0 L811.5,137.4 L812.7,137.2 L814.1,136.7 L815.6,137.5" fill="none" stroke="#000" stroke-width="2.6" stroke-linejoin="round" stroke-linecap="round"/>
<path d="M881.5,113.7 L883.6,113.0" fill="none" stroke="#000" stroke-width="3.0" stroke-linejoin="round" stroke-linecap="round"/>
<path d="M795.9,95.8 L797.3,95.1" fill="none" stroke="#000" stroke-width="2.6" stroke-linejoin="round" stroke-linecap="round"/>
<path d="M769.1,98.1 L770.5,97.5" fill="none" stroke="#000" stroke-width="2.6" stroke-linejoin="round" stroke-linecap="round"/>
<path d="M889.0,133.1 L891.3,132.4" fill="none" stroke="#000" stroke-width="2.4" stroke-linejoin="round" stroke-linecap="round"/>
<path d="M897.9,146.5 L898.8,145.7" fill="none" stroke="#000" stroke-width="2.4" stroke-linejoin="round" stroke-linecap="round"/>
<path d="M697.6,153.4 L697.7,152.1" fill="none" stroke="#000" stroke-width="2.4" stroke-linejoin="round" stroke-linecap="round"/>
<path d="M885.6,169.6 L886.0,169.0" fill="none" stroke="#000" stroke-width="3.0" stroke-linejoin="round" stroke-linecap="round"/>
<path d="M872.4,144.1 L873.7,143.6 L875.0,143.9 L877.1,143.4 L878.1,142.5" fill="none" stroke="#000" stroke-width="2.2" stroke-linejoin="round" stroke-linecap="round"/>
<path d="M849.3,162.4 L850.1,160.8 L851.3,160.0 L850.9,158.4" fill="none" stroke="#000" stroke-width="2.2" stroke-linejoin="round" stroke-linecap="round"/>
<path d="M861.7,155.0 L861.8,153.2" fill="none" stroke="#000" stroke-width="2.2" stroke-linejoin="round" stroke-linecap="round"/>
<path d="M840.6,143.9 L841.5,142.6 L841.9,141.4 L842.3,139.9" fill="none" stroke="#000" stroke-width="2.2" stroke-linejoin="round" stroke-linecap="round"/>
<path d="M959.6,140.6 L961.0,139.2 L962.4,141.0" fill="none" stroke="#000" stroke-width="2.2" stroke-linejoin="round" stroke-linecap="round"/>
<path d="M966.4,83.9 L964.6,83.3 L963.1,82.5 L961.9,81.6" fill="none" stroke="#000" stroke-width="2.2" stroke-linejoin="round" stroke-linecap="round"/>
<path d="M977.0,113.0 L978.3,112.3 L978.8,110.8 L979.2,109.4 L979.8,107.6 L980.3,106.6 L979.2,104.7 L981.0,104.0" fill="none" stroke="#000" stroke-width="2.4" stroke-linejoin="round" stroke-linecap="round"/>
<path d="M641.5,156.3 L640.8,158.7" fill="none" stroke="#000" stroke-width="2.4" stroke-linejoin="round" stroke-linecap="round"/>
<path d="M639.4,230.5 L640.2,231.6 L640.4,233.1" fill="none" stroke="#000" stroke-width="2.8" stroke-linejoin="round" stroke-linecap="round"/>
<path d="M856.2,86.1 L857.0,87.9 L858.1,87.5 L859.0,88.8 L859.8,89.5 L861.2,90.4 L862.6,92.0 L864.1,91.4 L865.6,92.7 L866.6,93.7 L868.7,93.5 L870.0,95.0 L871.1,94.9 L872.2,95.2 L873.9,94.7 L873.8,93.3 L875.4,92.3 L875.6,90.7 L877.4,90.8 L876.5,89.2 L876.2,87.8 L875.8,86.0 L875.4,84.6 L876.6,83.3 L875.1,82.1 L874.6,80.9" fill="none" stroke="#000" stroke-width="1.6" stroke-linejoin="round" stroke-linecap="round"/>
<path d="M906.6,104.8 L908.0,103.4 L908.8,102.8 L910.5,102.9 L911.7,102.2" fill="none" stroke="#000" stroke-width="3.0" stroke-linejoin="round" stroke-linecap="round"/>
<path d="M887.7,122.6 L889.0,123.2 L890.3,124.2 L891.2,125.2 L892.6,125.9 L893.6,126.4 L894.2,128.0 L895.4,128.5 L896.8,128.9 L898.4,129.0 L900.0,128.8 L901.8,129.6 L903.6,129.5 L904.9,129.4 L906.2,129.8 L907.7,130.4 L909.0,129.9 L910.8,130.6 L912.5,130.2 L914.0,130.4 L915.6,129.6 L916.3,128.3 L918.0,127.7 L919.2,126.0 L920.2,124.9 L922.1,125.0 L924.6,124.7" fill="none" stroke="#000" stroke-width="1.5" stroke-linejoin="round" stroke-linecap="round"/>
<path d="M902.9,82.0 L904.4,81.9 L905.7,81.5" fill="none" stroke="#000" stroke-width="2.6" stroke-linejoin="round" stroke-linecap="round"/></g>
</g>
<rect x="603.5" y="89.5" width="387.0" height="248.0" fill="none" stroke="#000" stroke-width="1" shape-rendering="crispEdges"/>
<rect x="602.50" y="349.40" width="18.11" height="12.40" fill="#fff2eb" shape-rendering="crispEdges"/>
<rect x="620.11" y="349.40" width="18.11" height="12.40" fill="#feeae0" shape-rendering="crispEdges"/>
<rect x="637.73" y="349.40" width="18.11" height="12.40" fill="#fee2d5" shape-rendering="crispEdges"/>
<rect x="655.34" y="349.40" width="18.11" height="12.40" fill="#fdd7c6" shape-rendering="crispEdges"/>
<rect x="672.95" y="349.40" width="18.11" height="12.40" fill="#fdc9b3" shape-rendering="crispEdges"/>
<rect x="690.57" y="349.40" width="18.11" height="12.40" fill="#fcbba1" shape-rendering="crispEdges"/>
<rect x="708.18" y="349.40" width="18.11" height="12.40" fill="#fcad90" shape-rendering="crispEdges"/>
<rect x="725.80" y="349.40" width="18.11" height="12.40" fill="#fc9d7f" shape-rendering="crispEdges"/>
<rect x="743.41" y="349.40" width="18.11" height="12.40" fill="#fc8f6f" shape-rendering="crispEdges"/>
<rect x="761.02" y="349.40" width="18.11" height="12.40" fill="#fc8060" shape-rendering="crispEdges"/>
<rect x="778.64" y="349.40" width="18.11" height="12.40" fill="#fb7151" shape-rendering="crispEdges"/>
<rect x="796.25" y="349.40" width="18.11" height="12.40" fill="#f96245" shape-rendering="crispEdges"/>
<rect x="813.86" y="349.40" width="18.11" height="12.40" fill="#f4503a" shape-rendering="crispEdges"/>
<rect x="831.48" y="349.40" width="18.11" height="12.40" fill="#f03f2e" shape-rendering="crispEdges"/>
<rect x="849.09" y="349.40" width="18.11" height="12.40" fill="#e53228" shape-rendering="crispEdges"/>
<rect x="866.70" y="349.40" width="18.11" height="12.40" fill="#d82422" shape-rendering="crispEdges"/>
<rect x="884.32" y="349.40" width="18.11" height="12.40" fill="#ca181d" shape-rendering="crispEdges"/>
<rect x="901.93" y="349.40" width="18.11" height="12.40" fill="#bd151a" shape-rendering="crispEdges"/>
<rect x="919.55" y="349.40" width="18.11" height="12.40" fill="#af1117" shape-rendering="crispEdges"/>
<rect x="937.16" y="349.40" width="18.11" height="12.40" fill="#9f0e14" shape-rendering="crispEdges"/>
<rect x="954.77" y="349.40" width="18.11" height="12.40" fill="#880811" shape-rendering="crispEdges"/>
<rect x="972.39" y="349.40" width="18.11" height="12.40" fill="#71020e" shape-rendering="crispEdges"/>
<line x1="603.5" y1="362.0" x2="603.5" y2="356.6" stroke="#000" stroke-width="1" shape-rendering="crispEdges"/>
<line x1="655.5" y1="362.0" x2="655.5" y2="356.6" stroke="#000" stroke-width="1" shape-rendering="crispEdges"/>
<line x1="708.5" y1="362.0" x2="708.5" y2="356.6" stroke="#000" stroke-width="1" shape-rendering="crispEdges"/>
<line x1="761.5" y1="362.0" x2="761.5" y2="356.6" stroke="#000" stroke-width="1" shape-rendering="crispEdges"/>
<line x1="814.5" y1="362.0" x2="814.5" y2="356.6" stroke="#000" stroke-width="1" shape-rendering="crispEdges"/>
<line x1="867.5" y1="362.0" x2="867.5" y2="356.6" stroke="#000" stroke-width="1" shape-rendering="crispEdges"/>
<line x1="920.5" y1="362.0" x2="920.5" y2="356.6" stroke="#000" stroke-width="1" shape-rendering="crispEdges"/>
<line x1="972.5" y1="362.0" x2="972.5" y2="356.6" stroke="#000" stroke-width="1" shape-rendering="crispEdges"/>
<rect x="603.5" y="349.5" width="387.0" height="13.0" fill="none" stroke="#000" stroke-width="1" shape-rendering="crispEdges"/>
</g>
<g transform="translate(0.00,349.00)">
<g clip-path="url(#axc)">
<rect x="601.50" y="87.90" width="389.50" height="250.40" fill="#fee9df"/>
<g shape-rendering="crispEdges"><path d="M936.7,303.5 L936.7,303.5 L918.8,290.4 L925.7,269.7 L946.1,281.4 L946.1,281.4 L963.5,294.2 L956.4,311.2 L936.7,303.5Z M804.6,323.6 L796.0,316.0 L796.0,316.0 L796.0,316.0 L788.9,306.3 L786.7,299.7 L785.8,291.2 L792.1,282.0 L808.8,297.1 L808.8,297.1 L808.8,297.1 L808.8,297.1 L808.8,297.1 L820.7,278.0 L820.7,278.0 L820.7,278.0 L820.7,278.0 L820.7,278.0 L804.0,263.3 L804.0,263.3 L804.0,263.3 L804.0,263.3 L792.1,282.0 L792.1,282.0 L777.8,283.5 L777.8,283.5 L771.2,273.8 L769.2,267.2 L770.0,260.4 L774.6,249.8 L774.6,249.8 L788.1,248.4 L788.1,248.4 L788.1,248.4 L788.1,248.4 L788.1,248.4 L788.1,248.4 L788.1,248.4 L774.6,249.8 L773.0,233.1 L773.0,233.1 L773.0,233.1 L771.3,216.5 L771.3,216.5 L771.3,216.5 L769.6,199.9 L769.6,199.9 L769.6,199.9 L773.5,189.4 L773.9,182.7 L770.4,178.9 L766.3,166.9 L766.3,166.9 L754.8,167.9 L754.8,167.9 L749.5,158.3 L748.0,151.8 L749.4,146.2 L752.8,143.2 L758.2,142.7 L758.2,142.7 L763.6,142.2 L768.9,141.5 L770.0,149.8 L776.1,153.2 L779.2,148.6 L777.7,137.6 L784.8,136.6 L788.3,135.9 L791.8,135.3 L795.4,134.7 L801.3,136.3 L808.4,143.4 L808.4,143.4 L808.4,143.4 L823.2,157.2 L823.2,157.2 L821.2,174.7 L821.4,181.6 L818.7,192.4 L811.8,183.5 L809.4,177.2 L802.5,172.9 L799.9,174.7 L791.7,180.3 L791.7,180.3 L791.7,180.3 L791.7,180.3 L791.7,180.3 L791.7,180.3 L799.0,187.6 L802.4,195.5 L803.7,200.1 L809.4,211.3 L809.4,211.3 L809.4,211.3 L812.3,227.8 L812.3,227.8 L812.3,227.8 L812.3,227.8 L812.3,227.8 L825.3,225.4 L838.3,222.7 L838.3,222.7 L838.3,222.7 L838.3,222.7 L838.3,222.7 L838.3,222.7 L822.0,208.9 L831.6,193.1 L839.0,196.5 L836.9,188.3 L834.9,180.1 L834.9,180.1 L832.9,172.0 L830.1,165.8 L823.2,157.2 L823.2,157.2 L828.3,149.0 L832.3,146.2 L836.7,147.9 L840.1,152.7 L843.5,157.6 L848.1,159.2 L853.1,159.4 L862.0,163.8 L862.0,163.8 L862.0,163.8 L862.0,163.8 L862.0,163.8 L869.4,147.9 L885.1,155.7 L885.1,155.7 L891.1,171.7 L897.0,187.8 L897.0,187.8 L897.0,187.8 L902.8,203.9 L902.8,203.9 L902.8,203.9 L902.8,203.9 L902.8,203.9 L902.8,203.9 L897.0,187.8 L909.3,183.1 L909.3,183.1 L909.3,183.1 L909.3,183.1 L909.3,183.1 L908.2,170.3 L908.8,164.7 L908.6,158.6 L911.3,154.3 L911.9,148.8 L913.5,143.9 L913.0,137.8 L915.4,133.5 L920.3,134.3 L924.7,138.6 L929.6,140.1 L932.9,141.0 L936.7,139.1 L935.8,133.0 L935.0,126.9 L937.2,122.4 L942.2,123.0 L946.9,127.0 L949.2,133.8 L949.6,145.5 L949.6,145.5 L949.6,145.5 L949.6,145.5 L951.1,157.8 L951.8,164.0 L953.7,170.9 L953.4,182.8 L953.4,182.8 L953.4,182.8 L953.4,182.8 L956.9,196.7 L957.7,200.2 L958.1,209.7 L953.2,216.7 L950.5,222.7 L950.5,231.2 L945.9,237.3 L939.9,238.3 L937.1,239.4 L931.0,239.9 L928.4,244.8 L920.0,253.1 L920.0,253.1 L920.0,253.1 L920.0,253.1 L920.0,253.1 L925.7,269.7 L914.8,265.8 L909.4,268.8 L906.3,271.3 L899.0,273.4 L895.7,275.3 L893.4,276.5 L882.0,282.6 L882.0,282.6 L882.0,282.6 L882.0,282.6 L880.9,295.7 L874.5,297.3 L870.7,300.3 L867.2,300.1 L858.8,301.9 L855.1,300.8 L851.7,302.9 L844.2,304.3 L840.6,305.9 L836.8,305.7 L829.2,307.0 L825.3,306.2 L820.3,306.9 L818.6,313.0 L818.1,320.1 L813.4,331.3 L804.6,323.6Z M636.3,234.8 L635.0,228.9 L636.4,220.6 L635.5,212.0 L645.6,202.3 L652.4,214.5 L649.1,222.5 L648.1,230.8 L645.1,236.1 L640.3,238.2 L636.3,234.8Z M751.7,245.9 L751.4,240.4 L748.9,234.9 L748.7,232.2 L745.8,218.4 L745.8,218.4 L745.8,218.4 L747.2,204.4 L747.1,201.7 L748.8,196.0 L748.5,190.5 L752.5,190.2 L756.3,187.2 L759.9,188.9 L765.0,188.4 L769.6,199.9 L769.6,199.9 L769.6,199.9 L771.3,216.5 L771.3,216.5 L771.3,216.5 L773.0,233.1 L773.0,233.1 L773.0,233.1 L774.6,249.8 L764.1,246.5 L760.8,248.2 L756.2,245.7 L751.7,245.9Z M948.8,105.7 L949.4,95.1 L959.2,99.3 L958.6,110.1 L948.8,105.7Z M955.0,306.9 L959.7,295.6 L948.1,287.1 L943.1,282.5 L926.8,273.1 L921.3,289.6 L935.6,300.1 L941.8,301.8 L955.0,306.9Z M824.4,300.5 L832.3,302.1 L832.3,302.1 L840.0,302.5 L847.1,299.4 L847.1,299.4 L854.0,295.1 L861.3,297.4 L863.0,297.1 L870.0,297.5 L876.2,292.5 L879.1,283.3 L881.2,279.3 L884.5,277.4 L890.2,274.4 L894.7,272.0 L901.4,268.2 L901.4,268.2 L907.7,263.2 L911.5,261.1 L913.0,255.4 L914.5,249.7 L918.1,247.6 L923.0,241.7 L928.0,231.7 L928.0,231.7 L928.0,231.7 L939.4,232.6 L943.7,231.9 L946.0,228.8 L946.0,224.5 L951.5,212.7 L954.7,208.0 L954.4,201.7 L952.8,194.7 L951.6,190.1 L950.2,184.3 L948.4,180.3 L945.8,167.0 L945.8,167.0 L945.8,167.0 L945.8,167.0 L944.6,154.6 L943.8,148.4 L939.3,144.3 L935.5,146.2 L928.9,144.3 L919.1,141.3 L919.1,141.3 L919.1,141.3 L916.0,151.1 L914.7,162.2 L914.7,162.2 L914.7,162.2 L914.7,162.2 L913.2,173.2 L913.4,181.4 L913.5,185.5 L912.4,191.1 L909.3,195.4 L909.2,201.5 L909.2,207.7 L905.7,212.1 L895.4,224.7 L895.4,224.7 L895.4,224.7 L895.4,224.7 L895.4,224.7 L895.4,224.7 L895.4,224.7 L898.6,205.4 L894.7,194.6 L890.8,189.9 L879.1,176.0 L879.1,176.0 L879.1,176.0 L864.6,171.8 L859.4,171.7 L850.4,167.3 L850.4,167.3 L850.4,167.3 L838.8,170.5 L843.0,186.8 L843.0,186.8 L843.0,186.8 L847.2,203.2 L847.2,203.2 L847.2,203.2 L851.3,219.6 L851.3,219.6 L855.4,236.1 L855.4,236.1 L855.4,236.1 L859.5,252.7 L873.3,249.2 L873.3,249.2 L873.3,249.2 L873.3,249.2 L873.3,249.2 L873.3,249.2 L859.5,252.7 L859.5,252.7 L859.5,252.7 L859.5,252.7 L859.5,252.7 L855.4,236.1 L842.0,239.2 L842.0,239.2 L842.0,239.2 L842.0,239.2 L836.4,226.5 L826.0,228.7 L815.5,230.7 L813.2,233.4 L806.9,237.2 L807.9,228.5 L806.0,222.0 L805.4,218.7 L803.0,212.3 L800.7,205.9 L800.2,202.6 L798.3,196.1 L796.6,192.2 L792.9,188.6 L786.9,189.4 L781.9,198.5 L781.9,198.5 L781.9,198.5 L778.2,209.0 L777.7,215.8 L779.7,222.3 L786.1,231.7 L786.1,231.7 L786.1,231.7 L786.1,231.7 L791.9,242.2 L794.9,247.5 L797.1,254.0 L802.8,254.9 L811.0,262.2 L819.3,269.6 L823.9,272.4 L825.5,277.1 L824.5,281.2 L822.1,286.4 L816.1,296.0 L819.4,301.3 L824.4,300.5Z M760.6,245.4 L767.1,242.1 L770.3,233.4 L769.7,229.7 L768.8,220.4 L768.1,216.8 L768.2,213.1 L767.2,203.9 L767.2,200.1 L762.4,192.7 L756.5,190.0 L751.4,194.0 L749.1,201.5 L749.5,207.1 L748.8,214.1 L749.0,218.2 L749.3,222.4 L750.7,229.2 L751.0,234.8 L754.4,242.1 L760.6,245.4Z M641.5,229.9 L648.2,213.9 L644.8,207.8 L639.7,212.6 L641.5,229.9Z M837.4,218.5 L847.2,203.2 L832.4,196.3 L825.2,208.2 L837.4,218.5Z M879.1,176.0 L881.3,157.1 L870.8,151.9 L865.9,162.5 L879.1,176.0Z M779.8,182.0 L779.8,182.0 L787.6,176.1 L790.8,174.9 L796.2,171.1 L796.2,171.1 L801.5,167.4 L815.3,176.1 L815.3,176.1 L820.9,157.7 L809.1,146.7 L804.5,152.7 L802.9,144.5 L799.4,141.0 L796.4,140.1 L792.9,140.8 L789.2,141.4 L785.6,142.0 L782.1,142.5 L782.9,148.0 L776.6,157.3 L764.5,150.4 L770.1,166.4 L772.8,174.5 L779.8,182.0Z" fill="#fdc6b0" fill-rule="evenodd"/>
<path d="M941.8,301.8 L935.6,300.1 L921.3,289.6 L926.8,273.1 L943.1,282.5 L948.1,287.1 L959.7,295.6 L955.0,306.9 L941.8,301.8Z M819.4,301.3 L816.1,296.0 L822.1,286.4 L824.5,281.2 L825.5,277.1 L823.9,272.4 L819.3,269.6 L811.0,262.2 L802.8,254.9 L797.1,254.0 L794.9,247.5 L791.9,242.2 L786.1,231.7 L786.1,231.7 L786.1,231.7 L786.1,231.7 L779.7,222.3 L777.7,215.8 L778.2,209.0 L781.9,198.5 L781.9,198.5 L781.9,198.5 L786.9,189.4 L792.9,188.6 L796.6,192.2 L798.3,196.1 L800.2,202.6 L800.7,205.9 L803.0,212.3 L805.4,218.7 L806.0,222.0 L807.9,228.5 L806.9,237.2 L813.2,233.4 L815.5,230.7 L826.0,228.7 L836.4,226.5 L842.0,239.2 L842.0,239.2 L842.0,239.2 L842.0,239.2 L855.4,236.1 L859.5,252.7 L859.5,252.7 L859.5,252.7 L859.5,252.7 L859.5,252.7 L873.3,249.2 L873.3,249.2 L873.3,249.2 L873.3,249.2 L873.3,249.2 L873.3,249.2 L859.5,252.7 L855.4,236.1 L855.4,236.1 L855.4,236.1 L851.3,219.6 L851.3,219.6 L847.2,203.2 L847.2,203.2 L847.2,203.2 L843.0,186.8 L843.0,186.8 L843.0,186.8 L838.8,170.5 L850.4,167.3 L850.4,167.3 L850.4,167.3 L859.4,171.7 L864.6,171.8 L879.1,176.0 L879.1,176.0 L879.1,176.0 L890.8,189.9 L894.7,194.6 L898.6,205.4 L895.4,224.7 L895.4,224.7 L895.4,224.7 L895.4,224.7 L895.4,224.7 L895.4,224.7 L895.4,224.7 L905.7,212.1 L909.2,207.7 L909.2,201.5 L909.3,195.4 L912.4,191.1 L913.5,185.5 L913.4,181.4 L913.2,173.2 L914.7,162.2 L914.7,162.2 L914.7,162.2 L914.7,162.2 L916.0,151.1 L919.1,141.3 L919.1,141.3 L919.1,141.3 L928.9,144.3 L935.5,146.2 L939.3,144.3 L943.8,148.4 L944.6,154.6 L945.8,167.0 L945.8,167.0 L945.8,167.0 L945.8,167.0 L948.4,180.3 L950.2,184.3 L951.6,190.1 L952.8,194.7 L954.4,201.7 L954.7,208.0 L951.5,212.7 L946.0,224.5 L946.0,228.8 L943.7,231.9 L939.4,232.6 L928.0,231.7 L928.0,231.7 L928.0,231.7 L923.0,241.7 L918.1,247.6 L914.5,249.7 L913.0,255.4 L911.5,261.1 L907.7,263.2 L901.4,268.2 L901.4,268.2 L894.7,272.0 L890.2,274.4 L884.5,277.4 L881.2,279.3 L879.1,283.3 L876.2,292.5 L870.0,297.5 L863.0,297.1 L861.3,297.4 L854.0,295.1 L847.1,299.4 L847.1,299.4 L840.0,302.5 L832.3,302.1 L832.3,302.1 L824.4,300.5 L819.4,301.3Z M754.4,242.1 L751.0,234.8 L750.7,229.2 L749.3,222.4 L749.0,218.2 L748.8,214.1 L749.5,207.1 L749.1,201.5 L751.4,194.0 L756.5,190.0 L762.4,192.7 L767.2,200.1 L767.2,203.9 L768.2,213.1 L768.1,216.8 L768.8,220.4 L769.7,229.7 L770.3,233.4 L767.1,242.1 L760.6,245.4 L754.4,242.1Z M639.7,212.6 L644.8,207.8 L648.2,213.9 L641.5,229.9 L639.7,212.6Z M825.2,208.2 L832.4,196.3 L847.2,203.2 L837.4,218.5 L825.2,208.2Z M865.9,162.5 L870.8,151.9 L881.3,157.1 L879.1,176.0 L865.9,162.5Z M772.8,174.5 L770.1,166.4 L764.5,150.4 L776.6,157.3 L782.9,148.0 L782.1,142.5 L785.6,142.0 L789.2,141.4 L792.9,140.8 L796.4,140.1 L799.4,141.0 L802.9,144.5 L804.5,152.7 L809.1,146.7 L820.9,157.7 L815.3,176.1 L815.3,176.1 L801.5,167.4 L796.2,171.1 L796.2,171.1 L790.8,174.9 L787.6,176.1 L779.8,182.0 L779.8,182.0 L772.8,174.5Z M953.5,302.6 L955.8,297.0 L950.0,292.7 L940.1,283.5 L927.9,276.4 L923.8,288.9 L934.5,296.7 L946.9,300.1 L953.5,302.6Z M839.4,299.1 L844.1,297.0 L852.8,289.4 L852.8,289.4 L852.8,289.4 L852.8,289.4 L863.1,294.3 L869.4,294.7 L874.0,290.9 L876.2,284.0 L880.3,275.9 L887.0,272.3 L887.0,272.3 L893.7,268.6 L898.2,266.1 L906.0,257.7 L906.0,257.7 L900.7,241.1 L900.7,241.1 L891.3,235.0 L882.1,228.8 L877.8,239.0 L880.1,247.2 L877.3,252.0 L874.4,253.3 L864.0,256.0 L860.3,256.0 L854.4,262.6 L854.9,253.7 L850.1,247.0 L843.2,244.7 L839.5,244.1 L838.7,239.9 L834.4,230.4 L826.6,232.0 L818.8,233.5 L814.2,238.9 L801.6,246.6 L817.9,261.2 L817.9,261.2 L831.8,258.7 L831.8,258.7 L831.8,258.7 L831.8,258.7 L831.8,258.7 L828.1,269.7 L830.2,276.3 L828.4,284.3 L823.5,294.9 L823.5,294.9 L834.2,298.8 L839.4,299.1Z M916.3,242.1 L918.7,239.1 L921.2,234.1 L924.9,223.5 L941.5,226.4 L941.5,226.4 L941.5,226.4 L949.7,208.7 L951.3,206.3 L951.2,203.2 L949.8,197.3 L948.8,192.7 L947.1,185.7 L943.4,177.8 L943.4,177.8 L939.7,169.9 L939.2,163.7 L938.1,151.4 L938.1,151.4 L928.1,148.5 L921.6,146.5 L919.6,153.2 L918.6,160.5 L920.1,165.2 L918.1,170.1 L917.3,175.7 L917.4,179.8 L917.6,188.0 L915.6,199.2 L915.6,199.2 L915.6,199.2 L915.5,211.5 L908.6,220.2 L908.6,220.2 L904.9,230.6 L900.7,241.1 L911.1,245.0 L916.3,242.1Z M760.4,242.6 L765.3,240.1 L767.7,233.6 L766.5,226.2 L766.3,224.4 L764.9,217.1 L765.0,209.6 L764.8,207.8 L764.7,200.4 L761.2,194.8 L756.7,192.7 L752.9,195.7 L751.2,201.4 L751.7,209.7 L751.7,209.7 L752.2,218.0 L752.7,226.3 L752.7,226.3 L753.2,234.7 L755.8,240.1 L760.4,242.6Z M801.6,246.6 L803.5,229.2 L802.2,224.6 L796.7,213.3 L791.5,222.5 L792.6,230.8 L795.6,236.1 L801.6,246.6Z M892.7,216.5 L894.3,206.9 L892.4,201.5 L884.6,192.1 L872.2,196.1 L877.2,212.4 L886.2,218.6 L892.7,216.5Z M836.5,214.4 L843.0,204.2 L833.1,199.6 L828.3,207.5 L836.5,214.4Z M876.4,167.9 L877.4,158.5 L872.2,155.9 L869.7,161.2 L876.4,167.9Z M778.8,173.8 L783.2,171.5 L785.5,171.1 L790.0,169.4 L792.7,167.5 L800.5,162.0 L786.5,147.5 L786.5,147.5 L777.2,161.4 L771.1,158.0 L773.9,166.0 L775.3,170.0 L778.8,173.8Z M814.4,172.0 L818.7,158.2 L809.8,149.9 L800.5,162.0 L814.4,172.0Z" fill="#fc9879" fill-rule="evenodd"/>
<path d="M946.9,300.1 L934.5,296.7 L923.8,288.9 L927.9,276.4 L940.1,283.5 L950.0,292.7 L955.8,297.0 L953.5,302.6 L946.9,300.1Z M834.2,298.8 L823.5,294.9 L823.5,294.9 L828.4,284.3 L830.2,276.3 L828.1,269.7 L831.8,258.7 L831.8,258.7 L831.8,258.7 L831.8,258.7 L831.8,258.7 L817.9,261.2 L817.9,261.2 L801.6,246.6 L814.2,238.9 L818.8,233.5 L826.6,232.0 L834.4,230.4 L838.7,239.9 L839.5,244.1 L843.2,244.7 L850.1,247.0 L854.9,253.7 L854.4,262.6 L860.3,256.0 L864.0,256.0 L874.4,253.3 L877.3,252.0 L880.1,247.2 L877.8,239.0 L882.1,228.8 L891.3,235.0 L900.7,241.1 L900.7,241.1 L906.0,257.7 L906.0,257.7 L898.2,266.1 L893.7,268.6 L887.0,272.3 L887.0,272.3 L880.3,275.9 L876.2,284.0 L874.0,290.9 L869.4,294.7 L863.1,294.3 L852.8,289.4 L852.8,289.4 L852.8,289.4 L852.8,289.4 L844.1,297.0 L839.4,299.1 L834.2,298.8Z M911.1,245.0 L900.7,241.1 L904.9,230.6 L908.6,220.2 L908.6,220.2 L915.5,211.5 L915.6,199.2 L915.6,199.2 L915.6,199.2 L917.6,188.0 L917.4,179.8 L917.3,175.7 L918.1,170.1 L920.1,165.2 L918.6,160.5 L919.6,153.2 L921.6,146.5 L928.1,148.5 L938.1,151.4 L938.1,151.4 L939.2,163.7 L939.7,169.9 L943.4,177.8 L943.4,177.8 L947.1,185.7 L948.8,192.7 L949.8,197.3 L951.2,203.2 L951.3,206.3 L949.7,208.7 L941.5,226.4 L941.5,226.4 L941.5,226.4 L924.9,223.5 L921.2,234.1 L918.7,239.1 L916.3,242.1 L911.1,245.0Z M755.8,240.1 L753.2,234.7 L752.7,226.3 L752.7,226.3 L752.2,218.0 L751.7,209.7 L751.7,209.7 L751.2,201.4 L752.9,195.7 L756.7,192.7 L761.2,194.8 L764.7,200.4 L764.8,207.8 L765.0,209.6 L764.9,217.1 L766.3,224.4 L766.5,226.2 L767.7,233.6 L765.3,240.1 L760.4,242.6 L755.8,240.1Z M795.6,236.1 L792.6,230.8 L791.5,222.5 L796.7,213.3 L802.2,224.6 L803.5,229.2 L801.6,246.6 L795.6,236.1Z M886.2,218.6 L877.2,212.4 L872.2,196.1 L884.6,192.1 L892.4,201.5 L894.3,206.9 L892.7,216.5 L886.2,218.6Z M828.3,207.5 L833.1,199.6 L843.0,204.2 L836.5,214.4 L828.3,207.5Z M869.7,161.2 L872.2,155.9 L877.4,158.5 L876.4,167.9 L869.7,161.2Z M775.3,170.0 L773.9,166.0 L771.1,158.0 L777.2,161.4 L786.5,147.5 L786.5,147.5 L800.5,162.0 L792.7,167.5 L790.0,169.4 L785.5,171.1 L783.2,171.5 L778.8,173.8 L775.3,170.0Z M800.5,162.0 L809.8,149.9 L818.7,158.2 L814.4,172.0 L800.5,162.0Z M933.4,293.3 L952.0,298.3 L937.2,284.5 L929.0,279.8 L926.2,288.1 L933.4,293.3Z M838.8,295.7 L841.1,294.7 L845.5,290.9 L843.8,282.4 L835.0,275.4 L833.1,288.2 L830.8,293.6 L836.2,295.6 L838.8,295.7Z M868.7,291.8 L871.8,289.3 L873.3,284.8 L879.4,272.5 L883.9,270.1 L889.4,267.1 L892.8,265.3 L895.0,264.0 L898.9,259.8 L895.5,253.6 L887.0,245.3 L887.0,245.3 L881.4,254.8 L875.5,257.5 L868.6,259.3 L861.1,259.4 L849.2,272.6 L849.2,272.6 L857.7,288.4 L864.5,291.6 L868.7,291.8Z M849.2,272.6 L850.3,254.8 L847.9,251.4 L844.4,250.3 L837.0,248.9 L838.7,257.3 L840.4,265.6 L849.2,272.6Z M830.7,253.1 L837.0,248.9 L835.3,240.6 L832.5,234.3 L827.3,235.4 L822.1,236.3 L815.1,244.4 L821.5,254.8 L830.7,253.1Z M939.3,221.0 L948.0,204.6 L948.0,204.6 L948.0,204.6 L944.8,190.6 L944.0,187.2 L942.1,183.2 L933.7,172.7 L933.7,172.7 L921.5,178.1 L921.5,178.1 L922.8,190.9 L921.9,196.6 L921.8,215.4 L921.8,215.4 L939.3,221.0Z M760.2,239.8 L763.5,238.2 L765.1,233.8 L764.1,227.8 L762.6,222.0 L761.8,217.3 L761.8,212.6 L762.3,206.6 L762.3,200.6 L759.9,196.9 L756.9,195.5 L754.4,197.5 L753.2,201.3 L753.6,206.8 L755.1,213.7 L755.4,217.8 L755.7,222.0 L755.1,229.0 L755.4,234.5 L757.1,238.2 L760.2,239.8Z M835.6,210.3 L838.8,205.2 L833.9,202.9 L831.5,206.9 L835.6,210.3Z M933.7,172.7 L932.8,160.3 L932.3,154.2 L927.3,152.7 L924.0,151.8 L923.0,155.1 L922.5,158.7 L924.6,165.4 L933.7,172.7Z M813.6,167.9 L816.4,158.7 L810.5,153.2 L804.3,161.2 L813.6,167.9Z" fill="#fb694a" fill-rule="evenodd"/>
<path d="M926.2,288.1 L929.0,279.8 L937.2,284.5 L952.0,298.3 L933.4,293.3 L926.2,288.1Z M836.2,295.6 L830.8,293.6 L833.1,288.2 L835.0,275.4 L843.8,282.4 L845.5,290.9 L841.1,294.7 L838.8,295.7 L836.2,295.6Z M864.5,291.6 L857.7,288.4 L849.2,272.6 L849.2,272.6 L861.1,259.4 L868.6,259.3 L875.5,257.5 L881.4,254.8 L887.0,245.3 L887.0,245.3 L895.5,253.6 L898.9,259.8 L895.0,264.0 L892.8,265.3 L889.4,267.1 L883.9,270.1 L879.4,272.5 L873.3,284.8 L871.8,289.3 L868.7,291.8 L864.5,291.6Z M840.4,265.6 L838.7,257.3 L837.0,248.9 L844.4,250.3 L847.9,251.4 L850.3,254.8 L849.2,272.6 L840.4,265.6Z M821.5,254.8 L815.1,244.4 L822.1,236.3 L827.3,235.4 L832.5,234.3 L835.3,240.6 L837.0,248.9 L830.7,253.1 L821.5,254.8Z M921.8,215.4 L921.8,215.4 L921.9,196.6 L922.8,190.9 L921.5,178.1 L921.5,178.1 L933.7,172.7 L933.7,172.7 L942.1,183.2 L944.0,187.2 L944.8,190.6 L948.0,204.6 L948.0,204.6 L948.0,204.6 L939.3,221.0 L921.8,215.4Z M757.1,238.2 L755.4,234.5 L755.1,229.0 L755.7,222.0 L755.4,217.8 L755.1,213.7 L753.6,206.8 L753.2,201.3 L754.4,197.5 L756.9,195.5 L759.9,196.9 L762.3,200.6 L762.3,206.6 L761.8,212.6 L761.8,217.3 L762.6,222.0 L764.1,227.8 L765.1,233.8 L763.5,238.2 L760.2,239.8 L757.1,238.2Z M831.5,206.9 L833.9,202.9 L838.8,205.2 L835.6,210.3 L831.5,206.9Z M924.6,165.4 L922.5,158.7 L923.0,155.1 L924.0,151.8 L927.3,152.7 L932.3,154.2 L932.8,160.3 L933.7,172.7 L924.6,165.4Z M804.3,161.2 L810.5,153.2 L816.4,158.7 L813.6,167.9 L804.3,161.2Z M932.3,289.9 L941.6,292.4 L934.2,285.5 L930.1,283.2 L928.7,287.3 L932.3,289.9Z M868.1,289.0 L869.6,287.8 L870.4,285.5 L878.5,269.2 L880.8,268.0 L891.8,261.9 L880.4,260.0 L876.6,261.7 L873.1,262.5 L861.9,262.7 L854.0,271.5 L858.3,279.4 L862.6,287.3 L866.0,288.9 L868.1,289.0Z M829.7,247.5 L832.8,245.5 L831.9,241.3 L830.5,238.1 L827.9,238.7 L825.3,239.2 L821.8,243.2 L825.0,248.4 L829.7,247.5Z M937.1,215.6 L941.4,207.4 L928.3,194.1 L928.4,212.8 L937.1,215.6Z M760.0,237.0 L761.6,236.2 L762.4,234.0 L761.9,231.0 L758.6,217.6 L757.4,231.6 L757.6,234.4 L758.5,236.2 L760.0,237.0Z M758.6,217.6 L759.8,203.8 L759.8,200.8 L758.6,198.9 L757.1,198.3 L755.8,199.3 L755.3,201.1 L755.5,203.9 L758.6,217.6Z M812.7,163.8 L814.1,159.2 L811.2,156.4 L808.1,160.5 L812.7,163.8Z" fill="#ea362a" fill-rule="evenodd"/>
<path d="M928.7,287.3 L930.1,283.2 L934.2,285.5 L941.6,292.4 L932.3,289.9 L928.7,287.3Z M866.0,288.9 L862.6,287.3 L858.3,279.4 L854.0,271.5 L861.9,262.7 L873.1,262.5 L876.6,261.7 L880.4,260.0 L891.8,261.9 L880.8,268.0 L878.5,269.2 L870.4,285.5 L869.6,287.8 L868.1,289.0 L866.0,288.9Z M825.0,248.4 L821.8,243.2 L825.3,239.2 L827.9,238.7 L830.5,238.1 L831.9,241.3 L832.8,245.5 L829.7,247.5 L825.0,248.4Z M928.4,212.8 L928.3,194.1 L941.4,207.4 L937.1,215.6 L928.4,212.8Z M758.5,236.2 L757.6,234.4 L757.4,231.6 L758.6,217.6 L761.9,231.0 L762.4,234.0 L761.6,236.2 L760.0,237.0 L758.5,236.2Z M755.5,203.9 L755.3,201.1 L755.8,199.3 L757.1,198.3 L758.6,198.9 L759.8,200.8 L759.8,203.8 L758.6,217.6 L755.5,203.9Z M808.1,160.5 L811.2,156.4 L814.1,159.2 L812.7,163.8 L808.1,160.5Z M867.4,286.2 L877.7,265.8 L862.7,266.0 L858.7,270.4 L867.4,286.2Z" fill="#bf151b" fill-rule="evenodd"/>
<path d="M858.7,270.4 L862.7,266.0 L877.7,265.8 L867.4,286.2 L858.7,270.4Z" fill="#8a0812" fill-rule="evenodd"/></g>
<g><path d="M648.4,138.1 L650.9,138.5 L653.5,139.0 L656.0,139.4 L658.6,139.8 L661.1,140.2 L663.7,140.5 L666.2,140.9 L668.9,141.2 L671.6,141.6 L674.3,141.9 L676.9,142.2 L679.6,142.4 L682.3,142.7 L684.6,142.9 L687.0,143.1 L689.3,143.3 L691.6,143.5 L694.0,143.6 L696.3,143.8 L698.7,143.9 L701.4,144.0 L704.1,144.2 L706.8,144.3 L709.5,144.3 L712.2,144.4 L714.9,144.4 L717.6,144.5 L720.3,144.5 L723.1,144.5 L725.8,144.4 L728.5,144.4 L731.2,144.3 L733.9,144.3 L736.6,144.2 L739.3,144.0 L741.9,143.9 L744.6,143.8 L747.2,143.6 L749.9,143.4 L752.6,143.2 L754.9,143.0 L757.3,142.8 L759.6,142.6 L762.0,142.3 L764.3,142.1 L766.7,141.8 L769.0,141.6 L771.7,141.2 L774.4,140.9 L777.1,140.5 L779.8,140.1 L782.5,139.7 L785.2,139.3 L787.8,138.9 L790.3,138.4 L792.9,138.0 L795.4,137.5 L797.9,137.0 L800.5,136.5 M640.3,159.9 L641.8,160.1 L643.4,160.4 L644.9,161.5 L646.6,162.2 L646.8,164.4 L646.8,166.1 L649.3,167.3 L651.7,166.6 L653.7,167.3 L655.6,167.9 L657.5,167.5 L659.3,167.1 L661.5,167.7 L663.4,167.1 L665.2,166.5 L666.9,166.6 L668.7,166.7 L668.8,166.3 L671.2,166.5 L673.5,166.8 L675.9,167.0 L678.3,167.3 L680.6,167.5 M682.3,142.7 L681.9,146.2 L681.6,149.8 L681.3,153.3 L680.9,156.9 L680.6,160.4 L680.2,164.0 L680.7,166.1 L680.6,167.5 M680.6,167.5 L681.7,169.2 L682.7,171.8 L681.5,174.0 L680.2,176.2 L677.8,180.1 L678.6,181.9 L679.4,182.8 L678.3,185.6 L678.0,189.3 L677.7,193.0 L677.3,196.8 L677.0,200.5 M632.9,194.6 L635.6,195.0 L638.3,195.5 L641.1,196.0 L643.8,196.4 L646.5,196.8 L649.5,197.3 L652.6,197.7 L655.7,198.1 L658.7,198.5 L661.8,198.9 L664.8,199.3 L667.9,199.6 L670.9,199.9 L674.0,200.2 L677.0,200.5 L680.1,200.8 L683.1,201.0 L686.2,201.2 L689.3,201.4 L692.4,201.6 L695.4,201.8 L698.5,201.9 L701.6,202.0 L704.6,202.2 L707.7,202.2 L710.8,202.3 L713.9,202.4 M658.7,198.5 L658.2,202.7 L657.7,206.8 L657.2,210.9 L656.7,215.1 L656.1,219.2 L655.6,223.4 L658.4,226.8 L661.3,230.2 L664.1,233.5 L667.0,236.9 L670.0,240.2 L673.0,243.6 L676.0,246.9 L679.1,250.2 L682.2,253.4 L685.3,256.7 L688.5,260.0 M695.4,201.8 L695.2,205.9 L695.0,210.1 L694.8,214.2 L694.6,218.4 L694.3,222.5 L694.1,226.7 L693.9,230.9 L693.7,235.0 L693.5,239.2 L693.3,243.4 M693.3,243.4 L693.1,246.8 L693.0,250.1 L690.6,250.4 L688.2,250.7 L688.3,254.9 L689.0,258.7 L688.5,260.0 M688.5,260.0 L688.8,261.7 L690.0,264.7 L691.6,266.0 L689.4,267.8 L688.2,270.6 L687.0,273.4 L688.3,276.6 L686.8,279.1 M687.6,143.2 L687.2,147.3 L686.9,151.4 L687.6,153.9 L688.4,156.3 L690.4,158.4 L692.4,160.5 L694.0,161.9 L695.7,163.2 L695.3,166.1 L695.0,169.0 L694.6,171.8 L697.5,171.2 L698.8,173.9 L700.2,176.7 L701.4,179.2 L702.6,181.8 L704.5,181.6 L706.5,181.5 L709.1,180.7 L711.8,179.9 L714.1,181.6 M714.2,177.5 L714.1,181.6 L714.1,185.8 L714.0,189.9 L714.0,194.1 L713.9,198.2 L713.9,202.4 L713.8,206.5 L713.8,210.7 M714.2,177.5 L716.7,177.5 L719.3,177.5 L721.8,177.5 L724.4,177.5 L726.9,177.5 L729.5,177.5 L732.0,177.4 L734.9,177.3 L737.8,177.2 L740.7,177.1 L743.6,176.9 L746.5,176.8 L749.4,176.6 L752.3,176.4 L755.1,176.2 M752.6,143.2 L752.9,146.8 L753.1,150.4 L753.4,154.0 L753.7,157.6 L754.0,161.2 L754.3,164.8 L754.5,168.4 L754.8,172.3 L755.1,176.2 L755.5,180.3 L755.8,184.5 L756.1,188.6 L756.4,192.8 L756.7,196.9 L757.0,201.0 L757.3,205.2 L757.6,209.3 M713.8,210.7 L716.9,210.7 L720.0,210.7 L723.2,210.7 L726.3,210.7 L729.0,210.6 L731.8,210.6 L734.5,210.5 L737.2,210.4 L740.0,210.3 L742.7,210.2 L745.4,210.1 L748.5,209.9 L751.5,209.7 L754.6,209.5 L757.6,209.3 L760.8,209.1 L763.9,208.8 L767.0,208.5 L770.2,208.2 M726.3,210.7 L726.3,214.8 L726.4,219.0 L726.4,223.2 L726.5,227.3 L726.5,231.5 L726.6,235.7 L726.6,239.8 L726.7,244.0 L726.7,248.0 L726.8,251.9 L726.8,255.9 L726.9,259.9 L726.9,263.8 L727.0,267.8 L727.0,271.8 L727.0,275.8 L727.1,279.8 L727.1,283.8 L727.2,287.8 L727.2,291.8 M693.3,243.4 L696.2,243.5 L699.1,243.7 L702.0,243.8 L704.9,243.9 L707.8,243.9 L710.7,244.0 L713.7,244.0 L716.9,244.1 L720.2,244.1 L723.4,244.1 L726.7,244.0 L729.6,244.0 L732.5,243.9 L735.4,243.9 L738.3,243.8 L741.2,243.7 L744.2,243.6 L747.1,243.4 L750.4,243.2 L753.7,243.1 L757.1,242.8 L760.4,242.6 L763.8,242.4 L767.1,242.1 L770.3,241.8 L773.4,241.5 L776.3,241.2 L779.2,240.9 L782.1,240.6 L785.0,240.3 L788.0,239.9 L790.9,239.6 L793.8,239.2 L797.1,238.7 L800.4,238.2 L803.7,237.7 L807.1,237.2 L810.4,236.7 L813.5,236.2 L816.6,235.6 L819.7,235.1 L822.8,234.5 M770.2,208.2 L770.6,212.4 L771.0,216.5 L771.4,220.7 L771.8,224.8 L772.2,229.0 L772.6,233.2 L773.0,237.3 L773.4,241.5 M771.0,216.5 L773.8,216.3 L776.5,216.0 L779.3,215.6 L782.1,215.3 L784.8,215.0 L787.6,214.6 L790.4,214.2 L793.5,213.8 L796.7,213.3 L799.9,212.8 L803.1,212.3 L805.7,211.9 L808.4,211.4 L811.1,211.0 L813.8,210.5 M767.1,242.1 L767.4,246.3 L767.2,246.3 L767.5,250.5 L767.9,254.7 L768.2,258.9 L768.5,263.1 L768.8,267.3 L769.2,271.5 L769.5,275.7 L769.8,279.9 L770.2,284.1 L767.0,284.4 L763.8,284.6 L760.6,284.8 L757.4,285.0 L754.2,285.2 L751.0,285.4 L747.8,285.5 L744.6,285.7 L745.3,287.5 M767.4,246.3 L770.8,246.0 L774.2,245.7 L777.5,245.3 L780.9,245.0 L784.2,244.6 L787.6,244.2 L788.1,248.2 L788.6,252.3 L789.1,256.4 L789.6,260.4 L791.8,261.5 L795.3,261.7 L797.2,262.5 L799.7,262.6 L803.2,262.3 L804.5,264.3 L807.2,264.4 L809.9,264.6 L811.7,262.6 L814.0,263.3 L816.8,262.7 L819.5,262.2 L821.5,261.4 L823.6,260.6 L826.3,261.5 L829.0,262.3 M829.0,262.3 L828.4,258.6 L827.8,254.9 L827.2,251.2 L826.6,247.5 L825.6,244.6 L824.6,241.6 L823.6,238.6 L822.8,234.5 M822.8,234.5 L822.2,231.0 L821.5,227.4 L820.9,223.9 L820.2,220.4 L819.6,216.9 L816.7,213.8 L816.7,211.4 L813.8,210.5 M813.8,210.5 L811.9,208.3 L810.1,206.0 L809.3,203.6 L808.6,201.2 L806.3,197.4 L804.0,193.5 L803.0,191.2 M803.0,191.2 L801.3,190.6 L799.4,189.9 L797.4,189.1 L795.6,189.8 L793.8,190.4 L791.9,189.7 L789.9,189.0 L786.9,189.5 L783.9,189.9 L780.9,190.3 L777.9,190.6 L774.9,191.0 L772.2,191.3 L769.6,191.6 L766.9,191.8 L764.3,192.1 L761.7,192.3 L759.0,192.5 L756.4,192.8 M803.0,191.2 L802.3,188.7 L801.5,186.3 L801.6,182.9 L800.9,179.2 L800.3,175.5 L799.6,171.8 L799.0,168.2 L796.2,166.1 L797.3,163.0 M754.5,168.4 L757.1,168.2 L759.7,168.0 L762.3,167.8 L764.9,167.5 L767.5,167.3 L770.0,167.0 L772.6,166.7 L775.2,166.4 L777.8,166.0 L780.6,165.7 L783.4,165.3 L786.1,164.9 L788.9,164.4 L791.7,164.0 L794.5,163.5 L797.3,163.0 M797.3,163.0 L796.7,160.1 L795.7,157.8 L794.7,155.4 L794.0,152.5 L793.4,149.7 L792.1,147.4 L790.9,145.1 L790.1,141.8 L789.3,138.6 M801.6,182.9 L804.5,182.4 L807.4,181.9 L810.3,181.3 L813.2,180.7 L816.1,180.1 L818.9,179.6 L821.6,179.0 L824.4,178.4 L827.1,177.7 L829.9,177.1 L832.6,176.4 M810.0,206.2 L812.8,205.7 L815.7,205.2 L818.5,204.6 L821.3,204.1 L824.2,203.5 L826.9,202.8 L829.7,202.2 L832.4,201.5 L835.2,200.8 L837.5,202.2 M823.6,238.6 L826.5,238.1 L829.3,237.5 L832.1,237.0 L834.9,236.4 L837.8,235.8 L840.9,235.1 L844.0,234.4 L847.2,233.7 L850.3,232.9 L853.4,232.2 L852.9,236.7 L855.2,236.1 L857.4,235.6 M833.1,267.1 L835.8,266.6 L838.5,266.0 L841.2,265.5 L843.9,264.9 L847.1,264.3 L850.2,263.6 L853.3,262.9 M833.1,267.1 L832.7,264.8 L832.2,262.5 L829.0,262.3 M833.1,267.1 L833.9,271.3 L834.7,275.5 L837.1,278.5 L839.5,281.6 L839.3,284.7 L839.2,287.7 L840.0,291.1 L839.7,294.7 M867.4,277.3 L864.0,278.1 L860.6,278.9 L857.1,279.7 L853.7,280.4 M853.7,280.4 L853.9,276.9 L854.3,275.0 L855.8,270.3 L856.4,267.9 L854.2,266.2 L853.3,262.9 M853.3,262.9 L852.3,259.6 L852.6,256.0 L852.9,252.5 L854.2,247.8 L855.4,244.9 M855.4,244.9 L856.0,241.2 L856.6,238.0 L857.4,235.6 L857.9,233.3 L857.6,231.1 L859.4,229.4 L859.0,226.4 M859.0,226.4 L856.0,224.5 L855.4,222.0 L852.5,220.2 L849.6,218.3 L848.3,216.8 L848.8,214.5 L848.8,212.8 L846.2,212.6 L844.4,210.8 L841.6,208.9 L838.8,207.0 L837.4,203.8 L837.5,202.2 M837.5,202.2 L838.9,199.1 L839.2,196.4 L837.8,194.6 L839.8,192.8 L841.8,191.0 L842.3,187.9 L841.5,185.9 L838.1,183.7 M838.1,183.7 L835.0,182.3 L833.8,179.6 L832.6,176.4 M832.6,176.4 L831.5,173.7 L829.2,172.3 L827.1,170.9 L824.2,169.4 L821.0,168.4 L820.6,166.1 L820.2,163.9 L818.7,160.8 L820.0,158.8 L821.3,156.7 L820.8,154.4 L820.2,152.1 L821.7,151.5 M867.4,277.3 L867.4,280.4 L870.0,284.0 M869.7,241.2 L870.6,241.9 L871.3,246.1 L871.9,250.4 L872.6,254.7 L873.3,259.0 L873.9,263.2 L874.6,267.5 L875.5,270.7 L876.5,274.0 L877.4,277.2 L878.4,280.4 M887.3,236.2 L888.9,239.6 L890.5,242.9 L892.2,246.3 L893.8,249.6 L895.5,253.0 L897.0,255.1 L898.5,257.2 L899.0,260.3 L899.5,263.3 L900.5,265.7 L901.4,268.2 M901.4,268.2 L898.3,269.1 L895.2,270.0 L892.1,270.9 L889.0,271.8 L885.9,272.6 L882.7,273.4 L883.1,274.7 L885.0,276.0 L885.4,279.0 M901.4,268.2 L903.2,270.4 L906.4,269.6 L909.6,268.8 L912.9,268.0 L916.1,267.2 L919.3,266.3 L922.5,265.5 L924.3,266.8 L923.9,263.3 L927.6,262.4 M855.4,244.9 L858.3,244.2 L861.1,243.5 L864.0,242.7 L866.8,242.0 L869.7,241.2 L872.6,240.4 L875.5,239.6 L878.5,238.8 L881.4,238.0 L884.3,237.1 L887.3,236.2 L890.2,235.4 L893.0,234.5 L895.9,233.6 L898.6,232.7 L901.4,231.8 L904.1,230.9 M858.3,231.0 L861.2,230.2 L864.2,229.4 L867.2,228.6 L866.8,227.1 L869.6,226.5 L872.3,225.7 L875.1,225.0 L877.8,224.3 L880.5,223.6 L883.6,222.7 L886.7,221.8 L889.8,220.9 L892.8,220.0 L895.9,219.1 L899.2,218.0 L902.5,216.9 L905.7,215.8 L909.0,214.6 M895.9,233.6 L896.7,229.7 L898.3,228.4 L899.9,227.1 L901.4,224.9 L902.8,222.7 L904.5,221.2 L906.3,220.3 L908.0,219.5 L909.0,214.6 M909.0,214.6 L912.0,213.6 L914.9,212.6 L917.8,211.6 L920.8,210.5 L923.7,209.4 L926.6,208.4 L929.5,207.2 L932.4,206.0 L935.3,204.8 L938.2,203.6 L941.1,202.4 L944.0,201.1 L946.8,199.8 M904.1,230.9 L906.4,229.2 L908.6,227.5 L911.5,226.7 L914.5,225.8 L917.4,224.9 L917.7,225.7 L918.4,225.0 L920.2,226.9 L922.7,226.0 L925.2,225.2 L927.7,224.3 L931.2,225.9 L934.7,227.5 L938.2,229.0 M904.1,230.9 L903.3,233.9 L907.0,235.0 L910.8,238.3 L913.4,239.4 L916.1,240.6 L920.7,243.6 L922.5,246.7 L925.7,250.2 L927.8,250.1 M895.9,219.1 L897.5,217.4 L899.0,215.8 L900.9,213.3 L902.8,210.8 L904.4,207.6 M904.4,207.6 L907.3,207.9 L910.2,208.1 L912.7,206.0 L915.2,203.9 L915.6,199.2 L915.8,196.5 L916.1,193.9 L919.2,193.5 L920.1,189.9 L920.8,186.8 L921.4,183.8 L923.5,184.2 L925.5,184.6 L925.5,182.8 M904.4,207.6 L900.7,206.1 L898.4,203.7 L897.9,201.9 M897.9,201.9 L899.8,199.5 L899.2,197.9 L901.5,195.3 L901.2,193.5 L903.7,190.8 L905.0,187.5 L905.0,182.9 L903.4,180.0 L904.1,179.2 M897.9,201.9 L894.4,200.3 L892.5,201.4 L890.6,202.5 L888.6,202.4 L886.6,202.3 L883.9,200.4 L881.9,201.1 M881.9,201.1 L882.2,203.9 L880.6,204.7 L878.9,205.6 L878.7,209.3 L877.8,212.2 L874.9,211.8 L874.1,214.0 L872.4,215.1 L870.6,216.2 L867.0,215.9 L865.1,217.9 L864.4,217.9 M864.4,217.9 L864.8,220.4 L862.7,221.9 L863.1,224.7 L861.0,225.5 L859.0,226.4 M864.4,217.9 L864.2,214.4 L865.9,209.5 L865.0,206.9 L864.2,204.3 L863.0,200.3 L861.9,196.4 L860.8,192.5 L859.6,188.6 L858.5,184.6 M881.9,201.1 L880.8,197.6 L879.6,194.1 L878.5,190.5 L877.4,187.0 L876.2,183.5 L875.1,180.0 M862.8,183.4 L865.3,182.7 L867.7,182.1 L870.2,181.4 L872.6,180.7 L875.1,180.0 L877.8,179.0 L880.5,178.0 L883.2,177.0 M904.1,179.2 L902.7,175.6 L901.3,172.0 L899.9,168.4 L898.9,165.8 M904.1,179.2 L905.5,182.9 L907.0,186.6 L909.1,185.8 L911.2,184.9 L913.4,184.1 L916.4,182.8 L919.5,181.6 L922.5,180.3 L925.5,179.0 L928.1,177.9 L930.8,176.7 L933.4,175.6 L936.0,174.4 M913.4,184.1 L914.2,186.1 L915.0,188.2 L916.5,185.1 L918.3,183.2 L920.1,182.4 L921.4,181.2 L923.9,180.8 L925.5,182.8 M925.5,182.8 L927.7,183.9 L930.6,184.3 L931.5,185.1 L931.6,188.9 L933.8,188.9 L936.6,189.6 L939.3,190.3 M936.0,174.4 L937.7,177.6 L939.4,180.9 L941.1,184.1 L943.1,183.2 L945.2,182.3 M936.0,174.4 L936.7,173.0 L937.9,172.7 M937.9,172.7 L939.3,170.6 L940.7,168.0 L937.9,166.9 L936.1,165.4 L935.6,162.7 L936.5,158.5 M936.5,158.5 L939.5,158.7 L942.5,158.9 M936.5,158.5 L933.5,157.5 L930.2,155.2 L927.7,156.4 L925.2,157.5 L922.7,158.7 L920.2,159.8 L917.7,160.9 L915.0,162.1 L912.4,163.2 L909.7,164.4 L907.0,165.5 L904.4,166.6 L903.5,164.4 M944.0,158.2 L944.2,156.1 L943.4,155.5 L942.1,152.6 L940.8,149.6 L940.1,146.5 L939.3,143.5 L937.8,140.3 L936.3,137.2 L935.2,137.3 L934.2,134.9 L933.1,132.5 L931.5,129.4 L929.9,126.3 M940.8,149.6 L943.3,148.4 L945.7,147.2 L948.2,146.0 L950.7,144.7 L953.1,143.4 L953.6,144.4 L955.5,145.5 L956.7,146.6 M950.7,144.7 L952.0,147.1 L953.2,149.5 L953.3,150.3 M939.3,143.5 L941.7,142.3 L944.0,141.2 L946.2,140.1 L948.5,139.1 L950.7,137.9 L950.8,137.5 L951.7,135.7 L952.7,135.2 M944.0,141.2 L943.0,138.9 L942.0,136.7 L941.6,133.4 L941.1,130.2 L940.0,127.9 L941.5,125.1 L939.9,121.0 M952.5,133.3 L949.7,131.8 L947.5,128.2 L945.3,124.6 L943.1,121.0 L940.9,117.4 M830.9,150.3 L833.0,151.7 L835.1,151.7 L837.2,151.8 L839.2,151.9 L842.3,152.0 L845.4,152.1 L846.9,154.1 L848.4,156.1 L850.1,157.7 M838.1,183.7 L840.6,183.1 L843.0,182.5 L845.5,181.8 L847.9,181.1 L850.3,180.5 L852.7,179.8 L855.1,179.1 L857.5,178.4 L859.8,177.7 M850.1,157.7 L852.0,155.8 L853.9,153.9 L855.7,154.1 L857.4,154.2 L857.3,158.4 L857.2,162.6 L857.1,166.2 L856.9,169.8 L858.3,173.8 L859.8,177.7 L860.2,180.9 L860.5,184.1 L858.5,184.6 M860.5,184.1 L862.8,183.4 M698.3,143.9 L696.7,141.3 L695.2,138.7 L695.6,135.9 L696.1,133.0 L694.3,131.2 L692.6,129.4 L691.0,127.3 L689.3,125.0 L687.0,121.5 L684.8,118.0 L682.8,116.7 L680.9,115.4 L679.1,114.1 L678.3,111.5 L677.6,108.9 L675.6,106.4 L673.6,104.0 L671.6,101.5 L672.1,97.8 L672.6,94.2 L673.1,90.6 L673.6,87.0 L674.1,83.4 M720.3,144.5 L720.3,140.3 L720.3,136.2 L720.3,132.1 L720.3,128.0 L720.3,123.8 L720.3,119.7 L720.3,115.6 L720.3,111.4 L720.3,107.3 L720.3,103.2 L720.3,99.0 L720.3,94.9 L720.3,90.7 L720.3,86.6 M767.1,141.8 L766.4,137.7 L765.8,133.6 L765.1,129.5 L764.5,125.4 L763.7,121.3 L763.0,117.3 L762.3,113.2 L761.6,109.1 L760.9,105.3 L760.2,101.5 L759.5,97.6 L758.9,93.8 L758.2,90.0 L757.5,86.2 L757.2,82.9 L756.8,79.6 L756.4,76.3 M799.9,133.4 L799.1,129.4 L798.3,125.4 L797.4,121.4 L796.6,117.4 L795.8,113.3 L795.0,109.3 L794.2,105.3 L795.9,102.6 L797.6,99.8 L799.2,97.0 L800.9,94.2 L802.5,91.4 L804.0,88.6 L805.6,85.8 L807.0,82.9 L808.4,80.0 L809.8,77.1 L811.1,74.2 L812.5,71.3 L813.7,68.3 L815.0,65.4 M865.4,72.0 L867.2,75.9 L868.9,79.7 L870.6,83.6 L872.3,87.5 L874.1,91.4 L875.8,95.2 L877.4,99.1 L879.1,102.9 L880.8,106.8 L882.5,110.6 L884.1,114.5 L885.8,118.3 L887.5,122.2 L890.0,123.4 L893.0,125.9 L896.5,127.4 L900.0,128.8 L902.5,129.1 L904.9,129.4 L906.6,128.9 L908.3,128.3 L912.5,130.2 L915.6,129.6 L917.4,127.8 L919.2,126.0 L922.0,124.8 L923.7,127.6 L923.5,129.1 M942.7,96.2 L943.8,94.2 L944.8,92.3 L944.2,89.1 L945.4,87.8 L946.7,86.5 L948.7,85.7 L950.6,85.0 L952.6,82.6 M974.5,89.6 L973.7,91.2" fill="none" stroke="#000" stroke-width="0.9" stroke-linejoin="round"/>
<path d="M688.9,319.5 L692.3,319.6 L695.7,319.8 L699.1,319.9 M733.3,291.7 L731.7,294.6 L730.1,297.6 L728.4,300.5 L729.2,304.2 L730.0,307.9 L730.8,311.6 L729.3,314.6 L727.9,317.6 L729.8,320.6 L731.8,323.6 L730.3,326.2 L728.8,328.8 L730.3,331.3 L731.9,333.9 M724.6,331.4 L728.2,332.6 L731.9,333.9 M731.9,333.9 L734.7,335.5 L737.4,337.2 L740.5,337.1 L743.6,337.0 L745.7,339.6 L747.7,342.1 L745.9,345.2 L744.0,348.3 L747.3,351.2 L750.5,354.1 L752.3,357.1 L754.0,360.1 L755.7,362.6 L757.5,365.2 M743.6,337.0 L747.4,333.9 L751.1,330.7 L754.2,330.6 L757.3,330.4 L760.4,331.1 L763.5,331.8 L767.3,329.8 M767.3,329.8 L767.8,325.9 L768.3,322.0 L767.2,317.7 L766.2,313.5 L769.4,311.8 L772.7,310.0 M767.3,329.8 L769.8,333.5 L772.4,337.2 L774.6,340.1 L776.8,343.0 L778.2,345.5 L779.6,348.0 L783.4,346.4 L787.2,344.7 M799.4,319.1 L797.0,321.9 L794.7,324.8 L793.1,328.0 L791.4,331.2 L793.6,333.6 L795.9,336.0 L794.2,338.8 L792.5,341.6 L795.1,343.9 L791.2,344.3 L787.2,344.7 M800.9,321.5 L802.3,325.7 L803.8,329.9 L804.6,333.3 L805.4,336.7 L804.2,339.9 L803.0,343.1 L802.2,346.7 L801.4,350.3 L802.6,353.7 L803.8,357.1 L800.5,357.4 M787.2,344.7 L786.0,348.3 L784.7,351.9 L782.1,354.4 L779.5,356.8 L776.3,357.0 L773.1,357.2 L769.9,357.5 L768.2,362.0 L766.4,366.4 M795.1,343.9 L796.5,347.3 L797.8,350.7 L799.2,354.0 L800.5,357.4 L804.8,359.2 L809.1,360.9" fill="none" stroke="#000" stroke-width="0.6" stroke-linejoin="round"/>
<path d="M648.4,138.1 L650.9,138.5 L653.5,139.0 L656.0,139.4 L658.6,139.8 L661.1,140.2 L663.7,140.5 L666.2,140.9 L668.9,141.2 L671.6,141.6 L674.3,141.9 L676.9,142.2 L679.6,142.4 L682.3,142.7 L684.6,142.9 L687.0,143.1 L689.3,143.3 L691.6,143.5 L694.0,143.6 L696.3,143.8 L698.7,143.9 L701.4,144.0 L704.1,144.2 L706.8,144.3 L709.5,144.3 L712.2,144.4 L714.9,144.4 L717.6,144.5 L720.3,144.5 L723.1,144.5 L725.8,144.4 L728.5,144.4 L731.2,144.3 L733.9,144.3 L736.6,144.2 L739.3,144.0 L741.9,143.9 L744.6,143.8 L747.2,143.6 L749.9,143.4 L752.6,143.2 L754.9,143.0 L757.3,142.8 L759.6,142.6 L762.0,142.3 L764.3,142.1 L766.7,141.8 L769.0,141.6 L771.7,141.2 L774.4,140.9 L777.1,140.5 L779.8,140.1 L782.5,139.7 L785.2,139.3 L787.8,138.9 L790.3,138.4 L792.9,138.0 L795.4,137.5 L797.9,137.0 L800.5,136.5 L799.9,133.4 L801.7,133.6 L802.9,136.0 L803.9,138.2 L806.2,138.5 L808.5,138.7 L810.6,137.9 L812.7,137.2 L814.6,137.9 L816.4,138.6 L819.2,139.2 L821.9,139.8 L823.6,138.5 L825.3,137.3 L827.6,137.4 L829.9,137.5 L832.3,137.5 L833.7,137.4 L836.0,135.3 L838.3,133.2 L841.5,134.0 L844.6,134.8 L847.8,135.6 L851.1,136.3 L854.3,137.0 L857.5,137.7 L860.8,138.4 L863.7,141.4 L866.0,140.1 L868.0,143.0 L871.0,142.8 L870.7,144.6 L873.7,145.9 L876.8,147.3 L879.8,148.6 L881.7,152.2 L883.6,155.7 L885.5,159.2 L885.6,161.9 L885.6,164.6 L886.3,168.0 L884.9,170.6 L883.7,171.7 L884.2,173.8 L885.1,175.2 L887.4,175.2 L889.6,175.2 L891.4,172.9 L893.2,170.7 L894.9,168.4 L897.1,166.7 L899.2,164.9 L901.3,163.2 L903.1,161.4 L904.8,159.7 L906.5,158.0 L905.7,158.1 L904.3,154.8 L902.9,153.7 L905.1,151.1 L907.9,149.9 L910.6,148.7 L913.3,147.5 L916.0,146.3 L916.2,141.7 L917.8,138.6 L918.9,135.8 L919.9,133.0 L921.2,131.5 L922.6,130.1 L925.0,128.8 L927.5,127.6 L929.9,126.3 L932.4,125.0 L934.9,123.7 L937.5,122.3 L939.9,121.0 L939.6,119.1 L940.9,117.4 L942.4,117.1 L942.0,115.8 L942.6,112.0 L941.6,108.5 L941.6,106.0 L941.4,102.5 L941.3,99.0 L941.1,95.5 L942.7,96.2 L943.9,96.5 L945.1,94.9 L946.2,93.4 L950.1,94.0 L951.8,96.7 L953.6,99.5 L955.4,102.2 L958.7,103.8 L960.8,106.6 L962.4,106.1 L965.0,108.1 M669.6,279.6 L673.0,279.5 L676.5,279.4 L679.9,279.4 L683.4,279.3 L686.8,279.1 L686.0,281.0 L689.3,282.4 L692.6,283.8 L695.9,285.2 L699.2,286.5 L702.5,287.9 L705.9,289.2 L709.2,290.5 L712.6,291.8 L715.5,291.8 L718.4,291.8 L721.4,291.8 L724.3,291.8 L727.2,291.8 L730.3,291.7 L733.3,291.7 L733.2,287.9 L736.3,287.8 L739.3,287.7 L742.3,287.6 L745.3,287.5 L746.4,287.9 L749.9,290.7 L753.4,293.5 L756.9,296.3 L758.1,298.7 L759.4,301.1 L761.1,304.8 L763.8,306.3 L766.5,307.7 L769.0,308.8 L771.5,309.9 L773.1,306.5 L774.6,303.1 L777.2,301.7 L780.6,301.8 L783.9,302.0 L786.9,304.6 L789.9,307.1 L791.7,310.4 L793.4,313.7 L796.8,316.7 L800.3,319.8 L801.2,324.1 L802.8,326.5 L804.5,328.9 L808.1,330.0 L811.8,331.0 L814.0,331.6 L816.3,332.2 L820.0,330.7" fill="none" stroke="#000" stroke-width="0.9" stroke-linejoin="round"/>
<path d="M612.5,77.5 L612.8,78.9 L614.5,79.3 L615.7,79.9 L616.1,80.8 L617.2,82.4 L618.4,82.9 L619.7,83.6 L620.4,85.0 L621.5,85.5 L622.8,86.8 L622.6,88.2 L622.9,89.1 L622.3,91.0 L623.3,92.2 L624.7,93.9 L625.1,94.7 L626.2,96.5 L626.5,97.2 L626.0,99.1 L627.1,100.7 L626.9,101.8 L628.5,102.9 L629.4,103.9 L629.5,105.9 L630.0,108.0 L628.5,109.2 L629.3,111.0 L628.9,112.4 L629.0,113.7 L629.3,115.3 L630.6,115.5 L631.5,118.1 L632.3,118.6 L633.3,119.6 L634.2,121.4 L635.9,121.6 L637.0,122.5 L638.0,123.2 L639.6,123.7 L640.1,125.0 L640.9,126.4 L641.3,126.8 L642.1,128.4 L643.6,129.9 L644.5,130.6 L645.7,132.1 L647.1,132.6 L648.1,134.2 L649.5,135.7 L649.6,137.9 L651.3,138.6 L652.4,140.9 L651.5,143.3 L652.1,144.5 L652.7,146.4 L651.6,147.5 L651.9,149.4 L651.7,150.5 L650.5,151.5 L650.7,153.2 L649.1,153.5 L648.0,154.0 L648.5,152.8 L649.6,151.0 L650.7,149.3 L651.0,147.8 L649.9,145.8 L648.0,145.5 L647.0,144.9 L645.5,144.8 L644.0,144.3 L642.3,143.4 L641.5,141.8 L639.8,141.7 L639.4,143.2 L639.6,144.4 L639.5,145.7 L640.0,147.4 L638.7,149.5 L639.9,150.9 L640.6,152.5 L641.0,154.5 L640.9,156.6 L640.9,158.3 L640.2,159.7 L640.0,160.9 L640.3,162.8 L639.7,164.3 L639.6,166.1 L638.6,167.3 L638.2,168.5 L638.7,170.1 L638.2,171.9 L637.6,173.3 L636.7,175.0 L637.4,176.8 L636.4,178.2 L636.0,179.7 L635.7,181.9 L635.1,183.1 L634.5,184.1 L633.4,185.3 L632.1,187.3 L631.9,189.2 L632.4,191.1 L632.7,193.0 L632.9,194.6 L632.9,196.7 L632.6,198.6 L632.7,200.5 L631.7,202.2 L631.6,204.1 L630.8,205.7 L629.4,207.2 L630.3,208.5 L631.0,209.3 L631.3,211.3 L631.4,212.3 L632.7,213.8 L631.9,215.2 L632.2,216.9 L632.1,218.0 L631.8,219.9 L633.0,221.4 L633.2,223.5 L633.9,224.4 L634.5,225.3 L635.3,226.8 L635.3,229.0 L636.3,229.8 L638.0,231.1 L639.5,230.1 L640.9,229.4 L639.4,230.6 L639.7,232.3 L638.4,232.9 L637.6,233.6 L637.2,235.2 L637.9,236.2 L639.1,237.2 L639.5,238.6 L641.4,240.1 L640.5,241.7 L640.0,243.0 L641.3,244.7 L642.3,245.7 L642.4,247.1 L643.6,248.2 L644.1,250.3 L645.4,251.2 L646.0,252.6 L647.3,254.9 L647.1,256.7 L647.3,258.0 L646.7,259.5 L647.8,261.0 L649.1,261.7 L650.7,260.9 L651.9,261.5 L653.0,262.0 L654.6,263.5 L655.9,264.5 L657.0,265.1 L658.9,266.1 L661.0,266.0 L661.5,268.4 L663.3,268.4 L664.2,269.6 L665.6,270.8 L666.2,271.7 L667.5,272.8 L667.4,274.1 L669.6,275.6 L668.9,276.8 L670.2,278.1 L669.6,279.6 M820.5,370.1 L820.8,369.0 L820.4,367.0 L819.6,365.7 L819.1,364.0 L819.5,362.9 L819.4,361.4 L819.7,359.9 L819.2,358.7 L818.4,357.4 L818.2,355.4 L818.2,353.9 L817.8,352.7 L817.3,351.5 L817.5,349.6 L817.8,348.3 L817.9,346.9 L817.5,345.1 L817.5,343.9 L817.5,342.4 L818.8,341.1 L818.6,339.8 L819.5,338.9 L818.9,336.7 L818.6,335.3 L820.3,333.8 L819.6,332.5 L820.0,330.7 L819.9,329.3 L819.2,328.4 L818.6,326.7 L818.9,325.3 L818.5,323.7 L817.9,322.8 L817.5,321.1 L816.9,319.4 L817.1,317.8 L816.8,316.7 L817.4,315.0 L818.7,313.9 L818.4,312.8 L819.9,311.1 L821.4,309.9 L822.6,308.9 L824.0,308.6 L824.6,306.9 L826.1,306.2 L827.1,305.9 L827.9,304.7 L828.9,304.1 L830.1,302.9 L831.2,301.8 L832.2,300.1 L833.2,298.9 L835.2,297.2 L836.6,297.1 L838.6,295.9 L839.7,294.7 L841.6,293.9 L843.2,293.6 L844.4,293.2 L845.8,293.0 L848.0,294.2 L849.1,293.7 L851.2,293.6 L852.8,293.0 L855.2,293.4 L856.2,293.4 L858.3,293.9 L859.2,294.3 L861.2,294.1 L862.6,295.7 L863.8,294.3 L865.4,295.3 L867.0,294.3 L868.4,292.8 L869.5,291.9 L870.8,292.5 L872.3,292.5 L873.9,294.0 L875.7,293.2 L876.4,291.2 L875.5,290.3 L874.1,289.4 L872.8,289.4 L871.5,288.2 L870.6,286.4 L871.8,285.7 L872.4,284.6 L870.0,284.0 L871.9,282.3 L873.0,281.9 L874.6,280.9 L876.3,281.1 L878.4,280.4 L880.6,279.9 L879.4,278.5 L880.5,276.7 L881.6,278.8 L882.5,279.8 L883.6,279.3 L885.4,279.0 L887.1,278.1 L888.7,278.7 L889.3,277.2 L891.0,276.2 L892.0,276.3 L893.8,276.1 L895.9,276.2 L897.7,276.5 L898.5,277.0 L900.0,277.9 L900.9,279.2 L902.1,280.0 L903.6,279.4 L904.8,279.8 L906.4,279.3 L906.2,277.6 L907.8,276.7 L908.7,275.6 L909.8,274.5 L910.9,273.5 L913.0,273.2 L914.3,274.3 L915.4,275.4 L916.9,276.5 L917.8,277.2 L919.2,278.3 L920.5,279.5 L922.4,279.6 L923.4,280.5 L924.0,282.2 L925.0,283.9 L925.3,285.4 L925.1,286.9 L925.0,287.9 L925.1,289.4 L926.4,290.4 L927.6,291.9 L928.3,293.3 L929.8,294.4 L930.4,295.6 L931.4,296.5 L933.2,296.9 L933.8,298.3 L935.3,299.3 L936.9,300.1 L937.8,301.5 L938.4,303.4 L939.8,303.5 L941.0,303.7 L942.4,304.0 L943.4,304.9 L943.7,306.0 L944.5,307.5 L945.5,308.2 L947.1,308.3 L948.7,307.6 L949.7,306.9 L951.3,306.2 L951.3,303.8 L951.8,302.7 L951.6,300.4 L951.1,299.1 L951.4,297.5 L950.3,296.6 L950.0,294.8 L950.0,293.3 L949.2,291.8 L948.3,290.1 L947.2,289.3 L947.0,287.8 L945.3,286.5 L944.7,285.7 L944.1,284.4 L943.4,283.3 L941.9,281.7 L942.3,280.7 L940.5,279.6 L939.3,278.1 L938.2,278.0 L937.5,276.9 L937.3,275.4 L936.1,274.5 L934.2,274.0 L934.3,272.4 L933.2,271.2 L933.2,269.4 L931.4,269.1 L930.7,268.0 L929.7,266.2 L928.8,264.9 L927.7,264.3 L927.6,262.4 L926.2,260.8 L926.8,259.1 L926.8,257.8 L926.5,256.4 L926.4,255.0 L926.9,253.5 L927.2,251.4 L927.8,250.1 L928.5,249.1 L929.1,247.2 L929.9,246.4 L931.0,245.0 L932.2,243.4 L932.6,242.1 L932.7,240.6 L933.3,238.9 L934.4,238.2 L935.4,236.8 L935.3,235.2 L935.8,234.2 L936.2,232.8 L937.3,232.0 L937.3,229.4 L938.2,229.0 L939.3,228.4 L940.5,227.6 L941.9,227.4 L942.4,225.9 L942.0,224.8 L942.8,223.8 L942.6,222.0 L944.6,221.3 L944.4,220.0 L945.7,218.8 L946.6,217.9 L947.9,217.1 L949.4,217.4 L949.2,216.0 L950.4,214.9 L951.3,213.3 L951.3,212.3 L953.0,211.3 L953.7,209.3 L953.0,208.1 L952.8,206.3 L951.5,205.6 L951.0,204.1 L949.9,203.2 L948.9,202.3 L947.9,201.3 L946.8,199.8 L946.3,197.8 L944.7,197.2 L942.7,197.9 L941.5,197.3 L940.7,195.9 L940.3,194.5 L940.6,193.1 L940.1,191.0 L938.8,190.0 L937.0,189.0 L935.4,188.7 L933.8,188.9 L935.3,188.9 L936.7,188.6 L935.8,187.2 L936.6,185.7 L936.6,184.1 L934.6,183.2 L934.2,182.0 L934.1,180.6 L933.9,178.8 L935.4,178.1 L935.5,176.7 L935.4,178.1 L935.8,179.8 L936.4,181.1 L936.3,182.9 L936.4,184.2 L937.2,185.5 L938.5,186.5 L940.6,187.3 L941.8,188.7 L943.1,189.5 L943.6,190.8 L943.7,192.2 L943.9,194.1 L944.3,195.5 L944.1,193.9 L945.3,192.4 L945.0,191.1 L945.6,189.7 L945.0,188.2 L945.2,186.6 L945.5,184.6 L945.9,183.4 L945.2,182.3 L945.1,181.0 L943.6,179.7 L942.4,178.8 L941.2,176.9 L939.9,176.6 L938.6,175.9 L937.9,174.6 L938.7,175.7 L939.9,176.1 L941.3,175.7 L942.7,176.2 L944.3,178.1 L945.0,177.1 L945.5,175.6 L945.8,173.9 L945.6,172.9 L945.5,171.3 L946.1,169.3 L945.9,168.1 L944.8,166.7 L944.9,165.5 L944.2,163.9 L942.3,162.9 L943.1,161.6 L944.0,159.6 L944.0,158.2 L945.3,156.5 L946.6,155.4 L947.9,155.2 L949.6,153.7 L950.3,152.4 L951.2,151.1 L953.3,150.3 L955.1,148.8 L954.5,146.3 L956.3,146.9 L957.4,146.3 L958.2,145.1 L958.6,143.6 L959.4,145.0 L960.6,143.9 L961.4,142.8 L962.6,141.9 L962.2,140.6 L960.8,138.8 L959.6,139.3 L960.7,140.5 L961.7,141.1 L959.6,141.2 L959.1,142.5 L957.3,141.3 L955.4,139.9 L953.9,139.7 L953.9,137.7 L954.9,136.2 L952.8,135.1 L952.5,133.3 L952.5,132.0 L952.1,130.6 L953.7,129.0 L952.8,127.3 L953.6,126.4 L954.3,124.9 L955.6,123.9 L956.4,122.1 L956.3,120.6 L956.7,118.4 L956.7,116.4 L958.1,116.6 L959.4,117.3 L960.6,115.6 L960.7,113.8 L962.3,112.4 L963.2,111.4 L964.5,110.0 L965.0,108.1 L963.8,107.7 L963.2,106.2 L964.4,104.6 L966.1,104.3 L966.6,102.6 L967.7,101.7 L968.5,100.9 L968.8,99.3 L969.3,97.9 L969.6,96.3 L970.9,94.9 L971.7,93.7 L972.7,91.9 L972.3,93.4 L973.2,95.4 L973.2,97.0 L972.5,97.8 L972.1,99.9 L971.8,101.3 L972.8,103.1 L972.2,104.5 L971.4,106.0 L972.9,108.0 L971.5,109.2 L972.9,109.7 L973.5,110.9 L974.2,112.8 L975.4,112.2 L977.1,112.7 L978.6,113.1 L978.9,112.0 L979.9,110.2 L980.6,109.1 L981.2,107.8 L981.3,106.3 L981.9,104.9 L981.2,103.9 L981.5,102.5 L983.1,100.9 L983.4,100.2 L983.7,97.8 L983.9,97.3 L985.5,95.8 L986.0,94.6 L987.2,93.8 L988.0,92.5 L988.5,91.2 L988.9,90.4 L989.8,89.0 M987.0,69.8 L986.4,71.2 L986.6,72.3 L986.5,74.2 L987.0,75.1 L987.4,76.6 L987.3,77.9 L987.6,79.4 L987.5,80.7 L986.5,80.5 L985.9,82.4 L984.6,82.8 L982.8,83.2 L982.0,84.1 L980.6,84.7 L979.5,85.5 L978.2,86.0 L976.9,86.4 L975.8,86.7 L974.0,88.3 L972.8,89.0 L970.9,89.4 L970.3,88.4 L969.5,87.0 L968.0,85.7 L966.2,85.6 L965.2,84.7 L964.4,83.0 L962.0,84.1 L962.1,82.7 L961.1,81.7 L959.5,81.2 L957.7,81.2 L956.0,81.4 L954.3,82.4 L952.6,82.6 L952.9,80.8 L954.0,79.5 L954.8,78.4 L956.7,78.1 L956.5,76.1 L957.6,75.2 L958.9,74.5 L959.8,73.4 L959.6,72.1 L959.4,70.3 L958.9,69.2 L957.6,69.5 L955.8,69.2 L954.9,68.7 L953.4,69.3 L952.5,70.0 L951.5,71.6 L949.7,72.0 L949.3,72.9 L947.8,73.8 L946.8,74.9 L945.7,76.1 L944.6,77.3 L943.8,78.3 L943.2,79.9 L942.2,80.8 L941.7,82.7 L941.3,83.2 L940.0,84.6 L940.2,85.9 L939.2,87.1 L939.3,88.3 L939.3,90.2 L938.9,90.9 L938.4,92.7 L937.9,93.5 L937.2,94.8 L937.4,96.7 L936.8,97.6 L936.9,99.7 L936.0,100.7 L936.3,102.2 L934.9,103.8 L935.0,104.8 L933.9,106.4 L932.6,107.7 L931.9,109.3 L930.6,110.2 L929.7,111.1 L929.5,113.2 L928.7,114.2 L928.9,115.9 L927.3,116.4 L926.7,118.2 L926.7,119.8 L926.3,121.4 L925.5,122.6 L925.4,124.8 L923.9,126.0 L923.4,127.7 L922.6,130.1 L921.0,130.9 L920.6,132.0 L919.9,133.0 L920.3,134.4 L919.4,135.9 L918.1,136.6 L917.8,138.6 L917.2,139.6 L915.9,140.9 M916.5,140.2 L916.6,138.0 L917.8,137.2 L918.6,135.5 L919.4,134.9 L918.8,132.3 L920.0,131.8 L920.7,130.7 L922.3,129.7 L923.1,128.4 L923.2,127.0 L924.1,125.7 L924.4,124.3 L925.2,123.1 L925.2,121.4 L925.7,120.2 L926.5,118.5 L926.8,117.2 L927.4,115.8 L927.8,113.9 L928.8,113.2 L928.8,111.5 L929.7,110.3 L930.7,109.2 L931.8,108.5 L932.5,106.9 L934.0,105.3 L935.1,104.1 L934.1,102.1 L935.3,100.6 L936.1,98.8 L936.1,97.9 L935.5,95.8 L935.3,94.8 L935.8,93.2 L935.6,91.8 L935.3,90.5 L936.7,88.7 L936.6,87.1 L936.6,85.6 L937.6,84.0 L937.4,82.8 L937.5,80.9 L938.4,79.9 L938.8,78.9 L939.9,77.6 L941.4,76.7 L941.7,75.6 L941.4,74.3 L941.6,72.9 L941.7,71.0 L941.8,70.0 L941.2,67.8 L941.8,66.6 L942.6,65.2 L944.0,65.2 L944.5,63.6 L945.5,62.8 L946.7,62.4 L947.8,61.4 L948.8,60.5 L949.7,59.3 L950.7,58.9 L952.2,58.0 L952.9,57.3 L955.0,56.6 L956.0,55.8 L956.9,54.8" fill="none" stroke="#000" stroke-width="1.7" stroke-linejoin="round" stroke-linecap="round"/>
<path d="M647.6,143.0 L645.9,143.4 L645.1,141.9 L642.4,143.0 L642.3,142.7 L641.3,140.6 L639.8,139.5 L639.1,138.0 L638.1,137.4 L636.8,136.5 L635.3,135.7 L634.9,133.7 L634.4,132.2 L633.4,131.0 L631.9,129.7 L630.6,128.7 L629.8,127.0 L628.8,125.1 L628.2,124.5 L627.1,123.3 L625.5,122.3 L625.3,120.4 L624.9,117.9 L626.1,118.6 L628.1,118.1 L629.6,119.2 L630.4,119.8 L631.7,121.1 L632.4,122.6 L634.3,123.3 L634.5,124.2 L636.4,124.3 L637.9,124.9 L638.0,125.5 L639.6,127.1 L639.0,128.9 L639.7,129.8 L640.9,131.6 L641.0,133.3 L642.7,133.2 L644.1,134.8 L645.3,136.1 L646.4,137.7 L647.2,139.2 L647.5,140.5 L647.6,143.0" fill="none" stroke="#000" stroke-width="2.4" stroke-linejoin="round" stroke-linecap="round"/>
<path d="M614.5,104.4 L613.5,102.6 L612.7,102.3 L612.0,100.2 L611.4,98.4 L612.1,96.5 L608.9,96.2 L610.1,94.3 L611.2,92.6 L608.9,91.4 L608.6,89.9 L608.8,88.6 L609.3,86.4 L609.9,86.1 L609.8,84.1 L611.1,85.6 L612.3,84.9 L614.9,84.5 L614.5,86.9 L615.2,87.6 L615.0,90.6 L615.5,92.9 L613.0,93.5 L612.3,95.0 L612.7,95.9 L613.2,97.9 L614.9,99.4 L613.3,100.6 L612.6,101.6 L614.8,103.6 L614.5,104.4 M802.4,136.2 L803.1,135.0 L804.5,133.2 L803.0,132.0 L802.8,130.1 L802.9,131.8 L800.5,132.3 L800.3,133.8 L800.2,134.9 L802.4,136.2" fill="none" stroke="#000" stroke-width="3.0" stroke-linejoin="round" stroke-linecap="round"/>
<path d="M669.6,279.6 L669.3,281.3 L669.7,282.7 L670.8,284.2 L671.5,285.5 L672.4,286.8 L673.5,288.2 L673.1,290.0 L674.1,291.7 L674.5,293.0 L675.5,294.0 L675.9,295.6 L676.4,297.4 L676.3,299.0 L677.5,300.1 L677.6,301.7 L676.7,303.1 L678.1,304.3 L679.7,304.8 L680.8,306.0 L682.2,306.1 L683.5,307.2 L684.1,308.7 L685.8,309.7 L685.9,311.2 L686.1,312.5 L687.1,313.7 L687.6,314.6 L687.7,315.9 L688.2,317.2 L689.0,318.6 L687.7,320.7 L686.3,320.7 L685.1,319.9 L683.6,321.1 L682.0,320.4 L683.3,321.0 L684.0,322.7 L684.5,323.8 L686.0,324.5 L686.6,326.7 L688.0,326.4 L689.3,327.9 L690.4,329.0 L692.1,328.6 L692.9,329.9 L694.5,330.8 L695.7,330.9 L697.1,332.0 L698.3,333.0 L699.5,334.5 L700.1,335.8 L700.7,336.4 L701.0,337.9 L702.1,339.5 L702.4,340.2 L703.2,341.5 L703.8,343.3 L703.3,344.7 L703.0,346.1 L703.4,347.6 L704.4,348.3 L706.1,348.2 L706.6,350.2 L707.7,351.2 L708.6,352.3 L709.8,353.4 L711.0,354.0 L712.5,355.0 L713.0,356.4 L714.0,357.3 L714.6,358.9 L715.9,359.5 L717.2,360.1 L717.4,361.2 L718.1,362.7 L719.5,363.5 L720.7,364.6 L721.9,363.9 L722.8,362.6 L723.9,361.4 L723.6,360.4 L724.7,359.1 L723.8,357.8 L723.1,356.9 L722.8,355.9 L721.5,354.3 L719.9,354.0 L718.0,353.0 L716.8,351.7 L715.2,350.4 L714.6,349.1 L714.4,347.5 L714.8,346.1 L713.9,345.1 L713.0,343.7 L712.4,342.5 L712.0,341.4 L711.1,340.1 L710.2,339.1 L710.2,337.4 L709.9,335.6 L708.7,334.5 L708.8,333.0 L707.3,332.2 L706.1,331.2 L705.8,329.7 L705.0,328.6 L704.8,327.4 L703.2,326.0 L702.4,324.3 L701.5,323.2 L700.2,322.0 L699.5,320.8 L699.9,319.8 L698.4,318.3 L698.1,317.2 L697.1,316.3 L697.1,314.7 L696.0,313.1 L695.0,312.4 L693.8,311.1 L693.1,310.0 L692.5,308.6 L691.3,307.7 L690.3,306.6 L690.6,305.2 L689.3,304.1 L688.8,303.0 L688.0,301.5 L686.8,300.7 L686.2,299.7 L686.0,298.3 L685.9,296.7 L686.0,295.2 L686.1,293.7 L685.6,292.2 L686.0,290.8 L685.3,289.4 L685.8,286.9 L687.2,287.4 L688.8,287.4 L689.5,288.8 L691.2,288.4 L692.2,289.3 L692.7,290.3 L694.3,290.7 L695.8,291.0 L697.0,291.5 L697.8,292.5 L697.4,294.0 L698.3,295.0 L698.1,296.8 L699.0,297.7 L698.8,299.9 L700.1,301.1 L701.0,302.1 L701.7,303.6 L702.6,305.3 L702.8,306.4 L703.2,308.0 L703.5,309.6 L703.4,310.6 L704.3,311.9 L705.2,313.2 L706.1,314.5 L707.4,315.0 L708.3,316.7 L709.2,317.6 L710.2,319.1 L711.9,319.3 L712.8,320.6 L714.3,320.8 L715.8,321.5 L715.6,322.8 L717.0,324.6 L716.5,326.2 L718.1,326.9 L719.5,327.8 L721.1,328.4 L721.9,329.5 L723.3,330.3 L724.6,331.4 L725.3,332.7 L724.9,333.6 L725.9,335.2 L725.8,336.5 L725.1,337.6 L725.4,338.9 L725.0,340.4 L726.3,342.1 L728.1,342.2 L729.7,342.5 L730.8,343.6 L732.3,343.9 L733.3,344.7 L734.1,346.1 L734.9,346.8 L735.3,348.5 L736.1,349.4 L737.0,350.2 L738.1,351.0 L738.8,352.6 L740.2,352.7 L741.1,354.2 L742.9,354.8 L743.5,356.5 L745.1,357.0 L746.2,358.2 L747.2,359.1 L748.0,359.8 L748.8,361.2 L749.6,362.4 L750.1,363.7 L751.4,364.1 L752.8,364.5 L753.5,366.2 L753.8,367.4 L754.3,369.3 L755.4,370.4 L755.7,371.4 M703.5,313.6 L702.3,312.3 L701.3,311.4 L702.1,309.7 L703.9,311.0 L703.5,313.6 M697.2,311.3 L696.2,310.1 L695.2,309.2 L694.7,308.1 L694.0,306.9 L695.1,306.9 L695.9,308.4 L697.1,309.6 L697.9,310.9 L697.2,311.3 M943.5,162.3 L944.8,161.7 L945.8,160.7 L946.8,160.5 L947.8,159.3 L949.0,158.6 L949.9,157.1 L951.0,156.0 L952.3,154.9 L953.4,153.6 L954.2,152.3 L952.4,152.9 L951.5,153.4 L950.3,155.2 L949.2,156.1 L948.2,157.1 L946.9,157.4 L945.0,158.3 L944.0,159.6 L944.0,161.0 L943.5,162.3 M969.2,85.7 L970.6,85.2 L972.4,85.2 L973.4,85.4 L974.9,85.2 L975.8,84.8 L977.5,85.1 L978.8,85.4 L980.0,85.1 L979.9,83.4 L980.6,82.1 L981.9,81.3 L981.9,80.2 L982.1,78.6 L980.3,78.7 L979.6,79.8 L978.6,80.9 L977.2,81.9 L975.9,82.6 L974.4,82.3 L973.3,82.1 L971.6,82.1 L970.4,82.1 L969.4,81.8 L970.0,83.0 L969.1,84.4 L969.2,85.7 M952.4,63.0 L954.4,63.9 L955.0,62.3 L957.0,62.6 L958.2,62.9 L959.4,62.0 L960.7,61.4 L962.5,62.2 L963.9,61.7 L964.8,60.5 L966.5,60.8 L967.6,59.6 L968.8,59.1 L967.3,58.6 L965.9,58.7 L964.5,58.3 L962.9,58.0 L961.2,58.3 L959.8,59.1 L958.5,59.5 L957.6,60.4 L956.1,60.3 L955.2,61.9 L953.6,62.3 L952.4,63.0 M939.0,341.5 L939.9,340.8 L941.7,340.8 L943.0,340.3 L944.0,341.9 L944.9,343.5 L943.3,343.2 L942.1,344.5 L940.8,344.7 L939.3,343.3 L939.0,341.5 M973.8,299.6 L975.8,299.3 L975.5,298.5 L973.8,299.6 M821.2,151.2 L822.5,151.3 L823.5,149.9 L824.8,149.9 L826.0,149.2 L827.7,147.9 L828.5,148.9 L829.7,149.9 L830.9,150.0 L832.1,148.6 L833.7,147.8 L834.9,147.0 L835.8,145.7 L836.6,145.4 L837.9,143.8 L838.0,142.3 L839.5,141.4 L840.2,140.5 L841.7,139.9 L843.5,138.9 L842.6,140.2 L841.7,141.8 L841.0,144.2 L842.4,144.2 L843.8,143.9 L845.3,143.8 L846.2,144.8 L847.8,145.9 L848.7,145.3 L850.6,146.3 L852.1,145.2 L852.7,144.2 L853.9,143.2 L855.1,142.3 L856.6,141.9 L857.7,141.2 L859.2,140.2 L860.3,139.7 L861.1,141.8 L862.4,141.6 L863.7,141.4 L864.2,140.3 L862.5,139.6 L862.2,137.9 L861.3,136.1 L860.5,134.9 L858.8,134.6 L858.6,132.9 L857.5,131.7 L856.6,130.5 L855.1,131.1 L853.6,130.9 L852.2,131.5 L851.1,130.4 L850.1,129.1 L849.2,128.3 L848.2,126.6 L847.2,126.2 L845.8,126.9 L844.3,127.0 L843.1,127.2 L841.7,127.3 L840.2,128.0 L838.8,127.1 L837.5,127.7 L837.8,129.0 L838.1,130.6 L836.6,131.5 L836.1,132.8 L835.6,134.0 L833.3,133.8 L833.1,135.8 L832.5,137.5 L831.5,138.7 L830.6,139.7 L830.0,140.9 L828.9,141.9 L828.3,142.7 L827.7,144.2 L826.7,145.1 L826.3,146.9 L824.9,147.5 L824.1,148.8 L822.7,150.3 L821.2,151.2 M834.8,138.1 L835.9,136.7 L836.7,136.1 L837.9,134.6 L836.8,135.0 L835.6,135.9 L834.5,137.3 L834.8,138.1 M859.6,185.6 L858.6,184.8 L857.7,183.6 L856.9,182.3 L855.8,181.5 L855.1,180.3 L854.5,178.4 L854.3,176.7 L853.8,174.7 L852.9,173.6 L852.3,172.0 L852.7,170.5 L852.8,168.8 L852.8,167.6 L852.7,166.3 L852.9,164.8 L852.9,163.2 L853.3,162.1 L852.1,160.7 L852.4,159.2 L852.5,157.1 L853.2,155.5 L852.8,156.9 L852.4,158.1 L851.2,159.2 L850.4,160.6 L850.2,161.8 L849.4,162.8 L849.1,162.9 L848.5,161.7 L849.3,160.3 L850.0,158.9 L850.1,157.7 L849.9,155.9 L850.5,154.2 L851.4,153.1 L851.6,151.6 L852.9,150.4 L854.3,149.4 L855.8,148.6 L857.5,147.8 L858.9,147.4 L860.0,146.9 L861.1,146.3 L862.3,145.4 L864.3,146.7 L863.1,148.7 L864.2,151.1 L862.1,151.0 L861.5,153.3 L862.1,155.1 L862.3,156.6 L860.8,157.0 L859.7,158.3 L860.4,159.6 L859.7,161.4 L860.0,162.6 L859.6,164.3 L859.4,165.5 L859.6,167.1 L860.7,168.6 L861.4,170.1 L861.8,171.3 L863.1,172.3 L863.9,174.0 L863.3,175.6 L864.3,177.2 L863.4,179.0 L864.1,180.0 L863.8,181.8 L863.1,183.2 L861.9,184.4 L859.6,185.6 M864.3,146.7 L865.4,147.1 L867.3,147.3 L868.9,148.5 L869.6,147.3 L871.4,147.8 L872.6,148.1 L873.4,149.7 L874.8,150.5 L875.1,151.4 L875.3,153.4 L875.9,154.6 L876.0,155.9 L876.0,157.2 L876.0,158.6 L875.9,160.4 L874.9,161.7 L877.2,160.9 L877.5,159.2 L878.2,158.3 L879.2,157.5 L880.8,157.6 L882.1,158.2 L882.9,159.5 L883.5,160.2 L884.1,161.7 L885.2,162.6 L885.3,164.3 L885.9,162.6 L887.4,161.8 L888.6,160.8 L889.2,159.1 L887.9,158.0 L887.3,157.0 L887.2,155.3 L886.5,154.3 L885.6,152.5 L886.8,151.2 L887.2,149.4 L887.0,147.8 L886.1,146.3 L885.1,144.8 L886.9,145.4 L888.3,146.3 L889.9,146.4 L891.3,146.6 L893.0,147.8 L894.5,147.9 L894.2,146.2 L894.9,144.1 L894.6,142.4 L892.3,142.1 L891.6,140.8 L890.2,140.4 L888.9,139.0 L887.3,138.6 L886.2,137.9 L884.8,138.3 L883.3,138.5 L881.8,138.8 L880.2,138.8 L878.8,139.6 L877.5,139.7 L875.8,139.7 L874.2,140.1 L872.7,140.3 L871.4,140.1 L870.0,140.9 L868.5,141.6 L866.6,141.7 L867.3,143.0 L868.0,143.9 L866.6,143.9 L865.3,145.3 L864.3,146.7 M872.7,143.1 L874.4,143.5 L875.7,144.1 L877.2,143.3 L878.3,143.2 L879.8,142.8 L881.5,143.0 L880.4,141.9 L879.7,140.0 L878.7,141.0 L877.0,141.0 L875.9,141.5 L874.2,142.4 L872.7,143.1 M884.7,170.9 L887.2,170.4 L886.8,168.3 L885.0,168.0 L885.1,169.6 L884.7,170.9 M789.3,126.8 L791.4,126.3 L791.6,124.3 L790.8,122.8 L791.0,121.2 L791.0,119.7 L790.1,119.1 L788.7,117.6 L788.0,116.5 L787.4,115.0 L786.1,114.2 L786.1,113.0 L785.5,111.6 L785.4,110.1 L784.3,108.7 L783.6,107.6 L783.1,106.1 L782.7,104.8 L781.0,103.7 L780.8,103.0 L779.2,102.4 L778.2,102.3 L776.2,101.5 L774.9,100.6 L774.2,102.0 L773.5,103.7 L773.6,105.0 L774.4,106.3 L775.8,106.9 L777.0,107.8 L778.2,109.4 L778.8,110.3 L778.5,111.5 L779.4,113.3 L780.5,114.3 L781.9,114.7 L783.4,115.2 L784.9,115.8 L785.4,117.6 L785.8,118.4 L787.3,119.6 L787.1,121.5 L787.7,123.0 L788.4,124.4 L789.3,126.8 M941.8,290.9 L944.2,291.6 L944.1,293.9 L941.6,293.9 L941.9,292.7 L941.8,290.9 M864.1,285.2 L866.6,285.9 L868.5,284.2 L866.0,283.4 L864.1,285.2 M921.0,97.7 L922.2,97.0 L923.5,96.2 L924.1,95.0 L922.5,93.4 L921.2,94.0 L919.8,94.4 L920.2,96.2 L921.0,97.7 M934.8,136.5 L934.5,135.1 L933.4,133.9 L932.8,132.5 L932.6,130.8 L932.3,129.8 L931.0,128.5 L930.7,127.4 L930.2,126.2" fill="none" stroke="#000" stroke-width="1.5" stroke-linejoin="round" stroke-linecap="round"/>
<path d="M924.1,346.2 L925.5,345.9 L926.2,344.0 L928.0,344.5 L929.0,343.4 L930.4,341.9 L931.7,340.7 L932.9,339.6 L932.0,337.9 L932.9,337.0 L933.9,335.6 L934.1,333.9 L935.8,333.2 L937.3,331.8 L938.5,331.2 L939.4,330.3 L941.1,329.7 L941.8,329.1 L943.5,328.4 L944.3,327.5 L945.8,328.2 L946.8,327.0 L948.1,325.8 L949.4,326.7 L950.8,325.9 L952.2,325.4 L954.1,326.1 L955.9,325.2 L957.0,325.4 L958.3,325.1 L959.8,323.8 L961.1,324.9 L961.9,325.5 L963.9,325.8 L965.5,325.8 L967.1,326.0 L968.2,327.3 L969.4,327.7 L971.3,326.6 L972.2,326.5 L973.7,325.6 L975.2,325.6 L976.5,325.4 L978.3,325.1 L979.4,325.9 L980.3,326.0 L981.7,326.4 L983.3,327.0 L984.5,327.4 L985.8,328.3 L987.3,327.8 L989.0,328.7 L990.2,328.5 L991.8,328.7 L992.2,329.7 L994.5,329.7 M924.1,346.2 L925.3,345.9 L926.3,344.2 L928.0,344.8 L929.4,343.6 L930.4,344.1 L931.7,343.6 L933.4,343.2 L934.4,341.9 L934.8,339.8 L936.2,339.8 L937.4,339.1 L938.4,338.0 L939.1,336.0 L939.6,334.7 L941.0,334.2 L941.6,333.2 L943.3,332.9 L945.3,334.9 L946.0,332.7 L946.9,333.6 L947.5,335.1 L948.7,335.7 L950.0,334.6 L951.4,334.8 L951.8,333.6 L953.5,334.5 L955.1,333.6 L956.6,334.3 L958.1,334.7 L959.6,335.2 L961.1,335.5 L962.4,335.2 L964.1,336.7 L965.1,335.5 L966.3,334.7 L967.8,334.8 L968.9,334.8 L969.6,334.2 L971.8,333.9 L973.6,335.0 L974.4,333.1 L975.8,332.8 L977.3,332.9 M706.5,212.6 L705.6,211.3 L704.7,210.5 L704.0,209.2 L703.2,208.0 L702.3,207.1 L703.0,205.6 L704.2,205.1 L705.4,206.3 L706.6,207.2 L707.0,208.9 L707.2,210.5 L706.5,212.6" fill="none" stroke="#000" stroke-width="1.6" stroke-linejoin="round" stroke-linecap="round"/>
<path d="M970.0,300.1 L971.2,300.7 L972.5,302.5 L973.3,303.2 L974.7,304.5 L974.8,305.6 L976.1,307.0 L974.9,307.4 L974.0,308.8 L972.4,308.7 L970.8,307.5 L969.7,306.5 L969.0,304.7 L969.3,303.6 L968.9,301.9 L970.0,300.1 M958.0,290.0 L959.3,289.3 L959.9,288.6 L961.9,288.6 L963.1,288.6 L964.5,287.7 L965.8,286.6 L964.7,287.0 L963.1,287.5 L961.1,287.9 L959.4,288.7 L958.0,290.0" fill="none" stroke="#000" stroke-width="2.2" stroke-linejoin="round" stroke-linecap="round"/>
<path d="M967.4,284.1 L968.8,284.6 L970.0,285.2 L971.1,285.6 L972.5,286.0 L973.8,286.9 L974.2,288.3 L973.0,290.0 L972.9,291.7 L972.0,290.0 L971.3,288.4 L969.8,287.7 L968.5,287.0 L967.7,285.2 L966.1,285.1 L967.4,284.1" fill="none" stroke="#000" stroke-width="2.0" stroke-linejoin="round" stroke-linecap="round"/>
<path d="M883.2,177.0 L884.6,177.5 L886.3,177.4 L888.2,177.8 L889.5,176.8 L891.3,176.3 L892.6,175.7 L894.2,174.9 L894.8,173.3 L896.0,172.1 L897.0,171.1 L897.9,170.0 L899.0,169.1 L900.0,168.3 L901.3,167.4 L901.6,166.5 L902.2,165.1 L903.5,164.4 L903.7,163.1 L904.7,161.9 L905.9,160.4 L906.2,159.3 L906.6,157.7 L904.9,158.6 L903.1,159.2 L902.5,160.5 L901.5,161.2 L900.5,162.7 L899.3,163.1 L898.5,163.8 L897.0,164.5 L895.0,164.3 L893.9,165.5 L892.7,166.6 L891.7,167.8 L891.0,169.3 L890.1,170.1 L888.9,171.2 L888.4,172.7 L888.4,173.6 L886.8,173.5 L884.8,174.0 L883.9,173.4 L883.9,175.2 L883.2,177.0 M899.9,156.3 L901.2,155.4 L902.7,155.2 L904.1,155.1 L905.3,154.4 L906.8,154.2 L907.7,153.2 L908.8,152.1 L910.0,151.4 L911.6,151.3 L913.3,151.1 L914.1,150.4 L915.6,149.5 L917.1,148.9 L918.0,147.6 L919.4,146.9 L919.6,145.4 L919.1,143.6 L918.2,142.2 L917.1,141.4 L915.9,140.9 L914.8,142.4 L913.5,143.9 L911.6,144.9 L910.3,145.8 L908.7,146.4 L908.0,147.5 L906.5,147.7 L905.4,148.5 L904.3,149.8 L902.3,150.7 L901.1,152.8 L901.2,154.7 L899.9,156.3" fill="none" stroke="#000" stroke-width="1.4" stroke-linejoin="round" stroke-linecap="round"/>
<path d="M782.0,129.7 L782.1,128.0 L783.0,127.0 L780.8,125.2 L780.8,125.0 L779.5,123.4 L778.2,121.7 L778.1,121.9 L777.3,119.5 L775.1,119.0 L775.1,121.2 L777.4,121.9 L777.8,123.2 L778.9,123.7 L778.2,125.8 L779.2,127.0 L780.2,127.9 L780.7,129.4 L782.0,129.7 M773.0,118.5 L770.7,117.7 L771.1,115.7 L770.9,114.6 L769.4,112.9 L768.9,112.9 L767.3,110.9 L766.1,109.3 L765.4,107.8 L766.8,107.7 L768.5,108.2 L768.3,110.1 L769.5,111.3 L771.0,112.1 L772.6,112.5 L772.7,114.7 L773.1,116.0 L773.0,118.5 M768.3,154.2 L766.6,153.0 L765.5,154.1 L763.1,153.1 L761.5,151.7 L761.3,151.2 L759.0,151.0 M777.0,178.2 L777.7,176.2 L775.7,175.5 L775.9,174.1 L774.4,172.8 L774.2,171.5 L775.9,170.0 L776.1,168.3 L775.9,166.8 L774.3,166.0 L774.2,164.4 L773.9,162.7 M740.2,152.3 L739.1,153.1 L738.7,154.4 L736.6,153.9 L735.9,154.9 L734.5,155.0 L732.6,155.9" fill="none" stroke="#000" stroke-width="2.6" stroke-linejoin="round" stroke-linecap="round"/>
<path d="M834.9,124.6 L835.7,123.4 L837.0,122.2 L836.0,120.9 L835.2,119.4 L834.5,117.7 L833.2,116.9 L831.8,117.6 L830.5,117.2 L829.8,118.7 L830.2,119.9 L830.1,121.6 L831.7,122.6 L832.6,124.4 L834.9,124.6" fill="none" stroke="#000" stroke-width="1.8" stroke-linejoin="round" stroke-linecap="round"/>
<path d="M801.8,144.7 L803.4,144.3 L804.5,143.8 L803.2,143.2 L801.8,144.7" fill="none" stroke="#000" stroke-width="2.5" stroke-linejoin="round" stroke-linecap="round"/>
<path d="M614.0,80.6 L615.4,79.6 L617.5,82.4 L616.1,82.8 L618.8,84.5 L618.5,84.7 L622.2,85.8 L622.1,85.7 L623.7,87.1 L623.5,87.5 L623.9,90.6 L623.5,91.4 L622.3,92.8 L624.9,93.1 L628.0,94.4 L625.8,96.3 L624.3,99.4 L627.4,99.9 L625.4,100.8 L627.4,102.0 L627.9,103.4 L628.7,106.5 L629.3,106.8 L630.5,107.2 L628.1,109.5 L632.0,109.9 L629.6,112.0 L630.8,113.0 L629.5,115.7 L630.1,116.4 L631.3,117.5 L633.3,118.5 L633.1,119.7 L633.0,122.1 L637.3,121.9 L636.8,122.6 L636.7,124.4 L640.5,122.7 L640.5,125.6 L639.9,127.8 L642.6,128.5" fill="none" stroke="#000" stroke-width="4.2" stroke-linejoin="round" stroke-linecap="round"/>
<path d="M642.6,128.5 L643.6,129.5 L644.7,131.7 L645.7,132.1 L647.7,132.7 L648.5,134.7 L649.9,136.7" fill="none" stroke="#000" stroke-width="2.6" stroke-linejoin="round" stroke-linecap="round"/>
<path d="M652.6,145.1 L652.4,146.4 L651.8,148.0 L652.2,149.9 L651.1,150.8 L650.1,152.1 L649.8,153.1" fill="none" stroke="#000" stroke-width="4.5" stroke-linejoin="round" stroke-linecap="round"/>
<path d="M648.1,153.2 L649.7,152.7 L650.2,151.0" fill="none" stroke="#000" stroke-width="3.0" stroke-linejoin="round" stroke-linecap="round"/>
<path d="M942.5,197.5 L942.5,196.0 L941.0,194.7 L940.4,193.6 L940.0,193.0 L940.5,190.1 L938.3,189.7 L937.2,190.0 L936.8,186.8 L936.3,185.9 L936.5,183.5 L934.6,183.0 L934.5,181.9 L933.0,179.8 L934.6,178.0" fill="none" stroke="#000" stroke-width="3.2" stroke-linejoin="round" stroke-linecap="round"/>
<path d="M934.5,189.5 L935.9,190.3 L937.7,190.0" fill="none" stroke="#000" stroke-width="2.4" stroke-linejoin="round" stroke-linecap="round"/>
<path d="M937.0,197.0 L938.5,196.9 L940.5,197.1 L941.5,196.9" fill="none" stroke="#000" stroke-width="2.2" stroke-linejoin="round" stroke-linecap="round"/>
<path d="M947.9,202.7 L950.2,203.5 L950.9,203.9 L951.6,205.9 L952.8,206.7 L953.4,208.3 L953.6,209.4 L952.2,211.3 L951.9,211.3 L951.5,212.7 L950.1,213.8 L950.2,214.7 L949.0,216.1" fill="none" stroke="#000" stroke-width="2.6" stroke-linejoin="round" stroke-linecap="round"/>
<path d="M945.5,211.4 L947.0,210.5 L949.0,210.9 L950.3,209.9" fill="none" stroke="#000" stroke-width="2.2" stroke-linejoin="round" stroke-linecap="round"/>
<path d="M869.0,289.4 L870.4,290.2 L871.7,290.4 L872.5,291.2 L873.6,293.7 L875.2,292.8 L875.3,290.9 L873.7,291.0 L872.2,290.0" fill="none" stroke="#000" stroke-width="3.0" stroke-linejoin="round" stroke-linecap="round"/>
<path d="M864.3,286.0 L866.2,285.9 L867.9,284.8" fill="none" stroke="#000" stroke-width="2.4" stroke-linejoin="round" stroke-linecap="round"/>
<path d="M858.8,292.6 L860.3,292.2 L861.0,293.3 L863.6,292.9 L864.6,294.0" fill="none" stroke="#000" stroke-width="2.2" stroke-linejoin="round" stroke-linecap="round"/>
<path d="M952.6,126.9 L953.7,125.7 L953.9,123.0 L955.5,123.2 L957.1,121.5 L955.7,119.3 L957.0,118.2 L959.1,118.0 L960.0,115.9 L960.7,114.6 L962.2,113.5 L962.6,111.7 L962.8,110.8 L962.7,107.9 L964.4,107.5" fill="none" stroke="#000" stroke-width="2.6" stroke-linejoin="round" stroke-linecap="round"/>
<path d="M831.5,297.5 L833.5,298.4" fill="none" stroke="#000" stroke-width="3.2" stroke-linejoin="round" stroke-linecap="round"/>
<path d="M821.1,308.7 L823.0,308.6 L823.9,307.4" fill="none" stroke="#000" stroke-width="2.6" stroke-linejoin="round" stroke-linecap="round"/>
<path d="M816.7,315.9 L817.3,314.5" fill="none" stroke="#000" stroke-width="2.6" stroke-linejoin="round" stroke-linecap="round"/>
<path d="M811.6,123.0 L813.3,123.3 L814.6,121.9 L816.4,121.9 L817.9,121.9" fill="none" stroke="#000" stroke-width="2.8" stroke-linejoin="round" stroke-linecap="round"/>
<path d="M809.5,138.0 L811.5,137.4 L812.7,137.2 L814.1,136.7 L815.6,137.5" fill="none" stroke="#000" stroke-width="2.6" stroke-linejoin="round" stroke-linecap="round"/>
<path d="M881.5,113.7 L883.6,113.0" fill="none" stroke="#000" stroke-width="3.0" stroke-linejoin="round" stroke-linecap="round"/>
<path d="M795.9,95.8 L797.3,95.1" fill="none" stroke="#000" stroke-width="2.6" stroke-linejoin="round" stroke-linecap="round"/>
<path d="M769.1,98.1 L770.5,97.5" fill="none" stroke="#000" stroke-width="2.6" stroke-linejoin="round" stroke-linecap="round"/>
<path d="M889.0,133.1 L891.3,132.4" fill="none" stroke="#000" stroke-width="2.4" stroke-linejoin="round" stroke-linecap="round"/>
<path d="M897.9,146.5 L898.8,145.7" fill="none" stroke="#000" stroke-width="2.4" stroke-linejoin="round" stroke-linecap="round"/>
<path d="M697.6,153.4 L697.7,152.1" fill="none" stroke="#000" stroke-width="2.4" stroke-linejoin="round" stroke-linecap="round"/>
<path d="M885.6,169.6 L886.0,169.0" fill="none" stroke="#000" stroke-width="3.0" stroke-linejoin="round" stroke-linecap="round"/>
<path d="M872.4,144.1 L873.7,143.6 L875.0,143.9 L877.1,143.4 L878.1,142.5" fill="none" stroke="#000" stroke-width="2.2" stroke-linejoin="round" stroke-linecap="round"/>
<path d="M849.3,162.4 L850.1,160.8 L851.3,160.0 L850.9,158.4" fill="none" stroke="#000" stroke-width="2.2" stroke-linejoin="round" stroke-linecap="round"/>
<path d="M861.7,155.0 L861.8,153.2" fill="none" stroke="#000" stroke-width="2.2" stroke-linejoin="round" stroke-linecap="round"/>
<path d="M840.6,143.9 L841.5,142.6 L841.9,141.4 L842.3,139.9" fill="none" stroke="#000" stroke-width="2.2" stroke-linejoin="round" stroke-linecap="round"/>
<path d="M959.6,140.6 L961.0,139.2 L962.4,141.0" fill="none" stroke="#000" stroke-width="2.2" stroke-linejoin="round" stroke-linecap="round"/>
<path d="M966.4,83.9 L964.6,83.3 L963.1,82.5 L961.9,81.6" fill="none" stroke="#000" stroke-width="2.2" stroke-linejoin="round" stroke-linecap="round"/>
<path d="M977.0,113.0 L978.3,112.3 L978.8,110.8 L979.2,109.4 L979.8,107.6 L980.3,106.6 L979.2,104.7 L981.0,104.0" fill="none" stroke="#000" stroke-width="2.4" stroke-linejoin="round" stroke-linecap="round"/>
<path d="M641.5,156.3 L640.8,158.7" fill="none" stroke="#000" stroke-width="2.4" stroke-linejoin="round" stroke-linecap="round"/>
<path d="M639.4,230.5 L640.2,231.6 L640.4,233.1" fill="none" stroke="#000" stroke-width="2.8" stroke-linejoin="round" stroke-linecap="round"/>
<path d="M856.2,86.1 L857.0,87.9 L858.1,87.5 L859.0,88.8 L859.8,89.5 L861.2,90.4 L862.6,92.0 L864.1,91.4 L865.6,92.7 L866.6,93.7 L868.7,93.5 L870.0,95.0 L871.1,94.9 L872.2,95.2 L873.9,94.7 L873.8,93.3 L875.4,92.3 L875.6,90.7 L877.4,90.8 L876.5,89.2 L876.2,87.8 L875.8,86.0 L875.4,84.6 L876.6,83.3 L875.1,82.1 L874.6,80.9" fill="none" stroke="#000" stroke-width="1.6" stroke-linejoin="round" stroke-linecap="round"/>
<path d="M906.6,104.8 L908.0,103.4 L908.8,102.8 L910.5,102.9 L911.7,102.2" fill="none" stroke="#000" stroke-width="3.0" stroke-linejoin="round" stroke-linecap="round"/>
<path d="M887.7,122.6 L889.0,123.2 L890.3,124.2 L891.2,125.2 L892.6,125.9 L893.6,126.4 L894.2,128.0 L895.4,128.5 L896.8,128.9 L898.4,129.0 L900.0,128.8 L901.8,129.6 L903.6,129.5 L904.9,129.4 L906.2,129.8 L907.7,130.4 L909.0,129.9 L910.8,130.6 L912.5,130.2 L914.0,130.4 L915.6,129.6 L916.3,128.3 L918.0,127.7 L919.2,126.0 L920.2,124.9 L922.1,125.0 L924.6,124.7" fill="none" stroke="#000" stroke-width="1.5" stroke-linejoin="round" stroke-linecap="round"/>
<path d="M902.9,82.0 L904.4,81.9 L905.7,81.5" fill="none" stroke="#000" stroke-width="2.6" stroke-linejoin="round" stroke-linecap="round"/></g>
</g>
<rect x="603.5" y="89.5" width="387.0" height="248.0" fill="none" stroke="#000" stroke-width="1" shape-rendering="crispEdges"/>
<rect x="602.50" y="349.40" width="55.86" height="12.40" fill="#fee9df" shape-rendering="crispEdges"/>
<rect x="657.86" y="349.40" width="55.86" height="12.40" fill="#fdc6b0" shape-rendering="crispEdges"/>
<rect x="713.21" y="349.40" width="55.86" height="12.40" fill="#fc9879" shape-rendering="crispEdges"/>
<rect x="768.57" y="349.40" width="55.86" height="12.40" fill="#fb694a" shape-rendering="crispEdges"/>
<rect x="823.93" y="349.40" width="55.86" height="12.40" fill="#ea362a" shape-rendering="crispEdges"/>
<rect x="879.29" y="349.40" width="55.86" height="12.40" fill="#bf151b" shape-rendering="crispEdges"/>
<rect x="934.64" y="349.40" width="55.86" height="12.40" fill="#8a0812" shape-rendering="crispEdges"/>
<line x1="603.5" y1="362.0" x2="603.5" y2="356.6" stroke="#000" stroke-width="1" shape-rendering="crispEdges"/>
<line x1="658.5" y1="362.0" x2="658.5" y2="356.6" stroke="#000" stroke-width="1" shape-rendering="crispEdges"/>
<line x1="713.5" y1="362.0" x2="713.5" y2="356.6" stroke="#000" stroke-width="1" shape-rendering="crispEdges"/>
<line x1="769.5" y1="362.0" x2="769.5" y2="356.6" stroke="#000" stroke-width="1" shape-rendering="crispEdges"/>
<line x1="824.5" y1="362.0" x2="824.5" y2="356.6" stroke="#000" stroke-width="1" shape-rendering="crispEdges"/>
<line x1="879.5" y1="362.0" x2="879.5" y2="356.6" stroke="#000" stroke-width="1" shape-rendering="crispEdges"/>
<line x1="935.5" y1="362.0" x2="935.5" y2="356.6" stroke="#000" stroke-width="1" shape-rendering="crispEdges"/>
<line x1="990.5" y1="362.0" x2="990.5" y2="356.6" stroke="#000" stroke-width="1" shape-rendering="crispEdges"/>
<rect x="603.5" y="349.5" width="387.0" height="13.0" fill="none" stroke="#000" stroke-width="1" shape-rendering="crispEdges"/>
</g>
</svg>
<div class="tk" style="left:118.2px;top:365.5px;letter-spacing:0.0px">0</div>
<div class="tk" style="left:161.3px;top:365.5px;letter-spacing:0.0px">1</div>
<div class="tk" style="left:204.3px;top:365.5px;letter-spacing:0.0px">2</div>
<div class="tk" style="left:247.4px;top:365.5px;letter-spacing:0.0px">3</div>
<div class="tk" style="left:290.4px;top:365.5px;letter-spacing:0.0px">4</div>
<div class="tk" style="left:333.5px;top:365.5px;letter-spacing:0.0px">5</div>
<div class="tk" style="left:376.5px;top:365.5px;letter-spacing:0.0px">6</div>
<div class="tk" style="left:419.6px;top:365.5px;letter-spacing:0.0px">7</div>
<div class="tk" style="left:462.6px;top:365.5px;letter-spacing:0.0px">8</div>
<div class="tk" style="left:505.7px;top:365.5px;letter-spacing:0.0px">9</div>
<div class="ti" style="left:131.9px;top:69.5px;letter-spacing:0.706px">2011,torn spotter counts</div>
<div class="tk" style="left:583.2px;top:365.5px;letter-spacing:0.0px">0</div>
<div class="tk" style="left:647.8px;top:365.5px;letter-spacing:0.0px">1</div>
<div class="tk" style="left:712.4px;top:365.5px;letter-spacing:0.0px">2</div>
<div class="tk" style="left:777.0px;top:365.5px;letter-spacing:0.0px">3</div>
<div class="tk" style="left:841.5px;top:365.5px;letter-spacing:0.0px">4</div>
<div class="tk" style="left:906.1px;top:365.5px;letter-spacing:0.0px">5</div>
<div class="tk" style="left:970.7px;top:365.5px;letter-spacing:0.0px">6</div>
<div class="ti" style="left:596.9px;top:69.5px;letter-spacing:0.667px">2011, torn correct predictions</div>
<div class="tk" style="left:118.2px;top:714.5px;letter-spacing:0.0px">0</div>
<div class="tk" style="left:171.4px;top:714.5px;letter-spacing:0.8px">12</div>
<div class="tk" style="left:224.3px;top:714.5px;letter-spacing:0.8px">24</div>
<div class="tk" style="left:277.1px;top:714.5px;letter-spacing:0.8px">36</div>
<div class="tk" style="left:330.0px;top:714.5px;letter-spacing:0.8px">48</div>
<div class="tk" style="left:382.8px;top:714.5px;letter-spacing:0.8px">60</div>
<div class="tk" style="left:435.6px;top:714.5px;letter-spacing:0.8px">72</div>
<div class="tk" style="left:488.5px;top:714.5px;letter-spacing:0.8px">84</div>
<div class="ti" style="left:131.9px;top:418.5px;letter-spacing:0.649px">2011, torn false positive predictions</div>
<div class="tk" style="left:583.2px;top:714.5px;letter-spacing:0.0px">0</div>
<div class="tk" style="left:638.6px;top:714.5px;letter-spacing:0.0px">1</div>
<div class="tk" style="left:693.9px;top:714.5px;letter-spacing:0.0px">2</div>
<div class="tk" style="left:749.3px;top:714.5px;letter-spacing:0.0px">3</div>
<div class="tk" style="left:804.6px;top:714.5px;letter-spacing:0.0px">4</div>
<div class="tk" style="left:860.0px;top:714.5px;letter-spacing:0.0px">5</div>
<div class="tk" style="left:915.3px;top:714.5px;letter-spacing:0.0px">6</div>
<div class="tk" style="left:970.7px;top:714.5px;letter-spacing:0.0px">7</div>
<div class="ti" style="left:596.9px;top:418.5px;letter-spacing:0.667px">2011, torn false negative predictions</div>
</body></html>
